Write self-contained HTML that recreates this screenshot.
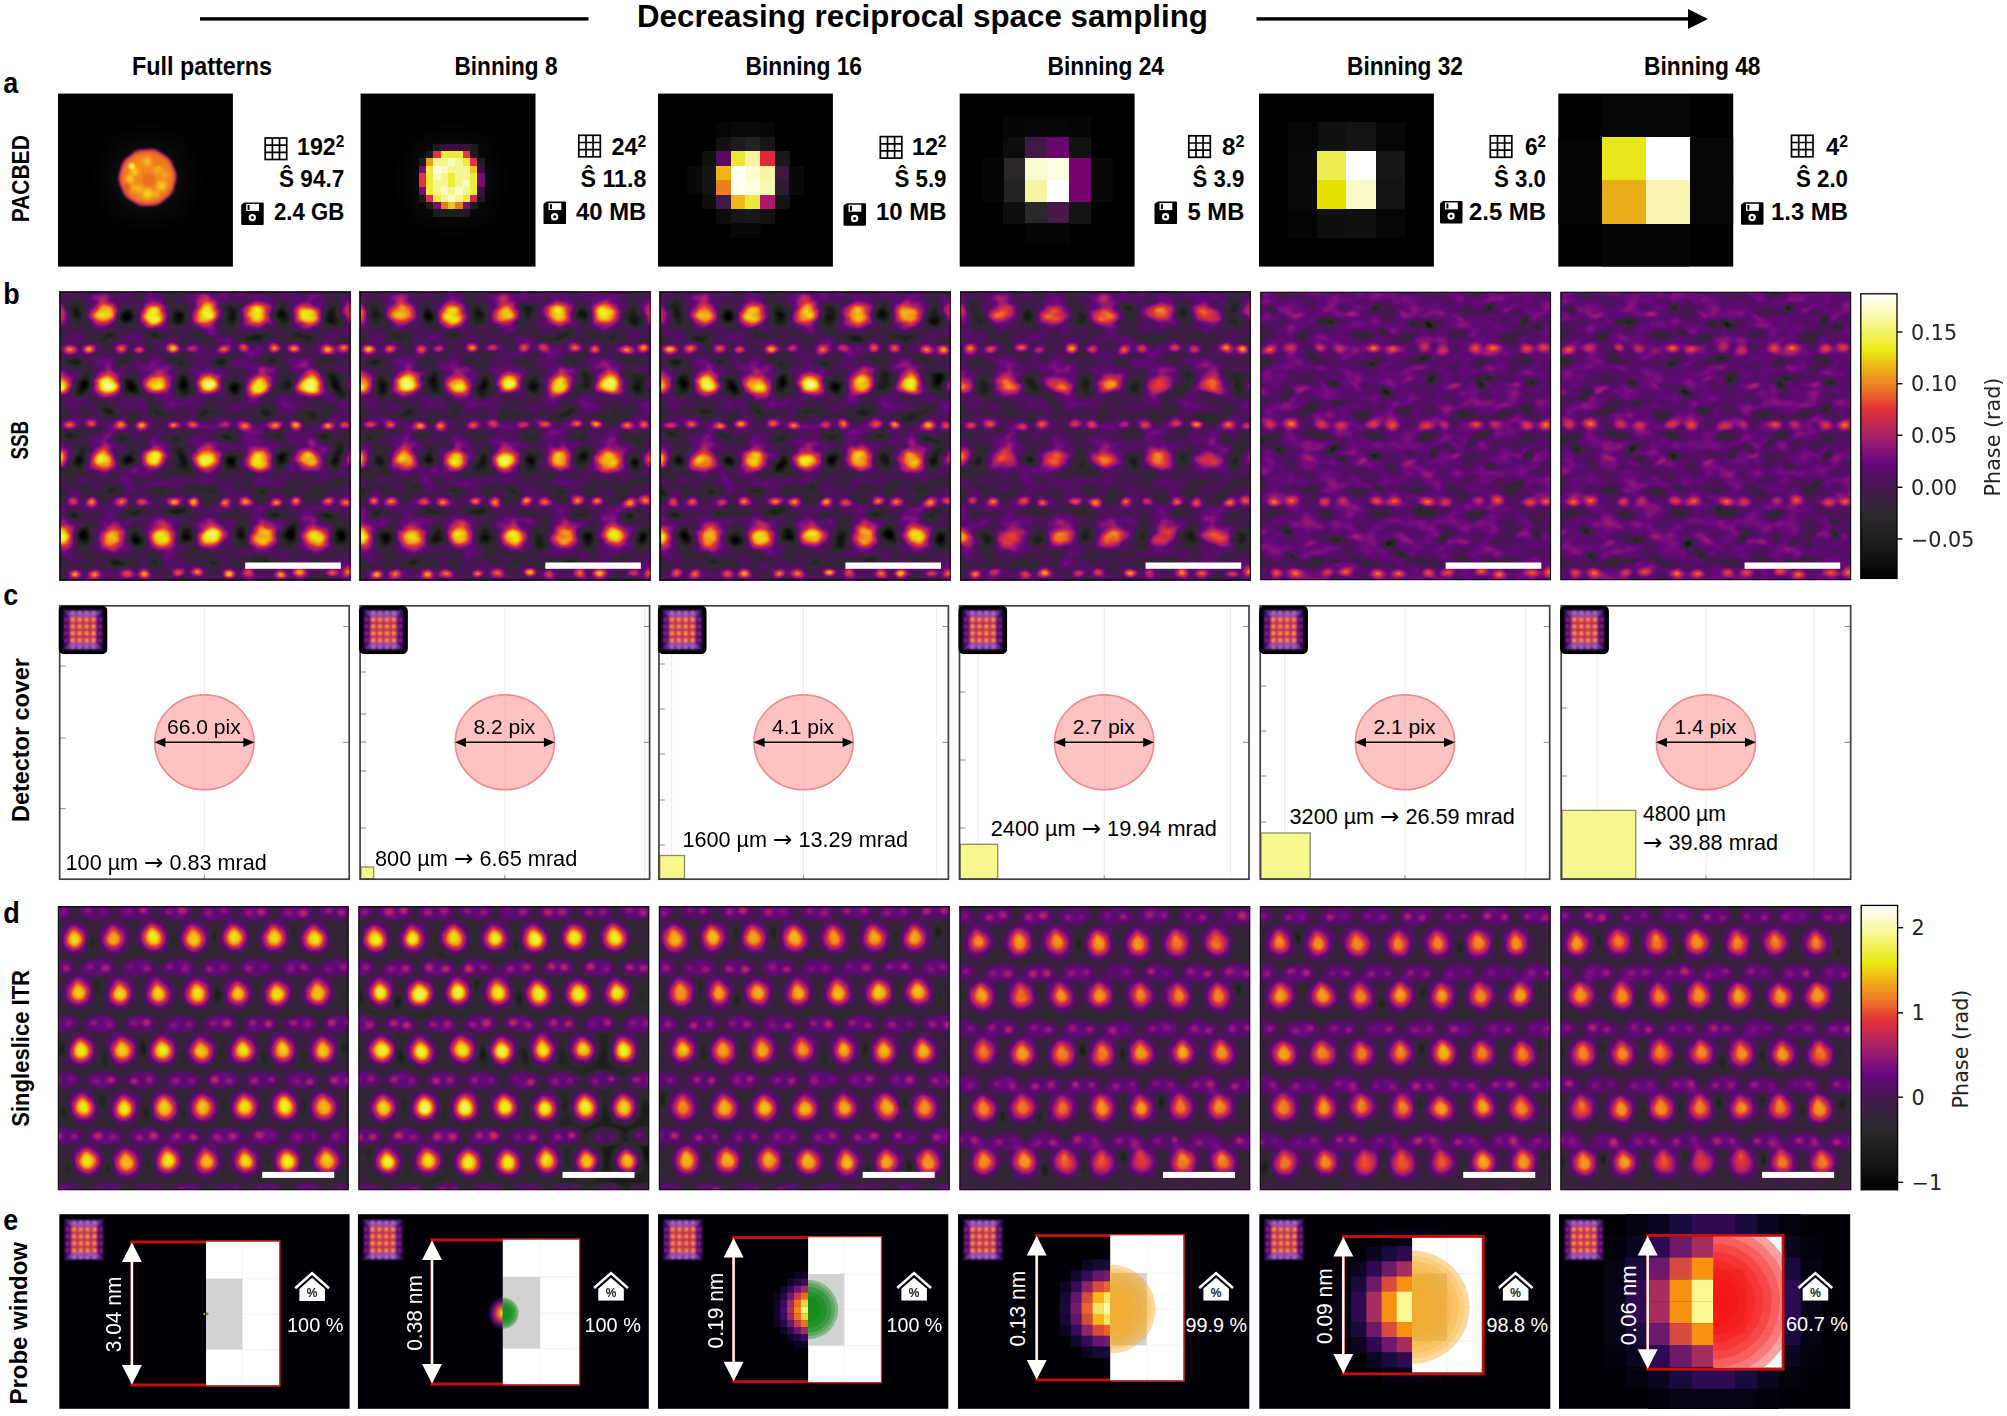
<!DOCTYPE html>
<html><head><meta charset="utf-8"><title>Figure</title>
<style>html,body{margin:0;padding:0;background:#fff}svg{display:block}</style></head>
<body>
<svg width="2007" height="1416" viewBox="0 0 2007 1416">
<defs>
<radialGradient id="gw"><stop offset="0" stop-color="#fff" stop-opacity="1"/><stop offset="0.15" stop-color="#fff" stop-opacity="0.93"/><stop offset="0.3" stop-color="#fff" stop-opacity="0.76"/><stop offset="0.45" stop-color="#fff" stop-opacity="0.54"/><stop offset="0.6" stop-color="#fff" stop-opacity="0.32"/><stop offset="0.75" stop-color="#fff" stop-opacity="0.15"/><stop offset="0.9" stop-color="#fff" stop-opacity="0.04"/><stop offset="1" stop-color="#fff" stop-opacity="0"/></radialGradient>
<radialGradient id="gk"><stop offset="0" stop-color="#000" stop-opacity="1"/><stop offset="0.15" stop-color="#000" stop-opacity="0.93"/><stop offset="0.3" stop-color="#000" stop-opacity="0.76"/><stop offset="0.45" stop-color="#000" stop-opacity="0.54"/><stop offset="0.6" stop-color="#000" stop-opacity="0.32"/><stop offset="0.75" stop-color="#000" stop-opacity="0.15"/><stop offset="0.9" stop-color="#000" stop-opacity="0.04"/><stop offset="1" stop-color="#000" stop-opacity="0"/></radialGradient>
<radialGradient id="gb"><stop offset="0" stop-color="#fff" stop-opacity="1"/><stop offset="0.2" stop-color="#fff" stop-opacity="0.97"/><stop offset="0.35" stop-color="#fff" stop-opacity="0.85"/><stop offset="0.5" stop-color="#fff" stop-opacity="0.6"/><stop offset="0.65" stop-color="#fff" stop-opacity="0.33"/><stop offset="0.8" stop-color="#fff" stop-opacity="0.13"/><stop offset="0.92" stop-color="#fff" stop-opacity="0.03"/><stop offset="1" stop-color="#fff" stop-opacity="0"/></radialGradient>
<radialGradient id="gh"><stop offset="0" stop-color="#fff" stop-opacity="1"/><stop offset="0.5" stop-color="#fff" stop-opacity="1"/><stop offset="0.62" stop-color="#fff" stop-opacity="0.9"/><stop offset="0.75" stop-color="#fff" stop-opacity="0.6"/><stop offset="0.88" stop-color="#fff" stop-opacity="0.22"/><stop offset="1" stop-color="#fff" stop-opacity="0"/></radialGradient>
<filter id="tb" x="-5%" y="-5%" width="110%" height="110%"><feGaussianBlur stdDeviation="0.85"/></filter>
<linearGradient id="tgv" x1="0" y1="0" x2="0" y2="1"><stop offset="0" stop-color="#1a0838"/><stop offset=".12" stop-color="#7a4ab0"/><stop offset=".26" stop-color="#b050b8"/><stop offset=".5" stop-color="#b84890"/><stop offset=".74" stop-color="#b050b8"/><stop offset=".88" stop-color="#7a4ab0"/><stop offset="1" stop-color="#1a0838"/></linearGradient>
<linearGradient id="tgh" x1="0" y1="0" x2="1" y2="0"><stop offset="0" stop-color="#12052c"/><stop offset=".5" stop-color="#4a0a72"/><stop offset="1" stop-color="#7a1680"/></linearGradient>
<linearGradient id="tgh2" x1="1" y1="0" x2="0" y2="0"><stop offset="0" stop-color="#12052c"/><stop offset=".5" stop-color="#4a0a72"/><stop offset="1" stop-color="#7a1680"/></linearGradient>
<symbol id="thumb" viewBox="0 0 49 49"><rect x="0" y="0" width="49" height="49" rx="5.5" fill="#000"/><g id="thin" filter="url(#tb)"><rect x="3" y="3" width="43" height="43" fill="url(#tgv)"/><path d="M3,3 L14,13 V36 L3,46 Z" fill="url(#tgh)"/><path d="M46,3 L35,13 V36 L46,46 Z" fill="url(#tgh2)"/><rect x="11.5" y="11.5" width="26" height="26" fill="#c42c54"/><rect x="12.6" y="5.7" width="3.4" height="3.4" fill="#d878d0" opacity="0.8"/><rect x="19.5" y="5.7" width="3.4" height="3.4" fill="#d878d0" opacity="0.8"/><rect x="26.4" y="5.7" width="3.4" height="3.4" fill="#d878d0" opacity="0.8"/><rect x="33.3" y="5.7" width="3.4" height="3.4" fill="#d878d0" opacity="0.8"/><rect x="5.8" y="12.7" width="3.2" height="3.2" fill="#b02c8c" opacity="0.8"/><rect x="12.5" y="12.5" width="3.5" height="3.5" fill="#ffa048" opacity="1"/><rect x="19.4" y="12.5" width="3.5" height="3.5" fill="#ffa048" opacity="1"/><rect x="26.3" y="12.5" width="3.5" height="3.5" fill="#ffa048" opacity="1"/><rect x="33.3" y="12.5" width="3.5" height="3.5" fill="#ffa048" opacity="1"/><rect x="40.3" y="12.7" width="3.2" height="3.2" fill="#b02c8c" opacity="0.8"/><rect x="5.8" y="19.6" width="3.2" height="3.2" fill="#b02c8c" opacity="0.8"/><rect x="12.5" y="19.4" width="3.5" height="3.5" fill="#ffa048" opacity="1"/><rect x="19.4" y="19.4" width="3.5" height="3.5" fill="#ffa048" opacity="1"/><rect x="26.3" y="19.4" width="3.5" height="3.5" fill="#ffa048" opacity="1"/><rect x="33.3" y="19.4" width="3.5" height="3.5" fill="#ffa048" opacity="1"/><rect x="40.3" y="19.6" width="3.2" height="3.2" fill="#b02c8c" opacity="0.8"/><rect x="5.8" y="26.5" width="3.2" height="3.2" fill="#b02c8c" opacity="0.8"/><rect x="12.5" y="26.3" width="3.5" height="3.5" fill="#ffa048" opacity="1"/><rect x="19.4" y="26.3" width="3.5" height="3.5" fill="#ffa048" opacity="1"/><rect x="26.3" y="26.3" width="3.5" height="3.5" fill="#ffa048" opacity="1"/><rect x="33.3" y="26.3" width="3.5" height="3.5" fill="#ffa048" opacity="1"/><rect x="40.3" y="26.5" width="3.2" height="3.2" fill="#b02c8c" opacity="0.8"/><rect x="5.8" y="33.4" width="3.2" height="3.2" fill="#b02c8c" opacity="0.8"/><rect x="12.5" y="33.3" width="3.5" height="3.5" fill="#ffa048" opacity="1"/><rect x="19.4" y="33.3" width="3.5" height="3.5" fill="#ffa048" opacity="1"/><rect x="26.3" y="33.3" width="3.5" height="3.5" fill="#ffa048" opacity="1"/><rect x="33.3" y="33.3" width="3.5" height="3.5" fill="#ffa048" opacity="1"/><rect x="40.3" y="33.4" width="3.2" height="3.2" fill="#b02c8c" opacity="0.8"/><rect x="12.6" y="40.2" width="3.4" height="3.4" fill="#d878d0" opacity="0.8"/><rect x="19.5" y="40.2" width="3.4" height="3.4" fill="#d878d0" opacity="0.8"/><rect x="26.4" y="40.2" width="3.4" height="3.4" fill="#d878d0" opacity="0.8"/><rect x="33.3" y="40.2" width="3.4" height="3.4" fill="#d878d0" opacity="0.8"/></g><rect x="1.8" y="1.8" width="45.4" height="45.4" rx="4" fill="none" stroke="#000" stroke-width="2.6"/><rect x="4" y="4" width="41" height="41" rx="2" fill="none" stroke="#0c0220" stroke-width="1.6" opacity=".65"/></symbol>
<symbol id="thumb2" viewBox="4 4 41 41" preserveAspectRatio="none"><use href="#thin"/><rect x="4.5" y="4.5" width="40" height="40" fill="none" stroke="#1a0838" stroke-width="1.6" opacity=".55"/></symbol>
<symbol id="house" viewBox="0 0 36.5 30"><path d="M1.2,17.2 L18.2,2.2 L35.3,17.2" fill="none" stroke="#fff" stroke-width="2.6" stroke-linejoin="miter"/><path d="M5.4,18 L18.2,6.8 L31.2,18 V30 H5.4 Z" fill="#fff"/><text x="18.3" y="26" font-family="'Liberation Sans', sans-serif" font-size="12" text-anchor="middle" fill="#000" stroke="#000" stroke-width=".25">%</text></symbol>
<radialGradient id="halo"><stop offset="0" stop-color="#fff" stop-opacity=".13"/><stop offset=".45" stop-color="#fff" stop-opacity=".05"/><stop offset="1" stop-color="#fff" stop-opacity="0"/></radialGradient>
<radialGradient id="disc1"><stop offset="0" stop-color="#ee801c"/><stop offset=".6" stop-color="#f4901c"/><stop offset=".85" stop-color="#f07a24"/><stop offset=".95" stop-color="#e8542e"/><stop offset="1" stop-color="#d03a48"/></radialGradient>
<radialGradient id="yb"><stop offset="0" stop-color="#f6e218" stop-opacity="1"/><stop offset=".45" stop-color="#f6cc1c" stop-opacity=".8"/><stop offset="1" stop-color="#f8a020" stop-opacity="0"/></radialGradient>
<filter id="b1" x="-20%" y="-20%" width="140%" height="140%"><feGaussianBlur stdDeviation="0.9"/></filter>
<filter id="fb0" filterUnits="userSpaceOnUse" x="0" y="0" width="293" height="290" color-interpolation-filters="sRGB"><feTurbulence type="fractalNoise" baseFrequency="0.05 0.075" numOctaves="2" seed="7" result="n"/><feColorMatrix in="n" type="matrix" values="0.34 0 0 0 0  0.34 0 0 0 0  0.34 0 0 0 0  0 0 0 0 1" result="ng"/><feComposite in="SourceGraphic" in2="ng" operator="arithmetic" k1="0" k2="1" k3="1" k4="-0.170" result="s"/><feComponentTransfer in="s"><feFuncR type="table" tableValues="0.000 0.024 0.047 0.071 0.094 0.110 0.127 0.143 0.159 0.177 0.199 0.221 0.243 0.279 0.315 0.355 0.398 0.455 0.522 0.588 0.652 0.714 0.775 0.837 0.889 0.906 0.922 0.934 0.938 0.941 0.934 0.926 0.918 0.930 0.943 0.955 0.968 0.977 0.985 0.992 1.000"/><feFuncG type="table" tableValues="0.000 0.024 0.047 0.071 0.094 0.109 0.124 0.138 0.153 0.162 0.147 0.132 0.118 0.095 0.072 0.053 0.038 0.048 0.075 0.101 0.125 0.144 0.162 0.181 0.215 0.309 0.403 0.493 0.573 0.652 0.740 0.829 0.918 0.930 0.943 0.955 0.968 0.977 0.985 0.992 1.000"/><feFuncB type="table" tableValues="0.000 0.024 0.047 0.071 0.094 0.110 0.127 0.143 0.159 0.179 0.211 0.243 0.275 0.324 0.373 0.425 0.480 0.489 0.467 0.445 0.411 0.361 0.310 0.260 0.215 0.191 0.166 0.143 0.119 0.096 0.084 0.073 0.063 0.191 0.319 0.448 0.576 0.690 0.793 0.897 1.000"/></feComponentTransfer></filter>
<filter id="fb1" filterUnits="userSpaceOnUse" x="0" y="0" width="293" height="290" color-interpolation-filters="sRGB"><feTurbulence type="fractalNoise" baseFrequency="0.05 0.075" numOctaves="2" seed="7" result="n"/><feColorMatrix in="n" type="matrix" values="0.33 0 0 0 0  0.33 0 0 0 0  0.33 0 0 0 0  0 0 0 0 1" result="ng"/><feComposite in="SourceGraphic" in2="ng" operator="arithmetic" k1="0" k2="1" k3="1" k4="-0.165" result="s"/><feComponentTransfer in="s"><feFuncR type="table" tableValues="0.000 0.024 0.047 0.071 0.094 0.110 0.127 0.143 0.159 0.177 0.199 0.221 0.243 0.279 0.315 0.355 0.398 0.455 0.522 0.588 0.652 0.714 0.775 0.837 0.889 0.906 0.922 0.934 0.938 0.941 0.934 0.926 0.918 0.930 0.943 0.955 0.968 0.977 0.985 0.992 1.000"/><feFuncG type="table" tableValues="0.000 0.024 0.047 0.071 0.094 0.109 0.124 0.138 0.153 0.162 0.147 0.132 0.118 0.095 0.072 0.053 0.038 0.048 0.075 0.101 0.125 0.144 0.162 0.181 0.215 0.309 0.403 0.493 0.573 0.652 0.740 0.829 0.918 0.930 0.943 0.955 0.968 0.977 0.985 0.992 1.000"/><feFuncB type="table" tableValues="0.000 0.024 0.047 0.071 0.094 0.110 0.127 0.143 0.159 0.179 0.211 0.243 0.275 0.324 0.373 0.425 0.480 0.489 0.467 0.445 0.411 0.361 0.310 0.260 0.215 0.191 0.166 0.143 0.119 0.096 0.084 0.073 0.063 0.191 0.319 0.448 0.576 0.690 0.793 0.897 1.000"/></feComponentTransfer></filter>
<filter id="fb2" filterUnits="userSpaceOnUse" x="0" y="0" width="293" height="290" color-interpolation-filters="sRGB"><feTurbulence type="fractalNoise" baseFrequency="0.05 0.075" numOctaves="2" seed="7" result="n"/><feColorMatrix in="n" type="matrix" values="0.34 0 0 0 0  0.34 0 0 0 0  0.34 0 0 0 0  0 0 0 0 1" result="ng"/><feComposite in="SourceGraphic" in2="ng" operator="arithmetic" k1="0" k2="1" k3="1" k4="-0.170" result="s"/><feComponentTransfer in="s"><feFuncR type="table" tableValues="0.000 0.024 0.047 0.071 0.094 0.110 0.127 0.143 0.159 0.177 0.199 0.221 0.243 0.279 0.315 0.355 0.398 0.455 0.522 0.588 0.652 0.714 0.775 0.837 0.889 0.906 0.922 0.934 0.938 0.941 0.934 0.926 0.918 0.930 0.943 0.955 0.968 0.977 0.985 0.992 1.000"/><feFuncG type="table" tableValues="0.000 0.024 0.047 0.071 0.094 0.109 0.124 0.138 0.153 0.162 0.147 0.132 0.118 0.095 0.072 0.053 0.038 0.048 0.075 0.101 0.125 0.144 0.162 0.181 0.215 0.309 0.403 0.493 0.573 0.652 0.740 0.829 0.918 0.930 0.943 0.955 0.968 0.977 0.985 0.992 1.000"/><feFuncB type="table" tableValues="0.000 0.024 0.047 0.071 0.094 0.110 0.127 0.143 0.159 0.179 0.211 0.243 0.275 0.324 0.373 0.425 0.480 0.489 0.467 0.445 0.411 0.361 0.310 0.260 0.215 0.191 0.166 0.143 0.119 0.096 0.084 0.073 0.063 0.191 0.319 0.448 0.576 0.690 0.793 0.897 1.000"/></feComponentTransfer></filter>
<filter id="fb3" filterUnits="userSpaceOnUse" x="0" y="0" width="293" height="290" color-interpolation-filters="sRGB"><feTurbulence type="fractalNoise" baseFrequency="0.05 0.075" numOctaves="2" seed="7" result="n"/><feColorMatrix in="n" type="matrix" values="0.32 0 0 0 0  0.32 0 0 0 0  0.32 0 0 0 0  0 0 0 0 1" result="ng"/><feComposite in="SourceGraphic" in2="ng" operator="arithmetic" k1="0" k2="1" k3="1" k4="-0.160" result="s"/><feComponentTransfer in="s"><feFuncR type="table" tableValues="0.000 0.024 0.047 0.071 0.094 0.110 0.127 0.143 0.159 0.177 0.199 0.221 0.243 0.279 0.315 0.355 0.398 0.455 0.522 0.588 0.652 0.714 0.775 0.837 0.889 0.906 0.922 0.934 0.938 0.941 0.934 0.926 0.918 0.930 0.943 0.955 0.968 0.977 0.985 0.992 1.000"/><feFuncG type="table" tableValues="0.000 0.024 0.047 0.071 0.094 0.109 0.124 0.138 0.153 0.162 0.147 0.132 0.118 0.095 0.072 0.053 0.038 0.048 0.075 0.101 0.125 0.144 0.162 0.181 0.215 0.309 0.403 0.493 0.573 0.652 0.740 0.829 0.918 0.930 0.943 0.955 0.968 0.977 0.985 0.992 1.000"/><feFuncB type="table" tableValues="0.000 0.024 0.047 0.071 0.094 0.110 0.127 0.143 0.159 0.179 0.211 0.243 0.275 0.324 0.373 0.425 0.480 0.489 0.467 0.445 0.411 0.361 0.310 0.260 0.215 0.191 0.166 0.143 0.119 0.096 0.084 0.073 0.063 0.191 0.319 0.448 0.576 0.690 0.793 0.897 1.000"/></feComponentTransfer></filter>
<filter id="fb4" filterUnits="userSpaceOnUse" x="0" y="0" width="293" height="290" color-interpolation-filters="sRGB"><feTurbulence type="fractalNoise" baseFrequency="0.05 0.075" numOctaves="2" seed="11" result="n"/><feColorMatrix in="n" type="matrix" values="0.25 0 0 0 0  0.25 0 0 0 0  0.25 0 0 0 0  0 0 0 0 1" result="ng"/><feComposite in="SourceGraphic" in2="ng" operator="arithmetic" k1="0" k2="1" k3="1" k4="-0.125" result="s"/><feComponentTransfer in="s"><feFuncR type="table" tableValues="0.000 0.024 0.047 0.071 0.094 0.110 0.127 0.143 0.159 0.177 0.199 0.221 0.243 0.279 0.315 0.355 0.398 0.455 0.522 0.588 0.652 0.714 0.775 0.837 0.889 0.906 0.922 0.934 0.938 0.941 0.934 0.926 0.918 0.930 0.943 0.955 0.968 0.977 0.985 0.992 1.000"/><feFuncG type="table" tableValues="0.000 0.024 0.047 0.071 0.094 0.109 0.124 0.138 0.153 0.162 0.147 0.132 0.118 0.095 0.072 0.053 0.038 0.048 0.075 0.101 0.125 0.144 0.162 0.181 0.215 0.309 0.403 0.493 0.573 0.652 0.740 0.829 0.918 0.930 0.943 0.955 0.968 0.977 0.985 0.992 1.000"/><feFuncB type="table" tableValues="0.000 0.024 0.047 0.071 0.094 0.110 0.127 0.143 0.159 0.179 0.211 0.243 0.275 0.324 0.373 0.425 0.480 0.489 0.467 0.445 0.411 0.361 0.310 0.260 0.215 0.191 0.166 0.143 0.119 0.096 0.084 0.073 0.063 0.191 0.319 0.448 0.576 0.690 0.793 0.897 1.000"/></feComponentTransfer></filter>
<filter id="fb5" filterUnits="userSpaceOnUse" x="0" y="0" width="293" height="290" color-interpolation-filters="sRGB"><feTurbulence type="fractalNoise" baseFrequency="0.05 0.075" numOctaves="2" seed="11" result="n"/><feColorMatrix in="n" type="matrix" values="0.25 0 0 0 0  0.25 0 0 0 0  0.25 0 0 0 0  0 0 0 0 1" result="ng"/><feComposite in="SourceGraphic" in2="ng" operator="arithmetic" k1="0" k2="1" k3="1" k4="-0.125" result="s"/><feComponentTransfer in="s"><feFuncR type="table" tableValues="0.000 0.024 0.047 0.071 0.094 0.110 0.127 0.143 0.159 0.177 0.199 0.221 0.243 0.279 0.315 0.355 0.398 0.455 0.522 0.588 0.652 0.714 0.775 0.837 0.889 0.906 0.922 0.934 0.938 0.941 0.934 0.926 0.918 0.930 0.943 0.955 0.968 0.977 0.985 0.992 1.000"/><feFuncG type="table" tableValues="0.000 0.024 0.047 0.071 0.094 0.109 0.124 0.138 0.153 0.162 0.147 0.132 0.118 0.095 0.072 0.053 0.038 0.048 0.075 0.101 0.125 0.144 0.162 0.181 0.215 0.309 0.403 0.493 0.573 0.652 0.740 0.829 0.918 0.930 0.943 0.955 0.968 0.977 0.985 0.992 1.000"/><feFuncB type="table" tableValues="0.000 0.024 0.047 0.071 0.094 0.110 0.127 0.143 0.159 0.179 0.211 0.243 0.275 0.324 0.373 0.425 0.480 0.489 0.467 0.445 0.411 0.361 0.310 0.260 0.215 0.191 0.166 0.143 0.119 0.096 0.084 0.073 0.063 0.191 0.319 0.448 0.576 0.690 0.793 0.897 1.000"/></feComponentTransfer></filter>
<linearGradient id="cb293" x1="0" y1="0" x2="0" y2="1"><stop offset="0.000" stop-color="#ffffff"/><stop offset="0.090" stop-color="#f8f8a0"/><stop offset="0.200" stop-color="#eaea10"/><stop offset="0.273" stop-color="#f0a818"/><stop offset="0.332" stop-color="#ee7826"/><stop offset="0.405" stop-color="#e23238"/><stop offset="0.510" stop-color="#a01e6e"/><stop offset="0.590" stop-color="#6a0880"/><stop offset="0.640" stop-color="#541064"/><stop offset="0.700" stop-color="#3e1e46"/><stop offset="0.780" stop-color="#2c2a2c"/><stop offset="0.900" stop-color="#181818"/><stop offset="1.000" stop-color="#000000"/></linearGradient>
<filter id="fd0" filterUnits="userSpaceOnUse" x="0" y="0" width="293" height="286" color-interpolation-filters="sRGB"><feTurbulence type="fractalNoise" baseFrequency="0.05" numOctaves="2" seed="21" result="n"/><feColorMatrix in="n" type="matrix" values="0.12 0 0 0 0  0.12 0 0 0 0  0.12 0 0 0 0  0 0 0 0 1" result="ng"/><feComposite in="SourceGraphic" in2="ng" operator="arithmetic" k1="0" k2="1" k3="1" k4="-0.060" result="s"/><feComponentTransfer in="s"><feFuncR type="table" tableValues="0.000 0.024 0.047 0.071 0.094 0.110 0.127 0.143 0.159 0.177 0.199 0.221 0.243 0.279 0.315 0.355 0.398 0.455 0.522 0.588 0.652 0.714 0.775 0.837 0.889 0.906 0.922 0.934 0.938 0.941 0.934 0.926 0.918 0.930 0.943 0.955 0.968 0.977 0.985 0.992 1.000"/><feFuncG type="table" tableValues="0.000 0.024 0.047 0.071 0.094 0.109 0.124 0.138 0.153 0.162 0.147 0.132 0.118 0.095 0.072 0.053 0.038 0.048 0.075 0.101 0.125 0.144 0.162 0.181 0.215 0.309 0.403 0.493 0.573 0.652 0.740 0.829 0.918 0.930 0.943 0.955 0.968 0.977 0.985 0.992 1.000"/><feFuncB type="table" tableValues="0.000 0.024 0.047 0.071 0.094 0.110 0.127 0.143 0.159 0.179 0.211 0.243 0.275 0.324 0.373 0.425 0.480 0.489 0.467 0.445 0.411 0.361 0.310 0.260 0.215 0.191 0.166 0.143 0.119 0.096 0.084 0.073 0.063 0.191 0.319 0.448 0.576 0.690 0.793 0.897 1.000"/></feComponentTransfer></filter>
<filter id="fd1" filterUnits="userSpaceOnUse" x="0" y="0" width="293" height="286" color-interpolation-filters="sRGB"><feTurbulence type="fractalNoise" baseFrequency="0.05" numOctaves="2" seed="22" result="n"/><feColorMatrix in="n" type="matrix" values="0.13 0 0 0 0  0.13 0 0 0 0  0.13 0 0 0 0  0 0 0 0 1" result="ng"/><feComposite in="SourceGraphic" in2="ng" operator="arithmetic" k1="0" k2="1" k3="1" k4="-0.065" result="s"/><feComponentTransfer in="s"><feFuncR type="table" tableValues="0.000 0.024 0.047 0.071 0.094 0.110 0.127 0.143 0.159 0.177 0.199 0.221 0.243 0.279 0.315 0.355 0.398 0.455 0.522 0.588 0.652 0.714 0.775 0.837 0.889 0.906 0.922 0.934 0.938 0.941 0.934 0.926 0.918 0.930 0.943 0.955 0.968 0.977 0.985 0.992 1.000"/><feFuncG type="table" tableValues="0.000 0.024 0.047 0.071 0.094 0.109 0.124 0.138 0.153 0.162 0.147 0.132 0.118 0.095 0.072 0.053 0.038 0.048 0.075 0.101 0.125 0.144 0.162 0.181 0.215 0.309 0.403 0.493 0.573 0.652 0.740 0.829 0.918 0.930 0.943 0.955 0.968 0.977 0.985 0.992 1.000"/><feFuncB type="table" tableValues="0.000 0.024 0.047 0.071 0.094 0.110 0.127 0.143 0.159 0.179 0.211 0.243 0.275 0.324 0.373 0.425 0.480 0.489 0.467 0.445 0.411 0.361 0.310 0.260 0.215 0.191 0.166 0.143 0.119 0.096 0.084 0.073 0.063 0.191 0.319 0.448 0.576 0.690 0.793 0.897 1.000"/></feComponentTransfer></filter>
<filter id="fd2" filterUnits="userSpaceOnUse" x="0" y="0" width="293" height="286" color-interpolation-filters="sRGB"><feTurbulence type="fractalNoise" baseFrequency="0.05" numOctaves="2" seed="23" result="n"/><feColorMatrix in="n" type="matrix" values="0.12 0 0 0 0  0.12 0 0 0 0  0.12 0 0 0 0  0 0 0 0 1" result="ng"/><feComposite in="SourceGraphic" in2="ng" operator="arithmetic" k1="0" k2="1" k3="1" k4="-0.060" result="s"/><feComponentTransfer in="s"><feFuncR type="table" tableValues="0.000 0.024 0.047 0.071 0.094 0.110 0.127 0.143 0.159 0.177 0.199 0.221 0.243 0.279 0.315 0.355 0.398 0.455 0.522 0.588 0.652 0.714 0.775 0.837 0.889 0.906 0.922 0.934 0.938 0.941 0.934 0.926 0.918 0.930 0.943 0.955 0.968 0.977 0.985 0.992 1.000"/><feFuncG type="table" tableValues="0.000 0.024 0.047 0.071 0.094 0.109 0.124 0.138 0.153 0.162 0.147 0.132 0.118 0.095 0.072 0.053 0.038 0.048 0.075 0.101 0.125 0.144 0.162 0.181 0.215 0.309 0.403 0.493 0.573 0.652 0.740 0.829 0.918 0.930 0.943 0.955 0.968 0.977 0.985 0.992 1.000"/><feFuncB type="table" tableValues="0.000 0.024 0.047 0.071 0.094 0.110 0.127 0.143 0.159 0.179 0.211 0.243 0.275 0.324 0.373 0.425 0.480 0.489 0.467 0.445 0.411 0.361 0.310 0.260 0.215 0.191 0.166 0.143 0.119 0.096 0.084 0.073 0.063 0.191 0.319 0.448 0.576 0.690 0.793 0.897 1.000"/></feComponentTransfer></filter>
<filter id="fd3" filterUnits="userSpaceOnUse" x="0" y="0" width="293" height="286" color-interpolation-filters="sRGB"><feTurbulence type="fractalNoise" baseFrequency="0.05" numOctaves="2" seed="24" result="n"/><feColorMatrix in="n" type="matrix" values="0.12 0 0 0 0  0.12 0 0 0 0  0.12 0 0 0 0  0 0 0 0 1" result="ng"/><feComposite in="SourceGraphic" in2="ng" operator="arithmetic" k1="0" k2="1" k3="1" k4="-0.060" result="s"/><feComponentTransfer in="s"><feFuncR type="table" tableValues="0.000 0.024 0.047 0.071 0.094 0.110 0.127 0.143 0.159 0.177 0.199 0.221 0.243 0.279 0.315 0.355 0.398 0.455 0.522 0.588 0.652 0.714 0.775 0.837 0.889 0.906 0.922 0.934 0.938 0.941 0.934 0.926 0.918 0.930 0.943 0.955 0.968 0.977 0.985 0.992 1.000"/><feFuncG type="table" tableValues="0.000 0.024 0.047 0.071 0.094 0.109 0.124 0.138 0.153 0.162 0.147 0.132 0.118 0.095 0.072 0.053 0.038 0.048 0.075 0.101 0.125 0.144 0.162 0.181 0.215 0.309 0.403 0.493 0.573 0.652 0.740 0.829 0.918 0.930 0.943 0.955 0.968 0.977 0.985 0.992 1.000"/><feFuncB type="table" tableValues="0.000 0.024 0.047 0.071 0.094 0.110 0.127 0.143 0.159 0.179 0.211 0.243 0.275 0.324 0.373 0.425 0.480 0.489 0.467 0.445 0.411 0.361 0.310 0.260 0.215 0.191 0.166 0.143 0.119 0.096 0.084 0.073 0.063 0.191 0.319 0.448 0.576 0.690 0.793 0.897 1.000"/></feComponentTransfer></filter>
<filter id="fd4" filterUnits="userSpaceOnUse" x="0" y="0" width="293" height="286" color-interpolation-filters="sRGB"><feTurbulence type="fractalNoise" baseFrequency="0.05" numOctaves="2" seed="25" result="n"/><feColorMatrix in="n" type="matrix" values="0.12 0 0 0 0  0.12 0 0 0 0  0.12 0 0 0 0  0 0 0 0 1" result="ng"/><feComposite in="SourceGraphic" in2="ng" operator="arithmetic" k1="0" k2="1" k3="1" k4="-0.060" result="s"/><feComponentTransfer in="s"><feFuncR type="table" tableValues="0.000 0.024 0.047 0.071 0.094 0.110 0.127 0.143 0.159 0.177 0.199 0.221 0.243 0.279 0.315 0.355 0.398 0.455 0.522 0.588 0.652 0.714 0.775 0.837 0.889 0.906 0.922 0.934 0.938 0.941 0.934 0.926 0.918 0.930 0.943 0.955 0.968 0.977 0.985 0.992 1.000"/><feFuncG type="table" tableValues="0.000 0.024 0.047 0.071 0.094 0.109 0.124 0.138 0.153 0.162 0.147 0.132 0.118 0.095 0.072 0.053 0.038 0.048 0.075 0.101 0.125 0.144 0.162 0.181 0.215 0.309 0.403 0.493 0.573 0.652 0.740 0.829 0.918 0.930 0.943 0.955 0.968 0.977 0.985 0.992 1.000"/><feFuncB type="table" tableValues="0.000 0.024 0.047 0.071 0.094 0.110 0.127 0.143 0.159 0.179 0.211 0.243 0.275 0.324 0.373 0.425 0.480 0.489 0.467 0.445 0.411 0.361 0.310 0.260 0.215 0.191 0.166 0.143 0.119 0.096 0.084 0.073 0.063 0.191 0.319 0.448 0.576 0.690 0.793 0.897 1.000"/></feComponentTransfer></filter>
<filter id="fd5" filterUnits="userSpaceOnUse" x="0" y="0" width="293" height="286" color-interpolation-filters="sRGB"><feTurbulence type="fractalNoise" baseFrequency="0.05" numOctaves="2" seed="26" result="n"/><feColorMatrix in="n" type="matrix" values="0.12 0 0 0 0  0.12 0 0 0 0  0.12 0 0 0 0  0 0 0 0 1" result="ng"/><feComposite in="SourceGraphic" in2="ng" operator="arithmetic" k1="0" k2="1" k3="1" k4="-0.060" result="s"/><feComponentTransfer in="s"><feFuncR type="table" tableValues="0.000 0.024 0.047 0.071 0.094 0.110 0.127 0.143 0.159 0.177 0.199 0.221 0.243 0.279 0.315 0.355 0.398 0.455 0.522 0.588 0.652 0.714 0.775 0.837 0.889 0.906 0.922 0.934 0.938 0.941 0.934 0.926 0.918 0.930 0.943 0.955 0.968 0.977 0.985 0.992 1.000"/><feFuncG type="table" tableValues="0.000 0.024 0.047 0.071 0.094 0.109 0.124 0.138 0.153 0.162 0.147 0.132 0.118 0.095 0.072 0.053 0.038 0.048 0.075 0.101 0.125 0.144 0.162 0.181 0.215 0.309 0.403 0.493 0.573 0.652 0.740 0.829 0.918 0.930 0.943 0.955 0.968 0.977 0.985 0.992 1.000"/><feFuncB type="table" tableValues="0.000 0.024 0.047 0.071 0.094 0.110 0.127 0.143 0.159 0.179 0.211 0.243 0.275 0.324 0.373 0.425 0.480 0.489 0.467 0.445 0.411 0.361 0.310 0.260 0.215 0.191 0.166 0.143 0.119 0.096 0.084 0.073 0.063 0.191 0.319 0.448 0.576 0.690 0.793 0.897 1.000"/></feComponentTransfer></filter>
<linearGradient id="cb905" x1="0" y1="0" x2="0" y2="1"><stop offset="0.000" stop-color="#ffffff"/><stop offset="0.090" stop-color="#f8f8a0"/><stop offset="0.200" stop-color="#eaea10"/><stop offset="0.273" stop-color="#f0a818"/><stop offset="0.332" stop-color="#ee7826"/><stop offset="0.405" stop-color="#e23238"/><stop offset="0.510" stop-color="#a01e6e"/><stop offset="0.590" stop-color="#6a0880"/><stop offset="0.640" stop-color="#541064"/><stop offset="0.700" stop-color="#3e1e46"/><stop offset="0.780" stop-color="#2c2a2c"/><stop offset="0.900" stop-color="#181818"/><stop offset="1.000" stop-color="#000000"/></linearGradient>
<radialGradient id="pr2"><stop offset="0" stop-color="#fcffa4"/><stop offset=".18" stop-color="#fca50a"/><stop offset=".36" stop-color="#dd513a"/><stop offset=".55" stop-color="#932667"/><stop offset=".75" stop-color="#420a68"/><stop offset="1" stop-color="#000004"/></radialGradient>
</defs>
<rect width="2007" height="1416" fill="#fff"/>
<rect x="200" y="17.2" width="388.5" height="3.4" fill="#000"/>
<rect x="1256.5" y="17.2" width="436" height="3.4" fill="#000"/>
<path d="M1688,9 L1708,19 L1688,29 Z" fill="#000"/>
<text x="922.5" y="27.3" font-family="'Liberation Sans', sans-serif" font-size="32" font-weight="bold" text-anchor="middle" fill="#000" textLength="571.0" lengthAdjust="spacingAndGlyphs">Decreasing reciprocal space sampling</text>
<text x="132.0" y="75.3" font-family="'Liberation Sans', sans-serif" font-size="25" font-weight="bold" text-anchor="start" fill="#000" textLength="140.0" lengthAdjust="spacingAndGlyphs">Full patterns</text>
<text x="454.5" y="75.3" font-family="'Liberation Sans', sans-serif" font-size="25" font-weight="bold" text-anchor="start" fill="#000" textLength="103.0" lengthAdjust="spacingAndGlyphs">Binning 8</text>
<text x="745.5" y="75.3" font-family="'Liberation Sans', sans-serif" font-size="25" font-weight="bold" text-anchor="start" fill="#000" textLength="116.5" lengthAdjust="spacingAndGlyphs">Binning 16</text>
<text x="1047.5" y="75.3" font-family="'Liberation Sans', sans-serif" font-size="25" font-weight="bold" text-anchor="start" fill="#000" textLength="116.5" lengthAdjust="spacingAndGlyphs">Binning 24</text>
<text x="1347.0" y="75.3" font-family="'Liberation Sans', sans-serif" font-size="25" font-weight="bold" text-anchor="start" fill="#000" textLength="116.0" lengthAdjust="spacingAndGlyphs">Binning 32</text>
<text x="1644.0" y="75.3" font-family="'Liberation Sans', sans-serif" font-size="25" font-weight="bold" text-anchor="start" fill="#000" textLength="116.5" lengthAdjust="spacingAndGlyphs">Binning 48</text>
<text x="3.2" y="93.3" font-family="'Liberation Sans', sans-serif" font-size="30" font-weight="bold" text-anchor="start" fill="#000" textLength="15.0" lengthAdjust="spacingAndGlyphs">a</text>
<text x="3.2" y="304.0" font-family="'Liberation Sans', sans-serif" font-size="30" font-weight="bold" text-anchor="start" fill="#000" textLength="16.5" lengthAdjust="spacingAndGlyphs">b</text>
<text x="3.2" y="605.0" font-family="'Liberation Sans', sans-serif" font-size="30" font-weight="bold" text-anchor="start" fill="#000" textLength="15.0" lengthAdjust="spacingAndGlyphs">c</text>
<text x="3.2" y="922.8" font-family="'Liberation Sans', sans-serif" font-size="30" font-weight="bold" text-anchor="start" fill="#000" textLength="16.5" lengthAdjust="spacingAndGlyphs">d</text>
<text x="3.2" y="1230.3" font-family="'Liberation Sans', sans-serif" font-size="30" font-weight="bold" text-anchor="start" fill="#000" textLength="15.0" lengthAdjust="spacingAndGlyphs">e</text>
<text x="29.2" y="222.3" font-family="'Liberation Sans', sans-serif" font-size="24" font-weight="bold" text-anchor="start" fill="#000" textLength="87.1" lengthAdjust="spacingAndGlyphs" transform="rotate(-90 29.2 222.3)">PACBED</text>
<text x="28.2" y="459.6" font-family="'Liberation Sans', sans-serif" font-size="24" font-weight="bold" text-anchor="start" fill="#000" textLength="38.6" lengthAdjust="spacingAndGlyphs" transform="rotate(-90 28.2 459.6)">SSB</text>
<text x="28.6" y="822.0" font-family="'Liberation Sans', sans-serif" font-size="24" font-weight="bold" text-anchor="start" fill="#000" textLength="164.0" lengthAdjust="spacingAndGlyphs" transform="rotate(-90 28.6 822.0)">Detector cover</text>
<text x="28.6" y="1126.7" font-family="'Liberation Sans', sans-serif" font-size="24" font-weight="bold" text-anchor="start" fill="#000" textLength="156.7" lengthAdjust="spacingAndGlyphs" transform="rotate(-90 28.6 1126.7)">Singleslice ITR</text>
<text x="26.5" y="1404.5" font-family="'Liberation Sans', sans-serif" font-size="24" font-weight="bold" text-anchor="start" fill="#000" textLength="162.5" lengthAdjust="spacingAndGlyphs" transform="rotate(-90 26.5 1404.5)">Probe window</text>
<rect x="58.0" y="93.6" width="174.9" height="173" fill="#000"/>
<rect x="360.6" y="93.6" width="174.9" height="173" fill="#000"/>
<rect x="658.0" y="93.6" width="174.9" height="173" fill="#000"/>
<rect x="959.7" y="93.6" width="174.9" height="173" fill="#000"/>
<rect x="1259.0" y="93.6" width="174.9" height="173" fill="#000"/>
<rect x="1558.3" y="93.6" width="174.9" height="173" fill="#000"/>
<circle cx="147.5" cy="177.6" r="58" fill="url(#halo)"/>
<g filter="url(#b1)">
<polygon points="177.0,177.6 176.8,179.1 176.5,180.6 176.1,182.1 175.8,183.6 175.4,185.1 175.0,186.5 174.6,188.0 174.2,189.5 173.7,190.9 173.1,192.4 172.3,193.7 171.4,194.9 170.3,196.1 169.2,197.1 168.0,198.1 166.8,199.1 165.7,200.0 164.5,201.0 163.3,202.0 162.1,202.9 160.8,203.8 159.5,204.6 158.1,205.2 156.6,205.6 155.1,206.0 153.6,206.1 152.0,206.2 150.5,206.3 149.0,206.4 147.5,206.5 146.0,206.6 144.4,206.7 142.9,206.6 141.4,206.5 139.9,206.1 138.4,205.6 137.0,205.0 135.6,204.3 134.3,203.4 133.1,202.6 131.8,201.8 130.5,201.0 129.2,200.2 127.9,199.3 126.7,198.4 125.6,197.3 124.5,196.2 123.6,194.9 122.9,193.6 122.2,192.2 121.7,190.8 121.1,189.3 120.6,187.9 120.0,186.5 119.4,185.1 118.9,183.7 118.5,182.2 118.1,180.7 118.0,179.1 118.0,177.6 118.2,176.1 118.5,174.6 118.9,173.1 119.2,171.6 119.6,170.1 120.0,168.7 120.4,167.2 120.8,165.7 121.3,164.3 121.9,162.8 122.7,161.5 123.6,160.3 124.7,159.1 125.8,158.1 127.0,157.1 128.2,156.1 129.3,155.2 130.5,154.2 131.7,153.2 132.9,152.3 134.2,151.4 135.5,150.6 136.9,150.0 138.4,149.6 139.9,149.2 141.4,149.1 143.0,149.0 144.5,148.9 146.0,148.8 147.5,148.7 149.0,148.6 150.6,148.5 152.1,148.6 153.6,148.7 155.1,149.1 156.6,149.6 158.0,150.2 159.4,150.9 160.7,151.8 161.9,152.6 163.2,153.4 164.5,154.2 165.8,155.0 167.1,155.9 168.3,156.8 169.4,157.9 170.5,159.0 171.4,160.3 172.1,161.6 172.8,163.0 173.3,164.4 173.9,165.9 174.4,167.3 175.0,168.7 175.6,170.1 176.1,171.5 176.5,173.0 176.9,174.5 177.0,176.1" fill="#7c1668"/>
<polygon points="175.4,177.6 175.2,179.1 174.9,180.5 174.6,181.9 174.2,183.3 173.8,184.7 173.5,186.0 173.1,187.4 172.7,188.8 172.3,190.2 171.7,191.6 170.9,192.8 170.1,194.0 169.1,195.1 168.0,196.1 166.9,197.0 165.8,197.9 164.6,198.8 163.6,199.7 162.4,200.6 161.3,201.5 160.1,202.4 158.9,203.1 157.5,203.7 156.1,204.1 154.7,204.4 153.2,204.6 151.8,204.7 150.4,204.7 148.9,204.8 147.5,204.9 146.1,205.0 144.6,205.1 143.2,205.1 141.7,204.9 140.3,204.6 138.9,204.1 137.6,203.5 136.3,202.8 135.1,202.0 133.9,201.2 132.7,200.5 131.4,199.7 130.2,198.9 129.0,198.1 127.8,197.3 126.8,196.3 125.8,195.2 124.9,194.0 124.2,192.7 123.6,191.4 123.1,190.0 122.6,188.7 122.1,187.4 121.5,186.0 121.0,184.7 120.5,183.3 120.0,181.9 119.7,180.5 119.6,179.1 119.6,177.6 119.8,176.1 120.1,174.7 120.4,173.3 120.8,171.9 121.2,170.5 121.5,169.2 121.9,167.8 122.3,166.4 122.7,165.0 123.3,163.6 124.1,162.4 124.9,161.2 125.9,160.1 127.0,159.1 128.1,158.2 129.2,157.3 130.4,156.4 131.4,155.5 132.6,154.6 133.7,153.7 134.9,152.8 136.1,152.1 137.5,151.5 138.9,151.1 140.3,150.8 141.8,150.6 143.2,150.5 144.6,150.5 146.1,150.4 147.5,150.3 148.9,150.2 150.4,150.1 151.8,150.1 153.3,150.3 154.7,150.6 156.1,151.1 157.4,151.7 158.7,152.4 159.9,153.2 161.1,154.0 162.3,154.7 163.6,155.5 164.8,156.3 166.0,157.1 167.2,157.9 168.2,158.9 169.2,160.0 170.1,161.2 170.8,162.5 171.4,163.8 171.9,165.2 172.4,166.5 172.9,167.8 173.5,169.2 174.0,170.5 174.5,171.9 175.0,173.3 175.3,174.7 175.4,176.1" fill="url(#disc1)"/>
<circle cx="134.5" cy="172.0" r="6" fill="url(#yb)" opacity="0.95"/>
<circle cx="130.0" cy="178.7" r="6" fill="url(#yb)" opacity="0.9"/>
<circle cx="147.5" cy="194.0" r="8" fill="url(#yb)" opacity="1"/>
<circle cx="161.7" cy="186.0" r="7" fill="url(#yb)" opacity="0.9"/>
<circle cx="147.5" cy="161.7" r="6" fill="url(#yb)" opacity="0.7"/>
<circle cx="157.5" cy="169.6" r="6" fill="url(#yb)" opacity="0.5"/>
<circle cx="138.5" cy="188.6" r="6" fill="url(#yb)" opacity="0.6"/>
<circle cx="155.5" cy="194.6" r="5" fill="url(#yb)" opacity="0.5"/>
<circle cx="132.5" cy="187.6" r="5" fill="url(#yb)" opacity="0.5"/>
<circle cx="164.5" cy="174.6" r="5" fill="url(#yb)" opacity="0.4"/>
<circle cx="149.0" cy="180.1" r="7" fill="#e45c20" opacity=".55"/>
<circle cx="156.5" cy="161.6" r="5" fill="#e45c20" opacity=".4"/>
<circle cx="127.5" cy="187.6" r="4" fill="#e04828" opacity=".5"/>
<circle cx="131.7" cy="166.2" r="2.6" fill="#ffff58"/>
</g>
<circle cx="451.7" cy="180.1" r="60" fill="url(#halo)"/>
<svg x="360.6" y="93.6" width="174.9" height="173">
<rect x="72.88" y="50.46" width="7.79" height="7.71" fill="#1c1c1c" shape-rendering="crispEdges"/>
<rect x="80.16" y="50.46" width="7.79" height="7.71" fill="#3a1040" shape-rendering="crispEdges"/>
<rect x="87.45" y="50.46" width="7.79" height="7.71" fill="#3a1040" shape-rendering="crispEdges"/>
<rect x="94.74" y="50.46" width="7.79" height="7.71" fill="#3a1040" shape-rendering="crispEdges"/>
<rect x="102.03" y="50.46" width="7.79" height="7.71" fill="#3a1040" shape-rendering="crispEdges"/>
<rect x="109.31" y="50.46" width="7.79" height="7.71" fill="#1c1c1c" shape-rendering="crispEdges"/>
<rect x="65.59" y="57.67" width="7.79" height="7.71" fill="#1c1c1c" shape-rendering="crispEdges"/>
<rect x="72.88" y="57.67" width="7.79" height="7.71" fill="#e03444" shape-rendering="crispEdges"/>
<rect x="80.16" y="57.67" width="7.79" height="7.71" fill="#ecec38" shape-rendering="crispEdges"/>
<rect x="87.45" y="57.67" width="7.79" height="7.71" fill="#ecec38" shape-rendering="crispEdges"/>
<rect x="94.74" y="57.67" width="7.79" height="7.71" fill="#ecec38" shape-rendering="crispEdges"/>
<rect x="102.03" y="57.67" width="7.79" height="7.71" fill="#e03444" shape-rendering="crispEdges"/>
<rect x="109.31" y="57.67" width="7.79" height="7.71" fill="#1c1c1c" shape-rendering="crispEdges"/>
<rect x="58.30" y="64.88" width="7.79" height="7.71" fill="#1c1c1c" shape-rendering="crispEdges"/>
<rect x="65.59" y="64.88" width="7.79" height="7.71" fill="#f0a018" shape-rendering="crispEdges"/>
<rect x="72.88" y="64.88" width="7.79" height="7.71" fill="#f6f690" shape-rendering="crispEdges"/>
<rect x="80.16" y="64.88" width="7.79" height="7.71" fill="#f6f690" shape-rendering="crispEdges"/>
<rect x="87.45" y="64.88" width="7.79" height="7.71" fill="#fbfbc0" shape-rendering="crispEdges"/>
<rect x="94.74" y="64.88" width="7.79" height="7.71" fill="#f6f690" shape-rendering="crispEdges"/>
<rect x="102.03" y="64.88" width="7.79" height="7.71" fill="#ecec38" shape-rendering="crispEdges"/>
<rect x="109.31" y="64.88" width="7.79" height="7.71" fill="#e03444" shape-rendering="crispEdges"/>
<rect x="116.60" y="64.88" width="7.79" height="7.71" fill="#1c1c1c" shape-rendering="crispEdges"/>
<rect x="58.30" y="72.08" width="7.79" height="7.71" fill="#7a0a70" shape-rendering="crispEdges"/>
<rect x="65.59" y="72.08" width="7.79" height="7.71" fill="#ecec38" shape-rendering="crispEdges"/>
<rect x="72.88" y="72.08" width="7.79" height="7.71" fill="#ffffe8" shape-rendering="crispEdges"/>
<rect x="80.16" y="72.08" width="7.79" height="7.71" fill="#fbfbc0" shape-rendering="crispEdges"/>
<rect x="87.45" y="72.08" width="7.79" height="7.71" fill="#f6f690" shape-rendering="crispEdges"/>
<rect x="94.74" y="72.08" width="7.79" height="7.71" fill="#f6f690" shape-rendering="crispEdges"/>
<rect x="102.03" y="72.08" width="7.79" height="7.71" fill="#f6f690" shape-rendering="crispEdges"/>
<rect x="109.31" y="72.08" width="7.79" height="7.71" fill="#f0c418" shape-rendering="crispEdges"/>
<rect x="116.60" y="72.08" width="7.79" height="7.71" fill="#3a1040" shape-rendering="crispEdges"/>
<rect x="58.30" y="79.29" width="7.79" height="7.71" fill="#e03444" shape-rendering="crispEdges"/>
<rect x="65.59" y="79.29" width="7.79" height="7.71" fill="#ecec38" shape-rendering="crispEdges"/>
<rect x="72.88" y="79.29" width="7.79" height="7.71" fill="#fbfbc0" shape-rendering="crispEdges"/>
<rect x="80.16" y="79.29" width="7.79" height="7.71" fill="#f6f690" shape-rendering="crispEdges"/>
<rect x="87.45" y="79.29" width="7.79" height="7.71" fill="#ecec38" shape-rendering="crispEdges"/>
<rect x="94.74" y="79.29" width="7.79" height="7.71" fill="#f6f690" shape-rendering="crispEdges"/>
<rect x="102.03" y="79.29" width="7.79" height="7.71" fill="#f6f690" shape-rendering="crispEdges"/>
<rect x="109.31" y="79.29" width="7.79" height="7.71" fill="#ecec38" shape-rendering="crispEdges"/>
<rect x="116.60" y="79.29" width="7.79" height="7.71" fill="#7a0a70" shape-rendering="crispEdges"/>
<rect x="58.30" y="86.50" width="7.79" height="7.71" fill="#e03444" shape-rendering="crispEdges"/>
<rect x="65.59" y="86.50" width="7.79" height="7.71" fill="#ecec38" shape-rendering="crispEdges"/>
<rect x="72.88" y="86.50" width="7.79" height="7.71" fill="#f6f690" shape-rendering="crispEdges"/>
<rect x="80.16" y="86.50" width="7.79" height="7.71" fill="#f6f690" shape-rendering="crispEdges"/>
<rect x="87.45" y="86.50" width="7.79" height="7.71" fill="#ecec38" shape-rendering="crispEdges"/>
<rect x="94.74" y="86.50" width="7.79" height="7.71" fill="#f6f690" shape-rendering="crispEdges"/>
<rect x="102.03" y="86.50" width="7.79" height="7.71" fill="#fbfbc0" shape-rendering="crispEdges"/>
<rect x="109.31" y="86.50" width="7.79" height="7.71" fill="#ecec38" shape-rendering="crispEdges"/>
<rect x="116.60" y="86.50" width="7.79" height="7.71" fill="#7a0a70" shape-rendering="crispEdges"/>
<rect x="58.30" y="93.71" width="7.79" height="7.71" fill="#7a0a70" shape-rendering="crispEdges"/>
<rect x="65.59" y="93.71" width="7.79" height="7.71" fill="#ecec38" shape-rendering="crispEdges"/>
<rect x="72.88" y="93.71" width="7.79" height="7.71" fill="#f6f690" shape-rendering="crispEdges"/>
<rect x="80.16" y="93.71" width="7.79" height="7.71" fill="#fbfbc0" shape-rendering="crispEdges"/>
<rect x="87.45" y="93.71" width="7.79" height="7.71" fill="#f6f690" shape-rendering="crispEdges"/>
<rect x="94.74" y="93.71" width="7.79" height="7.71" fill="#fbfbc0" shape-rendering="crispEdges"/>
<rect x="102.03" y="93.71" width="7.79" height="7.71" fill="#f6f690" shape-rendering="crispEdges"/>
<rect x="109.31" y="93.71" width="7.79" height="7.71" fill="#ecec38" shape-rendering="crispEdges"/>
<rect x="116.60" y="93.71" width="7.79" height="7.71" fill="#3a1040" shape-rendering="crispEdges"/>
<rect x="58.30" y="100.92" width="7.79" height="7.71" fill="#1c1c1c" shape-rendering="crispEdges"/>
<rect x="65.59" y="100.92" width="7.79" height="7.71" fill="#e03444" shape-rendering="crispEdges"/>
<rect x="72.88" y="100.92" width="7.79" height="7.71" fill="#ecec38" shape-rendering="crispEdges"/>
<rect x="80.16" y="100.92" width="7.79" height="7.71" fill="#f6f690" shape-rendering="crispEdges"/>
<rect x="87.45" y="100.92" width="7.79" height="7.71" fill="#fbfbc0" shape-rendering="crispEdges"/>
<rect x="94.74" y="100.92" width="7.79" height="7.71" fill="#f6f690" shape-rendering="crispEdges"/>
<rect x="102.03" y="100.92" width="7.79" height="7.71" fill="#ecec38" shape-rendering="crispEdges"/>
<rect x="109.31" y="100.92" width="7.79" height="7.71" fill="#c82860" shape-rendering="crispEdges"/>
<rect x="116.60" y="100.92" width="7.79" height="7.71" fill="#1c1c1c" shape-rendering="crispEdges"/>
<rect x="65.59" y="108.12" width="7.79" height="7.71" fill="#1c1c1c" shape-rendering="crispEdges"/>
<rect x="72.88" y="108.12" width="7.79" height="7.71" fill="#7a0a70" shape-rendering="crispEdges"/>
<rect x="80.16" y="108.12" width="7.79" height="7.71" fill="#ee7a20" shape-rendering="crispEdges"/>
<rect x="87.45" y="108.12" width="7.79" height="7.71" fill="#f0c418" shape-rendering="crispEdges"/>
<rect x="94.74" y="108.12" width="7.79" height="7.71" fill="#ee7a20" shape-rendering="crispEdges"/>
<rect x="102.03" y="108.12" width="7.79" height="7.71" fill="#7a0a70" shape-rendering="crispEdges"/>
<rect x="109.31" y="108.12" width="7.79" height="7.71" fill="#1c1c1c" shape-rendering="crispEdges"/>
<rect x="72.88" y="115.33" width="7.79" height="7.71" fill="#1c1c1c" shape-rendering="crispEdges"/>
<rect x="80.16" y="115.33" width="7.79" height="7.71" fill="#1c1c1c" shape-rendering="crispEdges"/>
<rect x="87.45" y="115.33" width="7.79" height="7.71" fill="#1c1c1c" shape-rendering="crispEdges"/>
<rect x="94.74" y="115.33" width="7.79" height="7.71" fill="#1c1c1c" shape-rendering="crispEdges"/>
<rect x="102.03" y="115.33" width="7.79" height="7.71" fill="#1c1c1c" shape-rendering="crispEdges"/>
</svg>
<svg x="658" y="93.6" width="174.9" height="173">
<rect x="58.30" y="43.25" width="15.08" height="14.92" fill="#111" shape-rendering="crispEdges"/>
<rect x="72.88" y="43.25" width="15.08" height="14.92" fill="#1c1c1c" shape-rendering="crispEdges"/>
<rect x="87.45" y="43.25" width="15.08" height="14.92" fill="#222" shape-rendering="crispEdges"/>
<rect x="102.03" y="43.25" width="15.08" height="14.92" fill="#161616" shape-rendering="crispEdges"/>
<rect x="43.73" y="57.67" width="15.08" height="14.92" fill="#101010" shape-rendering="crispEdges"/>
<rect x="58.30" y="57.67" width="15.08" height="14.92" fill="#5a0a5c" shape-rendering="crispEdges"/>
<rect x="72.88" y="57.67" width="15.08" height="14.92" fill="#eae830" shape-rendering="crispEdges"/>
<rect x="87.45" y="57.67" width="15.08" height="14.92" fill="#f6f4a0" shape-rendering="crispEdges"/>
<rect x="102.03" y="57.67" width="15.08" height="14.92" fill="#dc2a3c" shape-rendering="crispEdges"/>
<rect x="116.60" y="57.67" width="15.08" height="14.92" fill="#181818" shape-rendering="crispEdges"/>
<rect x="43.73" y="72.08" width="15.08" height="14.92" fill="#151515" shape-rendering="crispEdges"/>
<rect x="58.30" y="72.08" width="15.08" height="14.92" fill="#f0b414" shape-rendering="crispEdges"/>
<rect x="72.88" y="72.08" width="15.08" height="14.92" fill="#fffff4" shape-rendering="crispEdges"/>
<rect x="87.45" y="72.08" width="15.08" height="14.92" fill="#fbfbd0" shape-rendering="crispEdges"/>
<rect x="102.03" y="72.08" width="15.08" height="14.92" fill="#f7f5a0" shape-rendering="crispEdges"/>
<rect x="116.60" y="72.08" width="15.08" height="14.92" fill="#3a1a40" shape-rendering="crispEdges"/>
<rect x="43.73" y="86.50" width="15.08" height="14.92" fill="#151515" shape-rendering="crispEdges"/>
<rect x="58.30" y="86.50" width="15.08" height="14.92" fill="#ec7e1e" shape-rendering="crispEdges"/>
<rect x="72.88" y="86.50" width="15.08" height="14.92" fill="#fffff0" shape-rendering="crispEdges"/>
<rect x="87.45" y="86.50" width="15.08" height="14.92" fill="#fdfde0" shape-rendering="crispEdges"/>
<rect x="102.03" y="86.50" width="15.08" height="14.92" fill="#f8f6b0" shape-rendering="crispEdges"/>
<rect x="116.60" y="86.50" width="15.08" height="14.92" fill="#2e1c32" shape-rendering="crispEdges"/>
<rect x="43.73" y="100.92" width="15.08" height="14.92" fill="#0e0e0e" shape-rendering="crispEdges"/>
<rect x="58.30" y="100.92" width="15.08" height="14.92" fill="#42184a" shape-rendering="crispEdges"/>
<rect x="72.88" y="100.92" width="15.08" height="14.92" fill="#f0b818" shape-rendering="crispEdges"/>
<rect x="87.45" y="100.92" width="15.08" height="14.92" fill="#ece83c" shape-rendering="crispEdges"/>
<rect x="102.03" y="100.92" width="15.08" height="14.92" fill="#b0186a" shape-rendering="crispEdges"/>
<rect x="116.60" y="100.92" width="15.08" height="14.92" fill="#141414" shape-rendering="crispEdges"/>
<rect x="58.30" y="115.33" width="15.08" height="14.92" fill="#0c0c0c" shape-rendering="crispEdges"/>
<rect x="72.88" y="115.33" width="15.08" height="14.92" fill="#161616" shape-rendering="crispEdges"/>
<rect x="87.45" y="115.33" width="15.08" height="14.92" fill="#181818" shape-rendering="crispEdges"/>
<rect x="102.03" y="115.33" width="15.08" height="14.92" fill="#121212" shape-rendering="crispEdges"/>
<rect x="58.30" y="28.83" width="15.08" height="14.92" fill="#060606" shape-rendering="crispEdges"/>
<rect x="72.88" y="28.83" width="15.08" height="14.92" fill="#0a0a0a" shape-rendering="crispEdges"/>
<rect x="87.45" y="28.83" width="15.08" height="14.92" fill="#0a0a0a" shape-rendering="crispEdges"/>
<rect x="102.03" y="28.83" width="15.08" height="14.92" fill="#070707" shape-rendering="crispEdges"/>
<rect x="72.88" y="129.75" width="15.08" height="14.92" fill="#080808" shape-rendering="crispEdges"/>
<rect x="87.45" y="129.75" width="15.08" height="14.92" fill="#080808" shape-rendering="crispEdges"/>
<rect x="29.15" y="72.08" width="15.08" height="14.92" fill="#080808" shape-rendering="crispEdges"/>
<rect x="29.15" y="86.50" width="15.08" height="14.92" fill="#080808" shape-rendering="crispEdges"/>
<rect x="131.18" y="72.08" width="15.08" height="14.92" fill="#090909" shape-rendering="crispEdges"/>
<rect x="131.18" y="86.50" width="15.08" height="14.92" fill="#090909" shape-rendering="crispEdges"/>
</svg>
<svg x="959.7" y="93.6" width="174.9" height="173">
<rect x="43.73" y="43.25" width="22.36" height="22.12" fill="#0c0c0c" shape-rendering="crispEdges"/>
<rect x="65.59" y="43.25" width="22.36" height="22.12" fill="#431848" shape-rendering="crispEdges"/>
<rect x="87.45" y="43.25" width="22.36" height="22.12" fill="#6a0670" shape-rendering="crispEdges"/>
<rect x="109.31" y="43.25" width="22.36" height="22.12" fill="#121212" shape-rendering="crispEdges"/>
<rect x="43.73" y="64.88" width="22.36" height="22.12" fill="#2a262a" shape-rendering="crispEdges"/>
<rect x="65.59" y="64.88" width="22.36" height="22.12" fill="#fbfbd0" shape-rendering="crispEdges"/>
<rect x="87.45" y="64.88" width="22.36" height="22.12" fill="#fcfce0" shape-rendering="crispEdges"/>
<rect x="109.31" y="64.88" width="22.36" height="22.12" fill="#76066e" shape-rendering="crispEdges"/>
<rect x="131.18" y="64.88" width="22.36" height="22.12" fill="#080808" shape-rendering="crispEdges"/>
<rect x="43.73" y="86.50" width="22.36" height="22.12" fill="#242424" shape-rendering="crispEdges"/>
<rect x="65.59" y="86.50" width="22.36" height="22.12" fill="#f6f4a0" shape-rendering="crispEdges"/>
<rect x="87.45" y="86.50" width="22.36" height="22.12" fill="#ffffff" shape-rendering="crispEdges"/>
<rect x="109.31" y="86.50" width="22.36" height="22.12" fill="#76066e" shape-rendering="crispEdges"/>
<rect x="131.18" y="86.50" width="22.36" height="22.12" fill="#080808" shape-rendering="crispEdges"/>
<rect x="43.73" y="108.12" width="22.36" height="22.12" fill="#0e0e0e" shape-rendering="crispEdges"/>
<rect x="65.59" y="108.12" width="22.36" height="22.12" fill="#2a282a" shape-rendering="crispEdges"/>
<rect x="87.45" y="108.12" width="22.36" height="22.12" fill="#48184a" shape-rendering="crispEdges"/>
<rect x="109.31" y="108.12" width="22.36" height="22.12" fill="#141414" shape-rendering="crispEdges"/>
<rect x="43.73" y="21.62" width="22.36" height="22.12" fill="#050505" shape-rendering="crispEdges"/>
<rect x="65.59" y="21.62" width="22.36" height="22.12" fill="#070707" shape-rendering="crispEdges"/>
<rect x="87.45" y="21.62" width="22.36" height="22.12" fill="#070707" shape-rendering="crispEdges"/>
<rect x="109.31" y="21.62" width="22.36" height="22.12" fill="#050505" shape-rendering="crispEdges"/>
<rect x="21.86" y="64.88" width="22.36" height="22.12" fill="#050505" shape-rendering="crispEdges"/>
<rect x="21.86" y="86.50" width="22.36" height="22.12" fill="#050505" shape-rendering="crispEdges"/>
<rect x="65.59" y="129.75" width="22.36" height="22.12" fill="#050505" shape-rendering="crispEdges"/>
<rect x="87.45" y="129.75" width="22.36" height="22.12" fill="#050505" shape-rendering="crispEdges"/>
</svg>
<svg x="1259" y="93.6" width="174.9" height="173">
<rect x="58.30" y="28.83" width="29.65" height="29.33" fill="#111111" shape-rendering="crispEdges"/>
<rect x="87.45" y="28.83" width="29.65" height="29.33" fill="#141414" shape-rendering="crispEdges"/>
<rect x="29.15" y="28.83" width="29.65" height="29.33" fill="#060606" shape-rendering="crispEdges"/>
<rect x="116.60" y="28.83" width="29.65" height="29.33" fill="#070707" shape-rendering="crispEdges"/>
<rect x="29.15" y="57.67" width="29.65" height="29.33" fill="#0a0a0a" shape-rendering="crispEdges"/>
<rect x="58.30" y="57.67" width="29.65" height="29.33" fill="#ecec50" shape-rendering="crispEdges"/>
<rect x="87.45" y="57.67" width="29.65" height="29.33" fill="#ffffff" shape-rendering="crispEdges"/>
<rect x="116.60" y="57.67" width="29.65" height="29.33" fill="#161616" shape-rendering="crispEdges"/>
<rect x="29.15" y="86.50" width="29.65" height="29.33" fill="#0a0a0a" shape-rendering="crispEdges"/>
<rect x="58.30" y="86.50" width="29.65" height="29.33" fill="#e6e000" shape-rendering="crispEdges"/>
<rect x="87.45" y="86.50" width="29.65" height="29.33" fill="#fbf8c8" shape-rendering="crispEdges"/>
<rect x="116.60" y="86.50" width="29.65" height="29.33" fill="#141414" shape-rendering="crispEdges"/>
<rect x="29.15" y="115.33" width="29.65" height="29.33" fill="#050505" shape-rendering="crispEdges"/>
<rect x="58.30" y="115.33" width="29.65" height="29.33" fill="#0e0e0e" shape-rendering="crispEdges"/>
<rect x="87.45" y="115.33" width="29.65" height="29.33" fill="#101010" shape-rendering="crispEdges"/>
<rect x="116.60" y="115.33" width="29.65" height="29.33" fill="#060606" shape-rendering="crispEdges"/>
</svg>
<svg x="1558.3" y="93.6" width="174.9" height="173">
<rect x="43.73" y="0.00" width="44.23" height="43.75" fill="#060606" shape-rendering="crispEdges"/>
<rect x="87.45" y="0.00" width="44.23" height="43.75" fill="#060606" shape-rendering="crispEdges"/>
<rect x="0.00" y="43.25" width="44.23" height="43.75" fill="#050505" shape-rendering="crispEdges"/>
<rect x="0.00" y="86.50" width="44.23" height="43.75" fill="#050505" shape-rendering="crispEdges"/>
<rect x="131.18" y="43.25" width="44.23" height="43.75" fill="#060606" shape-rendering="crispEdges"/>
<rect x="131.18" y="86.50" width="44.23" height="43.75" fill="#060606" shape-rendering="crispEdges"/>
<rect x="43.73" y="129.75" width="44.23" height="43.75" fill="#050505" shape-rendering="crispEdges"/>
<rect x="87.45" y="129.75" width="44.23" height="43.75" fill="#050505" shape-rendering="crispEdges"/>
<rect x="43.73" y="43.25" width="44.23" height="43.75" fill="#eae61c" shape-rendering="crispEdges"/>
<rect x="87.45" y="43.25" width="44.23" height="43.75" fill="#ffffff" shape-rendering="crispEdges"/>
<rect x="43.73" y="86.50" width="44.23" height="43.75" fill="#e8ac14" shape-rendering="crispEdges"/>
<rect x="87.45" y="86.50" width="44.23" height="43.75" fill="#f8f4b0" shape-rendering="crispEdges"/>
</svg>
<g fill="none" stroke="#000" stroke-width="1.7"><rect x="265.2" y="138.0" width="21.5" height="21.5"/><path d="M272.4,138.0v21.5 M265.2,145.2h21.5"/><path d="M279.5,138.0v21.5 M265.2,152.3h21.5"/></g>
<text x="344.3" y="155.2" font-family="'Liberation Sans', sans-serif" font-size="24" font-weight="bold" text-anchor="end" textLength="47.3" lengthAdjust="spacingAndGlyphs">192<tspan font-size="16" dy="-8.4">2</tspan></text>
<text x="344.3" y="186.8" font-family="'Liberation Sans', sans-serif" font-size="24" font-weight="bold" text-anchor="end" fill="#000" textLength="65.3" lengthAdjust="spacingAndGlyphs">Ŝ 94.7</text>
<g transform="translate(241.2 202.4) scale(1.000)"><path d="M3.2,0 H21.3 Q22.5,0 22.5,1.2 V21.3 Q22.5,22.5 21.3,22.5 H1.2 Q0,22.5 0,21.3 V2.4 Z" fill="#000"/><rect x="5" y="1.5" width="12.8" height="7" fill="#fff"/><rect x="6.4" y="2.6" width="2" height="4.9" fill="#000"/><circle cx="11.1" cy="15.2" r="3.7" fill="#fff"/><circle cx="11.1" cy="15.2" r="1.5" fill="#000"/></g>
<text x="344.3" y="219.6" font-family="'Liberation Sans', sans-serif" font-size="24" font-weight="bold" text-anchor="end" fill="#000" textLength="70.3" lengthAdjust="spacingAndGlyphs">2.4 GB</text>
<g fill="none" stroke="#000" stroke-width="1.7"><rect x="578.8" y="135.3" width="21.5" height="21.5"/><path d="M586.0,135.3v21.5 M578.8,142.5h21.5"/><path d="M593.1,135.3v21.5 M578.8,149.6h21.5"/></g>
<text x="646.3" y="155.2" font-family="'Liberation Sans', sans-serif" font-size="24" font-weight="bold" text-anchor="end" textLength="34.8" lengthAdjust="spacingAndGlyphs">24<tspan font-size="16" dy="-8.4">2</tspan></text>
<text x="646.3" y="186.8" font-family="'Liberation Sans', sans-serif" font-size="24" font-weight="bold" text-anchor="end" fill="#000" textLength="65.8" lengthAdjust="spacingAndGlyphs">Ŝ 11.8</text>
<g transform="translate(543.5 201.6) scale(1.000)"><path d="M3.2,0 H21.3 Q22.5,0 22.5,1.2 V21.3 Q22.5,22.5 21.3,22.5 H1.2 Q0,22.5 0,21.3 V2.4 Z" fill="#000"/><rect x="5" y="1.5" width="12.8" height="7" fill="#fff"/><rect x="6.4" y="2.6" width="2" height="4.9" fill="#000"/><circle cx="11.1" cy="15.2" r="3.7" fill="#fff"/><circle cx="11.1" cy="15.2" r="1.5" fill="#000"/></g>
<text x="646.3" y="219.6" font-family="'Liberation Sans', sans-serif" font-size="24" font-weight="bold" text-anchor="end" fill="#000" textLength="70.3" lengthAdjust="spacingAndGlyphs">40 MB</text>
<g fill="none" stroke="#000" stroke-width="1.7"><rect x="880.3" y="136.6" width="21.5" height="21.5"/><path d="M887.5,136.6v21.5 M880.3,143.8h21.5"/><path d="M894.6,136.6v21.5 M880.3,150.9h21.5"/></g>
<text x="946.5" y="155.2" font-family="'Liberation Sans', sans-serif" font-size="24" font-weight="bold" text-anchor="end" textLength="34.5" lengthAdjust="spacingAndGlyphs">12<tspan font-size="16" dy="-8.4">2</tspan></text>
<text x="946.5" y="186.8" font-family="'Liberation Sans', sans-serif" font-size="24" font-weight="bold" text-anchor="end" fill="#000" textLength="52.0" lengthAdjust="spacingAndGlyphs">Ŝ 5.9</text>
<g transform="translate(843.5 203.2) scale(1.000)"><path d="M3.2,0 H21.3 Q22.5,0 22.5,1.2 V21.3 Q22.5,22.5 21.3,22.5 H1.2 Q0,22.5 0,21.3 V2.4 Z" fill="#000"/><rect x="5" y="1.5" width="12.8" height="7" fill="#fff"/><rect x="6.4" y="2.6" width="2" height="4.9" fill="#000"/><circle cx="11.1" cy="15.2" r="3.7" fill="#fff"/><circle cx="11.1" cy="15.2" r="1.5" fill="#000"/></g>
<text x="946.5" y="219.6" font-family="'Liberation Sans', sans-serif" font-size="24" font-weight="bold" text-anchor="end" fill="#000" textLength="70.5" lengthAdjust="spacingAndGlyphs">10 MB</text>
<g fill="none" stroke="#000" stroke-width="1.7"><rect x="1188.8" y="135.8" width="21.5" height="21.5"/><path d="M1196.0,135.8v21.5 M1188.8,143.0h21.5"/><path d="M1203.1,135.8v21.5 M1188.8,150.1h21.5"/></g>
<text x="1244.3" y="155.2" font-family="'Liberation Sans', sans-serif" font-size="24" font-weight="bold" text-anchor="end" textLength="22.3" lengthAdjust="spacingAndGlyphs">8<tspan font-size="16" dy="-8.4">2</tspan></text>
<text x="1244.3" y="186.8" font-family="'Liberation Sans', sans-serif" font-size="24" font-weight="bold" text-anchor="end" fill="#000" textLength="51.8" lengthAdjust="spacingAndGlyphs">Ŝ 3.9</text>
<g transform="translate(1154.5 201.6) scale(1.000)"><path d="M3.2,0 H21.3 Q22.5,0 22.5,1.2 V21.3 Q22.5,22.5 21.3,22.5 H1.2 Q0,22.5 0,21.3 V2.4 Z" fill="#000"/><rect x="5" y="1.5" width="12.8" height="7" fill="#fff"/><rect x="6.4" y="2.6" width="2" height="4.9" fill="#000"/><circle cx="11.1" cy="15.2" r="3.7" fill="#fff"/><circle cx="11.1" cy="15.2" r="1.5" fill="#000"/></g>
<text x="1244.3" y="219.6" font-family="'Liberation Sans', sans-serif" font-size="24" font-weight="bold" text-anchor="end" fill="#000" textLength="56.8" lengthAdjust="spacingAndGlyphs">5 MB</text>
<g fill="none" stroke="#000" stroke-width="1.7"><rect x="1490.3" y="135.8" width="21.5" height="21.5"/><path d="M1497.5,135.8v21.5 M1490.3,143.0h21.5"/><path d="M1504.6,135.8v21.5 M1490.3,150.1h21.5"/></g>
<text x="1546.0" y="155.2" font-family="'Liberation Sans', sans-serif" font-size="24" font-weight="bold" text-anchor="end" textLength="21.0" lengthAdjust="spacingAndGlyphs">6<tspan font-size="16" dy="-8.4">2</tspan></text>
<text x="1546.0" y="186.8" font-family="'Liberation Sans', sans-serif" font-size="24" font-weight="bold" text-anchor="end" fill="#000" textLength="52.0" lengthAdjust="spacingAndGlyphs">Ŝ 3.0</text>
<g transform="translate(1440.0 200.9) scale(1.000)"><path d="M3.2,0 H21.3 Q22.5,0 22.5,1.2 V21.3 Q22.5,22.5 21.3,22.5 H1.2 Q0,22.5 0,21.3 V2.4 Z" fill="#000"/><rect x="5" y="1.5" width="12.8" height="7" fill="#fff"/><rect x="6.4" y="2.6" width="2" height="4.9" fill="#000"/><circle cx="11.1" cy="15.2" r="3.7" fill="#fff"/><circle cx="11.1" cy="15.2" r="1.5" fill="#000"/></g>
<text x="1546.0" y="219.6" font-family="'Liberation Sans', sans-serif" font-size="24" font-weight="bold" text-anchor="end" fill="#000" textLength="77.0" lengthAdjust="spacingAndGlyphs">2.5 MB</text>
<g fill="none" stroke="#000" stroke-width="1.7"><rect x="1791.5" y="135.3" width="21.5" height="21.5"/><path d="M1798.7,135.3v21.5 M1791.5,142.5h21.5"/><path d="M1805.8,135.3v21.5 M1791.5,149.6h21.5"/></g>
<text x="1848.0" y="155.2" font-family="'Liberation Sans', sans-serif" font-size="24" font-weight="bold" text-anchor="end" textLength="22.0" lengthAdjust="spacingAndGlyphs">4<tspan font-size="16" dy="-8.4">2</tspan></text>
<text x="1848.0" y="186.8" font-family="'Liberation Sans', sans-serif" font-size="24" font-weight="bold" text-anchor="end" fill="#000" textLength="52.0" lengthAdjust="spacingAndGlyphs">Ŝ 2.0</text>
<g transform="translate(1741.0 202.3) scale(1.000)"><path d="M3.2,0 H21.3 Q22.5,0 22.5,1.2 V21.3 Q22.5,22.5 21.3,22.5 H1.2 Q0,22.5 0,21.3 V2.4 Z" fill="#000"/><rect x="5" y="1.5" width="12.8" height="7" fill="#fff"/><rect x="6.4" y="2.6" width="2" height="4.9" fill="#000"/><circle cx="11.1" cy="15.2" r="3.7" fill="#fff"/><circle cx="11.1" cy="15.2" r="1.5" fill="#000"/></g>
<text x="1848.0" y="219.6" font-family="'Liberation Sans', sans-serif" font-size="24" font-weight="bold" text-anchor="end" fill="#000" textLength="77.0" lengthAdjust="spacingAndGlyphs">1.3 MB</text>
<svg x="59.7" y="291.7" width="290.9" height="288.5">
<g filter="url(#fb0)"><rect width="293" height="290" fill="#525252"/>
<g transform="translate(0.6 0.6)">
<ellipse cx="-10.4" cy="14.0" rx="22.0" ry="31.0" fill="url(#gw)" opacity="0.18"/><ellipse cx="-10.4" cy="21.9" rx="19.3" ry="16.6" fill="url(#gb)" opacity="0.74" transform="rotate(-3 -10.4 21.9)"/><ellipse cx="-8.4" cy="8.0" rx="6.0" ry="9.0" fill="url(#gw)" opacity="0.09"/><ellipse cx="16.4" cy="19.5" rx="11.9" ry="15.2" fill="url(#gk)" opacity="0.91" transform="rotate(26 16.4 19.5)"/><ellipse cx="43.2" cy="14.0" rx="22.0" ry="31.0" fill="url(#gw)" opacity="0.18"/><ellipse cx="43.2" cy="21.5" rx="19.6" ry="14.7" fill="url(#gb)" opacity="0.68" transform="rotate(-16 43.2 21.5)"/><ellipse cx="42.2" cy="8.0" rx="6.0" ry="9.0" fill="url(#gw)" opacity="0.09"/><ellipse cx="66.9" cy="22.8" rx="13.4" ry="16.1" fill="url(#gk)" opacity="0.91" transform="rotate(27 66.9 22.8)"/><ellipse cx="93.4" cy="14.0" rx="22.0" ry="31.0" fill="url(#gw)" opacity="0.18"/><ellipse cx="93.4" cy="23.2" rx="17.1" ry="16.3" fill="url(#gb)" opacity="0.75" transform="rotate(-19 93.4 23.2)"/><ellipse cx="91.4" cy="8.0" rx="6.0" ry="9.0" fill="url(#gw)" opacity="0.09"/><ellipse cx="118.4" cy="23.6" rx="12.2" ry="16.0" fill="url(#gk)" opacity="0.91" transform="rotate(20 118.4 23.6)"/><ellipse cx="145.6" cy="14.0" rx="22.0" ry="31.0" fill="url(#gw)" opacity="0.18"/><ellipse cx="145.6" cy="21.2" rx="19.1" ry="17.2" fill="url(#gb)" opacity="0.70" transform="rotate(-19 145.6 21.2)"/><ellipse cx="146.4" cy="8.0" rx="6.0" ry="9.0" fill="url(#gw)" opacity="0.09"/><ellipse cx="171.8" cy="22.7" rx="12.7" ry="18.9" fill="url(#gk)" opacity="0.91" transform="rotate(0 171.8 22.7)"/><ellipse cx="194.8" cy="14.0" rx="22.0" ry="31.0" fill="url(#gw)" opacity="0.18"/><ellipse cx="194.8" cy="22.3" rx="17.9" ry="17.0" fill="url(#gb)" opacity="0.71" transform="rotate(-7 194.8 22.3)"/><ellipse cx="195.2" cy="8.0" rx="6.0" ry="9.0" fill="url(#gw)" opacity="0.09"/><ellipse cx="222.1" cy="23.9" rx="13.2" ry="18.3" fill="url(#gk)" opacity="0.91" transform="rotate(-15 222.1 23.9)"/><ellipse cx="247.7" cy="14.0" rx="22.0" ry="31.0" fill="url(#gw)" opacity="0.18"/><ellipse cx="247.7" cy="23.2" rx="19.6" ry="15.8" fill="url(#gb)" opacity="0.73" transform="rotate(-0 247.7 23.2)"/><ellipse cx="248.7" cy="8.0" rx="6.0" ry="9.0" fill="url(#gw)" opacity="0.09"/><ellipse cx="270.9" cy="23.1" rx="13.1" ry="15.8" fill="url(#gk)" opacity="0.91" transform="rotate(15 270.9 23.1)"/><ellipse cx="298.5" cy="14.0" rx="22.0" ry="31.0" fill="url(#gw)" opacity="0.18"/><ellipse cx="298.5" cy="20.9" rx="18.9" ry="14.8" fill="url(#gb)" opacity="0.65" transform="rotate(-10 298.5 20.9)"/><ellipse cx="299.6" cy="8.0" rx="6.0" ry="9.0" fill="url(#gw)" opacity="0.09"/><ellipse cx="-2.9" cy="84.3" rx="22.0" ry="31.0" fill="url(#gw)" opacity="0.18"/><ellipse cx="-2.9" cy="93.0" rx="17.8" ry="14.0" fill="url(#gb)" opacity="0.72" transform="rotate(-19 -2.9 93.0)"/><ellipse cx="-4.0" cy="78.3" rx="6.0" ry="9.0" fill="url(#gw)" opacity="0.09"/><ellipse cx="22.3" cy="93.6" rx="11.1" ry="16.9" fill="url(#gk)" opacity="0.91" transform="rotate(26 22.3 93.6)"/><ellipse cx="47.5" cy="84.3" rx="22.0" ry="31.0" fill="url(#gw)" opacity="0.18"/><ellipse cx="47.5" cy="92.9" rx="19.1" ry="15.7" fill="url(#gb)" opacity="0.72" transform="rotate(2 47.5 92.9)"/><ellipse cx="49.0" cy="78.3" rx="6.0" ry="9.0" fill="url(#gw)" opacity="0.09"/><ellipse cx="70.9" cy="94.1" rx="13.1" ry="15.2" fill="url(#gk)" opacity="0.91" transform="rotate(-18 70.9 94.1)"/><ellipse cx="95.9" cy="84.3" rx="22.0" ry="31.0" fill="url(#gw)" opacity="0.18"/><ellipse cx="95.9" cy="91.1" rx="19.1" ry="14.4" fill="url(#gb)" opacity="0.66" transform="rotate(-22 95.9 91.1)"/><ellipse cx="98.7" cy="78.3" rx="6.0" ry="9.0" fill="url(#gw)" opacity="0.09"/><ellipse cx="122.5" cy="92.5" rx="11.9" ry="16.7" fill="url(#gk)" opacity="0.91" transform="rotate(-3 122.5 92.5)"/><ellipse cx="148.1" cy="84.3" rx="22.0" ry="31.0" fill="url(#gw)" opacity="0.18"/><ellipse cx="148.1" cy="92.5" rx="17.1" ry="14.7" fill="url(#gb)" opacity="0.68" transform="rotate(-4 148.1 92.5)"/><ellipse cx="150.7" cy="78.3" rx="6.0" ry="9.0" fill="url(#gw)" opacity="0.09"/><ellipse cx="174.7" cy="95.2" rx="11.7" ry="16.3" fill="url(#gk)" opacity="0.91" transform="rotate(13 174.7 95.2)"/><ellipse cx="198.7" cy="84.3" rx="22.0" ry="31.0" fill="url(#gw)" opacity="0.18"/><ellipse cx="198.7" cy="93.8" rx="17.6" ry="14.9" fill="url(#gb)" opacity="0.69" transform="rotate(-10 198.7 93.8)"/><ellipse cx="201.4" cy="78.3" rx="6.0" ry="9.0" fill="url(#gw)" opacity="0.09"/><ellipse cx="226.8" cy="92.7" rx="11.2" ry="15.0" fill="url(#gk)" opacity="0.91" transform="rotate(-25 226.8 92.7)"/><ellipse cx="249.5" cy="84.3" rx="22.0" ry="31.0" fill="url(#gw)" opacity="0.18"/><ellipse cx="249.5" cy="92.7" rx="19.9" ry="16.9" fill="url(#gb)" opacity="0.72" transform="rotate(-7 249.5 92.7)"/><ellipse cx="250.9" cy="78.3" rx="6.0" ry="9.0" fill="url(#gw)" opacity="0.09"/><ellipse cx="275.5" cy="93.7" rx="11.1" ry="19.9" fill="url(#gk)" opacity="0.91" transform="rotate(-29 275.5 93.7)"/><ellipse cx="301.7" cy="84.3" rx="22.0" ry="31.0" fill="url(#gw)" opacity="0.18"/><ellipse cx="301.7" cy="91.9" rx="17.1" ry="17.1" fill="url(#gb)" opacity="0.74" transform="rotate(-25 301.7 91.9)"/><ellipse cx="303.3" cy="78.3" rx="6.0" ry="9.0" fill="url(#gw)" opacity="0.09"/><ellipse cx="-6.3" cy="159.3" rx="22.0" ry="31.0" fill="url(#gw)" opacity="0.18"/><ellipse cx="-6.3" cy="167.3" rx="18.0" ry="15.6" fill="url(#gb)" opacity="0.67" transform="rotate(-14 -6.3 167.3)"/><ellipse cx="-7.5" cy="153.3" rx="6.0" ry="9.0" fill="url(#gw)" opacity="0.09"/><ellipse cx="20.1" cy="167.6" rx="11.3" ry="18.1" fill="url(#gk)" opacity="0.91" transform="rotate(8 20.1 167.6)"/><ellipse cx="43.2" cy="159.3" rx="22.0" ry="31.0" fill="url(#gw)" opacity="0.18"/><ellipse cx="43.2" cy="167.6" rx="16.9" ry="15.1" fill="url(#gb)" opacity="0.72" transform="rotate(18 43.2 167.6)"/><ellipse cx="44.1" cy="153.3" rx="6.0" ry="9.0" fill="url(#gw)" opacity="0.09"/><ellipse cx="68.5" cy="166.7" rx="11.9" ry="18.5" fill="url(#gk)" opacity="0.91" transform="rotate(22 68.5 166.7)"/><ellipse cx="93.7" cy="159.3" rx="22.0" ry="31.0" fill="url(#gw)" opacity="0.18"/><ellipse cx="93.7" cy="165.9" rx="16.6" ry="14.5" fill="url(#gb)" opacity="0.70" transform="rotate(-20 93.7 165.9)"/><ellipse cx="92.1" cy="153.3" rx="6.0" ry="9.0" fill="url(#gw)" opacity="0.09"/><ellipse cx="120.7" cy="164.9" rx="12.2" ry="19.8" fill="url(#gk)" opacity="0.91" transform="rotate(-22 120.7 164.9)"/><ellipse cx="146.3" cy="159.3" rx="22.0" ry="31.0" fill="url(#gw)" opacity="0.18"/><ellipse cx="146.3" cy="167.6" rx="20.3" ry="16.6" fill="url(#gb)" opacity="0.67" transform="rotate(-6 146.3 167.6)"/><ellipse cx="148.7" cy="153.3" rx="6.0" ry="9.0" fill="url(#gw)" opacity="0.09"/><ellipse cx="170.1" cy="169.3" rx="13.0" ry="15.6" fill="url(#gk)" opacity="0.91" transform="rotate(25 170.1 169.3)"/><ellipse cx="198.7" cy="159.3" rx="22.0" ry="31.0" fill="url(#gw)" opacity="0.18"/><ellipse cx="198.7" cy="168.5" rx="19.5" ry="16.7" fill="url(#gb)" opacity="0.68" transform="rotate(-8 198.7 168.5)"/><ellipse cx="196.8" cy="153.3" rx="6.0" ry="9.0" fill="url(#gw)" opacity="0.09"/><ellipse cx="222.0" cy="167.3" rx="12.1" ry="15.6" fill="url(#gk)" opacity="0.91" transform="rotate(8 222.0 167.3)"/><ellipse cx="248.8" cy="159.3" rx="22.0" ry="31.0" fill="url(#gw)" opacity="0.18"/><ellipse cx="248.8" cy="167.2" rx="17.3" ry="14.2" fill="url(#gb)" opacity="0.71" transform="rotate(20 248.8 167.2)"/><ellipse cx="251.0" cy="153.3" rx="6.0" ry="9.0" fill="url(#gw)" opacity="0.09"/><ellipse cx="276.1" cy="164.5" rx="12.1" ry="19.8" fill="url(#gk)" opacity="0.91" transform="rotate(16 276.1 164.5)"/><ellipse cx="301.9" cy="159.3" rx="22.0" ry="31.0" fill="url(#gw)" opacity="0.18"/><ellipse cx="301.9" cy="165.9" rx="17.4" ry="17.5" fill="url(#gb)" opacity="0.72" transform="rotate(-24 301.9 165.9)"/><ellipse cx="301.0" cy="153.3" rx="6.0" ry="9.0" fill="url(#gw)" opacity="0.09"/><ellipse cx="0.5" cy="236.7" rx="22.0" ry="31.0" fill="url(#gw)" opacity="0.18"/><ellipse cx="0.5" cy="243.6" rx="17.7" ry="17.1" fill="url(#gb)" opacity="0.68" transform="rotate(10 0.5 243.6)"/><ellipse cx="3.2" cy="230.7" rx="6.0" ry="9.0" fill="url(#gw)" opacity="0.09"/><ellipse cx="23.8" cy="242.2" rx="11.5" ry="18.8" fill="url(#gk)" opacity="0.91" transform="rotate(7 23.8 242.2)"/><ellipse cx="51.9" cy="236.7" rx="22.0" ry="31.0" fill="url(#gw)" opacity="0.18"/><ellipse cx="51.9" cy="245.3" rx="17.8" ry="14.7" fill="url(#gb)" opacity="0.66" transform="rotate(-12 51.9 245.3)"/><ellipse cx="53.2" cy="230.7" rx="6.0" ry="9.0" fill="url(#gw)" opacity="0.09"/><ellipse cx="75.5" cy="246.2" rx="10.5" ry="19.5" fill="url(#gk)" opacity="0.91" transform="rotate(-20 75.5 246.2)"/><ellipse cx="101.5" cy="236.7" rx="22.0" ry="31.0" fill="url(#gw)" opacity="0.18"/><ellipse cx="101.5" cy="245.7" rx="18.7" ry="17.4" fill="url(#gb)" opacity="0.65" transform="rotate(-25 101.5 245.7)"/><ellipse cx="102.0" cy="230.7" rx="6.0" ry="9.0" fill="url(#gw)" opacity="0.09"/><ellipse cx="126.0" cy="244.0" rx="11.1" ry="15.9" fill="url(#gk)" opacity="0.91" transform="rotate(-14 126.0 244.0)"/><ellipse cx="151.0" cy="236.7" rx="22.0" ry="31.0" fill="url(#gw)" opacity="0.18"/><ellipse cx="151.0" cy="244.1" rx="20.3" ry="14.9" fill="url(#gb)" opacity="0.76" transform="rotate(-24 151.0 244.1)"/><ellipse cx="150.3" cy="230.7" rx="6.0" ry="9.0" fill="url(#gw)" opacity="0.09"/><ellipse cx="179.2" cy="242.8" rx="12.5" ry="15.5" fill="url(#gk)" opacity="0.91" transform="rotate(-9 179.2 242.8)"/><ellipse cx="202.7" cy="236.7" rx="22.0" ry="31.0" fill="url(#gw)" opacity="0.18"/><ellipse cx="202.7" cy="245.0" rx="19.6" ry="15.8" fill="url(#gb)" opacity="0.69" transform="rotate(-5 202.7 245.0)"/><ellipse cx="200.8" cy="230.7" rx="6.0" ry="9.0" fill="url(#gw)" opacity="0.09"/><ellipse cx="230.6" cy="241.9" rx="12.0" ry="19.9" fill="url(#gk)" opacity="0.91" transform="rotate(17 230.6 241.9)"/><ellipse cx="254.3" cy="236.7" rx="22.0" ry="31.0" fill="url(#gw)" opacity="0.18"/><ellipse cx="254.3" cy="246.0" rx="18.8" ry="16.0" fill="url(#gb)" opacity="0.68" transform="rotate(11 254.3 246.0)"/><ellipse cx="253.7" cy="230.7" rx="6.0" ry="9.0" fill="url(#gw)" opacity="0.09"/><ellipse cx="279.9" cy="243.6" rx="13.3" ry="18.7" fill="url(#gk)" opacity="0.91" transform="rotate(-10 279.9 243.6)"/><ellipse cx="306.7" cy="236.7" rx="22.0" ry="31.0" fill="url(#gw)" opacity="0.18"/><ellipse cx="306.7" cy="245.1" rx="18.5" ry="14.3" fill="url(#gb)" opacity="0.68" transform="rotate(-14 306.7 245.1)"/><ellipse cx="305.1" cy="230.7" rx="6.0" ry="9.0" fill="url(#gw)" opacity="0.09"/><ellipse cx="9.8" cy="57.2" rx="11.1" ry="6.9" fill="url(#gw)" opacity="0.47"/><ellipse cx="28.3" cy="56.9" rx="10.5" ry="7.5" fill="url(#gw)" opacity="0.60"/><ellipse cx="60.9" cy="56.9" rx="10.3" ry="8.2" fill="url(#gw)" opacity="0.56"/><ellipse cx="78.9" cy="57.5" rx="10.0" ry="6.6" fill="url(#gw)" opacity="0.57"/><ellipse cx="112.8" cy="56.5" rx="10.9" ry="7.9" fill="url(#gw)" opacity="0.60"/><ellipse cx="131.7" cy="56.7" rx="11.4" ry="7.5" fill="url(#gw)" opacity="0.47"/><ellipse cx="163.3" cy="56.5" rx="11.2" ry="6.6" fill="url(#gw)" opacity="0.50"/><ellipse cx="183.1" cy="55.6" rx="9.2" ry="7.5" fill="url(#gw)" opacity="0.56"/><ellipse cx="214.5" cy="56.5" rx="9.8" ry="7.9" fill="url(#gw)" opacity="0.55"/><ellipse cx="233.4" cy="56.1" rx="11.4" ry="6.9" fill="url(#gw)" opacity="0.60"/><ellipse cx="266.5" cy="57.1" rx="10.9" ry="7.9" fill="url(#gw)" opacity="0.54"/><ellipse cx="284.4" cy="55.2" rx="10.1" ry="7.4" fill="url(#gw)" opacity="0.52"/><ellipse cx="-3.9" cy="43.0" rx="19.0" ry="7.5" fill="url(#gk)" opacity="0.47" transform="rotate(-15 -3.9 43.0)"/><ellipse cx="10.9" cy="69.4" rx="19.0" ry="7.5" fill="url(#gk)" opacity="0.47" transform="rotate(1 10.9 69.4)"/><ellipse cx="49.2" cy="43.8" rx="19.0" ry="7.5" fill="url(#gk)" opacity="0.47" transform="rotate(-15 49.2 43.8)"/><ellipse cx="64.4" cy="68.5" rx="19.0" ry="7.5" fill="url(#gk)" opacity="0.47" transform="rotate(-24 64.4 68.5)"/><ellipse cx="94.7" cy="42.3" rx="19.0" ry="7.5" fill="url(#gk)" opacity="0.47" transform="rotate(7 94.7 42.3)"/><ellipse cx="118.7" cy="69.8" rx="19.0" ry="7.5" fill="url(#gk)" opacity="0.47" transform="rotate(23 118.7 69.8)"/><ellipse cx="142.8" cy="45.2" rx="19.0" ry="7.5" fill="url(#gk)" opacity="0.47" transform="rotate(13 142.8 45.2)"/><ellipse cx="162.0" cy="68.8" rx="19.0" ry="7.5" fill="url(#gk)" opacity="0.47" transform="rotate(-16 162.0 68.8)"/><ellipse cx="196.0" cy="44.0" rx="19.0" ry="7.5" fill="url(#gk)" opacity="0.47" transform="rotate(-6 196.0 44.0)"/><ellipse cx="215.0" cy="69.7" rx="19.0" ry="7.5" fill="url(#gk)" opacity="0.47" transform="rotate(9 215.0 69.7)"/><ellipse cx="244.9" cy="44.2" rx="19.0" ry="7.5" fill="url(#gk)" opacity="0.47" transform="rotate(14 244.9 44.2)"/><ellipse cx="261.9" cy="69.9" rx="19.0" ry="7.5" fill="url(#gk)" opacity="0.47" transform="rotate(-24 261.9 69.9)"/><ellipse cx="299.8" cy="43.4" rx="19.0" ry="7.5" fill="url(#gk)" opacity="0.47" transform="rotate(-24 299.8 43.4)"/><ellipse cx="313.6" cy="69.6" rx="19.0" ry="7.5" fill="url(#gk)" opacity="0.47" transform="rotate(-12 313.6 69.6)"/><ellipse cx="10.2" cy="132.7" rx="11.3" ry="8.0" fill="url(#gw)" opacity="0.53"/><ellipse cx="31.3" cy="132.0" rx="9.7" ry="7.3" fill="url(#gw)" opacity="0.51"/><ellipse cx="61.2" cy="131.9" rx="10.4" ry="7.8" fill="url(#gw)" opacity="0.60"/><ellipse cx="81.2" cy="132.8" rx="10.0" ry="7.4" fill="url(#gw)" opacity="0.57"/><ellipse cx="113.2" cy="133.0" rx="9.9" ry="6.5" fill="url(#gw)" opacity="0.60"/><ellipse cx="132.6" cy="132.2" rx="9.5" ry="6.8" fill="url(#gw)" opacity="0.51"/><ellipse cx="164.7" cy="132.5" rx="11.0" ry="8.2" fill="url(#gw)" opacity="0.46"/><ellipse cx="184.3" cy="133.4" rx="11.3" ry="8.1" fill="url(#gw)" opacity="0.57"/><ellipse cx="215.3" cy="133.6" rx="11.2" ry="8.1" fill="url(#gw)" opacity="0.59"/><ellipse cx="235.5" cy="132.6" rx="10.3" ry="8.4" fill="url(#gw)" opacity="0.58"/><ellipse cx="267.5" cy="133.4" rx="9.7" ry="6.8" fill="url(#gw)" opacity="0.50"/><ellipse cx="284.7" cy="132.4" rx="9.6" ry="7.0" fill="url(#gw)" opacity="0.50"/><ellipse cx="-9.2" cy="119.8" rx="19.0" ry="7.5" fill="url(#gk)" opacity="0.47" transform="rotate(-18 -9.2 119.8)"/><ellipse cx="11.2" cy="143.6" rx="19.0" ry="7.5" fill="url(#gk)" opacity="0.47" transform="rotate(7 11.2 143.6)"/><ellipse cx="47.6" cy="118.8" rx="19.0" ry="7.5" fill="url(#gk)" opacity="0.47" transform="rotate(25 47.6 118.8)"/><ellipse cx="61.6" cy="146.5" rx="19.0" ry="7.5" fill="url(#gk)" opacity="0.47" transform="rotate(-10 61.6 146.5)"/><ellipse cx="98.1" cy="120.3" rx="19.0" ry="7.5" fill="url(#gk)" opacity="0.47" transform="rotate(4 98.1 120.3)"/><ellipse cx="113.5" cy="146.1" rx="19.0" ry="7.5" fill="url(#gk)" opacity="0.47" transform="rotate(6 113.5 146.1)"/><ellipse cx="149.3" cy="119.8" rx="19.0" ry="7.5" fill="url(#gk)" opacity="0.47" transform="rotate(-11 149.3 119.8)"/><ellipse cx="165.5" cy="145.8" rx="19.0" ry="7.5" fill="url(#gk)" opacity="0.47" transform="rotate(10 165.5 145.8)"/><ellipse cx="205.7" cy="120.8" rx="19.0" ry="7.5" fill="url(#gk)" opacity="0.47" transform="rotate(25 205.7 120.8)"/><ellipse cx="215.7" cy="144.0" rx="19.0" ry="7.5" fill="url(#gk)" opacity="0.47" transform="rotate(25 215.7 144.0)"/><ellipse cx="250.1" cy="120.2" rx="19.0" ry="7.5" fill="url(#gk)" opacity="0.47" transform="rotate(18 250.1 120.2)"/><ellipse cx="264.5" cy="143.4" rx="19.0" ry="7.5" fill="url(#gk)" opacity="0.47" transform="rotate(-2 264.5 143.4)"/><ellipse cx="298.6" cy="118.1" rx="19.0" ry="7.5" fill="url(#gk)" opacity="0.47" transform="rotate(11 298.6 118.1)"/><ellipse cx="320.8" cy="144.7" rx="19.0" ry="7.5" fill="url(#gk)" opacity="0.47" transform="rotate(7 320.8 144.7)"/><ellipse cx="12.3" cy="208.8" rx="10.6" ry="7.4" fill="url(#gw)" opacity="0.50"/><ellipse cx="31.8" cy="209.4" rx="9.1" ry="8.1" fill="url(#gw)" opacity="0.54"/><ellipse cx="62.0" cy="209.8" rx="10.4" ry="8.0" fill="url(#gw)" opacity="0.59"/><ellipse cx="81.1" cy="209.3" rx="10.4" ry="6.7" fill="url(#gw)" opacity="0.46"/><ellipse cx="113.7" cy="210.1" rx="11.0" ry="7.9" fill="url(#gw)" opacity="0.57"/><ellipse cx="133.5" cy="209.5" rx="9.1" ry="8.0" fill="url(#gw)" opacity="0.58"/><ellipse cx="164.6" cy="209.8" rx="9.2" ry="7.8" fill="url(#gw)" opacity="0.48"/><ellipse cx="185.2" cy="209.3" rx="10.9" ry="8.0" fill="url(#gw)" opacity="0.60"/><ellipse cx="216.1" cy="210.4" rx="10.8" ry="7.5" fill="url(#gw)" opacity="0.53"/><ellipse cx="235.8" cy="208.6" rx="9.1" ry="7.3" fill="url(#gw)" opacity="0.55"/><ellipse cx="267.7" cy="208.4" rx="10.0" ry="6.5" fill="url(#gw)" opacity="0.54"/><ellipse cx="285.5" cy="210.2" rx="10.4" ry="7.1" fill="url(#gw)" opacity="0.57"/><ellipse cx="-8.6" cy="197.2" rx="19.0" ry="7.5" fill="url(#gk)" opacity="0.47" transform="rotate(-22 -8.6 197.2)"/><ellipse cx="12.5" cy="223.7" rx="19.0" ry="7.5" fill="url(#gk)" opacity="0.47" transform="rotate(16 12.5 223.7)"/><ellipse cx="50.2" cy="197.0" rx="19.0" ry="7.5" fill="url(#gk)" opacity="0.47" transform="rotate(6 50.2 197.0)"/><ellipse cx="68.6" cy="223.2" rx="19.0" ry="7.5" fill="url(#gk)" opacity="0.47" transform="rotate(-20 68.6 223.2)"/><ellipse cx="103.6" cy="198.6" rx="19.0" ry="7.5" fill="url(#gk)" opacity="0.47" transform="rotate(4 103.6 198.6)"/><ellipse cx="114.9" cy="219.9" rx="19.0" ry="7.5" fill="url(#gk)" opacity="0.47" transform="rotate(-8 114.9 219.9)"/><ellipse cx="144.5" cy="197.4" rx="19.0" ry="7.5" fill="url(#gk)" opacity="0.47" transform="rotate(5 144.5 197.4)"/><ellipse cx="170.9" cy="223.2" rx="19.0" ry="7.5" fill="url(#gk)" opacity="0.47" transform="rotate(-9 170.9 223.2)"/><ellipse cx="204.3" cy="197.7" rx="19.0" ry="7.5" fill="url(#gk)" opacity="0.47" transform="rotate(3 204.3 197.7)"/><ellipse cx="214.1" cy="223.2" rx="19.0" ry="7.5" fill="url(#gk)" opacity="0.47" transform="rotate(3 214.1 223.2)"/><ellipse cx="252.1" cy="198.1" rx="19.0" ry="7.5" fill="url(#gk)" opacity="0.47" transform="rotate(-19 252.1 198.1)"/><ellipse cx="264.9" cy="222.4" rx="19.0" ry="7.5" fill="url(#gk)" opacity="0.47" transform="rotate(11 264.9 222.4)"/><ellipse cx="304.1" cy="196.9" rx="19.0" ry="7.5" fill="url(#gk)" opacity="0.47" transform="rotate(14 304.1 196.9)"/><ellipse cx="325.6" cy="222.3" rx="19.0" ry="7.5" fill="url(#gk)" opacity="0.47" transform="rotate(12 325.6 222.3)"/><ellipse cx="14.7" cy="281.4" rx="9.1" ry="6.8" fill="url(#gw)" opacity="0.53"/><ellipse cx="34.4" cy="281.6" rx="9.8" ry="7.5" fill="url(#gw)" opacity="0.54"/><ellipse cx="66.8" cy="280.4" rx="10.8" ry="8.0" fill="url(#gw)" opacity="0.48"/><ellipse cx="84.3" cy="281.8" rx="9.1" ry="8.2" fill="url(#gw)" opacity="0.52"/><ellipse cx="117.5" cy="280.6" rx="10.1" ry="7.7" fill="url(#gw)" opacity="0.48"/><ellipse cx="137.4" cy="279.7" rx="9.9" ry="6.9" fill="url(#gw)" opacity="0.56"/><ellipse cx="168.8" cy="281.9" rx="9.5" ry="7.9" fill="url(#gw)" opacity="0.60"/><ellipse cx="187.7" cy="280.0" rx="10.5" ry="8.3" fill="url(#gw)" opacity="0.53"/><ellipse cx="220.2" cy="281.8" rx="9.6" ry="7.2" fill="url(#gw)" opacity="0.53"/><ellipse cx="238.4" cy="279.6" rx="10.7" ry="7.5" fill="url(#gw)" opacity="0.59"/><ellipse cx="271.9" cy="280.2" rx="10.7" ry="7.4" fill="url(#gw)" opacity="0.59"/><ellipse cx="288.6" cy="279.7" rx="11.3" ry="8.2" fill="url(#gw)" opacity="0.55"/><ellipse cx="-4.7" cy="266.6" rx="19.0" ry="7.5" fill="url(#gk)" opacity="0.47" transform="rotate(16 -4.7 266.6)"/><ellipse cx="20.0" cy="293.0" rx="19.0" ry="7.5" fill="url(#gk)" opacity="0.47" transform="rotate(17 20.0 293.0)"/><ellipse cx="54.5" cy="269.5" rx="19.0" ry="7.5" fill="url(#gk)" opacity="0.47" transform="rotate(21 54.5 269.5)"/><ellipse cx="72.4" cy="291.2" rx="19.0" ry="7.5" fill="url(#gk)" opacity="0.47" transform="rotate(7 72.4 291.2)"/><ellipse cx="97.0" cy="269.8" rx="19.0" ry="7.5" fill="url(#gk)" opacity="0.47" transform="rotate(16 97.0 269.8)"/><ellipse cx="121.2" cy="292.9" rx="19.0" ry="7.5" fill="url(#gk)" opacity="0.47" transform="rotate(9 121.2 292.9)"/><ellipse cx="150.7" cy="269.0" rx="19.0" ry="7.5" fill="url(#gk)" opacity="0.47" transform="rotate(23 150.7 269.0)"/><ellipse cx="165.6" cy="292.8" rx="19.0" ry="7.5" fill="url(#gk)" opacity="0.47" transform="rotate(15 165.6 292.8)"/><ellipse cx="200.5" cy="267.6" rx="19.0" ry="7.5" fill="url(#gk)" opacity="0.47" transform="rotate(16 200.5 267.6)"/><ellipse cx="223.2" cy="292.2" rx="19.0" ry="7.5" fill="url(#gk)" opacity="0.47" transform="rotate(-5 223.2 292.2)"/><ellipse cx="253.9" cy="268.2" rx="19.0" ry="7.5" fill="url(#gk)" opacity="0.47" transform="rotate(25 253.9 268.2)"/><ellipse cx="270.5" cy="292.5" rx="19.0" ry="7.5" fill="url(#gk)" opacity="0.47" transform="rotate(20 270.5 292.5)"/><ellipse cx="306.6" cy="268.8" rx="19.0" ry="7.5" fill="url(#gk)" opacity="0.47" transform="rotate(18 306.6 268.8)"/><ellipse cx="319.9" cy="291.9" rx="19.0" ry="7.5" fill="url(#gk)" opacity="0.47" transform="rotate(-18 319.9 291.9)"/>
</g></g>
<rect x="185.5" y="270.8" width="95.6" height="6.3" fill="#fff"/>
<rect x=".6" y=".6" width="289.7" height="287.3" fill="none" stroke="#111" stroke-width="1.2"/>
</svg>
<svg x="359.8" y="291.7" width="290.9" height="288.5">
<g filter="url(#fb1)"><rect width="293" height="290" fill="#525252"/>
<g transform="translate(0.6 0.6)">
<ellipse cx="-9.1" cy="14.0" rx="22.0" ry="31.0" fill="url(#gw)" opacity="0.18"/><ellipse cx="-9.1" cy="21.1" rx="20.2" ry="15.6" fill="url(#gb)" opacity="0.71" transform="rotate(8 -9.1 21.1)"/><ellipse cx="-10.0" cy="8.0" rx="6.0" ry="9.0" fill="url(#gw)" opacity="0.09"/><ellipse cx="15.2" cy="20.7" rx="12.6" ry="16.1" fill="url(#gk)" opacity="0.81" transform="rotate(28 15.2 20.7)"/><ellipse cx="40.6" cy="14.0" rx="22.0" ry="31.0" fill="url(#gw)" opacity="0.18"/><ellipse cx="40.6" cy="21.1" rx="19.6" ry="15.3" fill="url(#gb)" opacity="0.61" transform="rotate(-1 40.6 21.1)"/><ellipse cx="40.2" cy="8.0" rx="6.0" ry="9.0" fill="url(#gw)" opacity="0.09"/><ellipse cx="68.1" cy="21.4" rx="11.1" ry="17.2" fill="url(#gk)" opacity="0.81" transform="rotate(-12 68.1 21.4)"/><ellipse cx="92.0" cy="14.0" rx="22.0" ry="31.0" fill="url(#gw)" opacity="0.18"/><ellipse cx="92.0" cy="23.0" rx="19.2" ry="17.1" fill="url(#gb)" opacity="0.68" transform="rotate(-5 92.0 23.0)"/><ellipse cx="91.9" cy="8.0" rx="6.0" ry="9.0" fill="url(#gw)" opacity="0.09"/><ellipse cx="118.5" cy="21.4" rx="12.5" ry="15.0" fill="url(#gk)" opacity="0.81" transform="rotate(-2 118.5 21.4)"/><ellipse cx="144.5" cy="14.0" rx="22.0" ry="31.0" fill="url(#gw)" opacity="0.18"/><ellipse cx="144.5" cy="21.5" rx="19.3" ry="14.0" fill="url(#gb)" opacity="0.60" transform="rotate(3 144.5 21.5)"/><ellipse cx="143.3" cy="8.0" rx="6.0" ry="9.0" fill="url(#gw)" opacity="0.09"/><ellipse cx="168.0" cy="20.1" rx="10.7" ry="15.8" fill="url(#gk)" opacity="0.81" transform="rotate(11 168.0 20.1)"/><ellipse cx="196.1" cy="14.0" rx="22.0" ry="31.0" fill="url(#gw)" opacity="0.18"/><ellipse cx="196.1" cy="21.6" rx="18.4" ry="15.7" fill="url(#gb)" opacity="0.67" transform="rotate(19 196.1 21.6)"/><ellipse cx="195.6" cy="8.0" rx="6.0" ry="9.0" fill="url(#gw)" opacity="0.09"/><ellipse cx="222.5" cy="23.1" rx="12.6" ry="15.0" fill="url(#gk)" opacity="0.81" transform="rotate(-25 222.5 23.1)"/><ellipse cx="245.3" cy="14.0" rx="22.0" ry="31.0" fill="url(#gw)" opacity="0.18"/><ellipse cx="245.3" cy="21.5" rx="20.0" ry="16.9" fill="url(#gb)" opacity="0.71" transform="rotate(-19 245.3 21.5)"/><ellipse cx="246.8" cy="8.0" rx="6.0" ry="9.0" fill="url(#gw)" opacity="0.09"/><ellipse cx="273.4" cy="23.9" rx="12.9" ry="15.7" fill="url(#gk)" opacity="0.81" transform="rotate(-19 273.4 23.9)"/><ellipse cx="298.8" cy="14.0" rx="22.0" ry="31.0" fill="url(#gw)" opacity="0.18"/><ellipse cx="298.8" cy="22.7" rx="18.3" ry="17.1" fill="url(#gb)" opacity="0.70" transform="rotate(-18 298.8 22.7)"/><ellipse cx="301.6" cy="8.0" rx="6.0" ry="9.0" fill="url(#gw)" opacity="0.09"/><ellipse cx="-2.2" cy="84.3" rx="22.0" ry="31.0" fill="url(#gw)" opacity="0.18"/><ellipse cx="-2.2" cy="91.8" rx="18.7" ry="16.4" fill="url(#gb)" opacity="0.60" transform="rotate(-7 -2.2 91.8)"/><ellipse cx="-4.0" cy="78.3" rx="6.0" ry="9.0" fill="url(#gw)" opacity="0.09"/><ellipse cx="21.3" cy="94.2" rx="10.8" ry="19.7" fill="url(#gk)" opacity="0.81" transform="rotate(-15 21.3 94.2)"/><ellipse cx="46.9" cy="84.3" rx="22.0" ry="31.0" fill="url(#gw)" opacity="0.18"/><ellipse cx="46.9" cy="91.1" rx="20.1" ry="15.1" fill="url(#gb)" opacity="0.71" transform="rotate(-20 46.9 91.1)"/><ellipse cx="48.2" cy="78.3" rx="6.0" ry="9.0" fill="url(#gw)" opacity="0.09"/><ellipse cx="73.8" cy="89.4" rx="12.4" ry="19.3" fill="url(#gk)" opacity="0.81" transform="rotate(-2 73.8 89.4)"/><ellipse cx="96.9" cy="84.3" rx="22.0" ry="31.0" fill="url(#gw)" opacity="0.18"/><ellipse cx="96.9" cy="93.2" rx="17.6" ry="16.3" fill="url(#gb)" opacity="0.62" transform="rotate(3 96.9 93.2)"/><ellipse cx="97.6" cy="78.3" rx="6.0" ry="9.0" fill="url(#gw)" opacity="0.09"/><ellipse cx="122.2" cy="94.9" rx="11.4" ry="18.4" fill="url(#gk)" opacity="0.81" transform="rotate(24 122.2 94.9)"/><ellipse cx="148.7" cy="84.3" rx="22.0" ry="31.0" fill="url(#gw)" opacity="0.18"/><ellipse cx="148.7" cy="91.0" rx="16.8" ry="14.5" fill="url(#gb)" opacity="0.62" transform="rotate(-19 148.7 91.0)"/><ellipse cx="148.4" cy="78.3" rx="6.0" ry="9.0" fill="url(#gw)" opacity="0.09"/><ellipse cx="173.8" cy="92.0" rx="12.5" ry="18.4" fill="url(#gk)" opacity="0.81" transform="rotate(11 173.8 92.0)"/><ellipse cx="199.2" cy="84.3" rx="22.0" ry="31.0" fill="url(#gw)" opacity="0.18"/><ellipse cx="199.2" cy="92.8" rx="17.0" ry="15.9" fill="url(#gb)" opacity="0.66" transform="rotate(-9 199.2 92.8)"/><ellipse cx="200.6" cy="78.3" rx="6.0" ry="9.0" fill="url(#gw)" opacity="0.09"/><ellipse cx="225.8" cy="90.7" rx="11.8" ry="17.3" fill="url(#gk)" opacity="0.81" transform="rotate(-12 225.8 90.7)"/><ellipse cx="248.7" cy="84.3" rx="22.0" ry="31.0" fill="url(#gw)" opacity="0.18"/><ellipse cx="248.7" cy="90.9" rx="19.5" ry="15.5" fill="url(#gb)" opacity="0.71" transform="rotate(8 248.7 90.9)"/><ellipse cx="248.1" cy="78.3" rx="6.0" ry="9.0" fill="url(#gw)" opacity="0.09"/><ellipse cx="276.5" cy="95.0" rx="12.8" ry="17.3" fill="url(#gk)" opacity="0.81" transform="rotate(29 276.5 95.0)"/><ellipse cx="302.6" cy="84.3" rx="22.0" ry="31.0" fill="url(#gw)" opacity="0.18"/><ellipse cx="302.6" cy="91.0" rx="18.3" ry="15.0" fill="url(#gb)" opacity="0.64" transform="rotate(6 302.6 91.0)"/><ellipse cx="301.3" cy="78.3" rx="6.0" ry="9.0" fill="url(#gw)" opacity="0.09"/><ellipse cx="-6.2" cy="159.3" rx="22.0" ry="31.0" fill="url(#gw)" opacity="0.18"/><ellipse cx="-6.2" cy="168.4" rx="19.3" ry="14.9" fill="url(#gb)" opacity="0.60" transform="rotate(7 -6.2 168.4)"/><ellipse cx="-4.7" cy="153.3" rx="6.0" ry="9.0" fill="url(#gw)" opacity="0.09"/><ellipse cx="20.6" cy="169.1" rx="11.5" ry="18.7" fill="url(#gk)" opacity="0.81" transform="rotate(-21 20.6 169.1)"/><ellipse cx="44.9" cy="159.3" rx="22.0" ry="31.0" fill="url(#gw)" opacity="0.18"/><ellipse cx="44.9" cy="167.1" rx="17.5" ry="14.8" fill="url(#gb)" opacity="0.63" transform="rotate(15 44.9 167.1)"/><ellipse cx="43.4" cy="153.3" rx="6.0" ry="9.0" fill="url(#gw)" opacity="0.09"/><ellipse cx="68.5" cy="165.5" rx="11.0" ry="18.6" fill="url(#gk)" opacity="0.81" transform="rotate(5 68.5 165.5)"/><ellipse cx="95.4" cy="159.3" rx="22.0" ry="31.0" fill="url(#gw)" opacity="0.18"/><ellipse cx="95.4" cy="168.5" rx="16.7" ry="14.7" fill="url(#gb)" opacity="0.65" transform="rotate(1 95.4 168.5)"/><ellipse cx="97.0" cy="153.3" rx="6.0" ry="9.0" fill="url(#gw)" opacity="0.09"/><ellipse cx="121.9" cy="167.4" rx="11.2" ry="18.0" fill="url(#gk)" opacity="0.81" transform="rotate(26 121.9 167.4)"/><ellipse cx="145.0" cy="159.3" rx="22.0" ry="31.0" fill="url(#gw)" opacity="0.18"/><ellipse cx="145.0" cy="168.6" rx="18.8" ry="15.7" fill="url(#gb)" opacity="0.70" transform="rotate(-19 145.0 168.6)"/><ellipse cx="143.6" cy="153.3" rx="6.0" ry="9.0" fill="url(#gw)" opacity="0.09"/><ellipse cx="169.8" cy="168.0" rx="12.6" ry="20.0" fill="url(#gk)" opacity="0.81" transform="rotate(6 169.8 168.0)"/><ellipse cx="199.3" cy="159.3" rx="22.0" ry="31.0" fill="url(#gw)" opacity="0.18"/><ellipse cx="199.3" cy="167.0" rx="16.7" ry="15.0" fill="url(#gb)" opacity="0.61" transform="rotate(2 199.3 167.0)"/><ellipse cx="202.2" cy="153.3" rx="6.0" ry="9.0" fill="url(#gw)" opacity="0.09"/><ellipse cx="223.1" cy="165.7" rx="12.7" ry="16.9" fill="url(#gk)" opacity="0.81" transform="rotate(4 223.1 165.7)"/><ellipse cx="249.1" cy="159.3" rx="22.0" ry="31.0" fill="url(#gw)" opacity="0.18"/><ellipse cx="249.1" cy="168.4" rx="19.5" ry="17.3" fill="url(#gb)" opacity="0.71" transform="rotate(-8 249.1 168.4)"/><ellipse cx="247.2" cy="153.3" rx="6.0" ry="9.0" fill="url(#gw)" opacity="0.09"/><ellipse cx="274.9" cy="169.7" rx="11.9" ry="16.0" fill="url(#gk)" opacity="0.81" transform="rotate(-21 274.9 169.7)"/><ellipse cx="300.3" cy="159.3" rx="22.0" ry="31.0" fill="url(#gw)" opacity="0.18"/><ellipse cx="300.3" cy="167.1" rx="20.0" ry="16.7" fill="url(#gb)" opacity="0.71" transform="rotate(13 300.3 167.1)"/><ellipse cx="299.2" cy="153.3" rx="6.0" ry="9.0" fill="url(#gw)" opacity="0.09"/><ellipse cx="0.2" cy="236.7" rx="22.0" ry="31.0" fill="url(#gw)" opacity="0.18"/><ellipse cx="0.2" cy="243.9" rx="16.6" ry="17.1" fill="url(#gb)" opacity="0.66" transform="rotate(-19 0.2 243.9)"/><ellipse cx="1.2" cy="230.7" rx="6.0" ry="9.0" fill="url(#gw)" opacity="0.09"/><ellipse cx="25.6" cy="245.6" rx="12.5" ry="16.8" fill="url(#gk)" opacity="0.81" transform="rotate(18 25.6 245.6)"/><ellipse cx="51.9" cy="236.7" rx="22.0" ry="31.0" fill="url(#gw)" opacity="0.18"/><ellipse cx="51.9" cy="245.1" rx="19.9" ry="14.2" fill="url(#gb)" opacity="0.71" transform="rotate(9 51.9 245.1)"/><ellipse cx="50.4" cy="230.7" rx="6.0" ry="9.0" fill="url(#gw)" opacity="0.09"/><ellipse cx="76.3" cy="243.9" rx="13.1" ry="15.2" fill="url(#gk)" opacity="0.81" transform="rotate(27 76.3 243.9)"/><ellipse cx="99.4" cy="236.7" rx="22.0" ry="31.0" fill="url(#gw)" opacity="0.18"/><ellipse cx="99.4" cy="243.4" rx="17.0" ry="17.5" fill="url(#gb)" opacity="0.60" transform="rotate(17 99.4 243.4)"/><ellipse cx="102.0" cy="230.7" rx="6.0" ry="9.0" fill="url(#gw)" opacity="0.09"/><ellipse cx="125.0" cy="245.8" rx="12.9" ry="18.6" fill="url(#gk)" opacity="0.81" transform="rotate(-14 125.0 245.8)"/><ellipse cx="153.2" cy="236.7" rx="22.0" ry="31.0" fill="url(#gw)" opacity="0.18"/><ellipse cx="153.2" cy="245.4" rx="17.6" ry="15.4" fill="url(#gb)" opacity="0.68" transform="rotate(13 153.2 245.4)"/><ellipse cx="153.8" cy="230.7" rx="6.0" ry="9.0" fill="url(#gw)" opacity="0.09"/><ellipse cx="177.7" cy="247.2" rx="11.8" ry="19.3" fill="url(#gk)" opacity="0.81" transform="rotate(-27 177.7 247.2)"/><ellipse cx="203.8" cy="236.7" rx="22.0" ry="31.0" fill="url(#gw)" opacity="0.18"/><ellipse cx="203.8" cy="245.3" rx="19.3" ry="15.0" fill="url(#gb)" opacity="0.60" transform="rotate(6 203.8 245.3)"/><ellipse cx="204.9" cy="230.7" rx="6.0" ry="9.0" fill="url(#gw)" opacity="0.09"/><ellipse cx="227.7" cy="247.4" rx="11.2" ry="15.7" fill="url(#gk)" opacity="0.81" transform="rotate(-3 227.7 247.4)"/><ellipse cx="253.4" cy="236.7" rx="22.0" ry="31.0" fill="url(#gw)" opacity="0.18"/><ellipse cx="253.4" cy="243.5" rx="16.9" ry="15.9" fill="url(#gb)" opacity="0.69" transform="rotate(19 253.4 243.5)"/><ellipse cx="253.7" cy="230.7" rx="6.0" ry="9.0" fill="url(#gw)" opacity="0.09"/><ellipse cx="281.6" cy="246.7" rx="11.0" ry="15.4" fill="url(#gk)" opacity="0.81" transform="rotate(17 281.6 246.7)"/><ellipse cx="307.0" cy="236.7" rx="22.0" ry="31.0" fill="url(#gw)" opacity="0.18"/><ellipse cx="307.0" cy="245.8" rx="18.5" ry="17.4" fill="url(#gb)" opacity="0.68" transform="rotate(12 307.0 245.8)"/><ellipse cx="308.8" cy="230.7" rx="6.0" ry="9.0" fill="url(#gw)" opacity="0.09"/><ellipse cx="8.4" cy="57.0" rx="10.5" ry="6.5" fill="url(#gw)" opacity="0.59"/><ellipse cx="29.2" cy="56.5" rx="10.4" ry="7.1" fill="url(#gw)" opacity="0.49"/><ellipse cx="60.9" cy="57.6" rx="10.4" ry="8.0" fill="url(#gw)" opacity="0.54"/><ellipse cx="78.3" cy="56.5" rx="11.1" ry="6.7" fill="url(#gw)" opacity="0.47"/><ellipse cx="111.7" cy="55.9" rx="9.4" ry="6.8" fill="url(#gw)" opacity="0.48"/><ellipse cx="131.7" cy="55.6" rx="11.0" ry="6.6" fill="url(#gw)" opacity="0.52"/><ellipse cx="163.1" cy="55.2" rx="9.8" ry="6.8" fill="url(#gw)" opacity="0.49"/><ellipse cx="183.0" cy="55.6" rx="10.8" ry="8.3" fill="url(#gw)" opacity="0.49"/><ellipse cx="215.1" cy="56.0" rx="10.9" ry="7.7" fill="url(#gw)" opacity="0.49"/><ellipse cx="234.3" cy="56.9" rx="9.8" ry="7.6" fill="url(#gw)" opacity="0.51"/><ellipse cx="265.2" cy="57.5" rx="11.4" ry="6.8" fill="url(#gw)" opacity="0.50"/><ellipse cx="283.8" cy="55.2" rx="9.3" ry="7.4" fill="url(#gw)" opacity="0.59"/><ellipse cx="-1.9" cy="45.4" rx="19.0" ry="7.5" fill="url(#gk)" opacity="0.38" transform="rotate(-12 -1.9 45.4)"/><ellipse cx="10.8" cy="70.6" rx="19.0" ry="7.5" fill="url(#gk)" opacity="0.38" transform="rotate(-15 10.8 70.6)"/><ellipse cx="40.0" cy="43.6" rx="19.0" ry="7.5" fill="url(#gk)" opacity="0.38" transform="rotate(9 40.0 43.6)"/><ellipse cx="67.2" cy="70.4" rx="19.0" ry="7.5" fill="url(#gk)" opacity="0.38" transform="rotate(-24 67.2 70.4)"/><ellipse cx="92.0" cy="42.4" rx="19.0" ry="7.5" fill="url(#gk)" opacity="0.38" transform="rotate(5 92.0 42.4)"/><ellipse cx="112.8" cy="70.6" rx="19.0" ry="7.5" fill="url(#gk)" opacity="0.38" transform="rotate(6 112.8 70.6)"/><ellipse cx="148.5" cy="44.6" rx="19.0" ry="7.5" fill="url(#gk)" opacity="0.38" transform="rotate(-15 148.5 44.6)"/><ellipse cx="169.8" cy="70.3" rx="19.0" ry="7.5" fill="url(#gk)" opacity="0.38" transform="rotate(16 169.8 70.3)"/><ellipse cx="201.7" cy="42.6" rx="19.0" ry="7.5" fill="url(#gk)" opacity="0.38" transform="rotate(-22 201.7 42.6)"/><ellipse cx="214.7" cy="69.8" rx="19.0" ry="7.5" fill="url(#gk)" opacity="0.38" transform="rotate(-15 214.7 69.8)"/><ellipse cx="253.9" cy="45.3" rx="19.0" ry="7.5" fill="url(#gk)" opacity="0.38" transform="rotate(10 253.9 45.3)"/><ellipse cx="267.3" cy="67.5" rx="19.0" ry="7.5" fill="url(#gk)" opacity="0.38" transform="rotate(15 267.3 67.5)"/><ellipse cx="296.8" cy="43.9" rx="19.0" ry="7.5" fill="url(#gk)" opacity="0.38" transform="rotate(13 296.8 43.9)"/><ellipse cx="320.3" cy="67.8" rx="19.0" ry="7.5" fill="url(#gk)" opacity="0.38" transform="rotate(19 320.3 67.8)"/><ellipse cx="10.8" cy="132.3" rx="10.8" ry="6.6" fill="url(#gw)" opacity="0.50"/><ellipse cx="30.2" cy="133.1" rx="9.9" ry="7.6" fill="url(#gw)" opacity="0.55"/><ellipse cx="60.4" cy="133.1" rx="10.2" ry="7.1" fill="url(#gw)" opacity="0.60"/><ellipse cx="80.0" cy="133.2" rx="9.5" ry="8.4" fill="url(#gw)" opacity="0.50"/><ellipse cx="112.7" cy="133.1" rx="10.5" ry="8.3" fill="url(#gw)" opacity="0.53"/><ellipse cx="133.0" cy="131.3" rx="9.5" ry="7.3" fill="url(#gw)" opacity="0.48"/><ellipse cx="163.7" cy="132.6" rx="10.9" ry="7.3" fill="url(#gw)" opacity="0.50"/><ellipse cx="184.3" cy="131.7" rx="11.5" ry="6.5" fill="url(#gw)" opacity="0.53"/><ellipse cx="216.5" cy="131.8" rx="9.8" ry="6.8" fill="url(#gw)" opacity="0.51"/><ellipse cx="235.8" cy="131.4" rx="10.3" ry="6.8" fill="url(#gw)" opacity="0.60"/><ellipse cx="266.5" cy="132.9" rx="10.3" ry="7.1" fill="url(#gw)" opacity="0.46"/><ellipse cx="283.8" cy="132.0" rx="9.2" ry="8.1" fill="url(#gw)" opacity="0.54"/><ellipse cx="-6.4" cy="120.8" rx="19.0" ry="7.5" fill="url(#gk)" opacity="0.38" transform="rotate(-8 -6.4 120.8)"/><ellipse cx="12.0" cy="145.2" rx="19.0" ry="7.5" fill="url(#gk)" opacity="0.38" transform="rotate(-12 12.0 145.2)"/><ellipse cx="46.8" cy="121.0" rx="19.0" ry="7.5" fill="url(#gk)" opacity="0.38" transform="rotate(-21 46.8 121.0)"/><ellipse cx="60.6" cy="143.0" rx="19.0" ry="7.5" fill="url(#gk)" opacity="0.38" transform="rotate(-1 60.6 143.0)"/><ellipse cx="92.7" cy="120.0" rx="19.0" ry="7.5" fill="url(#gk)" opacity="0.38" transform="rotate(-17 92.7 120.0)"/><ellipse cx="115.7" cy="144.0" rx="19.0" ry="7.5" fill="url(#gk)" opacity="0.38" transform="rotate(12 115.7 144.0)"/><ellipse cx="152.4" cy="121.7" rx="19.0" ry="7.5" fill="url(#gk)" opacity="0.38" transform="rotate(-2 152.4 121.7)"/><ellipse cx="171.3" cy="146.3" rx="19.0" ry="7.5" fill="url(#gk)" opacity="0.38" transform="rotate(-8 171.3 146.3)"/><ellipse cx="205.6" cy="121.7" rx="19.0" ry="7.5" fill="url(#gk)" opacity="0.38" transform="rotate(-17 205.6 121.7)"/><ellipse cx="220.8" cy="145.6" rx="19.0" ry="7.5" fill="url(#gk)" opacity="0.38" transform="rotate(6 220.8 145.6)"/><ellipse cx="253.5" cy="119.0" rx="19.0" ry="7.5" fill="url(#gk)" opacity="0.38" transform="rotate(17 253.5 119.0)"/><ellipse cx="271.7" cy="143.6" rx="19.0" ry="7.5" fill="url(#gk)" opacity="0.38" transform="rotate(23 271.7 143.6)"/><ellipse cx="305.0" cy="118.1" rx="19.0" ry="7.5" fill="url(#gk)" opacity="0.38" transform="rotate(-23 305.0 118.1)"/><ellipse cx="316.2" cy="145.5" rx="19.0" ry="7.5" fill="url(#gk)" opacity="0.38" transform="rotate(11 316.2 145.5)"/><ellipse cx="13.4" cy="208.5" rx="9.5" ry="6.7" fill="url(#gw)" opacity="0.59"/><ellipse cx="31.5" cy="208.9" rx="11.1" ry="7.7" fill="url(#gw)" opacity="0.51"/><ellipse cx="63.9" cy="209.8" rx="10.3" ry="7.3" fill="url(#gw)" opacity="0.57"/><ellipse cx="82.1" cy="209.6" rx="11.1" ry="7.9" fill="url(#gw)" opacity="0.53"/><ellipse cx="114.9" cy="209.1" rx="9.3" ry="6.7" fill="url(#gw)" opacity="0.49"/><ellipse cx="135.1" cy="209.7" rx="9.1" ry="8.3" fill="url(#gw)" opacity="0.52"/><ellipse cx="165.9" cy="208.0" rx="9.8" ry="7.2" fill="url(#gw)" opacity="0.56"/><ellipse cx="184.2" cy="209.5" rx="10.5" ry="7.8" fill="url(#gw)" opacity="0.53"/><ellipse cx="217.3" cy="208.3" rx="11.1" ry="8.2" fill="url(#gw)" opacity="0.53"/><ellipse cx="237.0" cy="208.6" rx="9.7" ry="6.6" fill="url(#gw)" opacity="0.58"/><ellipse cx="269.6" cy="210.2" rx="10.5" ry="8.1" fill="url(#gw)" opacity="0.57"/><ellipse cx="285.4" cy="208.2" rx="11.2" ry="8.4" fill="url(#gw)" opacity="0.58"/><ellipse cx="-0.9" cy="197.2" rx="19.0" ry="7.5" fill="url(#gk)" opacity="0.38" transform="rotate(-5 -0.9 197.2)"/><ellipse cx="18.8" cy="220.8" rx="19.0" ry="7.5" fill="url(#gk)" opacity="0.38" transform="rotate(-22 18.8 220.8)"/><ellipse cx="51.3" cy="194.9" rx="19.0" ry="7.5" fill="url(#gk)" opacity="0.38" transform="rotate(11 51.3 194.9)"/><ellipse cx="67.5" cy="220.1" rx="19.0" ry="7.5" fill="url(#gk)" opacity="0.38" transform="rotate(-3 67.5 220.1)"/><ellipse cx="96.2" cy="197.9" rx="19.0" ry="7.5" fill="url(#gk)" opacity="0.38" transform="rotate(14 96.2 197.9)"/><ellipse cx="114.9" cy="220.3" rx="19.0" ry="7.5" fill="url(#gk)" opacity="0.38" transform="rotate(-8 114.9 220.3)"/><ellipse cx="149.4" cy="197.1" rx="19.0" ry="7.5" fill="url(#gk)" opacity="0.38" transform="rotate(22 149.4 197.1)"/><ellipse cx="166.0" cy="220.3" rx="19.0" ry="7.5" fill="url(#gk)" opacity="0.38" transform="rotate(6 166.0 220.3)"/><ellipse cx="200.4" cy="197.7" rx="19.0" ry="7.5" fill="url(#gk)" opacity="0.38" transform="rotate(8 200.4 197.7)"/><ellipse cx="219.9" cy="223.0" rx="19.0" ry="7.5" fill="url(#gk)" opacity="0.38" transform="rotate(-15 219.9 223.0)"/><ellipse cx="255.9" cy="195.4" rx="19.0" ry="7.5" fill="url(#gk)" opacity="0.38" transform="rotate(-1 255.9 195.4)"/><ellipse cx="271.2" cy="221.9" rx="19.0" ry="7.5" fill="url(#gk)" opacity="0.38" transform="rotate(-19 271.2 221.9)"/><ellipse cx="303.2" cy="195.8" rx="19.0" ry="7.5" fill="url(#gk)" opacity="0.38" transform="rotate(-11 303.2 195.8)"/><ellipse cx="320.8" cy="221.4" rx="19.0" ry="7.5" fill="url(#gk)" opacity="0.38" transform="rotate(-15 320.8 221.4)"/><ellipse cx="16.5" cy="281.8" rx="9.5" ry="7.0" fill="url(#gw)" opacity="0.56"/><ellipse cx="34.9" cy="281.2" rx="10.5" ry="7.5" fill="url(#gw)" opacity="0.52"/><ellipse cx="67.1" cy="281.4" rx="9.6" ry="8.0" fill="url(#gw)" opacity="0.60"/><ellipse cx="86.3" cy="281.2" rx="11.3" ry="7.3" fill="url(#gw)" opacity="0.46"/><ellipse cx="117.1" cy="281.7" rx="9.4" ry="6.5" fill="url(#gw)" opacity="0.56"/><ellipse cx="137.4" cy="280.8" rx="11.0" ry="7.9" fill="url(#gw)" opacity="0.50"/><ellipse cx="169.8" cy="279.7" rx="9.3" ry="7.1" fill="url(#gw)" opacity="0.57"/><ellipse cx="188.2" cy="281.2" rx="9.5" ry="7.5" fill="url(#gw)" opacity="0.48"/><ellipse cx="219.0" cy="280.1" rx="9.7" ry="7.9" fill="url(#gw)" opacity="0.49"/><ellipse cx="238.4" cy="280.7" rx="10.2" ry="7.8" fill="url(#gw)" opacity="0.60"/><ellipse cx="272.8" cy="280.2" rx="10.4" ry="7.3" fill="url(#gw)" opacity="0.48"/><ellipse cx="290.2" cy="281.0" rx="9.9" ry="8.4" fill="url(#gw)" opacity="0.54"/><ellipse cx="-4.4" cy="270.0" rx="19.0" ry="7.5" fill="url(#gk)" opacity="0.38" transform="rotate(9 -4.4 270.0)"/><ellipse cx="14.4" cy="295.1" rx="19.0" ry="7.5" fill="url(#gk)" opacity="0.38" transform="rotate(18 14.4 295.1)"/><ellipse cx="50.8" cy="269.4" rx="19.0" ry="7.5" fill="url(#gk)" opacity="0.38" transform="rotate(-20 50.8 269.4)"/><ellipse cx="66.0" cy="293.1" rx="19.0" ry="7.5" fill="url(#gk)" opacity="0.38" transform="rotate(22 66.0 293.1)"/><ellipse cx="100.3" cy="270.2" rx="19.0" ry="7.5" fill="url(#gk)" opacity="0.38" transform="rotate(4 100.3 270.2)"/><ellipse cx="122.5" cy="294.3" rx="19.0" ry="7.5" fill="url(#gk)" opacity="0.38" transform="rotate(-18 122.5 294.3)"/><ellipse cx="158.1" cy="268.6" rx="19.0" ry="7.5" fill="url(#gk)" opacity="0.38" transform="rotate(-19 158.1 268.6)"/><ellipse cx="166.9" cy="294.4" rx="19.0" ry="7.5" fill="url(#gk)" opacity="0.38" transform="rotate(3 166.9 294.4)"/><ellipse cx="209.4" cy="269.6" rx="19.0" ry="7.5" fill="url(#gk)" opacity="0.38" transform="rotate(2 209.4 269.6)"/><ellipse cx="221.3" cy="294.2" rx="19.0" ry="7.5" fill="url(#gk)" opacity="0.38" transform="rotate(24 221.3 294.2)"/><ellipse cx="253.2" cy="268.3" rx="19.0" ry="7.5" fill="url(#gk)" opacity="0.38" transform="rotate(-19 253.2 268.3)"/><ellipse cx="268.0" cy="291.4" rx="19.0" ry="7.5" fill="url(#gk)" opacity="0.38" transform="rotate(-6 268.0 291.4)"/><ellipse cx="308.1" cy="269.7" rx="19.0" ry="7.5" fill="url(#gk)" opacity="0.38" transform="rotate(13 308.1 269.7)"/><ellipse cx="330.3" cy="292.2" rx="19.0" ry="7.5" fill="url(#gk)" opacity="0.38" transform="rotate(18 330.3 292.2)"/>
</g></g>
<rect x="185.5" y="270.8" width="95.6" height="6.3" fill="#fff"/>
<rect x=".6" y=".6" width="289.7" height="287.3" fill="none" stroke="#111" stroke-width="1.2"/>
</svg>
<svg x="659.9" y="291.7" width="290.9" height="288.5">
<g filter="url(#fb2)"><rect width="293" height="290" fill="#525252"/>
<g transform="translate(0.6 0.6)">
<ellipse cx="-10.4" cy="14.0" rx="22.0" ry="31.0" fill="url(#gw)" opacity="0.18"/><ellipse cx="-10.4" cy="22.3" rx="19.4" ry="16.1" fill="url(#gb)" opacity="0.58" transform="rotate(-6 -10.4 22.3)"/><ellipse cx="-9.3" cy="8.0" rx="6.0" ry="9.0" fill="url(#gw)" opacity="0.09"/><ellipse cx="16.6" cy="19.3" rx="12.1" ry="18.1" fill="url(#gk)" opacity="0.88" transform="rotate(1 16.6 19.3)"/><ellipse cx="43.0" cy="14.0" rx="22.0" ry="31.0" fill="url(#gw)" opacity="0.18"/><ellipse cx="43.0" cy="22.7" rx="17.4" ry="14.4" fill="url(#gb)" opacity="0.61" transform="rotate(16 43.0 22.7)"/><ellipse cx="44.5" cy="8.0" rx="6.0" ry="9.0" fill="url(#gw)" opacity="0.09"/><ellipse cx="68.0" cy="21.7" rx="12.0" ry="16.1" fill="url(#gk)" opacity="0.88" transform="rotate(2 68.0 21.7)"/><ellipse cx="92.1" cy="14.0" rx="22.0" ry="31.0" fill="url(#gw)" opacity="0.18"/><ellipse cx="92.1" cy="22.4" rx="19.2" ry="14.9" fill="url(#gb)" opacity="0.64" transform="rotate(-20 92.1 22.4)"/><ellipse cx="91.8" cy="8.0" rx="6.0" ry="9.0" fill="url(#gw)" opacity="0.09"/><ellipse cx="119.6" cy="22.1" rx="12.7" ry="17.2" fill="url(#gk)" opacity="0.88" transform="rotate(-6 119.6 22.1)"/><ellipse cx="145.6" cy="14.0" rx="22.0" ry="31.0" fill="url(#gw)" opacity="0.18"/><ellipse cx="145.6" cy="21.0" rx="18.9" ry="16.2" fill="url(#gb)" opacity="0.59" transform="rotate(-3 145.6 21.0)"/><ellipse cx="146.4" cy="8.0" rx="6.0" ry="9.0" fill="url(#gw)" opacity="0.09"/><ellipse cx="169.7" cy="23.0" rx="13.2" ry="19.1" fill="url(#gk)" opacity="0.88" transform="rotate(8 169.7 23.0)"/><ellipse cx="195.3" cy="14.0" rx="22.0" ry="31.0" fill="url(#gw)" opacity="0.18"/><ellipse cx="195.3" cy="23.3" rx="19.0" ry="17.0" fill="url(#gb)" opacity="0.61" transform="rotate(9 195.3 23.3)"/><ellipse cx="195.3" cy="8.0" rx="6.0" ry="9.0" fill="url(#gw)" opacity="0.09"/><ellipse cx="222.0" cy="22.6" rx="13.2" ry="18.1" fill="url(#gk)" opacity="0.88" transform="rotate(2 222.0 22.6)"/><ellipse cx="248.1" cy="14.0" rx="22.0" ry="31.0" fill="url(#gw)" opacity="0.18"/><ellipse cx="248.1" cy="22.1" rx="20.3" ry="17.3" fill="url(#gb)" opacity="0.61" transform="rotate(-16 248.1 22.1)"/><ellipse cx="246.5" cy="8.0" rx="6.0" ry="9.0" fill="url(#gw)" opacity="0.09"/><ellipse cx="273.7" cy="24.3" rx="11.7" ry="16.3" fill="url(#gk)" opacity="0.88" transform="rotate(11 273.7 24.3)"/><ellipse cx="299.2" cy="14.0" rx="22.0" ry="31.0" fill="url(#gw)" opacity="0.18"/><ellipse cx="299.2" cy="21.1" rx="19.2" ry="14.8" fill="url(#gb)" opacity="0.61" transform="rotate(-4 299.2 21.1)"/><ellipse cx="297.9" cy="8.0" rx="6.0" ry="9.0" fill="url(#gw)" opacity="0.09"/><ellipse cx="-3.5" cy="84.3" rx="22.0" ry="31.0" fill="url(#gw)" opacity="0.18"/><ellipse cx="-3.5" cy="91.5" rx="18.1" ry="14.5" fill="url(#gb)" opacity="0.57" transform="rotate(-19 -3.5 91.5)"/><ellipse cx="-4.7" cy="78.3" rx="6.0" ry="9.0" fill="url(#gw)" opacity="0.09"/><ellipse cx="21.9" cy="91.2" rx="12.7" ry="17.1" fill="url(#gk)" opacity="0.88" transform="rotate(-15 21.9 91.2)"/><ellipse cx="46.9" cy="84.3" rx="22.0" ry="31.0" fill="url(#gw)" opacity="0.18"/><ellipse cx="46.9" cy="91.7" rx="17.3" ry="15.6" fill="url(#gb)" opacity="0.65" transform="rotate(15 46.9 91.7)"/><ellipse cx="49.0" cy="78.3" rx="6.0" ry="9.0" fill="url(#gw)" opacity="0.09"/><ellipse cx="72.1" cy="94.4" rx="12.4" ry="16.1" fill="url(#gk)" opacity="0.88" transform="rotate(-24 72.1 94.4)"/><ellipse cx="95.7" cy="84.3" rx="22.0" ry="31.0" fill="url(#gw)" opacity="0.18"/><ellipse cx="95.7" cy="93.2" rx="19.8" ry="17.4" fill="url(#gb)" opacity="0.61" transform="rotate(21 95.7 93.2)"/><ellipse cx="96.1" cy="78.3" rx="6.0" ry="9.0" fill="url(#gw)" opacity="0.09"/><ellipse cx="120.9" cy="91.0" rx="11.2" ry="18.2" fill="url(#gk)" opacity="0.88" transform="rotate(12 120.9 91.0)"/><ellipse cx="150.3" cy="84.3" rx="22.0" ry="31.0" fill="url(#gw)" opacity="0.18"/><ellipse cx="150.3" cy="92.9" rx="19.1" ry="15.7" fill="url(#gb)" opacity="0.68" transform="rotate(17 150.3 92.9)"/><ellipse cx="149.6" cy="78.3" rx="6.0" ry="9.0" fill="url(#gw)" opacity="0.09"/><ellipse cx="175.4" cy="93.7" rx="13.1" ry="15.3" fill="url(#gk)" opacity="0.88" transform="rotate(-19 175.4 93.7)"/><ellipse cx="200.9" cy="84.3" rx="22.0" ry="31.0" fill="url(#gw)" opacity="0.18"/><ellipse cx="200.9" cy="91.2" rx="18.9" ry="15.7" fill="url(#gb)" opacity="0.61" transform="rotate(19 200.9 91.2)"/><ellipse cx="203.7" cy="78.3" rx="6.0" ry="9.0" fill="url(#gw)" opacity="0.09"/><ellipse cx="224.2" cy="90.1" rx="13.2" ry="17.3" fill="url(#gk)" opacity="0.88" transform="rotate(-15 224.2 90.1)"/><ellipse cx="249.0" cy="84.3" rx="22.0" ry="31.0" fill="url(#gw)" opacity="0.18"/><ellipse cx="249.0" cy="90.8" rx="17.6" ry="15.9" fill="url(#gb)" opacity="0.63" transform="rotate(21 249.0 90.8)"/><ellipse cx="249.4" cy="78.3" rx="6.0" ry="9.0" fill="url(#gw)" opacity="0.09"/><ellipse cx="277.5" cy="89.7" rx="12.8" ry="18.8" fill="url(#gk)" opacity="0.88" transform="rotate(28 277.5 89.7)"/><ellipse cx="299.9" cy="84.3" rx="22.0" ry="31.0" fill="url(#gw)" opacity="0.18"/><ellipse cx="299.9" cy="92.3" rx="18.9" ry="15.6" fill="url(#gb)" opacity="0.63" transform="rotate(-11 299.9 92.3)"/><ellipse cx="302.4" cy="78.3" rx="6.0" ry="9.0" fill="url(#gw)" opacity="0.09"/><ellipse cx="-5.8" cy="159.3" rx="22.0" ry="31.0" fill="url(#gw)" opacity="0.18"/><ellipse cx="-5.8" cy="167.9" rx="18.7" ry="14.3" fill="url(#gb)" opacity="0.68" transform="rotate(10 -5.8 167.9)"/><ellipse cx="-7.2" cy="153.3" rx="6.0" ry="9.0" fill="url(#gw)" opacity="0.09"/><ellipse cx="19.7" cy="168.2" rx="11.1" ry="15.8" fill="url(#gk)" opacity="0.88" transform="rotate(-26 19.7 168.2)"/><ellipse cx="43.3" cy="159.3" rx="22.0" ry="31.0" fill="url(#gw)" opacity="0.18"/><ellipse cx="43.3" cy="168.7" rx="20.0" ry="14.5" fill="url(#gb)" opacity="0.59" transform="rotate(-8 43.3 168.7)"/><ellipse cx="43.7" cy="153.3" rx="6.0" ry="9.0" fill="url(#gw)" opacity="0.09"/><ellipse cx="69.0" cy="170.1" rx="11.2" ry="17.4" fill="url(#gk)" opacity="0.88" transform="rotate(-18 69.0 170.1)"/><ellipse cx="93.7" cy="159.3" rx="22.0" ry="31.0" fill="url(#gw)" opacity="0.18"/><ellipse cx="93.7" cy="167.9" rx="18.4" ry="16.4" fill="url(#gb)" opacity="0.60" transform="rotate(-21 93.7 167.9)"/><ellipse cx="92.0" cy="153.3" rx="6.0" ry="9.0" fill="url(#gw)" opacity="0.09"/><ellipse cx="121.0" cy="170.3" rx="10.6" ry="17.3" fill="url(#gk)" opacity="0.88" transform="rotate(30 121.0 170.3)"/><ellipse cx="146.5" cy="159.3" rx="22.0" ry="31.0" fill="url(#gw)" opacity="0.18"/><ellipse cx="146.5" cy="168.8" rx="20.4" ry="14.2" fill="url(#gb)" opacity="0.62" transform="rotate(-1 146.5 168.8)"/><ellipse cx="148.7" cy="153.3" rx="6.0" ry="9.0" fill="url(#gw)" opacity="0.09"/><ellipse cx="171.2" cy="166.9" rx="11.8" ry="16.9" fill="url(#gk)" opacity="0.88" transform="rotate(19 171.2 166.9)"/><ellipse cx="199.2" cy="159.3" rx="22.0" ry="31.0" fill="url(#gw)" opacity="0.18"/><ellipse cx="199.2" cy="166.5" rx="19.7" ry="16.6" fill="url(#gb)" opacity="0.60" transform="rotate(16 199.2 166.5)"/><ellipse cx="200.6" cy="153.3" rx="6.0" ry="9.0" fill="url(#gw)" opacity="0.09"/><ellipse cx="225.6" cy="169.4" rx="12.4" ry="16.4" fill="url(#gk)" opacity="0.88" transform="rotate(-25 225.6 169.4)"/><ellipse cx="251.2" cy="159.3" rx="22.0" ry="31.0" fill="url(#gw)" opacity="0.18"/><ellipse cx="251.2" cy="168.4" rx="17.6" ry="16.6" fill="url(#gb)" opacity="0.67" transform="rotate(22 251.2 168.4)"/><ellipse cx="250.2" cy="153.3" rx="6.0" ry="9.0" fill="url(#gw)" opacity="0.09"/><ellipse cx="273.8" cy="165.3" rx="11.2" ry="18.4" fill="url(#gk)" opacity="0.88" transform="rotate(19 273.8 165.3)"/><ellipse cx="302.3" cy="159.3" rx="22.0" ry="31.0" fill="url(#gw)" opacity="0.18"/><ellipse cx="302.3" cy="167.9" rx="20.4" ry="15.5" fill="url(#gb)" opacity="0.68" transform="rotate(21 302.3 167.9)"/><ellipse cx="303.9" cy="153.3" rx="6.0" ry="9.0" fill="url(#gw)" opacity="0.09"/><ellipse cx="-1.4" cy="236.7" rx="22.0" ry="31.0" fill="url(#gw)" opacity="0.18"/><ellipse cx="-1.4" cy="245.0" rx="18.1" ry="16.8" fill="url(#gb)" opacity="0.58" transform="rotate(-25 -1.4 245.0)"/><ellipse cx="-0.7" cy="230.7" rx="6.0" ry="9.0" fill="url(#gw)" opacity="0.09"/><ellipse cx="24.7" cy="243.4" rx="10.7" ry="17.6" fill="url(#gk)" opacity="0.88" transform="rotate(-10 24.7 243.4)"/><ellipse cx="49.4" cy="236.7" rx="22.0" ry="31.0" fill="url(#gw)" opacity="0.18"/><ellipse cx="49.4" cy="244.4" rx="16.8" ry="16.7" fill="url(#gb)" opacity="0.64" transform="rotate(-21 49.4 244.4)"/><ellipse cx="49.7" cy="230.7" rx="6.0" ry="9.0" fill="url(#gw)" opacity="0.09"/><ellipse cx="75.2" cy="246.8" rx="13.2" ry="18.7" fill="url(#gk)" opacity="0.88" transform="rotate(-12 75.2 246.8)"/><ellipse cx="100.3" cy="236.7" rx="22.0" ry="31.0" fill="url(#gw)" opacity="0.18"/><ellipse cx="100.3" cy="245.7" rx="19.0" ry="16.5" fill="url(#gb)" opacity="0.62" transform="rotate(-15 100.3 245.7)"/><ellipse cx="100.2" cy="230.7" rx="6.0" ry="9.0" fill="url(#gw)" opacity="0.09"/><ellipse cx="128.1" cy="243.7" rx="13.0" ry="15.8" fill="url(#gk)" opacity="0.88" transform="rotate(-29 128.1 243.7)"/><ellipse cx="151.8" cy="236.7" rx="22.0" ry="31.0" fill="url(#gw)" opacity="0.18"/><ellipse cx="151.8" cy="244.0" rx="19.6" ry="14.1" fill="url(#gb)" opacity="0.63" transform="rotate(-0 151.8 244.0)"/><ellipse cx="151.7" cy="230.7" rx="6.0" ry="9.0" fill="url(#gw)" opacity="0.09"/><ellipse cx="179.4" cy="246.8" rx="13.2" ry="18.7" fill="url(#gk)" opacity="0.88" transform="rotate(-9 179.4 246.8)"/><ellipse cx="204.1" cy="236.7" rx="22.0" ry="31.0" fill="url(#gw)" opacity="0.18"/><ellipse cx="204.1" cy="244.8" rx="17.7" ry="16.3" fill="url(#gb)" opacity="0.60" transform="rotate(20 204.1 244.8)"/><ellipse cx="203.3" cy="230.7" rx="6.0" ry="9.0" fill="url(#gw)" opacity="0.09"/><ellipse cx="228.6" cy="242.6" rx="11.6" ry="16.9" fill="url(#gk)" opacity="0.88" transform="rotate(-24 228.6 242.6)"/><ellipse cx="255.1" cy="236.7" rx="22.0" ry="31.0" fill="url(#gw)" opacity="0.18"/><ellipse cx="255.1" cy="244.2" rx="17.5" ry="16.6" fill="url(#gb)" opacity="0.66" transform="rotate(24 255.1 244.2)"/><ellipse cx="254.0" cy="230.7" rx="6.0" ry="9.0" fill="url(#gw)" opacity="0.09"/><ellipse cx="279.8" cy="247.5" rx="11.7" ry="16.6" fill="url(#gk)" opacity="0.88" transform="rotate(-21 279.8 247.5)"/><ellipse cx="306.9" cy="236.7" rx="22.0" ry="31.0" fill="url(#gw)" opacity="0.18"/><ellipse cx="306.9" cy="244.2" rx="18.7" ry="14.6" fill="url(#gb)" opacity="0.67" transform="rotate(25 306.9 244.2)"/><ellipse cx="309.4" cy="230.7" rx="6.0" ry="9.0" fill="url(#gw)" opacity="0.09"/><ellipse cx="9.7" cy="57.0" rx="11.4" ry="6.9" fill="url(#gw)" opacity="0.57"/><ellipse cx="29.3" cy="56.2" rx="11.5" ry="8.2" fill="url(#gw)" opacity="0.49"/><ellipse cx="59.2" cy="56.7" rx="10.5" ry="7.7" fill="url(#gw)" opacity="0.53"/><ellipse cx="79.1" cy="57.3" rx="10.5" ry="6.8" fill="url(#gw)" opacity="0.57"/><ellipse cx="110.9" cy="57.4" rx="11.3" ry="6.9" fill="url(#gw)" opacity="0.58"/><ellipse cx="131.5" cy="56.3" rx="9.9" ry="8.0" fill="url(#gw)" opacity="0.49"/><ellipse cx="161.8" cy="56.5" rx="11.2" ry="8.4" fill="url(#gw)" opacity="0.51"/><ellipse cx="182.7" cy="56.0" rx="11.4" ry="7.3" fill="url(#gw)" opacity="0.47"/><ellipse cx="213.8" cy="56.4" rx="9.4" ry="8.0" fill="url(#gw)" opacity="0.47"/><ellipse cx="234.0" cy="55.8" rx="10.2" ry="7.8" fill="url(#gw)" opacity="0.50"/><ellipse cx="265.2" cy="57.2" rx="10.0" ry="7.2" fill="url(#gw)" opacity="0.49"/><ellipse cx="283.8" cy="57.3" rx="10.4" ry="8.2" fill="url(#gw)" opacity="0.55"/><ellipse cx="-1.8" cy="45.6" rx="19.0" ry="7.5" fill="url(#gk)" opacity="0.44" transform="rotate(21 -1.8 45.6)"/><ellipse cx="13.8" cy="69.7" rx="19.0" ry="7.5" fill="url(#gk)" opacity="0.44" transform="rotate(-6 13.8 69.7)"/><ellipse cx="40.0" cy="45.6" rx="19.0" ry="7.5" fill="url(#gk)" opacity="0.44" transform="rotate(-4 40.0 45.6)"/><ellipse cx="60.8" cy="69.1" rx="19.0" ry="7.5" fill="url(#gk)" opacity="0.44" transform="rotate(13 60.8 69.1)"/><ellipse cx="99.9" cy="42.4" rx="19.0" ry="7.5" fill="url(#gk)" opacity="0.44" transform="rotate(14 99.9 42.4)"/><ellipse cx="119.2" cy="70.8" rx="19.0" ry="7.5" fill="url(#gk)" opacity="0.44" transform="rotate(22 119.2 70.8)"/><ellipse cx="148.0" cy="45.5" rx="19.0" ry="7.5" fill="url(#gk)" opacity="0.44" transform="rotate(5 148.0 45.5)"/><ellipse cx="169.3" cy="70.9" rx="19.0" ry="7.5" fill="url(#gk)" opacity="0.44" transform="rotate(-6 169.3 70.9)"/><ellipse cx="193.8" cy="44.9" rx="19.0" ry="7.5" fill="url(#gk)" opacity="0.44" transform="rotate(22 193.8 44.9)"/><ellipse cx="221.2" cy="68.8" rx="19.0" ry="7.5" fill="url(#gk)" opacity="0.44" transform="rotate(-3 221.2 68.8)"/><ellipse cx="245.0" cy="45.3" rx="19.0" ry="7.5" fill="url(#gk)" opacity="0.44" transform="rotate(-11 245.0 45.3)"/><ellipse cx="263.0" cy="67.3" rx="19.0" ry="7.5" fill="url(#gk)" opacity="0.44" transform="rotate(22 263.0 67.3)"/><ellipse cx="299.7" cy="45.1" rx="19.0" ry="7.5" fill="url(#gk)" opacity="0.44" transform="rotate(-21 299.7 45.1)"/><ellipse cx="318.5" cy="69.9" rx="19.0" ry="7.5" fill="url(#gk)" opacity="0.44" transform="rotate(14 318.5 69.9)"/><ellipse cx="11.0" cy="133.2" rx="11.3" ry="6.7" fill="url(#gw)" opacity="0.48"/><ellipse cx="31.1" cy="132.7" rx="11.0" ry="7.1" fill="url(#gw)" opacity="0.54"/><ellipse cx="60.3" cy="133.1" rx="10.4" ry="6.9" fill="url(#gw)" opacity="0.53"/><ellipse cx="80.0" cy="131.3" rx="10.8" ry="6.7" fill="url(#gw)" opacity="0.59"/><ellipse cx="112.3" cy="131.3" rx="10.8" ry="7.7" fill="url(#gw)" opacity="0.55"/><ellipse cx="133.0" cy="132.9" rx="9.4" ry="7.3" fill="url(#gw)" opacity="0.55"/><ellipse cx="165.1" cy="132.7" rx="10.2" ry="8.1" fill="url(#gw)" opacity="0.54"/><ellipse cx="183.0" cy="131.6" rx="9.0" ry="8.2" fill="url(#gw)" opacity="0.58"/><ellipse cx="215.9" cy="132.5" rx="10.6" ry="8.4" fill="url(#gw)" opacity="0.49"/><ellipse cx="234.1" cy="132.2" rx="9.5" ry="7.3" fill="url(#gw)" opacity="0.55"/><ellipse cx="267.6" cy="132.7" rx="11.2" ry="8.5" fill="url(#gw)" opacity="0.56"/><ellipse cx="285.3" cy="132.8" rx="9.1" ry="8.5" fill="url(#gw)" opacity="0.49"/><ellipse cx="-6.2" cy="120.6" rx="19.0" ry="7.5" fill="url(#gk)" opacity="0.44" transform="rotate(-14 -6.2 120.6)"/><ellipse cx="12.1" cy="143.4" rx="19.0" ry="7.5" fill="url(#gk)" opacity="0.44" transform="rotate(23 12.1 143.4)"/><ellipse cx="40.7" cy="118.2" rx="19.0" ry="7.5" fill="url(#gk)" opacity="0.44" transform="rotate(11 40.7 118.2)"/><ellipse cx="65.1" cy="144.2" rx="19.0" ry="7.5" fill="url(#gk)" opacity="0.44" transform="rotate(22 65.1 144.2)"/><ellipse cx="99.8" cy="119.7" rx="19.0" ry="7.5" fill="url(#gk)" opacity="0.44" transform="rotate(11 99.8 119.7)"/><ellipse cx="120.6" cy="146.4" rx="19.0" ry="7.5" fill="url(#gk)" opacity="0.44" transform="rotate(-7 120.6 146.4)"/><ellipse cx="151.9" cy="118.8" rx="19.0" ry="7.5" fill="url(#gk)" opacity="0.44" transform="rotate(-6 151.9 118.8)"/><ellipse cx="172.5" cy="145.8" rx="19.0" ry="7.5" fill="url(#gk)" opacity="0.44" transform="rotate(-5 172.5 145.8)"/><ellipse cx="200.3" cy="119.6" rx="19.0" ry="7.5" fill="url(#gk)" opacity="0.44" transform="rotate(10 200.3 119.6)"/><ellipse cx="218.1" cy="144.7" rx="19.0" ry="7.5" fill="url(#gk)" opacity="0.44" transform="rotate(-4 218.1 144.7)"/><ellipse cx="255.6" cy="121.1" rx="19.0" ry="7.5" fill="url(#gk)" opacity="0.44" transform="rotate(-13 255.6 121.1)"/><ellipse cx="267.8" cy="146.5" rx="19.0" ry="7.5" fill="url(#gk)" opacity="0.44" transform="rotate(11 267.8 146.5)"/><ellipse cx="303.4" cy="120.4" rx="19.0" ry="7.5" fill="url(#gk)" opacity="0.44" transform="rotate(-15 303.4 120.4)"/><ellipse cx="321.0" cy="145.9" rx="19.0" ry="7.5" fill="url(#gk)" opacity="0.44" transform="rotate(-3 321.0 145.9)"/><ellipse cx="12.3" cy="209.4" rx="9.5" ry="8.1" fill="url(#gw)" opacity="0.52"/><ellipse cx="32.4" cy="209.3" rx="9.6" ry="7.0" fill="url(#gw)" opacity="0.47"/><ellipse cx="62.2" cy="210.4" rx="9.7" ry="6.7" fill="url(#gw)" opacity="0.50"/><ellipse cx="83.3" cy="208.7" rx="9.6" ry="7.7" fill="url(#gw)" opacity="0.55"/><ellipse cx="114.6" cy="209.4" rx="11.5" ry="7.3" fill="url(#gw)" opacity="0.50"/><ellipse cx="134.5" cy="209.4" rx="11.2" ry="7.4" fill="url(#gw)" opacity="0.51"/><ellipse cx="165.7" cy="209.4" rx="10.2" ry="6.8" fill="url(#gw)" opacity="0.55"/><ellipse cx="184.9" cy="210.4" rx="10.3" ry="7.5" fill="url(#gw)" opacity="0.47"/><ellipse cx="217.9" cy="208.9" rx="10.0" ry="7.2" fill="url(#gw)" opacity="0.52"/><ellipse cx="236.4" cy="209.4" rx="11.3" ry="7.2" fill="url(#gw)" opacity="0.54"/><ellipse cx="269.9" cy="209.8" rx="11.1" ry="8.1" fill="url(#gw)" opacity="0.55"/><ellipse cx="286.6" cy="208.8" rx="9.9" ry="6.8" fill="url(#gw)" opacity="0.48"/><ellipse cx="-0.1" cy="198.4" rx="19.0" ry="7.5" fill="url(#gk)" opacity="0.44" transform="rotate(18 -0.1 198.4)"/><ellipse cx="13.7" cy="223.4" rx="19.0" ry="7.5" fill="url(#gk)" opacity="0.44" transform="rotate(15 13.7 223.4)"/><ellipse cx="49.1" cy="197.9" rx="19.0" ry="7.5" fill="url(#gk)" opacity="0.44" transform="rotate(14 49.1 197.9)"/><ellipse cx="59.8" cy="222.2" rx="19.0" ry="7.5" fill="url(#gk)" opacity="0.44" transform="rotate(7 59.8 222.2)"/><ellipse cx="97.2" cy="197.9" rx="19.0" ry="7.5" fill="url(#gk)" opacity="0.44" transform="rotate(12 97.2 197.9)"/><ellipse cx="112.0" cy="221.2" rx="19.0" ry="7.5" fill="url(#gk)" opacity="0.44" transform="rotate(-25 112.0 221.2)"/><ellipse cx="148.6" cy="195.1" rx="19.0" ry="7.5" fill="url(#gk)" opacity="0.44" transform="rotate(-25 148.6 195.1)"/><ellipse cx="165.7" cy="222.6" rx="19.0" ry="7.5" fill="url(#gk)" opacity="0.44" transform="rotate(-16 165.7 222.6)"/><ellipse cx="206.9" cy="195.4" rx="19.0" ry="7.5" fill="url(#gk)" opacity="0.44" transform="rotate(16 206.9 195.4)"/><ellipse cx="216.5" cy="223.2" rx="19.0" ry="7.5" fill="url(#gk)" opacity="0.44" transform="rotate(0 216.5 223.2)"/><ellipse cx="256.6" cy="196.5" rx="19.0" ry="7.5" fill="url(#gk)" opacity="0.44" transform="rotate(-11 256.6 196.5)"/><ellipse cx="275.1" cy="219.8" rx="19.0" ry="7.5" fill="url(#gk)" opacity="0.44" transform="rotate(-19 275.1 219.8)"/><ellipse cx="299.4" cy="196.9" rx="19.0" ry="7.5" fill="url(#gk)" opacity="0.44" transform="rotate(13 299.4 196.9)"/><ellipse cx="318.6" cy="222.0" rx="19.0" ry="7.5" fill="url(#gk)" opacity="0.44" transform="rotate(18 318.6 222.0)"/><ellipse cx="16.1" cy="279.8" rx="9.1" ry="7.5" fill="url(#gw)" opacity="0.46"/><ellipse cx="34.4" cy="281.0" rx="9.0" ry="7.7" fill="url(#gw)" opacity="0.51"/><ellipse cx="67.1" cy="280.6" rx="9.5" ry="7.5" fill="url(#gw)" opacity="0.48"/><ellipse cx="84.2" cy="281.3" rx="10.1" ry="8.2" fill="url(#gw)" opacity="0.52"/><ellipse cx="118.5" cy="281.8" rx="9.7" ry="7.6" fill="url(#gw)" opacity="0.57"/><ellipse cx="137.3" cy="281.3" rx="10.9" ry="7.8" fill="url(#gw)" opacity="0.54"/><ellipse cx="168.8" cy="279.8" rx="9.7" ry="6.7" fill="url(#gw)" opacity="0.54"/><ellipse cx="188.4" cy="280.0" rx="9.9" ry="8.2" fill="url(#gw)" opacity="0.54"/><ellipse cx="220.3" cy="280.7" rx="10.2" ry="7.1" fill="url(#gw)" opacity="0.48"/><ellipse cx="239.5" cy="280.7" rx="9.2" ry="6.6" fill="url(#gw)" opacity="0.60"/><ellipse cx="271.1" cy="281.1" rx="10.8" ry="6.6" fill="url(#gw)" opacity="0.52"/><ellipse cx="288.8" cy="281.1" rx="10.4" ry="8.2" fill="url(#gw)" opacity="0.51"/><ellipse cx="-6.0" cy="268.1" rx="19.0" ry="7.5" fill="url(#gk)" opacity="0.44" transform="rotate(11 -6.0 268.1)"/><ellipse cx="13.5" cy="291.4" rx="19.0" ry="7.5" fill="url(#gk)" opacity="0.44" transform="rotate(-3 13.5 291.4)"/><ellipse cx="47.5" cy="266.4" rx="19.0" ry="7.5" fill="url(#gk)" opacity="0.44" transform="rotate(17 47.5 266.4)"/><ellipse cx="71.6" cy="293.9" rx="19.0" ry="7.5" fill="url(#gk)" opacity="0.44" transform="rotate(19 71.6 293.9)"/><ellipse cx="104.7" cy="268.0" rx="19.0" ry="7.5" fill="url(#gk)" opacity="0.44" transform="rotate(13 104.7 268.0)"/><ellipse cx="125.1" cy="295.0" rx="19.0" ry="7.5" fill="url(#gk)" opacity="0.44" transform="rotate(19 125.1 295.0)"/><ellipse cx="156.6" cy="270.1" rx="19.0" ry="7.5" fill="url(#gk)" opacity="0.44" transform="rotate(22 156.6 270.1)"/><ellipse cx="172.7" cy="292.9" rx="19.0" ry="7.5" fill="url(#gk)" opacity="0.44" transform="rotate(10 172.7 292.9)"/><ellipse cx="210.0" cy="266.6" rx="19.0" ry="7.5" fill="url(#gk)" opacity="0.44" transform="rotate(-3 210.0 266.6)"/><ellipse cx="218.0" cy="291.6" rx="19.0" ry="7.5" fill="url(#gk)" opacity="0.44" transform="rotate(4 218.0 291.6)"/><ellipse cx="251.7" cy="266.6" rx="19.0" ry="7.5" fill="url(#gk)" opacity="0.44" transform="rotate(4 251.7 266.6)"/><ellipse cx="274.2" cy="293.2" rx="19.0" ry="7.5" fill="url(#gk)" opacity="0.44" transform="rotate(-24 274.2 293.2)"/><ellipse cx="302.3" cy="268.4" rx="19.0" ry="7.5" fill="url(#gk)" opacity="0.44" transform="rotate(-22 302.3 268.4)"/><ellipse cx="320.0" cy="292.6" rx="19.0" ry="7.5" fill="url(#gk)" opacity="0.44" transform="rotate(22 320.0 292.6)"/>
</g></g>
<rect x="185.5" y="270.8" width="95.6" height="6.3" fill="#fff"/>
<rect x=".6" y=".6" width="289.7" height="287.3" fill="none" stroke="#111" stroke-width="1.2"/>
</svg>
<svg x="960.1" y="291.7" width="290.9" height="288.5">
<g filter="url(#fb3)"><rect width="293" height="290" fill="#525252"/>
<g transform="translate(0.6 0.6)">
<ellipse cx="-7.9" cy="14.0" rx="22.0" ry="31.0" fill="url(#gw)" opacity="0.18"/><ellipse cx="-7.9" cy="21.9" rx="22.4" ry="11.8" fill="url(#gb)" opacity="0.41" transform="rotate(-21 -7.9 21.9)"/><ellipse cx="-6.8" cy="8.0" rx="6.0" ry="9.0" fill="url(#gw)" opacity="0.05"/><ellipse cx="14.8" cy="21.3" rx="13.2" ry="19.4" fill="url(#gk)" opacity="0.53" transform="rotate(-23 14.8 21.3)"/><ellipse cx="40.6" cy="14.0" rx="22.0" ry="31.0" fill="url(#gw)" opacity="0.18"/><ellipse cx="40.6" cy="21.2" rx="19.6" ry="11.8" fill="url(#gb)" opacity="0.43" transform="rotate(-20 40.6 21.2)"/><ellipse cx="39.3" cy="8.0" rx="6.0" ry="9.0" fill="url(#gw)" opacity="0.05"/><ellipse cx="67.6" cy="20.1" rx="11.7" ry="18.7" fill="url(#gk)" opacity="0.53" transform="rotate(13 67.6 20.1)"/><ellipse cx="92.9" cy="14.0" rx="22.0" ry="31.0" fill="url(#gw)" opacity="0.18"/><ellipse cx="92.9" cy="22.9" rx="22.8" ry="11.9" fill="url(#gb)" opacity="0.40" transform="rotate(-7 92.9 22.9)"/><ellipse cx="93.8" cy="8.0" rx="6.0" ry="9.0" fill="url(#gw)" opacity="0.05"/><ellipse cx="120.6" cy="22.7" rx="11.9" ry="16.3" fill="url(#gk)" opacity="0.53" transform="rotate(-13 120.6 22.7)"/><ellipse cx="143.5" cy="14.0" rx="22.0" ry="31.0" fill="url(#gw)" opacity="0.18"/><ellipse cx="143.5" cy="23.5" rx="23.1" ry="12.8" fill="url(#gb)" opacity="0.43" transform="rotate(10 143.5 23.5)"/><ellipse cx="143.0" cy="8.0" rx="6.0" ry="9.0" fill="url(#gw)" opacity="0.05"/><ellipse cx="169.8" cy="19.9" rx="11.8" ry="16.3" fill="url(#gk)" opacity="0.53" transform="rotate(-24 169.8 19.9)"/><ellipse cx="196.7" cy="14.0" rx="22.0" ry="31.0" fill="url(#gw)" opacity="0.18"/><ellipse cx="196.7" cy="20.8" rx="22.3" ry="11.3" fill="url(#gb)" opacity="0.43" transform="rotate(-1 196.7 20.8)"/><ellipse cx="199.6" cy="8.0" rx="6.0" ry="9.0" fill="url(#gw)" opacity="0.05"/><ellipse cx="223.0" cy="22.4" rx="12.8" ry="18.5" fill="url(#gk)" opacity="0.53" transform="rotate(-12 223.0 22.4)"/><ellipse cx="246.8" cy="14.0" rx="22.0" ry="31.0" fill="url(#gw)" opacity="0.18"/><ellipse cx="246.8" cy="22.3" rx="22.8" ry="12.6" fill="url(#gb)" opacity="0.38" transform="rotate(12 246.8 22.3)"/><ellipse cx="245.2" cy="8.0" rx="6.0" ry="9.0" fill="url(#gw)" opacity="0.05"/><ellipse cx="272.1" cy="19.3" rx="12.4" ry="19.4" fill="url(#gk)" opacity="0.53" transform="rotate(3 272.1 19.3)"/><ellipse cx="298.1" cy="14.0" rx="22.0" ry="31.0" fill="url(#gw)" opacity="0.18"/><ellipse cx="298.1" cy="22.4" rx="21.0" ry="13.0" fill="url(#gb)" opacity="0.36" transform="rotate(7 298.1 22.4)"/><ellipse cx="298.0" cy="8.0" rx="6.0" ry="9.0" fill="url(#gw)" opacity="0.05"/><ellipse cx="-3.5" cy="84.3" rx="22.0" ry="31.0" fill="url(#gw)" opacity="0.18"/><ellipse cx="-3.5" cy="91.8" rx="22.2" ry="12.1" fill="url(#gb)" opacity="0.39" transform="rotate(9 -3.5 91.8)"/><ellipse cx="-1.2" cy="78.3" rx="6.0" ry="9.0" fill="url(#gw)" opacity="0.05"/><ellipse cx="22.3" cy="95.2" rx="11.4" ry="19.6" fill="url(#gk)" opacity="0.53" transform="rotate(-19 22.3 95.2)"/><ellipse cx="47.4" cy="84.3" rx="22.0" ry="31.0" fill="url(#gw)" opacity="0.18"/><ellipse cx="47.4" cy="93.3" rx="22.0" ry="14.0" fill="url(#gb)" opacity="0.33" transform="rotate(22 47.4 93.3)"/><ellipse cx="48.8" cy="78.3" rx="6.0" ry="9.0" fill="url(#gw)" opacity="0.05"/><ellipse cx="71.6" cy="91.3" rx="12.4" ry="15.3" fill="url(#gk)" opacity="0.53" transform="rotate(-28 71.6 91.3)"/><ellipse cx="97.8" cy="84.3" rx="22.0" ry="31.0" fill="url(#gw)" opacity="0.18"/><ellipse cx="97.8" cy="92.7" rx="21.2" ry="12.0" fill="url(#gb)" opacity="0.35" transform="rotate(18 97.8 92.7)"/><ellipse cx="97.3" cy="78.3" rx="6.0" ry="9.0" fill="url(#gw)" opacity="0.05"/><ellipse cx="123.7" cy="93.8" rx="11.5" ry="16.3" fill="url(#gk)" opacity="0.53" transform="rotate(1 123.7 93.8)"/><ellipse cx="148.7" cy="84.3" rx="22.0" ry="31.0" fill="url(#gw)" opacity="0.18"/><ellipse cx="148.7" cy="92.6" rx="22.7" ry="12.5" fill="url(#gb)" opacity="0.37" transform="rotate(-18 148.7 92.6)"/><ellipse cx="150.6" cy="78.3" rx="6.0" ry="9.0" fill="url(#gw)" opacity="0.05"/><ellipse cx="175.9" cy="93.4" rx="12.1" ry="19.4" fill="url(#gk)" opacity="0.53" transform="rotate(26 175.9 93.4)"/><ellipse cx="198.1" cy="84.3" rx="22.0" ry="31.0" fill="url(#gw)" opacity="0.18"/><ellipse cx="198.1" cy="92.3" rx="20.8" ry="11.8" fill="url(#gb)" opacity="0.33" transform="rotate(-2 198.1 92.3)"/><ellipse cx="199.5" cy="78.3" rx="6.0" ry="9.0" fill="url(#gw)" opacity="0.05"/><ellipse cx="226.3" cy="90.9" rx="10.5" ry="20.0" fill="url(#gk)" opacity="0.53" transform="rotate(17 226.3 90.9)"/><ellipse cx="250.3" cy="84.3" rx="22.0" ry="31.0" fill="url(#gw)" opacity="0.18"/><ellipse cx="250.3" cy="91.1" rx="23.2" ry="12.9" fill="url(#gb)" opacity="0.33" transform="rotate(18 250.3 91.1)"/><ellipse cx="252.2" cy="78.3" rx="6.0" ry="9.0" fill="url(#gw)" opacity="0.05"/><ellipse cx="276.7" cy="94.1" rx="11.3" ry="16.2" fill="url(#gk)" opacity="0.53" transform="rotate(-4 276.7 94.1)"/><ellipse cx="302.1" cy="84.3" rx="22.0" ry="31.0" fill="url(#gw)" opacity="0.18"/><ellipse cx="302.1" cy="93.2" rx="21.8" ry="12.7" fill="url(#gb)" opacity="0.42" transform="rotate(-15 302.1 93.2)"/><ellipse cx="303.4" cy="78.3" rx="6.0" ry="9.0" fill="url(#gw)" opacity="0.05"/><ellipse cx="-6.4" cy="159.3" rx="22.0" ry="31.0" fill="url(#gw)" opacity="0.18"/><ellipse cx="-6.4" cy="167.3" rx="23.4" ry="14.3" fill="url(#gb)" opacity="0.42" transform="rotate(-20 -6.4 167.3)"/><ellipse cx="-7.0" cy="153.3" rx="6.0" ry="9.0" fill="url(#gw)" opacity="0.05"/><ellipse cx="19.2" cy="168.4" rx="11.4" ry="19.7" fill="url(#gk)" opacity="0.53" transform="rotate(-2 19.2 168.4)"/><ellipse cx="45.1" cy="159.3" rx="22.0" ry="31.0" fill="url(#gw)" opacity="0.18"/><ellipse cx="45.1" cy="166.0" rx="19.6" ry="13.8" fill="url(#gb)" opacity="0.36" transform="rotate(1 45.1 166.0)"/><ellipse cx="47.9" cy="153.3" rx="6.0" ry="9.0" fill="url(#gw)" opacity="0.05"/><ellipse cx="70.0" cy="166.3" rx="11.6" ry="16.9" fill="url(#gk)" opacity="0.53" transform="rotate(-18 70.0 166.3)"/><ellipse cx="93.7" cy="159.3" rx="22.0" ry="31.0" fill="url(#gw)" opacity="0.18"/><ellipse cx="93.7" cy="167.7" rx="21.3" ry="13.5" fill="url(#gb)" opacity="0.37" transform="rotate(-11 93.7 167.7)"/><ellipse cx="93.9" cy="153.3" rx="6.0" ry="9.0" fill="url(#gw)" opacity="0.05"/><ellipse cx="119.5" cy="166.2" rx="12.5" ry="15.5" fill="url(#gk)" opacity="0.53" transform="rotate(-6 119.5 166.2)"/><ellipse cx="144.3" cy="159.3" rx="22.0" ry="31.0" fill="url(#gw)" opacity="0.18"/><ellipse cx="144.3" cy="167.8" rx="23.4" ry="12.7" fill="url(#gb)" opacity="0.36" transform="rotate(8 144.3 167.8)"/><ellipse cx="144.9" cy="153.3" rx="6.0" ry="9.0" fill="url(#gw)" opacity="0.05"/><ellipse cx="172.9" cy="168.5" rx="12.4" ry="15.2" fill="url(#gk)" opacity="0.53" transform="rotate(-21 172.9 168.5)"/><ellipse cx="198.6" cy="159.3" rx="22.0" ry="31.0" fill="url(#gw)" opacity="0.18"/><ellipse cx="198.6" cy="167.0" rx="22.0" ry="13.9" fill="url(#gb)" opacity="0.45" transform="rotate(12 198.6 167.0)"/><ellipse cx="201.4" cy="153.3" rx="6.0" ry="9.0" fill="url(#gw)" opacity="0.05"/><ellipse cx="224.6" cy="169.9" rx="11.8" ry="16.3" fill="url(#gk)" opacity="0.53" transform="rotate(-23 224.6 169.9)"/><ellipse cx="249.4" cy="159.3" rx="22.0" ry="31.0" fill="url(#gw)" opacity="0.18"/><ellipse cx="249.4" cy="168.5" rx="19.7" ry="11.1" fill="url(#gb)" opacity="0.41" transform="rotate(-2 249.4 168.5)"/><ellipse cx="250.1" cy="153.3" rx="6.0" ry="9.0" fill="url(#gw)" opacity="0.05"/><ellipse cx="275.1" cy="164.4" rx="11.3" ry="19.4" fill="url(#gk)" opacity="0.53" transform="rotate(14 275.1 164.4)"/><ellipse cx="302.3" cy="159.3" rx="22.0" ry="31.0" fill="url(#gw)" opacity="0.18"/><ellipse cx="302.3" cy="166.6" rx="20.3" ry="12.1" fill="url(#gb)" opacity="0.41" transform="rotate(23 302.3 166.6)"/><ellipse cx="301.3" cy="153.3" rx="6.0" ry="9.0" fill="url(#gw)" opacity="0.05"/><ellipse cx="-1.2" cy="236.7" rx="22.0" ry="31.0" fill="url(#gw)" opacity="0.18"/><ellipse cx="-1.2" cy="243.9" rx="22.2" ry="13.1" fill="url(#gb)" opacity="0.43" transform="rotate(18 -1.2 243.9)"/><ellipse cx="-0.9" cy="230.7" rx="6.0" ry="9.0" fill="url(#gw)" opacity="0.05"/><ellipse cx="26.7" cy="246.4" rx="11.4" ry="16.2" fill="url(#gk)" opacity="0.53" transform="rotate(2 26.7 246.4)"/><ellipse cx="50.4" cy="236.7" rx="22.0" ry="31.0" fill="url(#gw)" opacity="0.18"/><ellipse cx="50.4" cy="245.6" rx="22.5" ry="13.1" fill="url(#gb)" opacity="0.41" transform="rotate(-12 50.4 245.6)"/><ellipse cx="52.2" cy="230.7" rx="6.0" ry="9.0" fill="url(#gw)" opacity="0.05"/><ellipse cx="77.6" cy="245.5" rx="12.6" ry="16.2" fill="url(#gk)" opacity="0.53" transform="rotate(-23 77.6 245.5)"/><ellipse cx="100.6" cy="236.7" rx="22.0" ry="31.0" fill="url(#gw)" opacity="0.18"/><ellipse cx="100.6" cy="245.0" rx="21.4" ry="12.9" fill="url(#gb)" opacity="0.42" transform="rotate(-21 100.6 245.0)"/><ellipse cx="98.9" cy="230.7" rx="6.0" ry="9.0" fill="url(#gw)" opacity="0.05"/><ellipse cx="124.8" cy="243.6" rx="11.2" ry="15.7" fill="url(#gk)" opacity="0.53" transform="rotate(-10 124.8 243.6)"/><ellipse cx="151.3" cy="236.7" rx="22.0" ry="31.0" fill="url(#gw)" opacity="0.18"/><ellipse cx="151.3" cy="245.7" rx="23.5" ry="13.6" fill="url(#gb)" opacity="0.44" transform="rotate(-24 151.3 245.7)"/><ellipse cx="150.5" cy="230.7" rx="6.0" ry="9.0" fill="url(#gw)" opacity="0.05"/><ellipse cx="179.7" cy="245.9" rx="13.1" ry="16.0" fill="url(#gk)" opacity="0.53" transform="rotate(-16 179.7 245.9)"/><ellipse cx="202.5" cy="236.7" rx="22.0" ry="31.0" fill="url(#gw)" opacity="0.18"/><ellipse cx="202.5" cy="244.8" rx="21.4" ry="11.5" fill="url(#gb)" opacity="0.37" transform="rotate(-24 202.5 244.8)"/><ellipse cx="202.4" cy="230.7" rx="6.0" ry="9.0" fill="url(#gw)" opacity="0.05"/><ellipse cx="230.9" cy="245.6" rx="12.2" ry="15.3" fill="url(#gk)" opacity="0.53" transform="rotate(-4 230.9 245.6)"/><ellipse cx="254.3" cy="236.7" rx="22.0" ry="31.0" fill="url(#gw)" opacity="0.18"/><ellipse cx="254.3" cy="245.1" rx="22.7" ry="12.0" fill="url(#gb)" opacity="0.38" transform="rotate(11 254.3 245.1)"/><ellipse cx="252.3" cy="230.7" rx="6.0" ry="9.0" fill="url(#gw)" opacity="0.05"/><ellipse cx="278.9" cy="246.5" rx="13.1" ry="16.5" fill="url(#gk)" opacity="0.53" transform="rotate(-18 278.9 246.5)"/><ellipse cx="307.3" cy="236.7" rx="22.0" ry="31.0" fill="url(#gw)" opacity="0.18"/><ellipse cx="307.3" cy="245.0" rx="23.5" ry="13.0" fill="url(#gb)" opacity="0.34" transform="rotate(-10 307.3 245.0)"/><ellipse cx="307.8" cy="230.7" rx="6.0" ry="9.0" fill="url(#gw)" opacity="0.05"/><ellipse cx="9.7" cy="56.2" rx="9.9" ry="8.0" fill="url(#gw)" opacity="0.46"/><ellipse cx="29.5" cy="57.0" rx="11.4" ry="6.8" fill="url(#gw)" opacity="0.45"/><ellipse cx="60.5" cy="55.6" rx="11.3" ry="7.5" fill="url(#gw)" opacity="0.53"/><ellipse cx="78.5" cy="57.6" rx="11.0" ry="7.0" fill="url(#gw)" opacity="0.43"/><ellipse cx="110.6" cy="56.9" rx="10.6" ry="8.2" fill="url(#gw)" opacity="0.54"/><ellipse cx="131.6" cy="57.2" rx="10.2" ry="8.4" fill="url(#gw)" opacity="0.54"/><ellipse cx="163.2" cy="57.0" rx="10.0" ry="8.1" fill="url(#gw)" opacity="0.47"/><ellipse cx="181.3" cy="56.6" rx="10.2" ry="7.7" fill="url(#gw)" opacity="0.51"/><ellipse cx="214.7" cy="56.2" rx="10.8" ry="7.0" fill="url(#gw)" opacity="0.41"/><ellipse cx="233.3" cy="56.7" rx="10.9" ry="7.6" fill="url(#gw)" opacity="0.41"/><ellipse cx="264.9" cy="55.5" rx="10.0" ry="7.8" fill="url(#gw)" opacity="0.53"/><ellipse cx="282.3" cy="56.6" rx="9.9" ry="7.6" fill="url(#gw)" opacity="0.52"/><ellipse cx="-11.3" cy="42.5" rx="19.0" ry="7.5" fill="url(#gk)" opacity="0.09" transform="rotate(7 -11.3 42.5)"/><ellipse cx="9.6" cy="70.8" rx="19.0" ry="7.5" fill="url(#gk)" opacity="0.09" transform="rotate(0 9.6 70.8)"/><ellipse cx="42.9" cy="42.6" rx="19.0" ry="7.5" fill="url(#gk)" opacity="0.09" transform="rotate(1 42.9 42.6)"/><ellipse cx="62.8" cy="67.9" rx="19.0" ry="7.5" fill="url(#gk)" opacity="0.09" transform="rotate(23 62.8 67.9)"/><ellipse cx="96.0" cy="45.0" rx="19.0" ry="7.5" fill="url(#gk)" opacity="0.09" transform="rotate(9 96.0 45.0)"/><ellipse cx="117.9" cy="67.3" rx="19.0" ry="7.5" fill="url(#gk)" opacity="0.09" transform="rotate(23 117.9 67.3)"/><ellipse cx="148.3" cy="42.6" rx="19.0" ry="7.5" fill="url(#gk)" opacity="0.09" transform="rotate(5 148.3 42.6)"/><ellipse cx="159.8" cy="68.6" rx="19.0" ry="7.5" fill="url(#gk)" opacity="0.09" transform="rotate(-20 159.8 68.6)"/><ellipse cx="192.9" cy="43.7" rx="19.0" ry="7.5" fill="url(#gk)" opacity="0.09" transform="rotate(17 192.9 43.7)"/><ellipse cx="219.4" cy="70.6" rx="19.0" ry="7.5" fill="url(#gk)" opacity="0.09" transform="rotate(14 219.4 70.6)"/><ellipse cx="250.9" cy="44.3" rx="19.0" ry="7.5" fill="url(#gk)" opacity="0.09" transform="rotate(23 250.9 44.3)"/><ellipse cx="263.1" cy="69.0" rx="19.0" ry="7.5" fill="url(#gk)" opacity="0.09" transform="rotate(2 263.1 69.0)"/><ellipse cx="294.9" cy="45.4" rx="19.0" ry="7.5" fill="url(#gk)" opacity="0.09" transform="rotate(9 294.9 45.4)"/><ellipse cx="316.8" cy="70.1" rx="19.0" ry="7.5" fill="url(#gk)" opacity="0.09" transform="rotate(-1 316.8 70.1)"/><ellipse cx="11.1" cy="133.3" rx="10.3" ry="6.7" fill="url(#gw)" opacity="0.51"/><ellipse cx="29.6" cy="132.6" rx="11.3" ry="7.9" fill="url(#gw)" opacity="0.52"/><ellipse cx="62.3" cy="133.5" rx="10.2" ry="7.0" fill="url(#gw)" opacity="0.41"/><ellipse cx="80.8" cy="131.3" rx="11.1" ry="7.8" fill="url(#gw)" opacity="0.47"/><ellipse cx="114.0" cy="131.6" rx="11.2" ry="8.2" fill="url(#gw)" opacity="0.46"/><ellipse cx="131.6" cy="132.3" rx="9.3" ry="7.6" fill="url(#gw)" opacity="0.47"/><ellipse cx="164.2" cy="132.2" rx="9.8" ry="7.7" fill="url(#gw)" opacity="0.43"/><ellipse cx="184.5" cy="132.3" rx="10.4" ry="8.0" fill="url(#gw)" opacity="0.48"/><ellipse cx="215.8" cy="131.6" rx="10.2" ry="7.5" fill="url(#gw)" opacity="0.43"/><ellipse cx="236.0" cy="131.9" rx="11.1" ry="7.2" fill="url(#gw)" opacity="0.54"/><ellipse cx="267.4" cy="131.9" rx="11.4" ry="8.3" fill="url(#gw)" opacity="0.44"/><ellipse cx="286.0" cy="133.3" rx="9.3" ry="7.8" fill="url(#gw)" opacity="0.41"/><ellipse cx="-4.3" cy="118.5" rx="19.0" ry="7.5" fill="url(#gk)" opacity="0.09" transform="rotate(10 -4.3 118.5)"/><ellipse cx="7.1" cy="144.3" rx="19.0" ry="7.5" fill="url(#gk)" opacity="0.09" transform="rotate(0 7.1 144.3)"/><ellipse cx="49.8" cy="119.5" rx="19.0" ry="7.5" fill="url(#gk)" opacity="0.09" transform="rotate(-11 49.8 119.5)"/><ellipse cx="63.8" cy="145.1" rx="19.0" ry="7.5" fill="url(#gk)" opacity="0.09" transform="rotate(-5 63.8 145.1)"/><ellipse cx="92.6" cy="121.3" rx="19.0" ry="7.5" fill="url(#gk)" opacity="0.09" transform="rotate(-15 92.6 121.3)"/><ellipse cx="111.6" cy="143.8" rx="19.0" ry="7.5" fill="url(#gk)" opacity="0.09" transform="rotate(23 111.6 143.8)"/><ellipse cx="143.5" cy="120.4" rx="19.0" ry="7.5" fill="url(#gk)" opacity="0.09" transform="rotate(4 143.5 120.4)"/><ellipse cx="163.3" cy="146.0" rx="19.0" ry="7.5" fill="url(#gk)" opacity="0.09" transform="rotate(-16 163.3 146.0)"/><ellipse cx="195.2" cy="118.0" rx="19.0" ry="7.5" fill="url(#gk)" opacity="0.09" transform="rotate(8 195.2 118.0)"/><ellipse cx="212.4" cy="145.4" rx="19.0" ry="7.5" fill="url(#gk)" opacity="0.09" transform="rotate(8 212.4 145.4)"/><ellipse cx="246.2" cy="121.8" rx="19.0" ry="7.5" fill="url(#gk)" opacity="0.09" transform="rotate(-18 246.2 121.8)"/><ellipse cx="266.9" cy="146.1" rx="19.0" ry="7.5" fill="url(#gk)" opacity="0.09" transform="rotate(-12 266.9 146.1)"/><ellipse cx="305.5" cy="120.7" rx="19.0" ry="7.5" fill="url(#gk)" opacity="0.09" transform="rotate(13 305.5 120.7)"/><ellipse cx="318.7" cy="144.0" rx="19.0" ry="7.5" fill="url(#gk)" opacity="0.09" transform="rotate(-1 318.7 144.0)"/><ellipse cx="11.4" cy="208.2" rx="9.7" ry="6.6" fill="url(#gw)" opacity="0.50"/><ellipse cx="32.8" cy="209.2" rx="9.8" ry="7.4" fill="url(#gw)" opacity="0.52"/><ellipse cx="63.5" cy="209.3" rx="10.6" ry="8.3" fill="url(#gw)" opacity="0.53"/><ellipse cx="81.5" cy="210.1" rx="9.1" ry="6.8" fill="url(#gw)" opacity="0.50"/><ellipse cx="114.4" cy="209.4" rx="11.1" ry="7.0" fill="url(#gw)" opacity="0.43"/><ellipse cx="135.2" cy="210.1" rx="11.0" ry="7.6" fill="url(#gw)" opacity="0.53"/><ellipse cx="164.9" cy="208.9" rx="9.6" ry="7.2" fill="url(#gw)" opacity="0.47"/><ellipse cx="186.2" cy="209.0" rx="9.2" ry="6.8" fill="url(#gw)" opacity="0.41"/><ellipse cx="216.2" cy="209.6" rx="9.8" ry="7.8" fill="url(#gw)" opacity="0.47"/><ellipse cx="236.1" cy="210.1" rx="10.1" ry="8.3" fill="url(#gw)" opacity="0.45"/><ellipse cx="269.3" cy="209.8" rx="10.4" ry="7.1" fill="url(#gw)" opacity="0.50"/><ellipse cx="285.2" cy="208.6" rx="11.0" ry="8.2" fill="url(#gw)" opacity="0.50"/><ellipse cx="-9.2" cy="197.8" rx="19.0" ry="7.5" fill="url(#gk)" opacity="0.09" transform="rotate(-3 -9.2 197.8)"/><ellipse cx="11.0" cy="223.4" rx="19.0" ry="7.5" fill="url(#gk)" opacity="0.09" transform="rotate(4 11.0 223.4)"/><ellipse cx="44.7" cy="198.4" rx="19.0" ry="7.5" fill="url(#gk)" opacity="0.09" transform="rotate(-22 44.7 198.4)"/><ellipse cx="68.2" cy="222.6" rx="19.0" ry="7.5" fill="url(#gk)" opacity="0.09" transform="rotate(12 68.2 222.6)"/><ellipse cx="98.6" cy="195.9" rx="19.0" ry="7.5" fill="url(#gk)" opacity="0.09" transform="rotate(-14 98.6 195.9)"/><ellipse cx="120.0" cy="221.7" rx="19.0" ry="7.5" fill="url(#gk)" opacity="0.09" transform="rotate(-24 120.0 221.7)"/><ellipse cx="152.4" cy="197.6" rx="19.0" ry="7.5" fill="url(#gk)" opacity="0.09" transform="rotate(15 152.4 197.6)"/><ellipse cx="167.8" cy="222.4" rx="19.0" ry="7.5" fill="url(#gk)" opacity="0.09" transform="rotate(5 167.8 222.4)"/><ellipse cx="204.8" cy="195.8" rx="19.0" ry="7.5" fill="url(#gk)" opacity="0.09" transform="rotate(-14 204.8 195.8)"/><ellipse cx="223.4" cy="220.7" rx="19.0" ry="7.5" fill="url(#gk)" opacity="0.09" transform="rotate(-24 223.4 220.7)"/><ellipse cx="254.7" cy="197.8" rx="19.0" ry="7.5" fill="url(#gk)" opacity="0.09" transform="rotate(18 254.7 197.8)"/><ellipse cx="276.3" cy="220.0" rx="19.0" ry="7.5" fill="url(#gk)" opacity="0.09" transform="rotate(22 276.3 220.0)"/><ellipse cx="301.1" cy="195.2" rx="19.0" ry="7.5" fill="url(#gk)" opacity="0.09" transform="rotate(-11 301.1 195.2)"/><ellipse cx="316.8" cy="219.7" rx="19.0" ry="7.5" fill="url(#gk)" opacity="0.09" transform="rotate(-18 316.8 219.7)"/><ellipse cx="14.5" cy="281.3" rx="9.0" ry="6.9" fill="url(#gw)" opacity="0.49"/><ellipse cx="33.8" cy="279.5" rx="10.3" ry="6.6" fill="url(#gw)" opacity="0.43"/><ellipse cx="64.8" cy="281.5" rx="9.4" ry="7.3" fill="url(#gw)" opacity="0.42"/><ellipse cx="84.3" cy="280.4" rx="11.1" ry="7.8" fill="url(#gw)" opacity="0.52"/><ellipse cx="117.7" cy="281.5" rx="10.3" ry="7.0" fill="url(#gw)" opacity="0.42"/><ellipse cx="138.0" cy="280.4" rx="9.5" ry="7.1" fill="url(#gw)" opacity="0.44"/><ellipse cx="169.6" cy="281.1" rx="10.5" ry="7.2" fill="url(#gw)" opacity="0.49"/><ellipse cx="188.5" cy="280.4" rx="9.7" ry="8.0" fill="url(#gw)" opacity="0.44"/><ellipse cx="221.0" cy="279.8" rx="10.9" ry="7.6" fill="url(#gw)" opacity="0.54"/><ellipse cx="240.1" cy="280.8" rx="10.2" ry="6.6" fill="url(#gw)" opacity="0.41"/><ellipse cx="271.7" cy="281.5" rx="11.3" ry="6.8" fill="url(#gw)" opacity="0.49"/><ellipse cx="289.0" cy="279.5" rx="10.9" ry="8.1" fill="url(#gw)" opacity="0.54"/><ellipse cx="3.0" cy="266.8" rx="19.0" ry="7.5" fill="url(#gk)" opacity="0.09" transform="rotate(12 3.0 266.8)"/><ellipse cx="22.7" cy="295.0" rx="19.0" ry="7.5" fill="url(#gk)" opacity="0.09" transform="rotate(-7 22.7 295.0)"/><ellipse cx="54.8" cy="266.6" rx="19.0" ry="7.5" fill="url(#gk)" opacity="0.09" transform="rotate(19 54.8 266.6)"/><ellipse cx="69.7" cy="293.8" rx="19.0" ry="7.5" fill="url(#gk)" opacity="0.09" transform="rotate(13 69.7 293.8)"/><ellipse cx="99.0" cy="267.1" rx="19.0" ry="7.5" fill="url(#gk)" opacity="0.09" transform="rotate(-22 99.0 267.1)"/><ellipse cx="122.5" cy="291.3" rx="19.0" ry="7.5" fill="url(#gk)" opacity="0.09" transform="rotate(-24 122.5 291.3)"/><ellipse cx="154.9" cy="268.2" rx="19.0" ry="7.5" fill="url(#gk)" opacity="0.09" transform="rotate(25 154.9 268.2)"/><ellipse cx="166.7" cy="293.3" rx="19.0" ry="7.5" fill="url(#gk)" opacity="0.09" transform="rotate(-15 166.7 293.3)"/><ellipse cx="207.9" cy="270.0" rx="19.0" ry="7.5" fill="url(#gk)" opacity="0.09" transform="rotate(23 207.9 270.0)"/><ellipse cx="217.7" cy="294.1" rx="19.0" ry="7.5" fill="url(#gk)" opacity="0.09" transform="rotate(2 217.7 294.1)"/><ellipse cx="250.7" cy="268.0" rx="19.0" ry="7.5" fill="url(#gk)" opacity="0.09" transform="rotate(11 250.7 268.0)"/><ellipse cx="276.1" cy="293.0" rx="19.0" ry="7.5" fill="url(#gk)" opacity="0.09" transform="rotate(-21 276.1 293.0)"/><ellipse cx="305.3" cy="267.5" rx="19.0" ry="7.5" fill="url(#gk)" opacity="0.09" transform="rotate(-8 305.3 267.5)"/><ellipse cx="330.1" cy="293.7" rx="19.0" ry="7.5" fill="url(#gk)" opacity="0.09" transform="rotate(7 330.1 293.7)"/>
</g></g>
<rect x="185.5" y="270.8" width="95.6" height="6.3" fill="#fff"/>
<rect x=".6" y=".6" width="289.7" height="287.3" fill="none" stroke="#111" stroke-width="1.2"/>
</svg>
<svg x="1260.2" y="291.7" width="290.9" height="288.5">
<g filter="url(#fb4)"><rect width="293" height="290" fill="#626262"/>
<g transform="translate(0.6 0.6)">
<ellipse cx="-3.8" cy="26.5" rx="13.0" ry="5.0" fill="url(#gw)" opacity="0.12" transform="rotate(19 -3.8 26.5)"/><ellipse cx="11.9" cy="18.6" rx="10.0" ry="6.5" fill="url(#gk)" opacity="0.54" transform="rotate(37 11.9 18.6)"/><ellipse cx="-3.0" cy="2.0" rx="10.0" ry="5.0" fill="url(#gk)" opacity="0.48" transform="rotate(32 -3.0 2.0)"/><ellipse cx="37.3" cy="23.9" rx="13.0" ry="5.0" fill="url(#gw)" opacity="0.12" transform="rotate(-14 37.3 23.9)"/><ellipse cx="69.9" cy="29.2" rx="10.0" ry="6.5" fill="url(#gk)" opacity="0.57" transform="rotate(-13 69.9 29.2)"/><ellipse cx="60.4" cy="29.3" rx="10.0" ry="5.0" fill="url(#gk)" opacity="0.48" transform="rotate(10 60.4 29.3)"/><ellipse cx="92.1" cy="21.6" rx="13.0" ry="5.0" fill="url(#gw)" opacity="0.12" transform="rotate(3 92.1 21.6)"/><ellipse cx="114.9" cy="15.6" rx="10.0" ry="6.5" fill="url(#gk)" opacity="0.57" transform="rotate(-48 114.9 15.6)"/><ellipse cx="122.7" cy="40.1" rx="10.0" ry="5.0" fill="url(#gk)" opacity="0.48" transform="rotate(26 122.7 40.1)"/><ellipse cx="141.4" cy="21.0" rx="13.0" ry="5.0" fill="url(#gw)" opacity="0.12" transform="rotate(34 141.4 21.0)"/><ellipse cx="167.5" cy="31.8" rx="10.0" ry="6.5" fill="url(#gk)" opacity="0.65" transform="rotate(41 167.5 31.8)"/><ellipse cx="151.5" cy="32.1" rx="10.0" ry="5.0" fill="url(#gk)" opacity="0.48" transform="rotate(24 151.5 32.1)"/><ellipse cx="196.0" cy="23.6" rx="13.0" ry="5.0" fill="url(#gw)" opacity="0.12" transform="rotate(33 196.0 23.6)"/><ellipse cx="229.0" cy="15.6" rx="10.0" ry="6.5" fill="url(#gk)" opacity="0.58" transform="rotate(-55 229.0 15.6)"/><ellipse cx="216.2" cy="0.7" rx="10.0" ry="5.0" fill="url(#gk)" opacity="0.48" transform="rotate(-27 216.2 0.7)"/><ellipse cx="248.2" cy="17.0" rx="13.0" ry="5.0" fill="url(#gw)" opacity="0.12" transform="rotate(-28 248.2 17.0)"/><ellipse cx="264.5" cy="28.3" rx="10.0" ry="6.5" fill="url(#gk)" opacity="0.64" transform="rotate(-51 264.5 28.3)"/><ellipse cx="277.1" cy="35.1" rx="10.0" ry="5.0" fill="url(#gk)" opacity="0.48" transform="rotate(10 277.1 35.1)"/><ellipse cx="298.5" cy="22.4" rx="13.0" ry="5.0" fill="url(#gw)" opacity="0.12" transform="rotate(18 298.5 22.4)"/><ellipse cx="-5.7" cy="96.4" rx="13.0" ry="5.0" fill="url(#gw)" opacity="0.12" transform="rotate(16 -5.7 96.4)"/><ellipse cx="27.9" cy="100.1" rx="10.0" ry="6.5" fill="url(#gk)" opacity="0.51" transform="rotate(2 27.9 100.1)"/><ellipse cx="23.1" cy="106.3" rx="10.0" ry="5.0" fill="url(#gk)" opacity="0.48" transform="rotate(6 23.1 106.3)"/><ellipse cx="42.1" cy="97.3" rx="13.0" ry="5.0" fill="url(#gw)" opacity="0.12" transform="rotate(-24 42.1 97.3)"/><ellipse cx="72.0" cy="91.3" rx="10.0" ry="6.5" fill="url(#gk)" opacity="0.67" transform="rotate(9 72.0 91.3)"/><ellipse cx="75.9" cy="111.1" rx="10.0" ry="5.0" fill="url(#gk)" opacity="0.48" transform="rotate(9 75.9 111.1)"/><ellipse cx="94.4" cy="93.1" rx="13.0" ry="5.0" fill="url(#gw)" opacity="0.12" transform="rotate(37 94.4 93.1)"/><ellipse cx="125.0" cy="99.2" rx="10.0" ry="6.5" fill="url(#gk)" opacity="0.69" transform="rotate(23 125.0 99.2)"/><ellipse cx="111.3" cy="72.1" rx="10.0" ry="5.0" fill="url(#gk)" opacity="0.48" transform="rotate(-14 111.3 72.1)"/><ellipse cx="145.1" cy="87.3" rx="13.0" ry="5.0" fill="url(#gw)" opacity="0.12" transform="rotate(-23 145.1 87.3)"/><ellipse cx="170.0" cy="87.3" rx="10.0" ry="6.5" fill="url(#gk)" opacity="0.52" transform="rotate(-50 170.0 87.3)"/><ellipse cx="162.3" cy="65.6" rx="10.0" ry="5.0" fill="url(#gk)" opacity="0.48" transform="rotate(0 162.3 65.6)"/><ellipse cx="196.3" cy="92.7" rx="13.0" ry="5.0" fill="url(#gw)" opacity="0.12" transform="rotate(-21 196.3 92.7)"/><ellipse cx="220.0" cy="92.1" rx="10.0" ry="6.5" fill="url(#gk)" opacity="0.67" transform="rotate(46 220.0 92.1)"/><ellipse cx="227.4" cy="86.0" rx="10.0" ry="5.0" fill="url(#gk)" opacity="0.48" transform="rotate(4 227.4 86.0)"/><ellipse cx="255.5" cy="92.2" rx="13.0" ry="5.0" fill="url(#gw)" opacity="0.12" transform="rotate(-8 255.5 92.2)"/><ellipse cx="271.2" cy="89.9" rx="10.0" ry="6.5" fill="url(#gk)" opacity="0.53" transform="rotate(14 271.2 89.9)"/><ellipse cx="266.7" cy="116.2" rx="10.0" ry="5.0" fill="url(#gk)" opacity="0.48" transform="rotate(-29 266.7 116.2)"/><ellipse cx="299.6" cy="95.6" rx="13.0" ry="5.0" fill="url(#gw)" opacity="0.12" transform="rotate(33 299.6 95.6)"/><ellipse cx="-7.4" cy="161.4" rx="13.0" ry="5.0" fill="url(#gw)" opacity="0.12" transform="rotate(5 -7.4 161.4)"/><ellipse cx="17.5" cy="157.9" rx="10.0" ry="6.5" fill="url(#gk)" opacity="0.62" transform="rotate(46 17.5 157.9)"/><ellipse cx="0.2" cy="148.0" rx="10.0" ry="5.0" fill="url(#gk)" opacity="0.48" transform="rotate(-27 0.2 148.0)"/><ellipse cx="47.9" cy="165.0" rx="13.0" ry="5.0" fill="url(#gw)" opacity="0.12" transform="rotate(15 47.9 165.0)"/><ellipse cx="72.4" cy="157.5" rx="10.0" ry="6.5" fill="url(#gk)" opacity="0.60" transform="rotate(-46 72.4 157.5)"/><ellipse cx="81.6" cy="166.7" rx="10.0" ry="5.0" fill="url(#gk)" opacity="0.48" transform="rotate(-11 81.6 166.7)"/><ellipse cx="98.6" cy="171.2" rx="13.0" ry="5.0" fill="url(#gw)" opacity="0.12" transform="rotate(-35 98.6 171.2)"/><ellipse cx="113.7" cy="163.8" rx="10.0" ry="6.5" fill="url(#gk)" opacity="0.62" transform="rotate(-7 113.7 163.8)"/><ellipse cx="117.3" cy="195.6" rx="10.0" ry="5.0" fill="url(#gk)" opacity="0.48" transform="rotate(14 117.3 195.6)"/><ellipse cx="151.0" cy="168.7" rx="13.0" ry="5.0" fill="url(#gw)" opacity="0.12" transform="rotate(-21 151.0 168.7)"/><ellipse cx="172.7" cy="160.5" rx="10.0" ry="6.5" fill="url(#gk)" opacity="0.57" transform="rotate(-43 172.7 160.5)"/><ellipse cx="188.9" cy="155.5" rx="10.0" ry="5.0" fill="url(#gk)" opacity="0.48" transform="rotate(32 188.9 155.5)"/><ellipse cx="194.4" cy="163.8" rx="13.0" ry="5.0" fill="url(#gw)" opacity="0.12" transform="rotate(-20 194.4 163.8)"/><ellipse cx="229.1" cy="173.9" rx="10.0" ry="6.5" fill="url(#gk)" opacity="0.53" transform="rotate(9 229.1 173.9)"/><ellipse cx="209.8" cy="151.6" rx="10.0" ry="5.0" fill="url(#gk)" opacity="0.48" transform="rotate(-37 209.8 151.6)"/><ellipse cx="255.3" cy="162.8" rx="13.0" ry="5.0" fill="url(#gw)" opacity="0.12" transform="rotate(17 255.3 162.8)"/><ellipse cx="267.7" cy="163.0" rx="10.0" ry="6.5" fill="url(#gk)" opacity="0.56" transform="rotate(-38 267.7 163.0)"/><ellipse cx="258.5" cy="191.1" rx="10.0" ry="5.0" fill="url(#gk)" opacity="0.48" transform="rotate(-17 258.5 191.1)"/><ellipse cx="295.4" cy="169.8" rx="13.0" ry="5.0" fill="url(#gw)" opacity="0.12" transform="rotate(39 295.4 169.8)"/><ellipse cx="-0.1" cy="239.1" rx="13.0" ry="5.0" fill="url(#gw)" opacity="0.12" transform="rotate(-7 -0.1 239.1)"/><ellipse cx="26.7" cy="239.6" rx="10.0" ry="6.5" fill="url(#gk)" opacity="0.60" transform="rotate(29 26.7 239.6)"/><ellipse cx="31.3" cy="264.6" rx="10.0" ry="5.0" fill="url(#gk)" opacity="0.48" transform="rotate(36 31.3 264.6)"/><ellipse cx="50.8" cy="250.5" rx="13.0" ry="5.0" fill="url(#gw)" opacity="0.12" transform="rotate(-31 50.8 250.5)"/><ellipse cx="76.0" cy="248.2" rx="10.0" ry="6.5" fill="url(#gk)" opacity="0.50" transform="rotate(-4 76.0 248.2)"/><ellipse cx="73.2" cy="268.2" rx="10.0" ry="5.0" fill="url(#gk)" opacity="0.48" transform="rotate(-2 73.2 268.2)"/><ellipse cx="95.5" cy="244.1" rx="13.0" ry="5.0" fill="url(#gw)" opacity="0.12" transform="rotate(-18 95.5 244.1)"/><ellipse cx="128.8" cy="251.0" rx="10.0" ry="6.5" fill="url(#gk)" opacity="0.68" transform="rotate(-22 128.8 251.0)"/><ellipse cx="142.3" cy="263.3" rx="10.0" ry="5.0" fill="url(#gk)" opacity="0.48" transform="rotate(23 142.3 263.3)"/><ellipse cx="150.5" cy="250.2" rx="13.0" ry="5.0" fill="url(#gw)" opacity="0.12" transform="rotate(28 150.5 250.2)"/><ellipse cx="182.9" cy="245.6" rx="10.0" ry="6.5" fill="url(#gk)" opacity="0.56" transform="rotate(-44 182.9 245.6)"/><ellipse cx="159.2" cy="215.6" rx="10.0" ry="5.0" fill="url(#gk)" opacity="0.48" transform="rotate(-36 159.2 215.6)"/><ellipse cx="203.8" cy="250.0" rx="13.0" ry="5.0" fill="url(#gw)" opacity="0.12" transform="rotate(6 203.8 250.0)"/><ellipse cx="233.8" cy="249.8" rx="10.0" ry="6.5" fill="url(#gk)" opacity="0.49" transform="rotate(-27 233.8 249.8)"/><ellipse cx="229.1" cy="270.2" rx="10.0" ry="5.0" fill="url(#gk)" opacity="0.48" transform="rotate(-14 229.1 270.2)"/><ellipse cx="257.1" cy="243.7" rx="13.0" ry="5.0" fill="url(#gw)" opacity="0.12" transform="rotate(-28 257.1 243.7)"/><ellipse cx="275.6" cy="241.9" rx="10.0" ry="6.5" fill="url(#gk)" opacity="0.68" transform="rotate(46 275.6 241.9)"/><ellipse cx="274.5" cy="229.1" rx="10.0" ry="5.0" fill="url(#gk)" opacity="0.48" transform="rotate(24 274.5 229.1)"/><ellipse cx="300.0" cy="247.8" rx="13.0" ry="5.0" fill="url(#gw)" opacity="0.12" transform="rotate(-4 300.0 247.8)"/><ellipse cx="9.3" cy="57.6" rx="9.1" ry="7.1" fill="url(#gw)" opacity="0.36"/><ellipse cx="28.9" cy="55.7" rx="11.1" ry="7.2" fill="url(#gw)" opacity="0.36"/><ellipse cx="59.1" cy="55.8" rx="9.1" ry="6.6" fill="url(#gw)" opacity="0.43"/><ellipse cx="79.4" cy="56.5" rx="10.8" ry="7.0" fill="url(#gw)" opacity="0.36"/><ellipse cx="112.9" cy="56.0" rx="9.6" ry="6.9" fill="url(#gw)" opacity="0.40"/><ellipse cx="131.3" cy="56.4" rx="10.2" ry="6.7" fill="url(#gw)" opacity="0.43"/><ellipse cx="163.2" cy="55.8" rx="10.3" ry="8.3" fill="url(#gw)" opacity="0.37"/><ellipse cx="182.0" cy="57.0" rx="10.9" ry="8.2" fill="url(#gw)" opacity="0.36"/><ellipse cx="214.4" cy="55.7" rx="10.3" ry="8.4" fill="url(#gw)" opacity="0.42"/><ellipse cx="232.9" cy="55.7" rx="11.2" ry="6.7" fill="url(#gw)" opacity="0.37"/><ellipse cx="266.0" cy="56.9" rx="10.1" ry="8.0" fill="url(#gw)" opacity="0.36"/><ellipse cx="283.0" cy="55.4" rx="10.7" ry="7.7" fill="url(#gw)" opacity="0.41"/><ellipse cx="-1.0" cy="44.7" rx="19.0" ry="7.5" fill="url(#gk)" opacity="0.32" transform="rotate(-22 -1.0 44.7)"/><ellipse cx="7.8" cy="68.1" rx="19.0" ry="7.5" fill="url(#gk)" opacity="0.32" transform="rotate(11 7.8 68.1)"/><ellipse cx="42.4" cy="42.8" rx="19.0" ry="7.5" fill="url(#gk)" opacity="0.32" transform="rotate(-16 42.4 42.8)"/><ellipse cx="60.0" cy="68.9" rx="19.0" ry="7.5" fill="url(#gk)" opacity="0.32" transform="rotate(10 60.0 68.9)"/><ellipse cx="100.1" cy="42.3" rx="19.0" ry="7.5" fill="url(#gk)" opacity="0.32" transform="rotate(3 100.1 42.3)"/><ellipse cx="119.6" cy="68.5" rx="19.0" ry="7.5" fill="url(#gk)" opacity="0.32" transform="rotate(-19 119.6 68.5)"/><ellipse cx="148.9" cy="45.2" rx="19.0" ry="7.5" fill="url(#gk)" opacity="0.32" transform="rotate(-23 148.9 45.2)"/><ellipse cx="160.1" cy="68.1" rx="19.0" ry="7.5" fill="url(#gk)" opacity="0.32" transform="rotate(-7 160.1 68.1)"/><ellipse cx="193.7" cy="42.2" rx="19.0" ry="7.5" fill="url(#gk)" opacity="0.32" transform="rotate(-4 193.7 42.2)"/><ellipse cx="221.8" cy="69.2" rx="19.0" ry="7.5" fill="url(#gk)" opacity="0.32" transform="rotate(-11 221.8 69.2)"/><ellipse cx="255.0" cy="43.0" rx="19.0" ry="7.5" fill="url(#gk)" opacity="0.32" transform="rotate(-18 255.0 43.0)"/><ellipse cx="263.0" cy="67.0" rx="19.0" ry="7.5" fill="url(#gk)" opacity="0.32" transform="rotate(21 263.0 67.0)"/><ellipse cx="301.1" cy="45.8" rx="19.0" ry="7.5" fill="url(#gk)" opacity="0.32" transform="rotate(2 301.1 45.8)"/><ellipse cx="313.6" cy="68.4" rx="19.0" ry="7.5" fill="url(#gk)" opacity="0.32" transform="rotate(-8 313.6 68.4)"/><ellipse cx="10.0" cy="132.9" rx="11.2" ry="8.4" fill="url(#gw)" opacity="0.36"/><ellipse cx="30.5" cy="131.8" rx="11.1" ry="8.3" fill="url(#gw)" opacity="0.37"/><ellipse cx="60.8" cy="133.3" rx="11.5" ry="8.2" fill="url(#gw)" opacity="0.35"/><ellipse cx="80.9" cy="133.0" rx="10.4" ry="7.6" fill="url(#gw)" opacity="0.35"/><ellipse cx="112.1" cy="132.6" rx="11.4" ry="7.6" fill="url(#gw)" opacity="0.41"/><ellipse cx="131.6" cy="133.3" rx="10.7" ry="8.4" fill="url(#gw)" opacity="0.38"/><ellipse cx="164.7" cy="133.3" rx="11.0" ry="8.0" fill="url(#gw)" opacity="0.33"/><ellipse cx="184.0" cy="133.1" rx="9.7" ry="8.1" fill="url(#gw)" opacity="0.29"/><ellipse cx="215.4" cy="132.2" rx="11.3" ry="6.6" fill="url(#gw)" opacity="0.40"/><ellipse cx="234.9" cy="131.5" rx="11.1" ry="8.3" fill="url(#gw)" opacity="0.26"/><ellipse cx="266.8" cy="132.8" rx="11.2" ry="7.8" fill="url(#gw)" opacity="0.38"/><ellipse cx="284.4" cy="132.3" rx="10.7" ry="8.0" fill="url(#gw)" opacity="0.42"/><ellipse cx="-6.4" cy="119.3" rx="19.0" ry="7.5" fill="url(#gk)" opacity="0.32" transform="rotate(17 -6.4 119.3)"/><ellipse cx="15.0" cy="145.0" rx="19.0" ry="7.5" fill="url(#gk)" opacity="0.32" transform="rotate(-12 15.0 145.0)"/><ellipse cx="44.6" cy="118.2" rx="19.0" ry="7.5" fill="url(#gk)" opacity="0.32" transform="rotate(-13 44.6 118.2)"/><ellipse cx="59.3" cy="143.8" rx="19.0" ry="7.5" fill="url(#gk)" opacity="0.32" transform="rotate(6 59.3 143.8)"/><ellipse cx="98.1" cy="121.3" rx="19.0" ry="7.5" fill="url(#gk)" opacity="0.32" transform="rotate(3 98.1 121.3)"/><ellipse cx="113.5" cy="144.3" rx="19.0" ry="7.5" fill="url(#gk)" opacity="0.32" transform="rotate(17 113.5 144.3)"/><ellipse cx="142.8" cy="118.6" rx="19.0" ry="7.5" fill="url(#gk)" opacity="0.32" transform="rotate(-3 142.8 118.6)"/><ellipse cx="162.4" cy="144.5" rx="19.0" ry="7.5" fill="url(#gk)" opacity="0.32" transform="rotate(-17 162.4 144.5)"/><ellipse cx="201.2" cy="121.4" rx="19.0" ry="7.5" fill="url(#gk)" opacity="0.32" transform="rotate(-5 201.2 121.4)"/><ellipse cx="221.1" cy="142.9" rx="19.0" ry="7.5" fill="url(#gk)" opacity="0.32" transform="rotate(-20 221.1 142.9)"/><ellipse cx="246.8" cy="121.0" rx="19.0" ry="7.5" fill="url(#gk)" opacity="0.32" transform="rotate(-11 246.8 121.0)"/><ellipse cx="269.9" cy="146.4" rx="19.0" ry="7.5" fill="url(#gk)" opacity="0.32" transform="rotate(3 269.9 146.4)"/><ellipse cx="301.1" cy="120.1" rx="19.0" ry="7.5" fill="url(#gk)" opacity="0.32" transform="rotate(8 301.1 120.1)"/><ellipse cx="321.3" cy="145.1" rx="19.0" ry="7.5" fill="url(#gk)" opacity="0.32" transform="rotate(-18 321.3 145.1)"/><ellipse cx="13.0" cy="210.1" rx="11.0" ry="6.9" fill="url(#gw)" opacity="0.43"/><ellipse cx="31.9" cy="208.4" rx="11.0" ry="7.5" fill="url(#gw)" opacity="0.39"/><ellipse cx="64.0" cy="208.8" rx="9.8" ry="7.7" fill="url(#gw)" opacity="0.40"/><ellipse cx="81.6" cy="208.5" rx="11.4" ry="7.8" fill="url(#gw)" opacity="0.36"/><ellipse cx="115.0" cy="208.8" rx="9.9" ry="8.4" fill="url(#gw)" opacity="0.41"/><ellipse cx="134.3" cy="209.0" rx="11.3" ry="7.0" fill="url(#gw)" opacity="0.40"/><ellipse cx="166.2" cy="209.8" rx="11.5" ry="7.5" fill="url(#gw)" opacity="0.42"/><ellipse cx="184.9" cy="209.6" rx="11.1" ry="8.0" fill="url(#gw)" opacity="0.39"/><ellipse cx="217.9" cy="208.1" rx="10.6" ry="6.9" fill="url(#gw)" opacity="0.37"/><ellipse cx="236.6" cy="208.3" rx="10.8" ry="7.8" fill="url(#gw)" opacity="0.38"/><ellipse cx="268.7" cy="210.0" rx="10.9" ry="7.6" fill="url(#gw)" opacity="0.41"/><ellipse cx="285.7" cy="209.4" rx="9.7" ry="6.8" fill="url(#gw)" opacity="0.40"/><ellipse cx="-2.2" cy="198.4" rx="19.0" ry="7.5" fill="url(#gk)" opacity="0.32" transform="rotate(-2 -2.2 198.4)"/><ellipse cx="10.5" cy="222.3" rx="19.0" ry="7.5" fill="url(#gk)" opacity="0.32" transform="rotate(-15 10.5 222.3)"/><ellipse cx="49.5" cy="197.7" rx="19.0" ry="7.5" fill="url(#gk)" opacity="0.32" transform="rotate(-15 49.5 197.7)"/><ellipse cx="63.3" cy="221.5" rx="19.0" ry="7.5" fill="url(#gk)" opacity="0.32" transform="rotate(8 63.3 221.5)"/><ellipse cx="101.2" cy="198.5" rx="19.0" ry="7.5" fill="url(#gk)" opacity="0.32" transform="rotate(5 101.2 198.5)"/><ellipse cx="122.1" cy="220.6" rx="19.0" ry="7.5" fill="url(#gk)" opacity="0.32" transform="rotate(-12 122.1 220.6)"/><ellipse cx="155.7" cy="197.8" rx="19.0" ry="7.5" fill="url(#gk)" opacity="0.32" transform="rotate(-5 155.7 197.8)"/><ellipse cx="162.9" cy="220.7" rx="19.0" ry="7.5" fill="url(#gk)" opacity="0.32" transform="rotate(-5 162.9 220.7)"/><ellipse cx="195.6" cy="197.1" rx="19.0" ry="7.5" fill="url(#gk)" opacity="0.32" transform="rotate(21 195.6 197.1)"/><ellipse cx="217.4" cy="221.1" rx="19.0" ry="7.5" fill="url(#gk)" opacity="0.32" transform="rotate(-11 217.4 221.1)"/><ellipse cx="251.3" cy="197.1" rx="19.0" ry="7.5" fill="url(#gk)" opacity="0.32" transform="rotate(-10 251.3 197.1)"/><ellipse cx="265.1" cy="220.0" rx="19.0" ry="7.5" fill="url(#gk)" opacity="0.32" transform="rotate(21 265.1 220.0)"/><ellipse cx="305.6" cy="195.2" rx="19.0" ry="7.5" fill="url(#gk)" opacity="0.32" transform="rotate(-4 305.6 195.2)"/><ellipse cx="324.7" cy="221.2" rx="19.0" ry="7.5" fill="url(#gk)" opacity="0.32" transform="rotate(8 324.7 221.2)"/><ellipse cx="15.2" cy="280.6" rx="9.4" ry="7.9" fill="url(#gw)" opacity="0.43"/><ellipse cx="34.8" cy="280.2" rx="10.6" ry="7.7" fill="url(#gw)" opacity="0.39"/><ellipse cx="66.6" cy="279.7" rx="9.3" ry="7.3" fill="url(#gw)" opacity="0.42"/><ellipse cx="84.4" cy="279.9" rx="11.1" ry="6.7" fill="url(#gw)" opacity="0.37"/><ellipse cx="117.6" cy="281.3" rx="10.2" ry="7.0" fill="url(#gw)" opacity="0.41"/><ellipse cx="138.0" cy="281.3" rx="10.6" ry="7.3" fill="url(#gw)" opacity="0.38"/><ellipse cx="167.9" cy="280.6" rx="9.9" ry="7.3" fill="url(#gw)" opacity="0.41"/><ellipse cx="187.3" cy="280.2" rx="10.4" ry="7.1" fill="url(#gw)" opacity="0.42"/><ellipse cx="220.1" cy="279.5" rx="9.7" ry="7.1" fill="url(#gw)" opacity="0.42"/><ellipse cx="238.2" cy="281.7" rx="10.1" ry="7.9" fill="url(#gw)" opacity="0.38"/><ellipse cx="271.6" cy="280.2" rx="11.3" ry="6.8" fill="url(#gw)" opacity="0.39"/><ellipse cx="288.8" cy="280.2" rx="9.3" ry="8.4" fill="url(#gw)" opacity="0.39"/><ellipse cx="-2.8" cy="269.0" rx="19.0" ry="7.5" fill="url(#gk)" opacity="0.32" transform="rotate(12 -2.8 269.0)"/><ellipse cx="22.5" cy="293.0" rx="19.0" ry="7.5" fill="url(#gk)" opacity="0.32" transform="rotate(-1 22.5 293.0)"/><ellipse cx="54.6" cy="268.4" rx="19.0" ry="7.5" fill="url(#gk)" opacity="0.32" transform="rotate(-13 54.6 268.4)"/><ellipse cx="67.0" cy="294.8" rx="19.0" ry="7.5" fill="url(#gk)" opacity="0.32" transform="rotate(-9 67.0 294.8)"/><ellipse cx="103.1" cy="269.3" rx="19.0" ry="7.5" fill="url(#gk)" opacity="0.32" transform="rotate(15 103.1 269.3)"/><ellipse cx="121.4" cy="294.3" rx="19.0" ry="7.5" fill="url(#gk)" opacity="0.32" transform="rotate(24 121.4 294.3)"/><ellipse cx="152.9" cy="267.6" rx="19.0" ry="7.5" fill="url(#gk)" opacity="0.32" transform="rotate(-5 152.9 267.6)"/><ellipse cx="174.0" cy="292.0" rx="19.0" ry="7.5" fill="url(#gk)" opacity="0.32" transform="rotate(17 174.0 292.0)"/><ellipse cx="201.5" cy="266.8" rx="19.0" ry="7.5" fill="url(#gk)" opacity="0.32" transform="rotate(11 201.5 266.8)"/><ellipse cx="220.1" cy="294.2" rx="19.0" ry="7.5" fill="url(#gk)" opacity="0.32" transform="rotate(-15 220.1 294.2)"/><ellipse cx="252.7" cy="268.1" rx="19.0" ry="7.5" fill="url(#gk)" opacity="0.32" transform="rotate(11 252.7 268.1)"/><ellipse cx="274.0" cy="295.0" rx="19.0" ry="7.5" fill="url(#gk)" opacity="0.32" transform="rotate(22 274.0 295.0)"/><ellipse cx="302.2" cy="269.6" rx="19.0" ry="7.5" fill="url(#gk)" opacity="0.32" transform="rotate(25 302.2 269.6)"/><ellipse cx="322.2" cy="292.9" rx="19.0" ry="7.5" fill="url(#gk)" opacity="0.32" transform="rotate(3 322.2 292.9)"/>
</g></g>
<rect x="185.5" y="270.8" width="95.6" height="6.3" fill="#fff"/>
<rect x=".6" y=".6" width="289.7" height="287.3" fill="none" stroke="#111" stroke-width="1.2"/>
</svg>
<svg x="1560.3" y="291.7" width="290.9" height="288.5">
<g filter="url(#fb5)"><rect width="293" height="290" fill="#626262"/>
<g transform="translate(-0.6 0.6)">
<ellipse cx="-3.8" cy="26.5" rx="13.0" ry="5.0" fill="url(#gw)" opacity="0.12" transform="rotate(19 -3.8 26.5)"/><ellipse cx="11.9" cy="18.6" rx="10.0" ry="6.5" fill="url(#gk)" opacity="0.54" transform="rotate(37 11.9 18.6)"/><ellipse cx="-3.0" cy="2.0" rx="10.0" ry="5.0" fill="url(#gk)" opacity="0.48" transform="rotate(32 -3.0 2.0)"/><ellipse cx="37.3" cy="23.9" rx="13.0" ry="5.0" fill="url(#gw)" opacity="0.12" transform="rotate(-14 37.3 23.9)"/><ellipse cx="69.9" cy="29.2" rx="10.0" ry="6.5" fill="url(#gk)" opacity="0.57" transform="rotate(-13 69.9 29.2)"/><ellipse cx="60.4" cy="29.3" rx="10.0" ry="5.0" fill="url(#gk)" opacity="0.48" transform="rotate(10 60.4 29.3)"/><ellipse cx="92.1" cy="21.6" rx="13.0" ry="5.0" fill="url(#gw)" opacity="0.12" transform="rotate(3 92.1 21.6)"/><ellipse cx="114.9" cy="15.6" rx="10.0" ry="6.5" fill="url(#gk)" opacity="0.57" transform="rotate(-48 114.9 15.6)"/><ellipse cx="122.7" cy="40.1" rx="10.0" ry="5.0" fill="url(#gk)" opacity="0.48" transform="rotate(26 122.7 40.1)"/><ellipse cx="141.4" cy="21.0" rx="13.0" ry="5.0" fill="url(#gw)" opacity="0.12" transform="rotate(34 141.4 21.0)"/><ellipse cx="167.5" cy="31.8" rx="10.0" ry="6.5" fill="url(#gk)" opacity="0.65" transform="rotate(41 167.5 31.8)"/><ellipse cx="151.5" cy="32.1" rx="10.0" ry="5.0" fill="url(#gk)" opacity="0.48" transform="rotate(24 151.5 32.1)"/><ellipse cx="196.0" cy="23.6" rx="13.0" ry="5.0" fill="url(#gw)" opacity="0.12" transform="rotate(33 196.0 23.6)"/><ellipse cx="229.0" cy="15.6" rx="10.0" ry="6.5" fill="url(#gk)" opacity="0.58" transform="rotate(-55 229.0 15.6)"/><ellipse cx="216.2" cy="0.7" rx="10.0" ry="5.0" fill="url(#gk)" opacity="0.48" transform="rotate(-27 216.2 0.7)"/><ellipse cx="248.2" cy="17.0" rx="13.0" ry="5.0" fill="url(#gw)" opacity="0.12" transform="rotate(-28 248.2 17.0)"/><ellipse cx="264.5" cy="28.3" rx="10.0" ry="6.5" fill="url(#gk)" opacity="0.64" transform="rotate(-51 264.5 28.3)"/><ellipse cx="277.1" cy="35.1" rx="10.0" ry="5.0" fill="url(#gk)" opacity="0.48" transform="rotate(10 277.1 35.1)"/><ellipse cx="298.5" cy="22.4" rx="13.0" ry="5.0" fill="url(#gw)" opacity="0.12" transform="rotate(18 298.5 22.4)"/><ellipse cx="-5.7" cy="96.4" rx="13.0" ry="5.0" fill="url(#gw)" opacity="0.12" transform="rotate(16 -5.7 96.4)"/><ellipse cx="27.9" cy="100.1" rx="10.0" ry="6.5" fill="url(#gk)" opacity="0.51" transform="rotate(2 27.9 100.1)"/><ellipse cx="23.1" cy="106.3" rx="10.0" ry="5.0" fill="url(#gk)" opacity="0.48" transform="rotate(6 23.1 106.3)"/><ellipse cx="42.1" cy="97.3" rx="13.0" ry="5.0" fill="url(#gw)" opacity="0.12" transform="rotate(-24 42.1 97.3)"/><ellipse cx="72.0" cy="91.3" rx="10.0" ry="6.5" fill="url(#gk)" opacity="0.67" transform="rotate(9 72.0 91.3)"/><ellipse cx="75.9" cy="111.1" rx="10.0" ry="5.0" fill="url(#gk)" opacity="0.48" transform="rotate(9 75.9 111.1)"/><ellipse cx="94.4" cy="93.1" rx="13.0" ry="5.0" fill="url(#gw)" opacity="0.12" transform="rotate(37 94.4 93.1)"/><ellipse cx="125.0" cy="99.2" rx="10.0" ry="6.5" fill="url(#gk)" opacity="0.69" transform="rotate(23 125.0 99.2)"/><ellipse cx="111.3" cy="72.1" rx="10.0" ry="5.0" fill="url(#gk)" opacity="0.48" transform="rotate(-14 111.3 72.1)"/><ellipse cx="145.1" cy="87.3" rx="13.0" ry="5.0" fill="url(#gw)" opacity="0.12" transform="rotate(-23 145.1 87.3)"/><ellipse cx="170.0" cy="87.3" rx="10.0" ry="6.5" fill="url(#gk)" opacity="0.52" transform="rotate(-50 170.0 87.3)"/><ellipse cx="162.3" cy="65.6" rx="10.0" ry="5.0" fill="url(#gk)" opacity="0.48" transform="rotate(0 162.3 65.6)"/><ellipse cx="196.3" cy="92.7" rx="13.0" ry="5.0" fill="url(#gw)" opacity="0.12" transform="rotate(-21 196.3 92.7)"/><ellipse cx="220.0" cy="92.1" rx="10.0" ry="6.5" fill="url(#gk)" opacity="0.67" transform="rotate(46 220.0 92.1)"/><ellipse cx="227.4" cy="86.0" rx="10.0" ry="5.0" fill="url(#gk)" opacity="0.48" transform="rotate(4 227.4 86.0)"/><ellipse cx="255.5" cy="92.2" rx="13.0" ry="5.0" fill="url(#gw)" opacity="0.12" transform="rotate(-8 255.5 92.2)"/><ellipse cx="271.2" cy="89.9" rx="10.0" ry="6.5" fill="url(#gk)" opacity="0.53" transform="rotate(14 271.2 89.9)"/><ellipse cx="266.7" cy="116.2" rx="10.0" ry="5.0" fill="url(#gk)" opacity="0.48" transform="rotate(-29 266.7 116.2)"/><ellipse cx="299.6" cy="95.6" rx="13.0" ry="5.0" fill="url(#gw)" opacity="0.12" transform="rotate(33 299.6 95.6)"/><ellipse cx="-7.4" cy="161.4" rx="13.0" ry="5.0" fill="url(#gw)" opacity="0.12" transform="rotate(5 -7.4 161.4)"/><ellipse cx="17.5" cy="157.9" rx="10.0" ry="6.5" fill="url(#gk)" opacity="0.62" transform="rotate(46 17.5 157.9)"/><ellipse cx="0.2" cy="148.0" rx="10.0" ry="5.0" fill="url(#gk)" opacity="0.48" transform="rotate(-27 0.2 148.0)"/><ellipse cx="47.9" cy="165.0" rx="13.0" ry="5.0" fill="url(#gw)" opacity="0.12" transform="rotate(15 47.9 165.0)"/><ellipse cx="72.4" cy="157.5" rx="10.0" ry="6.5" fill="url(#gk)" opacity="0.60" transform="rotate(-46 72.4 157.5)"/><ellipse cx="81.6" cy="166.7" rx="10.0" ry="5.0" fill="url(#gk)" opacity="0.48" transform="rotate(-11 81.6 166.7)"/><ellipse cx="98.6" cy="171.2" rx="13.0" ry="5.0" fill="url(#gw)" opacity="0.12" transform="rotate(-35 98.6 171.2)"/><ellipse cx="113.7" cy="163.8" rx="10.0" ry="6.5" fill="url(#gk)" opacity="0.62" transform="rotate(-7 113.7 163.8)"/><ellipse cx="117.3" cy="195.6" rx="10.0" ry="5.0" fill="url(#gk)" opacity="0.48" transform="rotate(14 117.3 195.6)"/><ellipse cx="151.0" cy="168.7" rx="13.0" ry="5.0" fill="url(#gw)" opacity="0.12" transform="rotate(-21 151.0 168.7)"/><ellipse cx="172.7" cy="160.5" rx="10.0" ry="6.5" fill="url(#gk)" opacity="0.57" transform="rotate(-43 172.7 160.5)"/><ellipse cx="188.9" cy="155.5" rx="10.0" ry="5.0" fill="url(#gk)" opacity="0.48" transform="rotate(32 188.9 155.5)"/><ellipse cx="194.4" cy="163.8" rx="13.0" ry="5.0" fill="url(#gw)" opacity="0.12" transform="rotate(-20 194.4 163.8)"/><ellipse cx="229.1" cy="173.9" rx="10.0" ry="6.5" fill="url(#gk)" opacity="0.53" transform="rotate(9 229.1 173.9)"/><ellipse cx="209.8" cy="151.6" rx="10.0" ry="5.0" fill="url(#gk)" opacity="0.48" transform="rotate(-37 209.8 151.6)"/><ellipse cx="255.3" cy="162.8" rx="13.0" ry="5.0" fill="url(#gw)" opacity="0.12" transform="rotate(17 255.3 162.8)"/><ellipse cx="267.7" cy="163.0" rx="10.0" ry="6.5" fill="url(#gk)" opacity="0.56" transform="rotate(-38 267.7 163.0)"/><ellipse cx="258.5" cy="191.1" rx="10.0" ry="5.0" fill="url(#gk)" opacity="0.48" transform="rotate(-17 258.5 191.1)"/><ellipse cx="295.4" cy="169.8" rx="13.0" ry="5.0" fill="url(#gw)" opacity="0.12" transform="rotate(39 295.4 169.8)"/><ellipse cx="-0.1" cy="239.1" rx="13.0" ry="5.0" fill="url(#gw)" opacity="0.12" transform="rotate(-7 -0.1 239.1)"/><ellipse cx="26.7" cy="239.6" rx="10.0" ry="6.5" fill="url(#gk)" opacity="0.60" transform="rotate(29 26.7 239.6)"/><ellipse cx="31.3" cy="264.6" rx="10.0" ry="5.0" fill="url(#gk)" opacity="0.48" transform="rotate(36 31.3 264.6)"/><ellipse cx="50.8" cy="250.5" rx="13.0" ry="5.0" fill="url(#gw)" opacity="0.12" transform="rotate(-31 50.8 250.5)"/><ellipse cx="76.0" cy="248.2" rx="10.0" ry="6.5" fill="url(#gk)" opacity="0.50" transform="rotate(-4 76.0 248.2)"/><ellipse cx="73.2" cy="268.2" rx="10.0" ry="5.0" fill="url(#gk)" opacity="0.48" transform="rotate(-2 73.2 268.2)"/><ellipse cx="95.5" cy="244.1" rx="13.0" ry="5.0" fill="url(#gw)" opacity="0.12" transform="rotate(-18 95.5 244.1)"/><ellipse cx="128.8" cy="251.0" rx="10.0" ry="6.5" fill="url(#gk)" opacity="0.68" transform="rotate(-22 128.8 251.0)"/><ellipse cx="142.3" cy="263.3" rx="10.0" ry="5.0" fill="url(#gk)" opacity="0.48" transform="rotate(23 142.3 263.3)"/><ellipse cx="150.5" cy="250.2" rx="13.0" ry="5.0" fill="url(#gw)" opacity="0.12" transform="rotate(28 150.5 250.2)"/><ellipse cx="182.9" cy="245.6" rx="10.0" ry="6.5" fill="url(#gk)" opacity="0.56" transform="rotate(-44 182.9 245.6)"/><ellipse cx="159.2" cy="215.6" rx="10.0" ry="5.0" fill="url(#gk)" opacity="0.48" transform="rotate(-36 159.2 215.6)"/><ellipse cx="203.8" cy="250.0" rx="13.0" ry="5.0" fill="url(#gw)" opacity="0.12" transform="rotate(6 203.8 250.0)"/><ellipse cx="233.8" cy="249.8" rx="10.0" ry="6.5" fill="url(#gk)" opacity="0.49" transform="rotate(-27 233.8 249.8)"/><ellipse cx="229.1" cy="270.2" rx="10.0" ry="5.0" fill="url(#gk)" opacity="0.48" transform="rotate(-14 229.1 270.2)"/><ellipse cx="257.1" cy="243.7" rx="13.0" ry="5.0" fill="url(#gw)" opacity="0.12" transform="rotate(-28 257.1 243.7)"/><ellipse cx="275.6" cy="241.9" rx="10.0" ry="6.5" fill="url(#gk)" opacity="0.68" transform="rotate(46 275.6 241.9)"/><ellipse cx="274.5" cy="229.1" rx="10.0" ry="5.0" fill="url(#gk)" opacity="0.48" transform="rotate(24 274.5 229.1)"/><ellipse cx="300.0" cy="247.8" rx="13.0" ry="5.0" fill="url(#gw)" opacity="0.12" transform="rotate(-4 300.0 247.8)"/><ellipse cx="9.3" cy="57.6" rx="9.1" ry="7.1" fill="url(#gw)" opacity="0.34"/><ellipse cx="28.9" cy="55.7" rx="11.1" ry="7.2" fill="url(#gw)" opacity="0.35"/><ellipse cx="59.1" cy="55.8" rx="9.1" ry="6.6" fill="url(#gw)" opacity="0.41"/><ellipse cx="79.4" cy="56.5" rx="10.8" ry="7.0" fill="url(#gw)" opacity="0.35"/><ellipse cx="112.9" cy="56.0" rx="9.6" ry="6.9" fill="url(#gw)" opacity="0.38"/><ellipse cx="131.3" cy="56.4" rx="10.2" ry="6.7" fill="url(#gw)" opacity="0.41"/><ellipse cx="163.2" cy="55.8" rx="10.3" ry="8.3" fill="url(#gw)" opacity="0.35"/><ellipse cx="182.0" cy="57.0" rx="10.9" ry="8.2" fill="url(#gw)" opacity="0.35"/><ellipse cx="214.4" cy="55.7" rx="10.3" ry="8.4" fill="url(#gw)" opacity="0.41"/><ellipse cx="232.9" cy="55.7" rx="11.2" ry="6.7" fill="url(#gw)" opacity="0.35"/><ellipse cx="266.0" cy="56.9" rx="10.1" ry="8.0" fill="url(#gw)" opacity="0.35"/><ellipse cx="283.0" cy="55.4" rx="10.7" ry="7.7" fill="url(#gw)" opacity="0.39"/><ellipse cx="-1.0" cy="44.7" rx="19.0" ry="7.5" fill="url(#gk)" opacity="0.32" transform="rotate(-22 -1.0 44.7)"/><ellipse cx="7.8" cy="68.1" rx="19.0" ry="7.5" fill="url(#gk)" opacity="0.32" transform="rotate(11 7.8 68.1)"/><ellipse cx="42.4" cy="42.8" rx="19.0" ry="7.5" fill="url(#gk)" opacity="0.32" transform="rotate(-16 42.4 42.8)"/><ellipse cx="60.0" cy="68.9" rx="19.0" ry="7.5" fill="url(#gk)" opacity="0.32" transform="rotate(10 60.0 68.9)"/><ellipse cx="100.1" cy="42.3" rx="19.0" ry="7.5" fill="url(#gk)" opacity="0.32" transform="rotate(3 100.1 42.3)"/><ellipse cx="119.6" cy="68.5" rx="19.0" ry="7.5" fill="url(#gk)" opacity="0.32" transform="rotate(-19 119.6 68.5)"/><ellipse cx="148.9" cy="45.2" rx="19.0" ry="7.5" fill="url(#gk)" opacity="0.32" transform="rotate(-23 148.9 45.2)"/><ellipse cx="160.1" cy="68.1" rx="19.0" ry="7.5" fill="url(#gk)" opacity="0.32" transform="rotate(-7 160.1 68.1)"/><ellipse cx="193.7" cy="42.2" rx="19.0" ry="7.5" fill="url(#gk)" opacity="0.32" transform="rotate(-4 193.7 42.2)"/><ellipse cx="221.8" cy="69.2" rx="19.0" ry="7.5" fill="url(#gk)" opacity="0.32" transform="rotate(-11 221.8 69.2)"/><ellipse cx="255.0" cy="43.0" rx="19.0" ry="7.5" fill="url(#gk)" opacity="0.32" transform="rotate(-18 255.0 43.0)"/><ellipse cx="263.0" cy="67.0" rx="19.0" ry="7.5" fill="url(#gk)" opacity="0.32" transform="rotate(21 263.0 67.0)"/><ellipse cx="301.1" cy="45.8" rx="19.0" ry="7.5" fill="url(#gk)" opacity="0.32" transform="rotate(2 301.1 45.8)"/><ellipse cx="313.6" cy="68.4" rx="19.0" ry="7.5" fill="url(#gk)" opacity="0.32" transform="rotate(-8 313.6 68.4)"/><ellipse cx="10.0" cy="132.9" rx="11.2" ry="8.4" fill="url(#gw)" opacity="0.35"/><ellipse cx="30.5" cy="131.8" rx="11.1" ry="8.3" fill="url(#gw)" opacity="0.35"/><ellipse cx="60.8" cy="133.3" rx="11.5" ry="8.2" fill="url(#gw)" opacity="0.33"/><ellipse cx="80.9" cy="133.0" rx="10.4" ry="7.6" fill="url(#gw)" opacity="0.34"/><ellipse cx="112.1" cy="132.6" rx="11.4" ry="7.6" fill="url(#gw)" opacity="0.40"/><ellipse cx="131.6" cy="133.3" rx="10.7" ry="8.4" fill="url(#gw)" opacity="0.36"/><ellipse cx="164.7" cy="133.3" rx="11.0" ry="8.0" fill="url(#gw)" opacity="0.31"/><ellipse cx="184.0" cy="133.1" rx="9.7" ry="8.1" fill="url(#gw)" opacity="0.27"/><ellipse cx="215.4" cy="132.2" rx="11.3" ry="6.6" fill="url(#gw)" opacity="0.38"/><ellipse cx="234.9" cy="131.5" rx="11.1" ry="8.3" fill="url(#gw)" opacity="0.24"/><ellipse cx="266.8" cy="132.8" rx="11.2" ry="7.8" fill="url(#gw)" opacity="0.36"/><ellipse cx="284.4" cy="132.3" rx="10.7" ry="8.0" fill="url(#gw)" opacity="0.41"/><ellipse cx="-6.4" cy="119.3" rx="19.0" ry="7.5" fill="url(#gk)" opacity="0.32" transform="rotate(17 -6.4 119.3)"/><ellipse cx="15.0" cy="145.0" rx="19.0" ry="7.5" fill="url(#gk)" opacity="0.32" transform="rotate(-12 15.0 145.0)"/><ellipse cx="44.6" cy="118.2" rx="19.0" ry="7.5" fill="url(#gk)" opacity="0.32" transform="rotate(-13 44.6 118.2)"/><ellipse cx="59.3" cy="143.8" rx="19.0" ry="7.5" fill="url(#gk)" opacity="0.32" transform="rotate(6 59.3 143.8)"/><ellipse cx="98.1" cy="121.3" rx="19.0" ry="7.5" fill="url(#gk)" opacity="0.32" transform="rotate(3 98.1 121.3)"/><ellipse cx="113.5" cy="144.3" rx="19.0" ry="7.5" fill="url(#gk)" opacity="0.32" transform="rotate(17 113.5 144.3)"/><ellipse cx="142.8" cy="118.6" rx="19.0" ry="7.5" fill="url(#gk)" opacity="0.32" transform="rotate(-3 142.8 118.6)"/><ellipse cx="162.4" cy="144.5" rx="19.0" ry="7.5" fill="url(#gk)" opacity="0.32" transform="rotate(-17 162.4 144.5)"/><ellipse cx="201.2" cy="121.4" rx="19.0" ry="7.5" fill="url(#gk)" opacity="0.32" transform="rotate(-5 201.2 121.4)"/><ellipse cx="221.1" cy="142.9" rx="19.0" ry="7.5" fill="url(#gk)" opacity="0.32" transform="rotate(-20 221.1 142.9)"/><ellipse cx="246.8" cy="121.0" rx="19.0" ry="7.5" fill="url(#gk)" opacity="0.32" transform="rotate(-11 246.8 121.0)"/><ellipse cx="269.9" cy="146.4" rx="19.0" ry="7.5" fill="url(#gk)" opacity="0.32" transform="rotate(3 269.9 146.4)"/><ellipse cx="301.1" cy="120.1" rx="19.0" ry="7.5" fill="url(#gk)" opacity="0.32" transform="rotate(8 301.1 120.1)"/><ellipse cx="321.3" cy="145.1" rx="19.0" ry="7.5" fill="url(#gk)" opacity="0.32" transform="rotate(-18 321.3 145.1)"/><ellipse cx="13.0" cy="210.1" rx="11.0" ry="6.9" fill="url(#gw)" opacity="0.41"/><ellipse cx="31.9" cy="208.4" rx="11.0" ry="7.5" fill="url(#gw)" opacity="0.37"/><ellipse cx="64.0" cy="208.8" rx="9.8" ry="7.7" fill="url(#gw)" opacity="0.38"/><ellipse cx="81.6" cy="208.5" rx="11.4" ry="7.8" fill="url(#gw)" opacity="0.34"/><ellipse cx="115.0" cy="208.8" rx="9.9" ry="8.4" fill="url(#gw)" opacity="0.40"/><ellipse cx="134.3" cy="209.0" rx="11.3" ry="7.0" fill="url(#gw)" opacity="0.38"/><ellipse cx="166.2" cy="209.8" rx="11.5" ry="7.5" fill="url(#gw)" opacity="0.40"/><ellipse cx="184.9" cy="209.6" rx="11.1" ry="8.0" fill="url(#gw)" opacity="0.38"/><ellipse cx="217.9" cy="208.1" rx="10.6" ry="6.9" fill="url(#gw)" opacity="0.35"/><ellipse cx="236.6" cy="208.3" rx="10.8" ry="7.8" fill="url(#gw)" opacity="0.36"/><ellipse cx="268.7" cy="210.0" rx="10.9" ry="7.6" fill="url(#gw)" opacity="0.40"/><ellipse cx="285.7" cy="209.4" rx="9.7" ry="6.8" fill="url(#gw)" opacity="0.39"/><ellipse cx="-2.2" cy="198.4" rx="19.0" ry="7.5" fill="url(#gk)" opacity="0.32" transform="rotate(-2 -2.2 198.4)"/><ellipse cx="10.5" cy="222.3" rx="19.0" ry="7.5" fill="url(#gk)" opacity="0.32" transform="rotate(-15 10.5 222.3)"/><ellipse cx="49.5" cy="197.7" rx="19.0" ry="7.5" fill="url(#gk)" opacity="0.32" transform="rotate(-15 49.5 197.7)"/><ellipse cx="63.3" cy="221.5" rx="19.0" ry="7.5" fill="url(#gk)" opacity="0.32" transform="rotate(8 63.3 221.5)"/><ellipse cx="101.2" cy="198.5" rx="19.0" ry="7.5" fill="url(#gk)" opacity="0.32" transform="rotate(5 101.2 198.5)"/><ellipse cx="122.1" cy="220.6" rx="19.0" ry="7.5" fill="url(#gk)" opacity="0.32" transform="rotate(-12 122.1 220.6)"/><ellipse cx="155.7" cy="197.8" rx="19.0" ry="7.5" fill="url(#gk)" opacity="0.32" transform="rotate(-5 155.7 197.8)"/><ellipse cx="162.9" cy="220.7" rx="19.0" ry="7.5" fill="url(#gk)" opacity="0.32" transform="rotate(-5 162.9 220.7)"/><ellipse cx="195.6" cy="197.1" rx="19.0" ry="7.5" fill="url(#gk)" opacity="0.32" transform="rotate(21 195.6 197.1)"/><ellipse cx="217.4" cy="221.1" rx="19.0" ry="7.5" fill="url(#gk)" opacity="0.32" transform="rotate(-11 217.4 221.1)"/><ellipse cx="251.3" cy="197.1" rx="19.0" ry="7.5" fill="url(#gk)" opacity="0.32" transform="rotate(-10 251.3 197.1)"/><ellipse cx="265.1" cy="220.0" rx="19.0" ry="7.5" fill="url(#gk)" opacity="0.32" transform="rotate(21 265.1 220.0)"/><ellipse cx="305.6" cy="195.2" rx="19.0" ry="7.5" fill="url(#gk)" opacity="0.32" transform="rotate(-4 305.6 195.2)"/><ellipse cx="324.7" cy="221.2" rx="19.0" ry="7.5" fill="url(#gk)" opacity="0.32" transform="rotate(8 324.7 221.2)"/><ellipse cx="15.2" cy="280.6" rx="9.4" ry="7.9" fill="url(#gw)" opacity="0.41"/><ellipse cx="34.8" cy="280.2" rx="10.6" ry="7.7" fill="url(#gw)" opacity="0.37"/><ellipse cx="66.6" cy="279.7" rx="9.3" ry="7.3" fill="url(#gw)" opacity="0.41"/><ellipse cx="84.4" cy="279.9" rx="11.1" ry="6.7" fill="url(#gw)" opacity="0.35"/><ellipse cx="117.6" cy="281.3" rx="10.2" ry="7.0" fill="url(#gw)" opacity="0.40"/><ellipse cx="138.0" cy="281.3" rx="10.6" ry="7.3" fill="url(#gw)" opacity="0.37"/><ellipse cx="167.9" cy="280.6" rx="9.9" ry="7.3" fill="url(#gw)" opacity="0.39"/><ellipse cx="187.3" cy="280.2" rx="10.4" ry="7.1" fill="url(#gw)" opacity="0.40"/><ellipse cx="220.1" cy="279.5" rx="9.7" ry="7.1" fill="url(#gw)" opacity="0.41"/><ellipse cx="238.2" cy="281.7" rx="10.1" ry="7.9" fill="url(#gw)" opacity="0.37"/><ellipse cx="271.6" cy="280.2" rx="11.3" ry="6.8" fill="url(#gw)" opacity="0.37"/><ellipse cx="288.8" cy="280.2" rx="9.3" ry="8.4" fill="url(#gw)" opacity="0.38"/><ellipse cx="-2.8" cy="269.0" rx="19.0" ry="7.5" fill="url(#gk)" opacity="0.32" transform="rotate(12 -2.8 269.0)"/><ellipse cx="22.5" cy="293.0" rx="19.0" ry="7.5" fill="url(#gk)" opacity="0.32" transform="rotate(-1 22.5 293.0)"/><ellipse cx="54.6" cy="268.4" rx="19.0" ry="7.5" fill="url(#gk)" opacity="0.32" transform="rotate(-13 54.6 268.4)"/><ellipse cx="67.0" cy="294.8" rx="19.0" ry="7.5" fill="url(#gk)" opacity="0.32" transform="rotate(-9 67.0 294.8)"/><ellipse cx="103.1" cy="269.3" rx="19.0" ry="7.5" fill="url(#gk)" opacity="0.32" transform="rotate(15 103.1 269.3)"/><ellipse cx="121.4" cy="294.3" rx="19.0" ry="7.5" fill="url(#gk)" opacity="0.32" transform="rotate(24 121.4 294.3)"/><ellipse cx="152.9" cy="267.6" rx="19.0" ry="7.5" fill="url(#gk)" opacity="0.32" transform="rotate(-5 152.9 267.6)"/><ellipse cx="174.0" cy="292.0" rx="19.0" ry="7.5" fill="url(#gk)" opacity="0.32" transform="rotate(17 174.0 292.0)"/><ellipse cx="201.5" cy="266.8" rx="19.0" ry="7.5" fill="url(#gk)" opacity="0.32" transform="rotate(11 201.5 266.8)"/><ellipse cx="220.1" cy="294.2" rx="19.0" ry="7.5" fill="url(#gk)" opacity="0.32" transform="rotate(-15 220.1 294.2)"/><ellipse cx="252.7" cy="268.1" rx="19.0" ry="7.5" fill="url(#gk)" opacity="0.32" transform="rotate(11 252.7 268.1)"/><ellipse cx="274.0" cy="295.0" rx="19.0" ry="7.5" fill="url(#gk)" opacity="0.32" transform="rotate(22 274.0 295.0)"/><ellipse cx="302.2" cy="269.6" rx="19.0" ry="7.5" fill="url(#gk)" opacity="0.32" transform="rotate(25 302.2 269.6)"/><ellipse cx="322.2" cy="292.9" rx="19.0" ry="7.5" fill="url(#gk)" opacity="0.32" transform="rotate(3 322.2 292.9)"/>
</g></g>
<rect x="184.3" y="270.8" width="95.6" height="6.3" fill="#fff"/>
<rect x=".6" y=".6" width="289.7" height="287.3" fill="none" stroke="#111" stroke-width="1.2"/>
</svg>
<rect x="1860.8" y="293.8" width="36.2" height="284.6" fill="url(#cb293)" stroke="#000" stroke-width="1.3"/>
<path d="M1897.0,332.0h5.5" stroke="#000" stroke-width="1.4"/>
<text x="1911.0" y="339.6" font-family="'DejaVu Sans', sans-serif" font-size="20.7" text-anchor="start" fill="#222">0.15</text>
<path d="M1897.0,383.7h5.5" stroke="#000" stroke-width="1.4"/>
<text x="1911.0" y="391.3" font-family="'DejaVu Sans', sans-serif" font-size="20.7" text-anchor="start" fill="#222">0.10</text>
<path d="M1897.0,435.3h5.5" stroke="#000" stroke-width="1.4"/>
<text x="1911.0" y="442.9" font-family="'DejaVu Sans', sans-serif" font-size="20.7" text-anchor="start" fill="#222">0.05</text>
<path d="M1897.0,487.3h5.5" stroke="#000" stroke-width="1.4"/>
<text x="1911.0" y="494.9" font-family="'DejaVu Sans', sans-serif" font-size="20.7" text-anchor="start" fill="#222">0.00</text>
<path d="M1897.0,538.9h5.5" stroke="#000" stroke-width="1.4"/>
<text x="1911.0" y="546.5" font-family="'DejaVu Sans', sans-serif" font-size="20.7" text-anchor="start" fill="#222">−0.05</text>
<text x="1999.5" y="437.0" font-family="'DejaVu Sans', sans-serif" font-size="20.7" text-anchor="middle" fill="#222" transform="rotate(-90 1999.5 437.0)">Phase (rad)</text>
<rect x="59.7" y="605.8" width="289.5" height="273.4" fill="#fff"/>
<path d="M204.4,605.8v273.4" stroke="#ececec" stroke-width="1"/>
<path d="M59.7,626.6h6" stroke="#888" stroke-width="1"/>
<path d="M59.7,666.0h6" stroke="#888" stroke-width="1"/>
<path d="M59.7,738.0h6" stroke="#888" stroke-width="1"/>
<path d="M59.7,808.7h6" stroke="#888" stroke-width="1"/>
<path d="M343.2,626.5h6 M343.2,742.3h6" stroke="#888" stroke-width="1"/>
<path d="M204.4,875.2v4" stroke="#888" stroke-width="1"/>
<ellipse cx="204.4" cy="742.3" rx="49.6" ry="47.4" fill="#fdc3c3" stroke="#f28a8a" stroke-width="1.6"/>
<path d="M204.4,695.3v94" stroke="#f0b4b4" stroke-width="1" opacity=".8"/>
<path d="M162.4,742.3H246.4" stroke="#000" stroke-width="1.6"/>
<path d="M154.4,742.3l11,-4.6v9.2z M254.4,742.3l-11,-4.6v9.2z" fill="#000"/>
<text x="203.9" y="733.8" font-family="'Liberation Sans', sans-serif" font-size="20.5" text-anchor="middle" fill="#000" textLength="74.0" lengthAdjust="spacingAndGlyphs">66.0 pix</text>
<text x="65.6" y="869.7" font-family="'Liberation Sans', sans-serif" font-size="21.5" text-anchor="start" fill="#000" textLength="201.2" lengthAdjust="spacingAndGlyphs">100 µm <tspan font-family="DejaVu Sans" font-size="23">→</tspan> 0.83 mrad</text>
<rect x="59.7" y="605.8" width="289.5" height="273.4" fill="none" stroke="#404040" stroke-width="1.7"/>
<use href="#thumb" x="58.4" y="605.4" width="49.2" height="48.8"/>
<rect x="360.1" y="605.8" width="289.5" height="273.4" fill="#fff"/>
<path d="M504.9,605.8v273.4" stroke="#ececec" stroke-width="1"/>
<path d="M365.0,605.8v273.4" stroke="#ececec" stroke-width="1"/>
<path d="M644.6,605.8v273.4" stroke="#ececec" stroke-width="1"/>
<path d="M360.1,626.0h6" stroke="#888" stroke-width="1"/>
<path d="M360.1,672.0h6" stroke="#888" stroke-width="1"/>
<path d="M360.1,714.0h6" stroke="#888" stroke-width="1"/>
<path d="M360.1,742.0h6" stroke="#888" stroke-width="1"/>
<path d="M360.1,771.0h6" stroke="#888" stroke-width="1"/>
<path d="M360.1,828.0h6" stroke="#888" stroke-width="1"/>
<path d="M643.6,626.5h6 M643.6,742.3h6" stroke="#888" stroke-width="1"/>
<path d="M504.9,875.2v4" stroke="#888" stroke-width="1"/>
<ellipse cx="504.9" cy="742.3" rx="49.6" ry="47.4" fill="#fdc3c3" stroke="#f28a8a" stroke-width="1.6"/>
<path d="M504.9,695.3v94" stroke="#f0b4b4" stroke-width="1" opacity=".8"/>
<path d="M462.9,742.3H546.9" stroke="#000" stroke-width="1.6"/>
<path d="M454.9,742.3l11,-4.6v9.2z M554.9,742.3l-11,-4.6v9.2z" fill="#000"/>
<text x="504.4" y="733.8" font-family="'Liberation Sans', sans-serif" font-size="20.5" text-anchor="middle" fill="#000" textLength="62.0" lengthAdjust="spacingAndGlyphs">8.2 pix</text>
<rect x="360.9" y="867.0" width="12.8" height="11.6" fill="#f7f78c" stroke="#8a8a70" stroke-width="1.3"/>
<text x="375.0" y="865.6" font-family="'Liberation Sans', sans-serif" font-size="21.5" text-anchor="start" fill="#000" textLength="202.3" lengthAdjust="spacingAndGlyphs">800 µm <tspan font-family="DejaVu Sans" font-size="23">→</tspan> 6.65 mrad</text>
<rect x="360.1" y="605.8" width="289.5" height="273.4" fill="none" stroke="#404040" stroke-width="1.7"/>
<use href="#thumb" x="358.8" y="605.4" width="49.2" height="48.8"/>
<rect x="658.9" y="605.8" width="289.5" height="273.4" fill="#fff"/>
<path d="M803.6,605.8v273.4" stroke="#ececec" stroke-width="1"/>
<path d="M671.6,605.8v273.4" stroke="#ececec" stroke-width="1"/>
<path d="M936.7,605.8v273.4" stroke="#ececec" stroke-width="1"/>
<path d="M658.9,664.0h6" stroke="#888" stroke-width="1"/>
<path d="M658.9,709.0h6" stroke="#888" stroke-width="1"/>
<path d="M658.9,754.0h6" stroke="#888" stroke-width="1"/>
<path d="M658.9,800.0h6" stroke="#888" stroke-width="1"/>
<path d="M658.9,845.0h6" stroke="#888" stroke-width="1"/>
<path d="M942.4,626.5h6 M942.4,742.3h6" stroke="#888" stroke-width="1"/>
<path d="M803.6,875.2v4" stroke="#888" stroke-width="1"/>
<ellipse cx="803.6" cy="742.3" rx="49.6" ry="47.4" fill="#fdc3c3" stroke="#f28a8a" stroke-width="1.6"/>
<path d="M803.6,695.3v94" stroke="#f0b4b4" stroke-width="1" opacity=".8"/>
<path d="M761.6,742.3H845.6" stroke="#000" stroke-width="1.6"/>
<path d="M753.6,742.3l11,-4.6v9.2z M853.6,742.3l-11,-4.6v9.2z" fill="#000"/>
<text x="803.1" y="733.8" font-family="'Liberation Sans', sans-serif" font-size="20.5" text-anchor="middle" fill="#000" textLength="62.0" lengthAdjust="spacingAndGlyphs">4.1 pix</text>
<rect x="659.7" y="855.5" width="24.8" height="23.1" fill="#f7f78c" stroke="#8a8a70" stroke-width="1.3"/>
<text x="682.4" y="847.4" font-family="'Liberation Sans', sans-serif" font-size="21.5" text-anchor="start" fill="#000" textLength="225.6" lengthAdjust="spacingAndGlyphs">1600 µm <tspan font-family="DejaVu Sans" font-size="23">→</tspan> 13.29 mrad</text>
<rect x="658.9" y="605.8" width="289.5" height="273.4" fill="none" stroke="#404040" stroke-width="1.7"/>
<use href="#thumb" x="657.6" y="605.4" width="49.2" height="48.8"/>
<rect x="959.5" y="605.8" width="289.5" height="273.4" fill="#fff"/>
<path d="M1104.2,605.8v273.4" stroke="#ececec" stroke-width="1"/>
<path d="M977.9,605.8v273.4" stroke="#ececec" stroke-width="1"/>
<path d="M1230.7,605.8v273.4" stroke="#ececec" stroke-width="1"/>
<path d="M959.5,626.0h6" stroke="#888" stroke-width="1"/>
<path d="M959.5,692.0h6" stroke="#888" stroke-width="1"/>
<path d="M959.5,760.0h6" stroke="#888" stroke-width="1"/>
<path d="M959.5,828.0h6" stroke="#888" stroke-width="1"/>
<path d="M1243.0,626.5h6 M1243.0,742.3h6" stroke="#888" stroke-width="1"/>
<path d="M1104.2,875.2v4" stroke="#888" stroke-width="1"/>
<ellipse cx="1104.2" cy="742.3" rx="49.6" ry="47.4" fill="#fdc3c3" stroke="#f28a8a" stroke-width="1.6"/>
<path d="M1104.2,695.3v94" stroke="#f0b4b4" stroke-width="1" opacity=".8"/>
<path d="M1062.2,742.3H1146.2" stroke="#000" stroke-width="1.6"/>
<path d="M1054.2,742.3l11,-4.6v9.2z M1154.2,742.3l-11,-4.6v9.2z" fill="#000"/>
<text x="1103.8" y="733.8" font-family="'Liberation Sans', sans-serif" font-size="20.5" text-anchor="middle" fill="#000" textLength="62.0" lengthAdjust="spacingAndGlyphs">2.7 pix</text>
<rect x="960.3" y="844.3" width="37.4" height="34.3" fill="#f7f78c" stroke="#8a8a70" stroke-width="1.3"/>
<text x="990.8" y="836.0" font-family="'Liberation Sans', sans-serif" font-size="21.5" text-anchor="start" fill="#000" textLength="226.0" lengthAdjust="spacingAndGlyphs">2400 µm <tspan font-family="DejaVu Sans" font-size="23">→</tspan> 19.94 mrad</text>
<rect x="959.5" y="605.8" width="289.5" height="273.4" fill="none" stroke="#404040" stroke-width="1.7"/>
<use href="#thumb" x="958.2" y="605.4" width="49.2" height="48.8"/>
<rect x="1260.2" y="605.8" width="289.5" height="273.4" fill="#fff"/>
<path d="M1405.0,605.8v273.4" stroke="#ececec" stroke-width="1"/>
<path d="M1284.7,605.8v273.4" stroke="#ececec" stroke-width="1"/>
<path d="M1525.4,605.8v273.4" stroke="#ececec" stroke-width="1"/>
<path d="M1260.2,640.0h6" stroke="#888" stroke-width="1"/>
<path d="M1260.2,686.0h6" stroke="#888" stroke-width="1"/>
<path d="M1260.2,731.0h6" stroke="#888" stroke-width="1"/>
<path d="M1260.2,776.0h6" stroke="#888" stroke-width="1"/>
<path d="M1260.2,822.0h6" stroke="#888" stroke-width="1"/>
<path d="M1543.7,626.5h6 M1543.7,742.3h6" stroke="#888" stroke-width="1"/>
<path d="M1405.0,875.2v4" stroke="#888" stroke-width="1"/>
<ellipse cx="1405.0" cy="742.3" rx="49.6" ry="47.4" fill="#fdc3c3" stroke="#f28a8a" stroke-width="1.6"/>
<path d="M1405.0,695.3v94" stroke="#f0b4b4" stroke-width="1" opacity=".8"/>
<path d="M1363.0,742.3H1447.0" stroke="#000" stroke-width="1.6"/>
<path d="M1355.0,742.3l11,-4.6v9.2z M1455.0,742.3l-11,-4.6v9.2z" fill="#000"/>
<text x="1404.5" y="733.8" font-family="'Liberation Sans', sans-serif" font-size="20.5" text-anchor="middle" fill="#000" textLength="62.0" lengthAdjust="spacingAndGlyphs">2.1 pix</text>
<rect x="1261.0" y="833.0" width="49.2" height="45.6" fill="#f7f78c" stroke="#8a8a70" stroke-width="1.3"/>
<text x="1289.6" y="823.9" font-family="'Liberation Sans', sans-serif" font-size="21.5" text-anchor="start" fill="#000" textLength="225.2" lengthAdjust="spacingAndGlyphs">3200 µm <tspan font-family="DejaVu Sans" font-size="23">→</tspan> 26.59 mrad</text>
<rect x="1260.2" y="605.8" width="289.5" height="273.4" fill="none" stroke="#404040" stroke-width="1.7"/>
<use href="#thumb" x="1258.9" y="605.4" width="49.2" height="48.8"/>
<rect x="1561.2" y="605.8" width="289.5" height="273.4" fill="#fff"/>
<path d="M1706.0,605.8v273.4" stroke="#ececec" stroke-width="1"/>
<path d="M1597.0,605.8v273.4" stroke="#ececec" stroke-width="1"/>
<path d="M1814.0,605.8v273.4" stroke="#ececec" stroke-width="1"/>
<path d="M1561.2,626.0h6" stroke="#888" stroke-width="1"/>
<path d="M1561.2,708.0h6" stroke="#888" stroke-width="1"/>
<path d="M1561.2,776.0h6" stroke="#888" stroke-width="1"/>
<path d="M1844.7,626.5h6 M1844.7,742.3h6" stroke="#888" stroke-width="1"/>
<path d="M1706.0,875.2v4" stroke="#888" stroke-width="1"/>
<ellipse cx="1706.0" cy="742.3" rx="49.6" ry="47.4" fill="#fdc3c3" stroke="#f28a8a" stroke-width="1.6"/>
<path d="M1706.0,695.3v94" stroke="#f0b4b4" stroke-width="1" opacity=".8"/>
<path d="M1664.0,742.3H1748.0" stroke="#000" stroke-width="1.6"/>
<path d="M1656.0,742.3l11,-4.6v9.2z M1756.0,742.3l-11,-4.6v9.2z" fill="#000"/>
<text x="1705.5" y="733.8" font-family="'Liberation Sans', sans-serif" font-size="20.5" text-anchor="middle" fill="#000" textLength="62.0" lengthAdjust="spacingAndGlyphs">1.4 pix</text>
<rect x="1562.0" y="810.4" width="73.7" height="68.2" fill="#f7f78c" stroke="#8a8a70" stroke-width="1.3"/>
<text x="1643.0" y="820.9" font-family="'Liberation Sans', sans-serif" font-size="21.5" text-anchor="start" fill="#000" textLength="83.0" lengthAdjust="spacingAndGlyphs">4800 µm</text>
<text x="1643.0" y="849.5" font-family="'Liberation Sans', sans-serif" font-size="21.5" text-anchor="start" fill="#000" textLength="135.0" lengthAdjust="spacingAndGlyphs"><tspan font-family="DejaVu Sans" font-size="23">→</tspan> 39.88 mrad</text>
<rect x="1561.2" y="605.8" width="289.5" height="273.4" fill="none" stroke="#404040" stroke-width="1.7"/>
<use href="#thumb" x="1559.9" y="605.4" width="49.2" height="48.8"/>
<svg x="57.8" y="906.0" width="291.0" height="284.3">
<g filter="url(#fd0)"><rect width="293" height="286" fill="#404040"/>
<g transform="translate(0.8 0.4)">
<ellipse cx="-3.0" cy="5.3" rx="22.0" ry="11.5" fill="url(#gh)" opacity="0.18"/><ellipse cx="36.9" cy="5.3" rx="22.0" ry="11.5" fill="url(#gh)" opacity="0.18"/><ellipse cx="76.8" cy="5.3" rx="22.0" ry="11.5" fill="url(#gh)" opacity="0.18"/><ellipse cx="116.7" cy="5.3" rx="22.0" ry="11.5" fill="url(#gh)" opacity="0.18"/><ellipse cx="156.6" cy="5.3" rx="22.0" ry="11.5" fill="url(#gh)" opacity="0.18"/><ellipse cx="196.5" cy="5.3" rx="22.0" ry="11.5" fill="url(#gh)" opacity="0.18"/><ellipse cx="236.4" cy="5.3" rx="22.0" ry="11.5" fill="url(#gh)" opacity="0.18"/><ellipse cx="276.3" cy="5.3" rx="22.0" ry="11.5" fill="url(#gh)" opacity="0.18"/><ellipse cx="-11.4" cy="5.9" rx="7.5" ry="6.5" fill="url(#gw)" opacity="0.10"/><ellipse cx="5.6" cy="4.6" rx="7.5" ry="6.5" fill="url(#gw)" opacity="0.11"/><ellipse cx="29.2" cy="4.3" rx="7.5" ry="6.5" fill="url(#gw)" opacity="0.09"/><ellipse cx="43.7" cy="5.2" rx="7.5" ry="6.5" fill="url(#gw)" opacity="0.09"/><ellipse cx="70.4" cy="4.7" rx="7.5" ry="6.5" fill="url(#gw)" opacity="0.12"/><ellipse cx="83.9" cy="4.1" rx="7.5" ry="6.5" fill="url(#gw)" opacity="0.20"/><ellipse cx="109.8" cy="5.3" rx="7.5" ry="6.5" fill="url(#gw)" opacity="0.16"/><ellipse cx="123.1" cy="4.2" rx="7.5" ry="6.5" fill="url(#gw)" opacity="0.19"/><ellipse cx="149.1" cy="6.4" rx="7.5" ry="6.5" fill="url(#gw)" opacity="0.11"/><ellipse cx="165.1" cy="4.1" rx="7.5" ry="6.5" fill="url(#gw)" opacity="0.15"/><ellipse cx="189.5" cy="6.2" rx="7.5" ry="6.5" fill="url(#gw)" opacity="0.13"/><ellipse cx="202.9" cy="5.4" rx="7.5" ry="6.5" fill="url(#gw)" opacity="0.22"/><ellipse cx="229.6" cy="5.5" rx="7.5" ry="6.5" fill="url(#gw)" opacity="0.13"/><ellipse cx="244.8" cy="6.8" rx="7.5" ry="6.5" fill="url(#gw)" opacity="0.20"/><ellipse cx="270.3" cy="4.7" rx="7.5" ry="6.5" fill="url(#gw)" opacity="0.17"/><ellipse cx="282.6" cy="5.9" rx="7.5" ry="6.5" fill="url(#gw)" opacity="0.23"/><ellipse cx="-0.5" cy="61.5" rx="22.0" ry="11.5" fill="url(#gh)" opacity="0.18"/><ellipse cx="39.4" cy="61.5" rx="22.0" ry="11.5" fill="url(#gh)" opacity="0.18"/><ellipse cx="79.3" cy="61.5" rx="22.0" ry="11.5" fill="url(#gh)" opacity="0.18"/><ellipse cx="119.2" cy="61.5" rx="22.0" ry="11.5" fill="url(#gh)" opacity="0.18"/><ellipse cx="159.1" cy="61.5" rx="22.0" ry="11.5" fill="url(#gh)" opacity="0.18"/><ellipse cx="199.0" cy="61.5" rx="22.0" ry="11.5" fill="url(#gh)" opacity="0.18"/><ellipse cx="238.9" cy="61.5" rx="22.0" ry="11.5" fill="url(#gh)" opacity="0.18"/><ellipse cx="278.8" cy="61.5" rx="22.0" ry="11.5" fill="url(#gh)" opacity="0.18"/><ellipse cx="-7.8" cy="61.1" rx="7.5" ry="6.5" fill="url(#gw)" opacity="0.24"/><ellipse cx="7.9" cy="62.1" rx="7.5" ry="6.5" fill="url(#gw)" opacity="0.22"/><ellipse cx="31.9" cy="60.0" rx="7.5" ry="6.5" fill="url(#gw)" opacity="0.15"/><ellipse cx="46.3" cy="62.0" rx="7.5" ry="6.5" fill="url(#gw)" opacity="0.18"/><ellipse cx="71.6" cy="60.4" rx="7.5" ry="6.5" fill="url(#gw)" opacity="0.09"/><ellipse cx="88.2" cy="62.3" rx="7.5" ry="6.5" fill="url(#gw)" opacity="0.15"/><ellipse cx="111.3" cy="60.3" rx="7.5" ry="6.5" fill="url(#gw)" opacity="0.19"/><ellipse cx="126.8" cy="63.0" rx="7.5" ry="6.5" fill="url(#gw)" opacity="0.09"/><ellipse cx="150.7" cy="62.9" rx="7.5" ry="6.5" fill="url(#gw)" opacity="0.21"/><ellipse cx="165.2" cy="61.5" rx="7.5" ry="6.5" fill="url(#gw)" opacity="0.13"/><ellipse cx="190.2" cy="62.8" rx="7.5" ry="6.5" fill="url(#gw)" opacity="0.16"/><ellipse cx="206.2" cy="60.1" rx="7.5" ry="6.5" fill="url(#gw)" opacity="0.14"/><ellipse cx="232.7" cy="62.9" rx="7.5" ry="6.5" fill="url(#gw)" opacity="0.09"/><ellipse cx="245.0" cy="60.4" rx="7.5" ry="6.5" fill="url(#gw)" opacity="0.19"/><ellipse cx="269.8" cy="62.4" rx="7.5" ry="6.5" fill="url(#gw)" opacity="0.11"/><ellipse cx="284.9" cy="60.8" rx="7.5" ry="6.5" fill="url(#gw)" opacity="0.16"/><ellipse cx="2.0" cy="117.7" rx="22.0" ry="11.5" fill="url(#gh)" opacity="0.18"/><ellipse cx="41.9" cy="117.7" rx="22.0" ry="11.5" fill="url(#gh)" opacity="0.18"/><ellipse cx="81.8" cy="117.7" rx="22.0" ry="11.5" fill="url(#gh)" opacity="0.18"/><ellipse cx="121.7" cy="117.7" rx="22.0" ry="11.5" fill="url(#gh)" opacity="0.18"/><ellipse cx="161.6" cy="117.7" rx="22.0" ry="11.5" fill="url(#gh)" opacity="0.18"/><ellipse cx="201.5" cy="117.7" rx="22.0" ry="11.5" fill="url(#gh)" opacity="0.18"/><ellipse cx="241.4" cy="117.7" rx="22.0" ry="11.5" fill="url(#gh)" opacity="0.18"/><ellipse cx="281.3" cy="117.7" rx="22.0" ry="11.5" fill="url(#gh)" opacity="0.18"/><ellipse cx="-5.4" cy="117.8" rx="7.5" ry="6.5" fill="url(#gw)" opacity="0.16"/><ellipse cx="10.4" cy="116.5" rx="7.5" ry="6.5" fill="url(#gw)" opacity="0.11"/><ellipse cx="35.1" cy="116.5" rx="7.5" ry="6.5" fill="url(#gw)" opacity="0.16"/><ellipse cx="50.9" cy="118.3" rx="7.5" ry="6.5" fill="url(#gw)" opacity="0.09"/><ellipse cx="74.8" cy="116.5" rx="7.5" ry="6.5" fill="url(#gw)" opacity="0.12"/><ellipse cx="87.9" cy="116.5" rx="7.5" ry="6.5" fill="url(#gw)" opacity="0.22"/><ellipse cx="114.6" cy="118.8" rx="7.5" ry="6.5" fill="url(#gw)" opacity="0.13"/><ellipse cx="130.0" cy="117.4" rx="7.5" ry="6.5" fill="url(#gw)" opacity="0.13"/><ellipse cx="154.6" cy="116.9" rx="7.5" ry="6.5" fill="url(#gw)" opacity="0.16"/><ellipse cx="168.6" cy="116.7" rx="7.5" ry="6.5" fill="url(#gw)" opacity="0.20"/><ellipse cx="194.0" cy="116.3" rx="7.5" ry="6.5" fill="url(#gw)" opacity="0.19"/><ellipse cx="209.8" cy="117.5" rx="7.5" ry="6.5" fill="url(#gw)" opacity="0.24"/><ellipse cx="234.7" cy="116.3" rx="7.5" ry="6.5" fill="url(#gw)" opacity="0.22"/><ellipse cx="248.9" cy="117.5" rx="7.5" ry="6.5" fill="url(#gw)" opacity="0.10"/><ellipse cx="272.8" cy="116.6" rx="7.5" ry="6.5" fill="url(#gw)" opacity="0.20"/><ellipse cx="290.3" cy="116.3" rx="7.5" ry="6.5" fill="url(#gw)" opacity="0.15"/><ellipse cx="4.5" cy="173.9" rx="22.0" ry="11.5" fill="url(#gh)" opacity="0.18"/><ellipse cx="44.4" cy="173.9" rx="22.0" ry="11.5" fill="url(#gh)" opacity="0.18"/><ellipse cx="84.3" cy="173.9" rx="22.0" ry="11.5" fill="url(#gh)" opacity="0.18"/><ellipse cx="124.2" cy="173.9" rx="22.0" ry="11.5" fill="url(#gh)" opacity="0.18"/><ellipse cx="164.1" cy="173.9" rx="22.0" ry="11.5" fill="url(#gh)" opacity="0.18"/><ellipse cx="204.0" cy="173.9" rx="22.0" ry="11.5" fill="url(#gh)" opacity="0.18"/><ellipse cx="243.9" cy="173.9" rx="22.0" ry="11.5" fill="url(#gh)" opacity="0.18"/><ellipse cx="283.8" cy="173.9" rx="22.0" ry="11.5" fill="url(#gh)" opacity="0.18"/><ellipse cx="-2.7" cy="173.5" rx="7.5" ry="6.5" fill="url(#gw)" opacity="0.24"/><ellipse cx="11.8" cy="173.7" rx="7.5" ry="6.5" fill="url(#gw)" opacity="0.11"/><ellipse cx="36.6" cy="175.2" rx="7.5" ry="6.5" fill="url(#gw)" opacity="0.10"/><ellipse cx="52.5" cy="173.6" rx="7.5" ry="6.5" fill="url(#gw)" opacity="0.24"/><ellipse cx="75.4" cy="174.6" rx="7.5" ry="6.5" fill="url(#gw)" opacity="0.23"/><ellipse cx="90.7" cy="173.5" rx="7.5" ry="6.5" fill="url(#gw)" opacity="0.20"/><ellipse cx="117.6" cy="174.2" rx="7.5" ry="6.5" fill="url(#gw)" opacity="0.16"/><ellipse cx="132.7" cy="173.9" rx="7.5" ry="6.5" fill="url(#gw)" opacity="0.13"/><ellipse cx="156.2" cy="173.4" rx="7.5" ry="6.5" fill="url(#gw)" opacity="0.22"/><ellipse cx="170.6" cy="174.7" rx="7.5" ry="6.5" fill="url(#gw)" opacity="0.14"/><ellipse cx="196.2" cy="174.2" rx="7.5" ry="6.5" fill="url(#gw)" opacity="0.20"/><ellipse cx="212.9" cy="172.8" rx="7.5" ry="6.5" fill="url(#gw)" opacity="0.20"/><ellipse cx="237.6" cy="175.2" rx="7.5" ry="6.5" fill="url(#gw)" opacity="0.11"/><ellipse cx="251.5" cy="175.3" rx="7.5" ry="6.5" fill="url(#gw)" opacity="0.21"/><ellipse cx="275.1" cy="174.5" rx="7.5" ry="6.5" fill="url(#gw)" opacity="0.23"/><ellipse cx="290.6" cy="174.8" rx="7.5" ry="6.5" fill="url(#gw)" opacity="0.22"/><ellipse cx="7.0" cy="230.1" rx="22.0" ry="11.5" fill="url(#gh)" opacity="0.18"/><ellipse cx="46.9" cy="230.1" rx="22.0" ry="11.5" fill="url(#gh)" opacity="0.18"/><ellipse cx="86.8" cy="230.1" rx="22.0" ry="11.5" fill="url(#gh)" opacity="0.18"/><ellipse cx="126.7" cy="230.1" rx="22.0" ry="11.5" fill="url(#gh)" opacity="0.18"/><ellipse cx="166.6" cy="230.1" rx="22.0" ry="11.5" fill="url(#gh)" opacity="0.18"/><ellipse cx="206.5" cy="230.1" rx="22.0" ry="11.5" fill="url(#gh)" opacity="0.18"/><ellipse cx="246.4" cy="230.1" rx="22.0" ry="11.5" fill="url(#gh)" opacity="0.18"/><ellipse cx="286.3" cy="230.1" rx="22.0" ry="11.5" fill="url(#gh)" opacity="0.18"/><ellipse cx="-0.5" cy="229.9" rx="7.5" ry="6.5" fill="url(#gw)" opacity="0.24"/><ellipse cx="15.4" cy="230.5" rx="7.5" ry="6.5" fill="url(#gw)" opacity="0.18"/><ellipse cx="39.4" cy="229.6" rx="7.5" ry="6.5" fill="url(#gw)" opacity="0.25"/><ellipse cx="55.1" cy="230.3" rx="7.5" ry="6.5" fill="url(#gw)" opacity="0.11"/><ellipse cx="80.8" cy="231.2" rx="7.5" ry="6.5" fill="url(#gw)" opacity="0.19"/><ellipse cx="94.7" cy="229.4" rx="7.5" ry="6.5" fill="url(#gw)" opacity="0.21"/><ellipse cx="118.7" cy="230.0" rx="7.5" ry="6.5" fill="url(#gw)" opacity="0.17"/><ellipse cx="134.4" cy="231.0" rx="7.5" ry="6.5" fill="url(#gw)" opacity="0.25"/><ellipse cx="158.9" cy="231.2" rx="7.5" ry="6.5" fill="url(#gw)" opacity="0.19"/><ellipse cx="173.7" cy="229.9" rx="7.5" ry="6.5" fill="url(#gw)" opacity="0.19"/><ellipse cx="200.2" cy="228.8" rx="7.5" ry="6.5" fill="url(#gw)" opacity="0.20"/><ellipse cx="214.4" cy="229.5" rx="7.5" ry="6.5" fill="url(#gw)" opacity="0.10"/><ellipse cx="240.1" cy="230.4" rx="7.5" ry="6.5" fill="url(#gw)" opacity="0.11"/><ellipse cx="255.2" cy="229.9" rx="7.5" ry="6.5" fill="url(#gw)" opacity="0.12"/><ellipse cx="277.4" cy="229.1" rx="7.5" ry="6.5" fill="url(#gw)" opacity="0.09"/><ellipse cx="294.3" cy="230.9" rx="7.5" ry="6.5" fill="url(#gw)" opacity="0.23"/><ellipse cx="9.5" cy="286.3" rx="22.0" ry="11.5" fill="url(#gh)" opacity="0.18"/><ellipse cx="49.4" cy="286.3" rx="22.0" ry="11.5" fill="url(#gh)" opacity="0.18"/><ellipse cx="89.3" cy="286.3" rx="22.0" ry="11.5" fill="url(#gh)" opacity="0.18"/><ellipse cx="129.2" cy="286.3" rx="22.0" ry="11.5" fill="url(#gh)" opacity="0.18"/><ellipse cx="169.1" cy="286.3" rx="22.0" ry="11.5" fill="url(#gh)" opacity="0.18"/><ellipse cx="209.0" cy="286.3" rx="22.0" ry="11.5" fill="url(#gh)" opacity="0.18"/><ellipse cx="248.9" cy="286.3" rx="22.0" ry="11.5" fill="url(#gh)" opacity="0.18"/><ellipse cx="288.8" cy="286.3" rx="22.0" ry="11.5" fill="url(#gh)" opacity="0.18"/><ellipse cx="2.7" cy="285.8" rx="7.5" ry="6.5" fill="url(#gw)" opacity="0.20"/><ellipse cx="16.8" cy="287.0" rx="7.5" ry="6.5" fill="url(#gw)" opacity="0.16"/><ellipse cx="42.6" cy="285.5" rx="7.5" ry="6.5" fill="url(#gw)" opacity="0.15"/><ellipse cx="57.0" cy="285.1" rx="7.5" ry="6.5" fill="url(#gw)" opacity="0.16"/><ellipse cx="82.2" cy="285.3" rx="7.5" ry="6.5" fill="url(#gw)" opacity="0.10"/><ellipse cx="98.0" cy="286.7" rx="7.5" ry="6.5" fill="url(#gw)" opacity="0.16"/><ellipse cx="122.0" cy="285.6" rx="7.5" ry="6.5" fill="url(#gw)" opacity="0.20"/><ellipse cx="136.0" cy="285.3" rx="7.5" ry="6.5" fill="url(#gw)" opacity="0.12"/><ellipse cx="161.6" cy="286.5" rx="7.5" ry="6.5" fill="url(#gw)" opacity="0.12"/><ellipse cx="176.7" cy="285.2" rx="7.5" ry="6.5" fill="url(#gw)" opacity="0.21"/><ellipse cx="201.1" cy="285.2" rx="7.5" ry="6.5" fill="url(#gw)" opacity="0.15"/><ellipse cx="215.6" cy="287.0" rx="7.5" ry="6.5" fill="url(#gw)" opacity="0.25"/><ellipse cx="241.4" cy="285.4" rx="7.5" ry="6.5" fill="url(#gw)" opacity="0.12"/><ellipse cx="257.0" cy="287.3" rx="7.5" ry="6.5" fill="url(#gw)" opacity="0.24"/><ellipse cx="280.7" cy="286.1" rx="7.5" ry="6.5" fill="url(#gw)" opacity="0.25"/><ellipse cx="296.9" cy="287.4" rx="7.5" ry="6.5" fill="url(#gw)" opacity="0.18"/><ellipse cx="16.3" cy="31.5" rx="19.5" ry="22.0" fill="url(#gh)" opacity="0.20"/><ellipse cx="14.8" cy="24.0" rx="7.5" ry="9.0" fill="url(#gw)" opacity="0.19"/><ellipse cx="16.3" cy="33.0" rx="14.0" ry="14.5" fill="url(#gb)" opacity="0.65" transform="rotate(1 16.3 33.0)"/><ellipse cx="55.1" cy="30.7" rx="19.5" ry="22.0" fill="url(#gh)" opacity="0.20"/><ellipse cx="53.6" cy="23.2" rx="7.5" ry="9.0" fill="url(#gw)" opacity="0.19"/><ellipse cx="55.1" cy="32.2" rx="13.6" ry="14.1" fill="url(#gb)" opacity="0.61" transform="rotate(16 55.1 32.2)"/><ellipse cx="94.9" cy="29.9" rx="19.5" ry="22.0" fill="url(#gh)" opacity="0.20"/><ellipse cx="93.4" cy="22.4" rx="7.5" ry="9.0" fill="url(#gw)" opacity="0.19"/><ellipse cx="94.9" cy="31.4" rx="15.6" ry="16.1" fill="url(#gb)" opacity="0.69" transform="rotate(-10 94.9 31.4)"/><ellipse cx="135.2" cy="31.0" rx="19.5" ry="22.0" fill="url(#gh)" opacity="0.20"/><ellipse cx="133.7" cy="23.5" rx="7.5" ry="9.0" fill="url(#gw)" opacity="0.19"/><ellipse cx="135.2" cy="32.5" rx="15.3" ry="15.8" fill="url(#gb)" opacity="0.66" transform="rotate(-13 135.2 32.5)"/><ellipse cx="176.1" cy="30.0" rx="19.5" ry="22.0" fill="url(#gh)" opacity="0.20"/><ellipse cx="174.6" cy="22.5" rx="7.5" ry="9.0" fill="url(#gw)" opacity="0.19"/><ellipse cx="176.1" cy="31.5" rx="14.6" ry="15.1" fill="url(#gb)" opacity="0.64" transform="rotate(-29 176.1 31.5)"/><ellipse cx="215.9" cy="30.0" rx="19.5" ry="22.0" fill="url(#gh)" opacity="0.20"/><ellipse cx="214.4" cy="22.5" rx="7.5" ry="9.0" fill="url(#gw)" opacity="0.19"/><ellipse cx="215.9" cy="31.5" rx="14.8" ry="15.3" fill="url(#gb)" opacity="0.64" transform="rotate(6 215.9 31.5)"/><ellipse cx="256.0" cy="31.2" rx="19.5" ry="22.0" fill="url(#gh)" opacity="0.20"/><ellipse cx="254.5" cy="23.7" rx="7.5" ry="9.0" fill="url(#gw)" opacity="0.19"/><ellipse cx="256.0" cy="32.7" rx="15.0" ry="15.5" fill="url(#gb)" opacity="0.68" transform="rotate(24 256.0 32.7)"/><ellipse cx="32.9" cy="35.2" rx="8.0" ry="13.0" fill="url(#gk)" opacity="0.32"/><ellipse cx="114.4" cy="35.1" rx="8.0" ry="13.0" fill="url(#gk)" opacity="0.27"/><ellipse cx="155.4" cy="30.0" rx="8.0" ry="13.0" fill="url(#gk)" opacity="0.45"/><ellipse cx="234.0" cy="25.2" rx="8.0" ry="13.0" fill="url(#gk)" opacity="0.30"/><ellipse cx="20.4" cy="84.9" rx="19.5" ry="22.0" fill="url(#gh)" opacity="0.20"/><ellipse cx="18.9" cy="77.4" rx="7.5" ry="9.0" fill="url(#gw)" opacity="0.19"/><ellipse cx="20.4" cy="86.4" rx="14.3" ry="14.8" fill="url(#gb)" opacity="0.64" transform="rotate(21 20.4 86.4)"/><ellipse cx="61.7" cy="86.3" rx="19.5" ry="22.0" fill="url(#gh)" opacity="0.20"/><ellipse cx="60.2" cy="78.8" rx="7.5" ry="9.0" fill="url(#gw)" opacity="0.19"/><ellipse cx="61.7" cy="87.8" rx="14.1" ry="14.6" fill="url(#gb)" opacity="0.67" transform="rotate(12 61.7 87.8)"/><ellipse cx="99.8" cy="86.2" rx="19.5" ry="22.0" fill="url(#gh)" opacity="0.20"/><ellipse cx="98.3" cy="78.7" rx="7.5" ry="9.0" fill="url(#gw)" opacity="0.19"/><ellipse cx="99.8" cy="87.7" rx="13.9" ry="14.4" fill="url(#gb)" opacity="0.69" transform="rotate(-12 99.8 87.7)"/><ellipse cx="138.9" cy="86.0" rx="19.5" ry="22.0" fill="url(#gh)" opacity="0.20"/><ellipse cx="137.4" cy="78.5" rx="7.5" ry="9.0" fill="url(#gw)" opacity="0.19"/><ellipse cx="138.9" cy="87.5" rx="15.3" ry="15.8" fill="url(#gb)" opacity="0.65" transform="rotate(-2 138.9 87.5)"/><ellipse cx="179.7" cy="86.4" rx="19.5" ry="22.0" fill="url(#gh)" opacity="0.20"/><ellipse cx="178.2" cy="78.9" rx="7.5" ry="9.0" fill="url(#gw)" opacity="0.19"/><ellipse cx="179.7" cy="87.9" rx="13.7" ry="14.2" fill="url(#gb)" opacity="0.60" transform="rotate(11 179.7 87.9)"/><ellipse cx="218.7" cy="86.4" rx="19.5" ry="22.0" fill="url(#gh)" opacity="0.20"/><ellipse cx="217.2" cy="78.9" rx="7.5" ry="9.0" fill="url(#gw)" opacity="0.19"/><ellipse cx="218.7" cy="87.9" rx="14.5" ry="15.0" fill="url(#gb)" opacity="0.64" transform="rotate(21 218.7 87.9)"/><ellipse cx="259.0" cy="85.3" rx="19.5" ry="22.0" fill="url(#gh)" opacity="0.20"/><ellipse cx="257.5" cy="77.8" rx="7.5" ry="9.0" fill="url(#gw)" opacity="0.19"/><ellipse cx="259.0" cy="86.8" rx="15.0" ry="15.5" fill="url(#gb)" opacity="0.61" transform="rotate(-28 259.0 86.8)"/><ellipse cx="38.3" cy="80.1" rx="8.0" ry="13.0" fill="url(#gk)" opacity="0.33"/><ellipse cx="159.0" cy="88.4" rx="8.0" ry="13.0" fill="url(#gk)" opacity="0.38"/><ellipse cx="197.8" cy="81.0" rx="8.0" ry="13.0" fill="url(#gk)" opacity="0.20"/><ellipse cx="22.6" cy="142.8" rx="19.5" ry="22.0" fill="url(#gh)" opacity="0.20"/><ellipse cx="21.1" cy="135.3" rx="7.5" ry="9.0" fill="url(#gw)" opacity="0.19"/><ellipse cx="22.6" cy="144.3" rx="15.0" ry="15.5" fill="url(#gb)" opacity="0.68" transform="rotate(21 22.6 144.3)"/><ellipse cx="63.8" cy="143.2" rx="19.5" ry="22.0" fill="url(#gh)" opacity="0.20"/><ellipse cx="62.3" cy="135.7" rx="7.5" ry="9.0" fill="url(#gw)" opacity="0.19"/><ellipse cx="63.8" cy="144.7" rx="15.1" ry="15.6" fill="url(#gb)" opacity="0.64" transform="rotate(29 63.8 144.7)"/><ellipse cx="103.7" cy="143.0" rx="19.5" ry="22.0" fill="url(#gh)" opacity="0.20"/><ellipse cx="102.2" cy="135.5" rx="7.5" ry="9.0" fill="url(#gw)" opacity="0.19"/><ellipse cx="103.7" cy="144.5" rx="14.9" ry="15.4" fill="url(#gb)" opacity="0.66" transform="rotate(15 103.7 144.5)"/><ellipse cx="143.1" cy="143.3" rx="19.5" ry="22.0" fill="url(#gh)" opacity="0.20"/><ellipse cx="141.6" cy="135.8" rx="7.5" ry="9.0" fill="url(#gw)" opacity="0.19"/><ellipse cx="143.1" cy="144.8" rx="14.3" ry="14.8" fill="url(#gb)" opacity="0.61" transform="rotate(-25 143.1 144.8)"/><ellipse cx="184.4" cy="142.7" rx="19.5" ry="22.0" fill="url(#gh)" opacity="0.20"/><ellipse cx="182.9" cy="135.2" rx="7.5" ry="9.0" fill="url(#gw)" opacity="0.19"/><ellipse cx="184.4" cy="144.2" rx="14.1" ry="14.6" fill="url(#gb)" opacity="0.63" transform="rotate(-5 184.4 144.2)"/><ellipse cx="224.1" cy="142.8" rx="19.5" ry="22.0" fill="url(#gh)" opacity="0.20"/><ellipse cx="222.6" cy="135.3" rx="7.5" ry="9.0" fill="url(#gw)" opacity="0.19"/><ellipse cx="224.1" cy="144.3" rx="14.5" ry="15.0" fill="url(#gb)" opacity="0.64" transform="rotate(18 224.1 144.3)"/><ellipse cx="265.0" cy="142.9" rx="19.5" ry="22.0" fill="url(#gh)" opacity="0.20"/><ellipse cx="263.5" cy="135.4" rx="7.5" ry="9.0" fill="url(#gw)" opacity="0.19"/><ellipse cx="265.0" cy="144.4" rx="14.1" ry="14.6" fill="url(#gb)" opacity="0.65" transform="rotate(-4 265.0 144.4)"/><ellipse cx="3.8" cy="143.6" rx="8.0" ry="13.0" fill="url(#gk)" opacity="0.45"/><ellipse cx="46.3" cy="150.9" rx="8.0" ry="13.0" fill="url(#gk)" opacity="0.40"/><ellipse cx="84.6" cy="141.2" rx="8.0" ry="13.0" fill="url(#gk)" opacity="0.42"/><ellipse cx="123.7" cy="149.2" rx="8.0" ry="13.0" fill="url(#gk)" opacity="0.27"/><ellipse cx="161.5" cy="146.2" rx="8.0" ry="13.0" fill="url(#gk)" opacity="0.23"/><ellipse cx="205.6" cy="149.9" rx="8.0" ry="13.0" fill="url(#gk)" opacity="0.25"/><ellipse cx="244.7" cy="151.6" rx="8.0" ry="13.0" fill="url(#gk)" opacity="0.13"/><ellipse cx="285.1" cy="139.9" rx="8.0" ry="13.0" fill="url(#gk)" opacity="0.41"/><ellipse cx="24.5" cy="199.7" rx="19.5" ry="22.0" fill="url(#gh)" opacity="0.20"/><ellipse cx="23.0" cy="192.2" rx="7.5" ry="9.0" fill="url(#gw)" opacity="0.19"/><ellipse cx="24.5" cy="201.2" rx="14.4" ry="14.9" fill="url(#gb)" opacity="0.67" transform="rotate(-20 24.5 201.2)"/><ellipse cx="65.9" cy="200.9" rx="19.5" ry="22.0" fill="url(#gh)" opacity="0.20"/><ellipse cx="64.4" cy="193.4" rx="7.5" ry="9.0" fill="url(#gw)" opacity="0.19"/><ellipse cx="65.9" cy="202.4" rx="13.8" ry="14.3" fill="url(#gb)" opacity="0.68" transform="rotate(12 65.9 202.4)"/><ellipse cx="106.1" cy="200.5" rx="19.5" ry="22.0" fill="url(#gh)" opacity="0.20"/><ellipse cx="104.6" cy="193.0" rx="7.5" ry="9.0" fill="url(#gw)" opacity="0.19"/><ellipse cx="106.1" cy="202.0" rx="15.7" ry="16.2" fill="url(#gb)" opacity="0.62" transform="rotate(-25 106.1 202.0)"/><ellipse cx="144.7" cy="199.7" rx="19.5" ry="22.0" fill="url(#gh)" opacity="0.20"/><ellipse cx="143.2" cy="192.2" rx="7.5" ry="9.0" fill="url(#gw)" opacity="0.19"/><ellipse cx="144.7" cy="201.2" rx="14.8" ry="15.3" fill="url(#gb)" opacity="0.63" transform="rotate(16 144.7 201.2)"/><ellipse cx="186.4" cy="199.9" rx="19.5" ry="22.0" fill="url(#gh)" opacity="0.20"/><ellipse cx="184.9" cy="192.4" rx="7.5" ry="9.0" fill="url(#gw)" opacity="0.19"/><ellipse cx="186.4" cy="201.4" rx="15.3" ry="15.8" fill="url(#gb)" opacity="0.68" transform="rotate(28 186.4 201.4)"/><ellipse cx="226.4" cy="199.2" rx="19.5" ry="22.0" fill="url(#gh)" opacity="0.20"/><ellipse cx="224.9" cy="191.7" rx="7.5" ry="9.0" fill="url(#gw)" opacity="0.19"/><ellipse cx="226.4" cy="200.7" rx="15.1" ry="15.6" fill="url(#gb)" opacity="0.69" transform="rotate(-19 226.4 200.7)"/><ellipse cx="265.4" cy="200.0" rx="19.5" ry="22.0" fill="url(#gh)" opacity="0.20"/><ellipse cx="263.9" cy="192.5" rx="7.5" ry="9.0" fill="url(#gw)" opacity="0.19"/><ellipse cx="265.4" cy="201.5" rx="15.3" ry="15.8" fill="url(#gb)" opacity="0.61" transform="rotate(-24 265.4 201.5)"/><ellipse cx="6.0" cy="205.3" rx="8.0" ry="13.0" fill="url(#gk)" opacity="0.27"/><ellipse cx="43.2" cy="196.0" rx="8.0" ry="13.0" fill="url(#gk)" opacity="0.31"/><ellipse cx="88.7" cy="205.8" rx="8.0" ry="13.0" fill="url(#gk)" opacity="0.28"/><ellipse cx="125.0" cy="206.3" rx="8.0" ry="13.0" fill="url(#gk)" opacity="0.38"/><ellipse cx="164.7" cy="198.7" rx="8.0" ry="13.0" fill="url(#gk)" opacity="0.30"/><ellipse cx="245.3" cy="198.6" rx="8.0" ry="13.0" fill="url(#gk)" opacity="0.26"/><ellipse cx="29.0" cy="253.3" rx="19.5" ry="22.0" fill="url(#gh)" opacity="0.20"/><ellipse cx="27.5" cy="245.8" rx="7.5" ry="9.0" fill="url(#gw)" opacity="0.19"/><ellipse cx="29.0" cy="254.8" rx="15.2" ry="15.7" fill="url(#gb)" opacity="0.66" transform="rotate(22 29.0 254.8)"/><ellipse cx="67.9" cy="254.8" rx="19.5" ry="22.0" fill="url(#gh)" opacity="0.20"/><ellipse cx="66.4" cy="247.3" rx="7.5" ry="9.0" fill="url(#gw)" opacity="0.19"/><ellipse cx="67.9" cy="256.3" rx="14.9" ry="15.4" fill="url(#gb)" opacity="0.64" transform="rotate(-14 67.9 256.3)"/><ellipse cx="109.3" cy="253.1" rx="19.5" ry="22.0" fill="url(#gh)" opacity="0.20"/><ellipse cx="107.8" cy="245.6" rx="7.5" ry="9.0" fill="url(#gw)" opacity="0.19"/><ellipse cx="109.3" cy="254.6" rx="15.0" ry="15.5" fill="url(#gb)" opacity="0.67" transform="rotate(4 109.3 254.6)"/><ellipse cx="148.0" cy="253.8" rx="19.5" ry="22.0" fill="url(#gh)" opacity="0.20"/><ellipse cx="146.5" cy="246.3" rx="7.5" ry="9.0" fill="url(#gw)" opacity="0.19"/><ellipse cx="148.0" cy="255.3" rx="14.1" ry="14.6" fill="url(#gb)" opacity="0.61" transform="rotate(-2 148.0 255.3)"/><ellipse cx="187.2" cy="253.5" rx="19.5" ry="22.0" fill="url(#gh)" opacity="0.20"/><ellipse cx="185.7" cy="246.0" rx="7.5" ry="9.0" fill="url(#gw)" opacity="0.19"/><ellipse cx="187.2" cy="255.0" rx="13.7" ry="14.2" fill="url(#gb)" opacity="0.69" transform="rotate(-26 187.2 255.0)"/><ellipse cx="229.0" cy="254.0" rx="19.5" ry="22.0" fill="url(#gh)" opacity="0.20"/><ellipse cx="227.5" cy="246.5" rx="7.5" ry="9.0" fill="url(#gw)" opacity="0.19"/><ellipse cx="229.0" cy="255.5" rx="14.8" ry="15.3" fill="url(#gb)" opacity="0.66" transform="rotate(7 229.0 255.5)"/><ellipse cx="268.4" cy="253.8" rx="19.5" ry="22.0" fill="url(#gh)" opacity="0.20"/><ellipse cx="266.9" cy="246.3" rx="7.5" ry="9.0" fill="url(#gw)" opacity="0.19"/><ellipse cx="268.4" cy="255.3" rx="15.0" ry="15.5" fill="url(#gb)" opacity="0.61" transform="rotate(-25 268.4 255.3)"/><ellipse cx="10.5" cy="260.0" rx="8.0" ry="13.0" fill="url(#gk)" opacity="0.25"/><ellipse cx="49.8" cy="259.8" rx="8.0" ry="13.0" fill="url(#gk)" opacity="0.35"/><ellipse cx="90.6" cy="259.1" rx="8.0" ry="13.0" fill="url(#gk)" opacity="0.28"/><ellipse cx="210.6" cy="255.0" rx="8.0" ry="13.0" fill="url(#gk)" opacity="0.21"/><ellipse cx="246.0" cy="255.0" rx="8.0" ry="13.0" fill="url(#gk)" opacity="0.21"/>
</g></g>
<rect x="204.4" y="265.9" width="72.0" height="6.0" fill="#fff"/>
<rect x=".6" y=".6" width="289.8" height="283.1" fill="none" stroke="#111" stroke-width="1.2"/>
</svg>
<svg x="358.3" y="906.0" width="291.0" height="284.3">
<g filter="url(#fd1)"><rect width="293" height="286" fill="#3c3c3c"/>
<g transform="translate(0.55 0.4)">
<ellipse cx="265.0" cy="245.0" rx="95.0" ry="80.0" fill="url(#gk)" opacity="0.60"/><ellipse cx="235.0" cy="150.0" rx="60.0" ry="40.0" fill="url(#gk)" opacity="0.35"/><ellipse cx="-3.0" cy="5.3" rx="22.0" ry="11.5" fill="url(#gh)" opacity="0.20"/><ellipse cx="36.9" cy="5.3" rx="22.0" ry="11.5" fill="url(#gh)" opacity="0.20"/><ellipse cx="76.8" cy="5.3" rx="22.0" ry="11.5" fill="url(#gh)" opacity="0.20"/><ellipse cx="116.7" cy="5.3" rx="22.0" ry="11.5" fill="url(#gh)" opacity="0.20"/><ellipse cx="156.6" cy="5.3" rx="22.0" ry="11.5" fill="url(#gh)" opacity="0.20"/><ellipse cx="196.5" cy="5.3" rx="22.0" ry="11.5" fill="url(#gh)" opacity="0.20"/><ellipse cx="236.4" cy="5.3" rx="22.0" ry="11.5" fill="url(#gh)" opacity="0.20"/><ellipse cx="276.3" cy="5.3" rx="22.0" ry="11.5" fill="url(#gh)" opacity="0.20"/><ellipse cx="-11.0" cy="3.8" rx="7.5" ry="6.5" fill="url(#gw)" opacity="0.12"/><ellipse cx="5.3" cy="5.9" rx="7.5" ry="6.5" fill="url(#gw)" opacity="0.15"/><ellipse cx="30.2" cy="5.2" rx="7.5" ry="6.5" fill="url(#gw)" opacity="0.18"/><ellipse cx="44.7" cy="4.2" rx="7.5" ry="6.5" fill="url(#gw)" opacity="0.25"/><ellipse cx="69.2" cy="5.4" rx="7.5" ry="6.5" fill="url(#gw)" opacity="0.20"/><ellipse cx="84.9" cy="4.4" rx="7.5" ry="6.5" fill="url(#gw)" opacity="0.14"/><ellipse cx="108.4" cy="4.6" rx="7.5" ry="6.5" fill="url(#gw)" opacity="0.15"/><ellipse cx="125.0" cy="5.8" rx="7.5" ry="6.5" fill="url(#gw)" opacity="0.14"/><ellipse cx="149.3" cy="4.0" rx="7.5" ry="6.5" fill="url(#gw)" opacity="0.11"/><ellipse cx="163.8" cy="5.4" rx="7.5" ry="6.5" fill="url(#gw)" opacity="0.21"/><ellipse cx="189.8" cy="5.8" rx="7.5" ry="6.5" fill="url(#gw)" opacity="0.23"/><ellipse cx="202.8" cy="5.6" rx="7.5" ry="6.5" fill="url(#gw)" opacity="0.15"/><ellipse cx="230.1" cy="6.4" rx="7.5" ry="6.5" fill="url(#gw)" opacity="0.19"/><ellipse cx="243.6" cy="5.9" rx="7.5" ry="6.5" fill="url(#gw)" opacity="0.14"/><ellipse cx="270.2" cy="3.8" rx="7.5" ry="6.5" fill="url(#gw)" opacity="0.17"/><ellipse cx="284.8" cy="6.6" rx="7.5" ry="6.5" fill="url(#gw)" opacity="0.17"/><ellipse cx="-0.5" cy="61.5" rx="22.0" ry="11.5" fill="url(#gh)" opacity="0.20"/><ellipse cx="39.4" cy="61.5" rx="22.0" ry="11.5" fill="url(#gh)" opacity="0.20"/><ellipse cx="79.3" cy="61.5" rx="22.0" ry="11.5" fill="url(#gh)" opacity="0.20"/><ellipse cx="119.2" cy="61.5" rx="22.0" ry="11.5" fill="url(#gh)" opacity="0.20"/><ellipse cx="159.1" cy="61.5" rx="22.0" ry="11.5" fill="url(#gh)" opacity="0.20"/><ellipse cx="199.0" cy="61.5" rx="22.0" ry="11.5" fill="url(#gh)" opacity="0.20"/><ellipse cx="238.9" cy="61.5" rx="22.0" ry="11.5" fill="url(#gh)" opacity="0.20"/><ellipse cx="278.8" cy="61.5" rx="22.0" ry="11.5" fill="url(#gh)" opacity="0.20"/><ellipse cx="-8.7" cy="61.8" rx="7.5" ry="6.5" fill="url(#gw)" opacity="0.19"/><ellipse cx="7.6" cy="61.0" rx="7.5" ry="6.5" fill="url(#gw)" opacity="0.16"/><ellipse cx="32.2" cy="62.3" rx="7.5" ry="6.5" fill="url(#gw)" opacity="0.14"/><ellipse cx="47.2" cy="61.7" rx="7.5" ry="6.5" fill="url(#gw)" opacity="0.19"/><ellipse cx="70.3" cy="61.1" rx="7.5" ry="6.5" fill="url(#gw)" opacity="0.19"/><ellipse cx="86.8" cy="62.4" rx="7.5" ry="6.5" fill="url(#gw)" opacity="0.25"/><ellipse cx="110.3" cy="62.2" rx="7.5" ry="6.5" fill="url(#gw)" opacity="0.26"/><ellipse cx="125.2" cy="60.7" rx="7.5" ry="6.5" fill="url(#gw)" opacity="0.19"/><ellipse cx="151.5" cy="62.6" rx="7.5" ry="6.5" fill="url(#gw)" opacity="0.19"/><ellipse cx="167.5" cy="61.2" rx="7.5" ry="6.5" fill="url(#gw)" opacity="0.16"/><ellipse cx="192.9" cy="60.5" rx="7.5" ry="6.5" fill="url(#gw)" opacity="0.26"/><ellipse cx="205.3" cy="61.0" rx="7.5" ry="6.5" fill="url(#gw)" opacity="0.24"/><ellipse cx="231.2" cy="60.1" rx="7.5" ry="6.5" fill="url(#gw)" opacity="0.25"/><ellipse cx="247.9" cy="62.6" rx="7.5" ry="6.5" fill="url(#gw)" opacity="0.11"/><ellipse cx="270.8" cy="60.9" rx="7.5" ry="6.5" fill="url(#gw)" opacity="0.26"/><ellipse cx="284.9" cy="61.8" rx="7.5" ry="6.5" fill="url(#gw)" opacity="0.22"/><ellipse cx="2.0" cy="117.7" rx="22.0" ry="11.5" fill="url(#gh)" opacity="0.20"/><ellipse cx="41.9" cy="117.7" rx="22.0" ry="11.5" fill="url(#gh)" opacity="0.20"/><ellipse cx="81.8" cy="117.7" rx="22.0" ry="11.5" fill="url(#gh)" opacity="0.20"/><ellipse cx="121.7" cy="117.7" rx="22.0" ry="11.5" fill="url(#gh)" opacity="0.20"/><ellipse cx="161.6" cy="117.7" rx="22.0" ry="11.5" fill="url(#gh)" opacity="0.20"/><ellipse cx="201.5" cy="117.7" rx="22.0" ry="11.5" fill="url(#gh)" opacity="0.20"/><ellipse cx="241.4" cy="117.7" rx="22.0" ry="11.5" fill="url(#gh)" opacity="0.20"/><ellipse cx="281.3" cy="117.7" rx="22.0" ry="11.5" fill="url(#gh)" opacity="0.20"/><ellipse cx="-6.4" cy="118.5" rx="7.5" ry="6.5" fill="url(#gw)" opacity="0.13"/><ellipse cx="11.0" cy="118.2" rx="7.5" ry="6.5" fill="url(#gw)" opacity="0.14"/><ellipse cx="34.8" cy="116.9" rx="7.5" ry="6.5" fill="url(#gw)" opacity="0.20"/><ellipse cx="48.0" cy="118.9" rx="7.5" ry="6.5" fill="url(#gw)" opacity="0.26"/><ellipse cx="74.6" cy="117.8" rx="7.5" ry="6.5" fill="url(#gw)" opacity="0.19"/><ellipse cx="88.3" cy="117.3" rx="7.5" ry="6.5" fill="url(#gw)" opacity="0.17"/><ellipse cx="113.6" cy="118.6" rx="7.5" ry="6.5" fill="url(#gw)" opacity="0.21"/><ellipse cx="127.8" cy="116.5" rx="7.5" ry="6.5" fill="url(#gw)" opacity="0.22"/><ellipse cx="154.2" cy="116.6" rx="7.5" ry="6.5" fill="url(#gw)" opacity="0.24"/><ellipse cx="169.2" cy="118.3" rx="7.5" ry="6.5" fill="url(#gw)" opacity="0.19"/><ellipse cx="195.3" cy="116.2" rx="7.5" ry="6.5" fill="url(#gw)" opacity="0.18"/><ellipse cx="209.6" cy="117.3" rx="7.5" ry="6.5" fill="url(#gw)" opacity="0.25"/><ellipse cx="232.8" cy="118.3" rx="7.5" ry="6.5" fill="url(#gw)" opacity="0.12"/><ellipse cx="249.0" cy="116.4" rx="7.5" ry="6.5" fill="url(#gw)" opacity="0.21"/><ellipse cx="273.8" cy="116.5" rx="7.5" ry="6.5" fill="url(#gw)" opacity="0.12"/><ellipse cx="287.4" cy="116.9" rx="7.5" ry="6.5" fill="url(#gw)" opacity="0.15"/><ellipse cx="4.5" cy="173.9" rx="22.0" ry="11.5" fill="url(#gh)" opacity="0.20"/><ellipse cx="44.4" cy="173.9" rx="22.0" ry="11.5" fill="url(#gh)" opacity="0.20"/><ellipse cx="84.3" cy="173.9" rx="22.0" ry="11.5" fill="url(#gh)" opacity="0.20"/><ellipse cx="124.2" cy="173.9" rx="22.0" ry="11.5" fill="url(#gh)" opacity="0.20"/><ellipse cx="164.1" cy="173.9" rx="22.0" ry="11.5" fill="url(#gh)" opacity="0.20"/><ellipse cx="204.0" cy="173.9" rx="22.0" ry="11.5" fill="url(#gh)" opacity="0.20"/><ellipse cx="243.9" cy="173.9" rx="22.0" ry="11.5" fill="url(#gh)" opacity="0.20"/><ellipse cx="283.8" cy="173.9" rx="22.0" ry="11.5" fill="url(#gh)" opacity="0.20"/><ellipse cx="-2.1" cy="172.4" rx="7.5" ry="6.5" fill="url(#gw)" opacity="0.20"/><ellipse cx="11.5" cy="173.1" rx="7.5" ry="6.5" fill="url(#gw)" opacity="0.15"/><ellipse cx="35.4" cy="173.0" rx="7.5" ry="6.5" fill="url(#gw)" opacity="0.17"/><ellipse cx="53.0" cy="173.3" rx="7.5" ry="6.5" fill="url(#gw)" opacity="0.15"/><ellipse cx="77.6" cy="174.5" rx="7.5" ry="6.5" fill="url(#gw)" opacity="0.22"/><ellipse cx="91.2" cy="174.0" rx="7.5" ry="6.5" fill="url(#gw)" opacity="0.18"/><ellipse cx="116.1" cy="173.5" rx="7.5" ry="6.5" fill="url(#gw)" opacity="0.16"/><ellipse cx="132.0" cy="173.6" rx="7.5" ry="6.5" fill="url(#gw)" opacity="0.12"/><ellipse cx="156.1" cy="172.6" rx="7.5" ry="6.5" fill="url(#gw)" opacity="0.12"/><ellipse cx="171.8" cy="175.3" rx="7.5" ry="6.5" fill="url(#gw)" opacity="0.19"/><ellipse cx="196.7" cy="174.8" rx="7.5" ry="6.5" fill="url(#gw)" opacity="0.13"/><ellipse cx="211.4" cy="174.1" rx="7.5" ry="6.5" fill="url(#gw)" opacity="0.15"/><ellipse cx="236.2" cy="175.1" rx="7.5" ry="6.5" fill="url(#gw)" opacity="0.12"/><ellipse cx="252.6" cy="172.4" rx="7.5" ry="6.5" fill="url(#gw)" opacity="0.25"/><ellipse cx="277.0" cy="173.3" rx="7.5" ry="6.5" fill="url(#gw)" opacity="0.21"/><ellipse cx="291.8" cy="173.4" rx="7.5" ry="6.5" fill="url(#gw)" opacity="0.14"/><ellipse cx="7.0" cy="230.1" rx="22.0" ry="11.5" fill="url(#gh)" opacity="0.20"/><ellipse cx="46.9" cy="230.1" rx="22.0" ry="11.5" fill="url(#gh)" opacity="0.20"/><ellipse cx="86.8" cy="230.1" rx="22.0" ry="11.5" fill="url(#gh)" opacity="0.20"/><ellipse cx="126.7" cy="230.1" rx="22.0" ry="11.5" fill="url(#gh)" opacity="0.20"/><ellipse cx="166.6" cy="230.1" rx="22.0" ry="11.5" fill="url(#gh)" opacity="0.20"/><ellipse cx="206.5" cy="230.1" rx="22.0" ry="11.5" fill="url(#gh)" opacity="0.20"/><ellipse cx="246.4" cy="230.1" rx="22.0" ry="11.5" fill="url(#gh)" opacity="0.20"/><ellipse cx="286.3" cy="230.1" rx="22.0" ry="11.5" fill="url(#gh)" opacity="0.20"/><ellipse cx="-1.0" cy="231.2" rx="7.5" ry="6.5" fill="url(#gw)" opacity="0.25"/><ellipse cx="14.2" cy="230.7" rx="7.5" ry="6.5" fill="url(#gw)" opacity="0.22"/><ellipse cx="40.1" cy="229.4" rx="7.5" ry="6.5" fill="url(#gw)" opacity="0.25"/><ellipse cx="54.7" cy="230.9" rx="7.5" ry="6.5" fill="url(#gw)" opacity="0.12"/><ellipse cx="78.5" cy="230.6" rx="7.5" ry="6.5" fill="url(#gw)" opacity="0.21"/><ellipse cx="94.0" cy="230.7" rx="7.5" ry="6.5" fill="url(#gw)" opacity="0.22"/><ellipse cx="120.6" cy="228.7" rx="7.5" ry="6.5" fill="url(#gw)" opacity="0.22"/><ellipse cx="134.9" cy="229.0" rx="7.5" ry="6.5" fill="url(#gw)" opacity="0.26"/><ellipse cx="158.7" cy="230.4" rx="7.5" ry="6.5" fill="url(#gw)" opacity="0.13"/><ellipse cx="173.8" cy="231.2" rx="7.5" ry="6.5" fill="url(#gw)" opacity="0.20"/><ellipse cx="199.3" cy="230.7" rx="7.5" ry="6.5" fill="url(#gw)" opacity="0.19"/><ellipse cx="213.0" cy="228.8" rx="7.5" ry="6.5" fill="url(#gw)" opacity="0.24"/><ellipse cx="239.9" cy="231.3" rx="7.5" ry="6.5" fill="url(#gw)" opacity="0.18"/><ellipse cx="252.8" cy="230.5" rx="7.5" ry="6.5" fill="url(#gw)" opacity="0.19"/><ellipse cx="279.6" cy="229.1" rx="7.5" ry="6.5" fill="url(#gw)" opacity="0.24"/><ellipse cx="293.7" cy="229.3" rx="7.5" ry="6.5" fill="url(#gw)" opacity="0.11"/><ellipse cx="9.5" cy="286.3" rx="22.0" ry="11.5" fill="url(#gh)" opacity="0.20"/><ellipse cx="49.4" cy="286.3" rx="22.0" ry="11.5" fill="url(#gh)" opacity="0.20"/><ellipse cx="89.3" cy="286.3" rx="22.0" ry="11.5" fill="url(#gh)" opacity="0.20"/><ellipse cx="129.2" cy="286.3" rx="22.0" ry="11.5" fill="url(#gh)" opacity="0.20"/><ellipse cx="169.1" cy="286.3" rx="22.0" ry="11.5" fill="url(#gh)" opacity="0.20"/><ellipse cx="209.0" cy="286.3" rx="22.0" ry="11.5" fill="url(#gh)" opacity="0.20"/><ellipse cx="248.9" cy="286.3" rx="22.0" ry="11.5" fill="url(#gh)" opacity="0.20"/><ellipse cx="288.8" cy="286.3" rx="22.0" ry="11.5" fill="url(#gh)" opacity="0.20"/><ellipse cx="2.7" cy="287.1" rx="7.5" ry="6.5" fill="url(#gw)" opacity="0.16"/><ellipse cx="18.2" cy="286.9" rx="7.5" ry="6.5" fill="url(#gw)" opacity="0.20"/><ellipse cx="41.6" cy="285.7" rx="7.5" ry="6.5" fill="url(#gw)" opacity="0.13"/><ellipse cx="56.7" cy="285.6" rx="7.5" ry="6.5" fill="url(#gw)" opacity="0.27"/><ellipse cx="83.2" cy="285.9" rx="7.5" ry="6.5" fill="url(#gw)" opacity="0.24"/><ellipse cx="96.3" cy="284.9" rx="7.5" ry="6.5" fill="url(#gw)" opacity="0.15"/><ellipse cx="120.3" cy="287.8" rx="7.5" ry="6.5" fill="url(#gw)" opacity="0.21"/><ellipse cx="136.4" cy="286.6" rx="7.5" ry="6.5" fill="url(#gw)" opacity="0.24"/><ellipse cx="160.5" cy="286.8" rx="7.5" ry="6.5" fill="url(#gw)" opacity="0.24"/><ellipse cx="176.6" cy="287.4" rx="7.5" ry="6.5" fill="url(#gw)" opacity="0.24"/><ellipse cx="200.0" cy="285.5" rx="7.5" ry="6.5" fill="url(#gw)" opacity="0.15"/><ellipse cx="216.0" cy="285.8" rx="7.5" ry="6.5" fill="url(#gw)" opacity="0.27"/><ellipse cx="241.1" cy="285.5" rx="7.5" ry="6.5" fill="url(#gw)" opacity="0.12"/><ellipse cx="255.0" cy="285.1" rx="7.5" ry="6.5" fill="url(#gw)" opacity="0.19"/><ellipse cx="282.6" cy="287.1" rx="7.5" ry="6.5" fill="url(#gw)" opacity="0.11"/><ellipse cx="295.7" cy="285.5" rx="7.5" ry="6.5" fill="url(#gw)" opacity="0.14"/><ellipse cx="16.5" cy="31.2" rx="19.5" ry="22.0" fill="url(#gh)" opacity="0.22"/><ellipse cx="15.0" cy="23.7" rx="7.5" ry="9.0" fill="url(#gw)" opacity="0.19"/><ellipse cx="16.5" cy="32.7" rx="14.9" ry="15.4" fill="url(#gb)" opacity="0.72" transform="rotate(-28 16.5 32.7)"/><ellipse cx="54.0" cy="30.7" rx="19.5" ry="22.0" fill="url(#gh)" opacity="0.22"/><ellipse cx="52.5" cy="23.2" rx="7.5" ry="9.0" fill="url(#gw)" opacity="0.19"/><ellipse cx="54.0" cy="32.2" rx="13.6" ry="14.1" fill="url(#gb)" opacity="0.72" transform="rotate(-8 54.0 32.2)"/><ellipse cx="95.4" cy="30.6" rx="19.5" ry="22.0" fill="url(#gh)" opacity="0.22"/><ellipse cx="93.9" cy="23.1" rx="7.5" ry="9.0" fill="url(#gw)" opacity="0.19"/><ellipse cx="95.4" cy="32.1" rx="15.2" ry="15.7" fill="url(#gb)" opacity="0.68" transform="rotate(-25 95.4 32.1)"/><ellipse cx="136.1" cy="30.7" rx="19.5" ry="22.0" fill="url(#gh)" opacity="0.22"/><ellipse cx="134.6" cy="23.2" rx="7.5" ry="9.0" fill="url(#gw)" opacity="0.19"/><ellipse cx="136.1" cy="32.2" rx="13.7" ry="14.2" fill="url(#gb)" opacity="0.69" transform="rotate(8 136.1 32.2)"/><ellipse cx="175.9" cy="31.7" rx="19.5" ry="22.0" fill="url(#gh)" opacity="0.22"/><ellipse cx="174.4" cy="24.2" rx="7.5" ry="9.0" fill="url(#gw)" opacity="0.19"/><ellipse cx="175.9" cy="33.2" rx="15.2" ry="15.7" fill="url(#gb)" opacity="0.72" transform="rotate(-14 175.9 33.2)"/><ellipse cx="215.2" cy="29.9" rx="19.5" ry="22.0" fill="url(#gh)" opacity="0.22"/><ellipse cx="213.7" cy="22.4" rx="7.5" ry="9.0" fill="url(#gw)" opacity="0.19"/><ellipse cx="215.2" cy="31.4" rx="14.8" ry="15.3" fill="url(#gb)" opacity="0.73" transform="rotate(-14 215.2 31.4)"/><ellipse cx="255.7" cy="30.3" rx="19.5" ry="22.0" fill="url(#gh)" opacity="0.22"/><ellipse cx="254.2" cy="22.8" rx="7.5" ry="9.0" fill="url(#gw)" opacity="0.19"/><ellipse cx="255.7" cy="31.8" rx="15.6" ry="16.1" fill="url(#gb)" opacity="0.69" transform="rotate(24 255.7 31.8)"/><ellipse cx="-0.6" cy="27.2" rx="8.0" ry="13.0" fill="url(#gk)" opacity="0.36"/><ellipse cx="76.7" cy="32.1" rx="8.0" ry="13.0" fill="url(#gk)" opacity="0.21"/><ellipse cx="157.3" cy="38.7" rx="8.0" ry="13.0" fill="url(#gk)" opacity="0.28"/><ellipse cx="21.6" cy="84.9" rx="19.5" ry="22.0" fill="url(#gh)" opacity="0.22"/><ellipse cx="20.1" cy="77.4" rx="7.5" ry="9.0" fill="url(#gw)" opacity="0.19"/><ellipse cx="21.6" cy="86.4" rx="13.8" ry="14.3" fill="url(#gb)" opacity="0.72" transform="rotate(19 21.6 86.4)"/><ellipse cx="61.5" cy="86.3" rx="19.5" ry="22.0" fill="url(#gh)" opacity="0.22"/><ellipse cx="60.0" cy="78.8" rx="7.5" ry="9.0" fill="url(#gw)" opacity="0.19"/><ellipse cx="61.5" cy="87.8" rx="15.5" ry="16.0" fill="url(#gb)" opacity="0.75" transform="rotate(24 61.5 87.8)"/><ellipse cx="99.0" cy="84.7" rx="19.5" ry="22.0" fill="url(#gh)" opacity="0.22"/><ellipse cx="97.5" cy="77.2" rx="7.5" ry="9.0" fill="url(#gw)" opacity="0.19"/><ellipse cx="99.0" cy="86.2" rx="14.3" ry="14.8" fill="url(#gb)" opacity="0.75" transform="rotate(21 99.0 86.2)"/><ellipse cx="138.9" cy="85.1" rx="19.5" ry="22.0" fill="url(#gh)" opacity="0.22"/><ellipse cx="137.4" cy="77.6" rx="7.5" ry="9.0" fill="url(#gw)" opacity="0.19"/><ellipse cx="138.9" cy="86.6" rx="14.4" ry="14.9" fill="url(#gb)" opacity="0.73" transform="rotate(-27 138.9 86.6)"/><ellipse cx="179.7" cy="86.5" rx="19.5" ry="22.0" fill="url(#gh)" opacity="0.22"/><ellipse cx="178.2" cy="79.0" rx="7.5" ry="9.0" fill="url(#gw)" opacity="0.19"/><ellipse cx="179.7" cy="88.0" rx="15.2" ry="15.7" fill="url(#gb)" opacity="0.74" transform="rotate(-4 179.7 88.0)"/><ellipse cx="219.7" cy="86.6" rx="19.5" ry="22.0" fill="url(#gh)" opacity="0.22"/><ellipse cx="218.2" cy="79.1" rx="7.5" ry="9.0" fill="url(#gw)" opacity="0.19"/><ellipse cx="219.7" cy="88.1" rx="15.2" ry="15.7" fill="url(#gb)" opacity="0.69" transform="rotate(-19 219.7 88.1)"/><ellipse cx="258.9" cy="85.6" rx="19.5" ry="22.0" fill="url(#gh)" opacity="0.22"/><ellipse cx="257.4" cy="78.1" rx="7.5" ry="9.0" fill="url(#gw)" opacity="0.19"/><ellipse cx="258.9" cy="87.1" rx="13.7" ry="14.2" fill="url(#gb)" opacity="0.68" transform="rotate(24 258.9 87.1)"/><ellipse cx="1.2" cy="89.6" rx="8.0" ry="13.0" fill="url(#gk)" opacity="0.28"/><ellipse cx="38.4" cy="94.1" rx="8.0" ry="13.0" fill="url(#gk)" opacity="0.50"/><ellipse cx="116.9" cy="80.8" rx="8.0" ry="13.0" fill="url(#gk)" opacity="0.33"/><ellipse cx="159.8" cy="91.9" rx="8.0" ry="13.0" fill="url(#gk)" opacity="0.48"/><ellipse cx="23.2" cy="142.6" rx="19.5" ry="22.0" fill="url(#gh)" opacity="0.22"/><ellipse cx="21.7" cy="135.1" rx="7.5" ry="9.0" fill="url(#gw)" opacity="0.19"/><ellipse cx="23.2" cy="144.1" rx="15.6" ry="16.1" fill="url(#gb)" opacity="0.72" transform="rotate(16 23.2 144.1)"/><ellipse cx="62.7" cy="143.6" rx="19.5" ry="22.0" fill="url(#gh)" opacity="0.22"/><ellipse cx="61.2" cy="136.1" rx="7.5" ry="9.0" fill="url(#gw)" opacity="0.19"/><ellipse cx="62.7" cy="145.1" rx="14.2" ry="14.7" fill="url(#gb)" opacity="0.73" transform="rotate(-8 62.7 145.1)"/><ellipse cx="103.5" cy="142.4" rx="19.5" ry="22.0" fill="url(#gh)" opacity="0.22"/><ellipse cx="102.0" cy="134.9" rx="7.5" ry="9.0" fill="url(#gw)" opacity="0.19"/><ellipse cx="103.5" cy="143.9" rx="14.7" ry="15.2" fill="url(#gb)" opacity="0.71" transform="rotate(-26 103.5 143.9)"/><ellipse cx="143.2" cy="143.6" rx="19.5" ry="22.0" fill="url(#gh)" opacity="0.22"/><ellipse cx="141.7" cy="136.1" rx="7.5" ry="9.0" fill="url(#gw)" opacity="0.19"/><ellipse cx="143.2" cy="145.1" rx="14.1" ry="14.6" fill="url(#gb)" opacity="0.74" transform="rotate(0 143.2 145.1)"/><ellipse cx="184.1" cy="142.1" rx="19.5" ry="22.0" fill="url(#gh)" opacity="0.22"/><ellipse cx="182.6" cy="134.6" rx="7.5" ry="9.0" fill="url(#gw)" opacity="0.19"/><ellipse cx="184.1" cy="143.6" rx="13.9" ry="14.4" fill="url(#gb)" opacity="0.67" transform="rotate(-5 184.1 143.6)"/><ellipse cx="224.6" cy="142.2" rx="19.5" ry="22.0" fill="url(#gh)" opacity="0.22"/><ellipse cx="223.1" cy="134.7" rx="7.5" ry="9.0" fill="url(#gw)" opacity="0.19"/><ellipse cx="224.6" cy="143.7" rx="14.3" ry="14.8" fill="url(#gb)" opacity="0.67" transform="rotate(-27 224.6 143.7)"/><ellipse cx="265.0" cy="142.8" rx="19.5" ry="22.0" fill="url(#gh)" opacity="0.22"/><ellipse cx="263.5" cy="135.3" rx="7.5" ry="9.0" fill="url(#gw)" opacity="0.19"/><ellipse cx="265.0" cy="144.3" rx="14.8" ry="15.3" fill="url(#gb)" opacity="0.71" transform="rotate(-23 265.0 144.3)"/><ellipse cx="40.6" cy="148.1" rx="8.0" ry="13.0" fill="url(#gk)" opacity="0.44"/><ellipse cx="86.2" cy="145.8" rx="8.0" ry="13.0" fill="url(#gk)" opacity="0.22"/><ellipse cx="124.7" cy="147.9" rx="8.0" ry="13.0" fill="url(#gk)" opacity="0.47"/><ellipse cx="167.2" cy="150.5" rx="8.0" ry="13.0" fill="url(#gk)" opacity="0.31"/><ellipse cx="202.8" cy="146.7" rx="8.0" ry="13.0" fill="url(#gk)" opacity="0.32"/><ellipse cx="285.5" cy="144.9" rx="8.0" ry="13.0" fill="url(#gk)" opacity="0.15"/><ellipse cx="24.9" cy="200.8" rx="19.5" ry="22.0" fill="url(#gh)" opacity="0.22"/><ellipse cx="23.4" cy="193.3" rx="7.5" ry="9.0" fill="url(#gw)" opacity="0.19"/><ellipse cx="24.9" cy="202.3" rx="14.6" ry="15.1" fill="url(#gb)" opacity="0.67" transform="rotate(-23 24.9 202.3)"/><ellipse cx="66.1" cy="199.7" rx="19.5" ry="22.0" fill="url(#gh)" opacity="0.22"/><ellipse cx="64.6" cy="192.2" rx="7.5" ry="9.0" fill="url(#gw)" opacity="0.19"/><ellipse cx="66.1" cy="201.2" rx="14.1" ry="14.6" fill="url(#gb)" opacity="0.76" transform="rotate(-12 66.1 201.2)"/><ellipse cx="106.1" cy="200.3" rx="19.5" ry="22.0" fill="url(#gh)" opacity="0.22"/><ellipse cx="104.6" cy="192.8" rx="7.5" ry="9.0" fill="url(#gw)" opacity="0.19"/><ellipse cx="106.1" cy="201.8" rx="14.9" ry="15.4" fill="url(#gb)" opacity="0.73" transform="rotate(12 106.1 201.8)"/><ellipse cx="146.1" cy="199.0" rx="19.5" ry="22.0" fill="url(#gh)" opacity="0.22"/><ellipse cx="144.6" cy="191.5" rx="7.5" ry="9.0" fill="url(#gw)" opacity="0.19"/><ellipse cx="146.1" cy="200.5" rx="14.2" ry="14.7" fill="url(#gb)" opacity="0.70" transform="rotate(4 146.1 200.5)"/><ellipse cx="186.3" cy="200.9" rx="19.5" ry="22.0" fill="url(#gh)" opacity="0.22"/><ellipse cx="184.8" cy="193.4" rx="7.5" ry="9.0" fill="url(#gw)" opacity="0.19"/><ellipse cx="186.3" cy="202.4" rx="13.6" ry="14.1" fill="url(#gb)" opacity="0.70" transform="rotate(-9 186.3 202.4)"/><ellipse cx="226.6" cy="200.2" rx="19.5" ry="22.0" fill="url(#gh)" opacity="0.22"/><ellipse cx="225.1" cy="192.7" rx="7.5" ry="9.0" fill="url(#gw)" opacity="0.19"/><ellipse cx="226.6" cy="201.7" rx="15.7" ry="16.2" fill="url(#gb)" opacity="0.69" transform="rotate(16 226.6 201.7)"/><ellipse cx="265.0" cy="200.1" rx="19.5" ry="22.0" fill="url(#gh)" opacity="0.22"/><ellipse cx="263.5" cy="192.6" rx="7.5" ry="9.0" fill="url(#gw)" opacity="0.19"/><ellipse cx="265.0" cy="201.6" rx="15.3" ry="15.8" fill="url(#gb)" opacity="0.64" transform="rotate(-10 265.0 201.6)"/><ellipse cx="42.7" cy="197.5" rx="8.0" ry="13.0" fill="url(#gk)" opacity="0.16"/><ellipse cx="167.7" cy="204.8" rx="8.0" ry="13.0" fill="url(#gk)" opacity="0.14"/><ellipse cx="204.1" cy="197.4" rx="8.0" ry="13.0" fill="url(#gk)" opacity="0.23"/><ellipse cx="247.4" cy="209.4" rx="8.0" ry="13.0" fill="url(#gk)" opacity="0.23"/><ellipse cx="286.2" cy="201.1" rx="8.0" ry="13.0" fill="url(#gk)" opacity="0.30"/><ellipse cx="28.8" cy="254.7" rx="19.5" ry="22.0" fill="url(#gh)" opacity="0.22"/><ellipse cx="27.3" cy="247.2" rx="7.5" ry="9.0" fill="url(#gw)" opacity="0.19"/><ellipse cx="28.8" cy="256.2" rx="13.8" ry="14.3" fill="url(#gb)" opacity="0.70" transform="rotate(-29 28.8 256.2)"/><ellipse cx="69.1" cy="253.2" rx="19.5" ry="22.0" fill="url(#gh)" opacity="0.22"/><ellipse cx="67.6" cy="245.7" rx="7.5" ry="9.0" fill="url(#gw)" opacity="0.19"/><ellipse cx="69.1" cy="254.7" rx="14.7" ry="15.2" fill="url(#gb)" opacity="0.69" transform="rotate(-5 69.1 254.7)"/><ellipse cx="110.0" cy="254.6" rx="19.5" ry="22.0" fill="url(#gh)" opacity="0.22"/><ellipse cx="108.5" cy="247.1" rx="7.5" ry="9.0" fill="url(#gw)" opacity="0.19"/><ellipse cx="110.0" cy="256.1" rx="15.5" ry="16.0" fill="url(#gb)" opacity="0.68" transform="rotate(3 110.0 256.1)"/><ellipse cx="149.0" cy="255.0" rx="19.5" ry="22.0" fill="url(#gh)" opacity="0.22"/><ellipse cx="147.5" cy="247.5" rx="7.5" ry="9.0" fill="url(#gw)" opacity="0.19"/><ellipse cx="149.0" cy="256.5" rx="14.2" ry="14.7" fill="url(#gb)" opacity="0.73" transform="rotate(-10 149.0 256.5)"/><ellipse cx="188.2" cy="253.1" rx="19.5" ry="22.0" fill="url(#gh)" opacity="0.22"/><ellipse cx="186.7" cy="245.6" rx="7.5" ry="9.0" fill="url(#gw)" opacity="0.19"/><ellipse cx="188.2" cy="254.6" rx="14.1" ry="14.6" fill="url(#gb)" opacity="0.67" transform="rotate(13 188.2 254.6)"/><ellipse cx="228.0" cy="253.4" rx="19.5" ry="22.0" fill="url(#gh)" opacity="0.22"/><ellipse cx="226.5" cy="245.9" rx="7.5" ry="9.0" fill="url(#gw)" opacity="0.19"/><ellipse cx="228.0" cy="254.9" rx="14.4" ry="14.9" fill="url(#gb)" opacity="0.69" transform="rotate(22 228.0 254.9)"/><ellipse cx="268.4" cy="253.7" rx="19.5" ry="22.0" fill="url(#gh)" opacity="0.22"/><ellipse cx="266.9" cy="246.2" rx="7.5" ry="9.0" fill="url(#gw)" opacity="0.19"/><ellipse cx="268.4" cy="255.2" rx="14.7" ry="15.2" fill="url(#gb)" opacity="0.68" transform="rotate(-3 268.4 255.2)"/><ellipse cx="11.1" cy="248.9" rx="8.0" ry="13.0" fill="url(#gk)" opacity="0.40"/><ellipse cx="47.8" cy="253.3" rx="8.0" ry="13.0" fill="url(#gk)" opacity="0.14"/><ellipse cx="88.3" cy="249.8" rx="8.0" ry="13.0" fill="url(#gk)" opacity="0.16"/><ellipse cx="128.2" cy="258.9" rx="8.0" ry="13.0" fill="url(#gk)" opacity="0.15"/><ellipse cx="248.6" cy="251.1" rx="8.0" ry="13.0" fill="url(#gk)" opacity="0.49"/><ellipse cx="288.5" cy="249.5" rx="8.0" ry="13.0" fill="url(#gk)" opacity="0.42"/>
</g></g>
<rect x="204.2" y="265.9" width="72.0" height="6.0" fill="#fff"/>
<rect x=".6" y=".6" width="289.8" height="283.1" fill="none" stroke="#111" stroke-width="1.2"/>
</svg>
<svg x="658.8" y="906.0" width="291.0" height="284.3">
<g filter="url(#fd2)"><rect width="293" height="286" fill="#424242"/>
<g transform="translate(0.30000000000000004 0.4)">
<ellipse cx="-3.0" cy="5.3" rx="22.0" ry="11.5" fill="url(#gh)" opacity="0.17"/><ellipse cx="36.9" cy="5.3" rx="22.0" ry="11.5" fill="url(#gh)" opacity="0.17"/><ellipse cx="76.8" cy="5.3" rx="22.0" ry="11.5" fill="url(#gh)" opacity="0.17"/><ellipse cx="116.7" cy="5.3" rx="22.0" ry="11.5" fill="url(#gh)" opacity="0.17"/><ellipse cx="156.6" cy="5.3" rx="22.0" ry="11.5" fill="url(#gh)" opacity="0.17"/><ellipse cx="196.5" cy="5.3" rx="22.0" ry="11.5" fill="url(#gh)" opacity="0.17"/><ellipse cx="236.4" cy="5.3" rx="22.0" ry="11.5" fill="url(#gh)" opacity="0.17"/><ellipse cx="276.3" cy="5.3" rx="22.0" ry="11.5" fill="url(#gh)" opacity="0.17"/><ellipse cx="-10.1" cy="5.0" rx="7.5" ry="6.5" fill="url(#gw)" opacity="0.21"/><ellipse cx="5.0" cy="6.7" rx="7.5" ry="6.5" fill="url(#gw)" opacity="0.12"/><ellipse cx="30.5" cy="3.9" rx="7.5" ry="6.5" fill="url(#gw)" opacity="0.16"/><ellipse cx="43.5" cy="5.3" rx="7.5" ry="6.5" fill="url(#gw)" opacity="0.18"/><ellipse cx="70.4" cy="5.4" rx="7.5" ry="6.5" fill="url(#gw)" opacity="0.19"/><ellipse cx="83.8" cy="4.2" rx="7.5" ry="6.5" fill="url(#gw)" opacity="0.23"/><ellipse cx="109.8" cy="5.9" rx="7.5" ry="6.5" fill="url(#gw)" opacity="0.17"/><ellipse cx="123.4" cy="4.6" rx="7.5" ry="6.5" fill="url(#gw)" opacity="0.10"/><ellipse cx="150.2" cy="4.6" rx="7.5" ry="6.5" fill="url(#gw)" opacity="0.17"/><ellipse cx="165.3" cy="6.4" rx="7.5" ry="6.5" fill="url(#gw)" opacity="0.10"/><ellipse cx="187.6" cy="4.6" rx="7.5" ry="6.5" fill="url(#gw)" opacity="0.21"/><ellipse cx="205.2" cy="4.2" rx="7.5" ry="6.5" fill="url(#gw)" opacity="0.12"/><ellipse cx="228.1" cy="6.2" rx="7.5" ry="6.5" fill="url(#gw)" opacity="0.11"/><ellipse cx="245.4" cy="4.7" rx="7.5" ry="6.5" fill="url(#gw)" opacity="0.12"/><ellipse cx="267.9" cy="4.7" rx="7.5" ry="6.5" fill="url(#gw)" opacity="0.20"/><ellipse cx="285.3" cy="4.5" rx="7.5" ry="6.5" fill="url(#gw)" opacity="0.23"/><ellipse cx="-0.5" cy="61.5" rx="22.0" ry="11.5" fill="url(#gh)" opacity="0.17"/><ellipse cx="39.4" cy="61.5" rx="22.0" ry="11.5" fill="url(#gh)" opacity="0.17"/><ellipse cx="79.3" cy="61.5" rx="22.0" ry="11.5" fill="url(#gh)" opacity="0.17"/><ellipse cx="119.2" cy="61.5" rx="22.0" ry="11.5" fill="url(#gh)" opacity="0.17"/><ellipse cx="159.1" cy="61.5" rx="22.0" ry="11.5" fill="url(#gh)" opacity="0.17"/><ellipse cx="199.0" cy="61.5" rx="22.0" ry="11.5" fill="url(#gh)" opacity="0.17"/><ellipse cx="238.9" cy="61.5" rx="22.0" ry="11.5" fill="url(#gh)" opacity="0.17"/><ellipse cx="278.8" cy="61.5" rx="22.0" ry="11.5" fill="url(#gh)" opacity="0.17"/><ellipse cx="-9.3" cy="60.6" rx="7.5" ry="6.5" fill="url(#gw)" opacity="0.15"/><ellipse cx="7.1" cy="61.7" rx="7.5" ry="6.5" fill="url(#gw)" opacity="0.15"/><ellipse cx="30.9" cy="61.7" rx="7.5" ry="6.5" fill="url(#gw)" opacity="0.15"/><ellipse cx="46.4" cy="62.9" rx="7.5" ry="6.5" fill="url(#gw)" opacity="0.15"/><ellipse cx="70.3" cy="62.9" rx="7.5" ry="6.5" fill="url(#gw)" opacity="0.18"/><ellipse cx="86.5" cy="62.9" rx="7.5" ry="6.5" fill="url(#gw)" opacity="0.25"/><ellipse cx="113.0" cy="60.5" rx="7.5" ry="6.5" fill="url(#gw)" opacity="0.11"/><ellipse cx="127.2" cy="62.9" rx="7.5" ry="6.5" fill="url(#gw)" opacity="0.23"/><ellipse cx="152.1" cy="62.8" rx="7.5" ry="6.5" fill="url(#gw)" opacity="0.14"/><ellipse cx="165.7" cy="61.7" rx="7.5" ry="6.5" fill="url(#gw)" opacity="0.11"/><ellipse cx="190.2" cy="60.0" rx="7.5" ry="6.5" fill="url(#gw)" opacity="0.11"/><ellipse cx="206.9" cy="61.4" rx="7.5" ry="6.5" fill="url(#gw)" opacity="0.15"/><ellipse cx="230.0" cy="60.3" rx="7.5" ry="6.5" fill="url(#gw)" opacity="0.19"/><ellipse cx="245.4" cy="60.0" rx="7.5" ry="6.5" fill="url(#gw)" opacity="0.18"/><ellipse cx="271.8" cy="62.9" rx="7.5" ry="6.5" fill="url(#gw)" opacity="0.10"/><ellipse cx="284.8" cy="60.6" rx="7.5" ry="6.5" fill="url(#gw)" opacity="0.17"/><ellipse cx="2.0" cy="117.7" rx="22.0" ry="11.5" fill="url(#gh)" opacity="0.17"/><ellipse cx="41.9" cy="117.7" rx="22.0" ry="11.5" fill="url(#gh)" opacity="0.17"/><ellipse cx="81.8" cy="117.7" rx="22.0" ry="11.5" fill="url(#gh)" opacity="0.17"/><ellipse cx="121.7" cy="117.7" rx="22.0" ry="11.5" fill="url(#gh)" opacity="0.17"/><ellipse cx="161.6" cy="117.7" rx="22.0" ry="11.5" fill="url(#gh)" opacity="0.17"/><ellipse cx="201.5" cy="117.7" rx="22.0" ry="11.5" fill="url(#gh)" opacity="0.17"/><ellipse cx="241.4" cy="117.7" rx="22.0" ry="11.5" fill="url(#gh)" opacity="0.17"/><ellipse cx="281.3" cy="117.7" rx="22.0" ry="11.5" fill="url(#gh)" opacity="0.17"/><ellipse cx="-4.6" cy="116.8" rx="7.5" ry="6.5" fill="url(#gw)" opacity="0.20"/><ellipse cx="8.1" cy="117.8" rx="7.5" ry="6.5" fill="url(#gw)" opacity="0.17"/><ellipse cx="34.4" cy="118.6" rx="7.5" ry="6.5" fill="url(#gw)" opacity="0.21"/><ellipse cx="49.9" cy="117.6" rx="7.5" ry="6.5" fill="url(#gw)" opacity="0.13"/><ellipse cx="73.0" cy="117.6" rx="7.5" ry="6.5" fill="url(#gw)" opacity="0.19"/><ellipse cx="88.5" cy="117.9" rx="7.5" ry="6.5" fill="url(#gw)" opacity="0.19"/><ellipse cx="114.0" cy="119.0" rx="7.5" ry="6.5" fill="url(#gw)" opacity="0.09"/><ellipse cx="129.2" cy="118.8" rx="7.5" ry="6.5" fill="url(#gw)" opacity="0.19"/><ellipse cx="154.1" cy="117.3" rx="7.5" ry="6.5" fill="url(#gw)" opacity="0.20"/><ellipse cx="169.3" cy="117.7" rx="7.5" ry="6.5" fill="url(#gw)" opacity="0.23"/><ellipse cx="193.0" cy="116.8" rx="7.5" ry="6.5" fill="url(#gw)" opacity="0.15"/><ellipse cx="209.1" cy="118.5" rx="7.5" ry="6.5" fill="url(#gw)" opacity="0.19"/><ellipse cx="233.6" cy="117.9" rx="7.5" ry="6.5" fill="url(#gw)" opacity="0.16"/><ellipse cx="250.3" cy="118.1" rx="7.5" ry="6.5" fill="url(#gw)" opacity="0.13"/><ellipse cx="273.8" cy="118.7" rx="7.5" ry="6.5" fill="url(#gw)" opacity="0.14"/><ellipse cx="289.4" cy="118.8" rx="7.5" ry="6.5" fill="url(#gw)" opacity="0.24"/><ellipse cx="4.5" cy="173.9" rx="22.0" ry="11.5" fill="url(#gh)" opacity="0.17"/><ellipse cx="44.4" cy="173.9" rx="22.0" ry="11.5" fill="url(#gh)" opacity="0.17"/><ellipse cx="84.3" cy="173.9" rx="22.0" ry="11.5" fill="url(#gh)" opacity="0.17"/><ellipse cx="124.2" cy="173.9" rx="22.0" ry="11.5" fill="url(#gh)" opacity="0.17"/><ellipse cx="164.1" cy="173.9" rx="22.0" ry="11.5" fill="url(#gh)" opacity="0.17"/><ellipse cx="204.0" cy="173.9" rx="22.0" ry="11.5" fill="url(#gh)" opacity="0.17"/><ellipse cx="243.9" cy="173.9" rx="22.0" ry="11.5" fill="url(#gh)" opacity="0.17"/><ellipse cx="283.8" cy="173.9" rx="22.0" ry="11.5" fill="url(#gh)" opacity="0.17"/><ellipse cx="-3.4" cy="173.7" rx="7.5" ry="6.5" fill="url(#gw)" opacity="0.22"/><ellipse cx="10.7" cy="174.2" rx="7.5" ry="6.5" fill="url(#gw)" opacity="0.17"/><ellipse cx="37.8" cy="173.4" rx="7.5" ry="6.5" fill="url(#gw)" opacity="0.18"/><ellipse cx="52.6" cy="174.1" rx="7.5" ry="6.5" fill="url(#gw)" opacity="0.25"/><ellipse cx="78.1" cy="174.5" rx="7.5" ry="6.5" fill="url(#gw)" opacity="0.13"/><ellipse cx="90.9" cy="173.0" rx="7.5" ry="6.5" fill="url(#gw)" opacity="0.19"/><ellipse cx="118.0" cy="173.7" rx="7.5" ry="6.5" fill="url(#gw)" opacity="0.12"/><ellipse cx="132.3" cy="174.8" rx="7.5" ry="6.5" fill="url(#gw)" opacity="0.20"/><ellipse cx="155.7" cy="175.3" rx="7.5" ry="6.5" fill="url(#gw)" opacity="0.14"/><ellipse cx="173.1" cy="173.6" rx="7.5" ry="6.5" fill="url(#gw)" opacity="0.11"/><ellipse cx="195.9" cy="174.7" rx="7.5" ry="6.5" fill="url(#gw)" opacity="0.09"/><ellipse cx="210.4" cy="172.6" rx="7.5" ry="6.5" fill="url(#gw)" opacity="0.16"/><ellipse cx="236.6" cy="173.5" rx="7.5" ry="6.5" fill="url(#gw)" opacity="0.10"/><ellipse cx="250.3" cy="173.3" rx="7.5" ry="6.5" fill="url(#gw)" opacity="0.20"/><ellipse cx="275.8" cy="174.5" rx="7.5" ry="6.5" fill="url(#gw)" opacity="0.18"/><ellipse cx="292.1" cy="174.4" rx="7.5" ry="6.5" fill="url(#gw)" opacity="0.13"/><ellipse cx="7.0" cy="230.1" rx="22.0" ry="11.5" fill="url(#gh)" opacity="0.17"/><ellipse cx="46.9" cy="230.1" rx="22.0" ry="11.5" fill="url(#gh)" opacity="0.17"/><ellipse cx="86.8" cy="230.1" rx="22.0" ry="11.5" fill="url(#gh)" opacity="0.17"/><ellipse cx="126.7" cy="230.1" rx="22.0" ry="11.5" fill="url(#gh)" opacity="0.17"/><ellipse cx="166.6" cy="230.1" rx="22.0" ry="11.5" fill="url(#gh)" opacity="0.17"/><ellipse cx="206.5" cy="230.1" rx="22.0" ry="11.5" fill="url(#gh)" opacity="0.17"/><ellipse cx="246.4" cy="230.1" rx="22.0" ry="11.5" fill="url(#gh)" opacity="0.17"/><ellipse cx="286.3" cy="230.1" rx="22.0" ry="11.5" fill="url(#gh)" opacity="0.17"/><ellipse cx="0.1" cy="229.6" rx="7.5" ry="6.5" fill="url(#gw)" opacity="0.16"/><ellipse cx="15.2" cy="229.5" rx="7.5" ry="6.5" fill="url(#gw)" opacity="0.24"/><ellipse cx="39.8" cy="231.2" rx="7.5" ry="6.5" fill="url(#gw)" opacity="0.23"/><ellipse cx="55.6" cy="230.2" rx="7.5" ry="6.5" fill="url(#gw)" opacity="0.20"/><ellipse cx="80.0" cy="231.4" rx="7.5" ry="6.5" fill="url(#gw)" opacity="0.15"/><ellipse cx="94.9" cy="230.4" rx="7.5" ry="6.5" fill="url(#gw)" opacity="0.17"/><ellipse cx="118.3" cy="230.5" rx="7.5" ry="6.5" fill="url(#gw)" opacity="0.14"/><ellipse cx="134.0" cy="230.9" rx="7.5" ry="6.5" fill="url(#gw)" opacity="0.12"/><ellipse cx="158.9" cy="231.5" rx="7.5" ry="6.5" fill="url(#gw)" opacity="0.15"/><ellipse cx="174.2" cy="229.2" rx="7.5" ry="6.5" fill="url(#gw)" opacity="0.19"/><ellipse cx="198.6" cy="230.7" rx="7.5" ry="6.5" fill="url(#gw)" opacity="0.21"/><ellipse cx="215.0" cy="229.3" rx="7.5" ry="6.5" fill="url(#gw)" opacity="0.24"/><ellipse cx="239.4" cy="229.1" rx="7.5" ry="6.5" fill="url(#gw)" opacity="0.24"/><ellipse cx="253.1" cy="230.4" rx="7.5" ry="6.5" fill="url(#gw)" opacity="0.10"/><ellipse cx="277.3" cy="231.4" rx="7.5" ry="6.5" fill="url(#gw)" opacity="0.17"/><ellipse cx="294.8" cy="230.1" rx="7.5" ry="6.5" fill="url(#gw)" opacity="0.10"/><ellipse cx="9.5" cy="286.3" rx="22.0" ry="11.5" fill="url(#gh)" opacity="0.17"/><ellipse cx="49.4" cy="286.3" rx="22.0" ry="11.5" fill="url(#gh)" opacity="0.17"/><ellipse cx="89.3" cy="286.3" rx="22.0" ry="11.5" fill="url(#gh)" opacity="0.17"/><ellipse cx="129.2" cy="286.3" rx="22.0" ry="11.5" fill="url(#gh)" opacity="0.17"/><ellipse cx="169.1" cy="286.3" rx="22.0" ry="11.5" fill="url(#gh)" opacity="0.17"/><ellipse cx="209.0" cy="286.3" rx="22.0" ry="11.5" fill="url(#gh)" opacity="0.17"/><ellipse cx="248.9" cy="286.3" rx="22.0" ry="11.5" fill="url(#gh)" opacity="0.17"/><ellipse cx="288.8" cy="286.3" rx="22.0" ry="11.5" fill="url(#gh)" opacity="0.17"/><ellipse cx="2.9" cy="286.9" rx="7.5" ry="6.5" fill="url(#gw)" opacity="0.22"/><ellipse cx="17.1" cy="285.4" rx="7.5" ry="6.5" fill="url(#gw)" opacity="0.15"/><ellipse cx="40.5" cy="285.9" rx="7.5" ry="6.5" fill="url(#gw)" opacity="0.13"/><ellipse cx="57.6" cy="285.0" rx="7.5" ry="6.5" fill="url(#gw)" opacity="0.24"/><ellipse cx="81.6" cy="286.4" rx="7.5" ry="6.5" fill="url(#gw)" opacity="0.15"/><ellipse cx="97.8" cy="285.4" rx="7.5" ry="6.5" fill="url(#gw)" opacity="0.17"/><ellipse cx="122.1" cy="284.8" rx="7.5" ry="6.5" fill="url(#gw)" opacity="0.19"/><ellipse cx="135.6" cy="286.6" rx="7.5" ry="6.5" fill="url(#gw)" opacity="0.11"/><ellipse cx="162.7" cy="287.3" rx="7.5" ry="6.5" fill="url(#gw)" opacity="0.23"/><ellipse cx="177.0" cy="286.8" rx="7.5" ry="6.5" fill="url(#gw)" opacity="0.18"/><ellipse cx="201.5" cy="285.2" rx="7.5" ry="6.5" fill="url(#gw)" opacity="0.14"/><ellipse cx="216.1" cy="287.7" rx="7.5" ry="6.5" fill="url(#gw)" opacity="0.14"/><ellipse cx="241.4" cy="285.0" rx="7.5" ry="6.5" fill="url(#gw)" opacity="0.12"/><ellipse cx="256.4" cy="286.6" rx="7.5" ry="6.5" fill="url(#gw)" opacity="0.10"/><ellipse cx="282.8" cy="286.2" rx="7.5" ry="6.5" fill="url(#gw)" opacity="0.17"/><ellipse cx="297.4" cy="285.2" rx="7.5" ry="6.5" fill="url(#gw)" opacity="0.19"/><ellipse cx="15.8" cy="31.6" rx="19.5" ry="22.0" fill="url(#gh)" opacity="0.19"/><ellipse cx="14.3" cy="24.1" rx="7.5" ry="9.0" fill="url(#gw)" opacity="0.19"/><ellipse cx="15.8" cy="33.1" rx="15.2" ry="15.7" fill="url(#gb)" opacity="0.57" transform="rotate(17 15.8 33.1)"/><ellipse cx="54.0" cy="30.0" rx="19.5" ry="22.0" fill="url(#gh)" opacity="0.19"/><ellipse cx="52.5" cy="22.5" rx="7.5" ry="9.0" fill="url(#gw)" opacity="0.19"/><ellipse cx="54.0" cy="31.5" rx="14.4" ry="14.9" fill="url(#gb)" opacity="0.58" transform="rotate(-26 54.0 31.5)"/><ellipse cx="94.4" cy="30.3" rx="19.5" ry="22.0" fill="url(#gh)" opacity="0.19"/><ellipse cx="92.9" cy="22.8" rx="7.5" ry="9.0" fill="url(#gw)" opacity="0.19"/><ellipse cx="94.4" cy="31.8" rx="15.1" ry="15.6" fill="url(#gb)" opacity="0.58" transform="rotate(-24 94.4 31.8)"/><ellipse cx="135.8" cy="30.9" rx="19.5" ry="22.0" fill="url(#gh)" opacity="0.19"/><ellipse cx="134.3" cy="23.4" rx="7.5" ry="9.0" fill="url(#gw)" opacity="0.19"/><ellipse cx="135.8" cy="32.4" rx="15.3" ry="15.8" fill="url(#gb)" opacity="0.58" transform="rotate(-26 135.8 32.4)"/><ellipse cx="175.0" cy="31.2" rx="19.5" ry="22.0" fill="url(#gh)" opacity="0.19"/><ellipse cx="173.5" cy="23.7" rx="7.5" ry="9.0" fill="url(#gw)" opacity="0.19"/><ellipse cx="175.0" cy="32.7" rx="14.1" ry="14.6" fill="url(#gb)" opacity="0.52" transform="rotate(-5 175.0 32.7)"/><ellipse cx="215.5" cy="30.6" rx="19.5" ry="22.0" fill="url(#gh)" opacity="0.19"/><ellipse cx="214.0" cy="23.1" rx="7.5" ry="9.0" fill="url(#gw)" opacity="0.19"/><ellipse cx="215.5" cy="32.1" rx="14.9" ry="15.4" fill="url(#gb)" opacity="0.52" transform="rotate(-30 215.5 32.1)"/><ellipse cx="256.3" cy="30.3" rx="19.5" ry="22.0" fill="url(#gh)" opacity="0.19"/><ellipse cx="254.8" cy="22.8" rx="7.5" ry="9.0" fill="url(#gw)" opacity="0.19"/><ellipse cx="256.3" cy="31.8" rx="14.0" ry="14.5" fill="url(#gb)" opacity="0.55" transform="rotate(16 256.3 31.8)"/><ellipse cx="-3.4" cy="30.9" rx="8.0" ry="13.0" fill="url(#gk)" opacity="0.19"/><ellipse cx="37.5" cy="34.4" rx="8.0" ry="13.0" fill="url(#gk)" opacity="0.22"/><ellipse cx="77.9" cy="26.8" rx="8.0" ry="13.0" fill="url(#gk)" opacity="0.40"/><ellipse cx="114.1" cy="26.2" rx="8.0" ry="13.0" fill="url(#gk)" opacity="0.34"/><ellipse cx="236.0" cy="27.3" rx="8.0" ry="13.0" fill="url(#gk)" opacity="0.23"/><ellipse cx="278.3" cy="25.8" rx="8.0" ry="13.0" fill="url(#gk)" opacity="0.44"/><ellipse cx="21.7" cy="85.5" rx="19.5" ry="22.0" fill="url(#gh)" opacity="0.19"/><ellipse cx="20.2" cy="78.0" rx="7.5" ry="9.0" fill="url(#gw)" opacity="0.19"/><ellipse cx="21.7" cy="87.0" rx="15.6" ry="16.1" fill="url(#gb)" opacity="0.54" transform="rotate(14 21.7 87.0)"/><ellipse cx="60.2" cy="86.0" rx="19.5" ry="22.0" fill="url(#gh)" opacity="0.19"/><ellipse cx="58.7" cy="78.5" rx="7.5" ry="9.0" fill="url(#gw)" opacity="0.19"/><ellipse cx="60.2" cy="87.5" rx="13.6" ry="14.1" fill="url(#gb)" opacity="0.57" transform="rotate(7 60.2 87.5)"/><ellipse cx="98.5" cy="85.5" rx="19.5" ry="22.0" fill="url(#gh)" opacity="0.19"/><ellipse cx="97.0" cy="78.0" rx="7.5" ry="9.0" fill="url(#gw)" opacity="0.19"/><ellipse cx="98.5" cy="87.0" rx="14.2" ry="14.7" fill="url(#gb)" opacity="0.54" transform="rotate(-2 98.5 87.0)"/><ellipse cx="138.8" cy="85.5" rx="19.5" ry="22.0" fill="url(#gh)" opacity="0.19"/><ellipse cx="137.3" cy="78.0" rx="7.5" ry="9.0" fill="url(#gw)" opacity="0.19"/><ellipse cx="138.8" cy="87.0" rx="14.4" ry="14.9" fill="url(#gb)" opacity="0.56" transform="rotate(25 138.8 87.0)"/><ellipse cx="179.2" cy="85.3" rx="19.5" ry="22.0" fill="url(#gh)" opacity="0.19"/><ellipse cx="177.7" cy="77.8" rx="7.5" ry="9.0" fill="url(#gw)" opacity="0.19"/><ellipse cx="179.2" cy="86.8" rx="14.5" ry="15.0" fill="url(#gb)" opacity="0.59" transform="rotate(-11 179.2 86.8)"/><ellipse cx="220.2" cy="85.0" rx="19.5" ry="22.0" fill="url(#gh)" opacity="0.19"/><ellipse cx="218.7" cy="77.5" rx="7.5" ry="9.0" fill="url(#gw)" opacity="0.19"/><ellipse cx="220.2" cy="86.5" rx="15.3" ry="15.8" fill="url(#gb)" opacity="0.59" transform="rotate(20 220.2 86.5)"/><ellipse cx="259.4" cy="84.6" rx="19.5" ry="22.0" fill="url(#gh)" opacity="0.19"/><ellipse cx="257.9" cy="77.1" rx="7.5" ry="9.0" fill="url(#gw)" opacity="0.19"/><ellipse cx="259.4" cy="86.1" rx="15.0" ry="15.5" fill="url(#gb)" opacity="0.58" transform="rotate(-19 259.4 86.1)"/><ellipse cx="41.5" cy="80.6" rx="8.0" ry="13.0" fill="url(#gk)" opacity="0.35"/><ellipse cx="77.5" cy="92.7" rx="8.0" ry="13.0" fill="url(#gk)" opacity="0.41"/><ellipse cx="159.1" cy="88.2" rx="8.0" ry="13.0" fill="url(#gk)" opacity="0.21"/><ellipse cx="237.5" cy="83.9" rx="8.0" ry="13.0" fill="url(#gk)" opacity="0.32"/><ellipse cx="280.9" cy="88.3" rx="8.0" ry="13.0" fill="url(#gk)" opacity="0.29"/><ellipse cx="23.6" cy="143.0" rx="19.5" ry="22.0" fill="url(#gh)" opacity="0.19"/><ellipse cx="22.1" cy="135.5" rx="7.5" ry="9.0" fill="url(#gw)" opacity="0.19"/><ellipse cx="23.6" cy="144.5" rx="14.0" ry="14.5" fill="url(#gb)" opacity="0.58" transform="rotate(15 23.6 144.5)"/><ellipse cx="64.2" cy="143.3" rx="19.5" ry="22.0" fill="url(#gh)" opacity="0.19"/><ellipse cx="62.7" cy="135.8" rx="7.5" ry="9.0" fill="url(#gw)" opacity="0.19"/><ellipse cx="64.2" cy="144.8" rx="15.7" ry="16.2" fill="url(#gb)" opacity="0.50" transform="rotate(21 64.2 144.8)"/><ellipse cx="103.4" cy="142.8" rx="19.5" ry="22.0" fill="url(#gh)" opacity="0.19"/><ellipse cx="101.9" cy="135.3" rx="7.5" ry="9.0" fill="url(#gw)" opacity="0.19"/><ellipse cx="103.4" cy="144.3" rx="14.2" ry="14.7" fill="url(#gb)" opacity="0.55" transform="rotate(26 103.4 144.3)"/><ellipse cx="144.2" cy="142.0" rx="19.5" ry="22.0" fill="url(#gh)" opacity="0.19"/><ellipse cx="142.7" cy="134.5" rx="7.5" ry="9.0" fill="url(#gw)" opacity="0.19"/><ellipse cx="144.2" cy="143.5" rx="13.7" ry="14.2" fill="url(#gb)" opacity="0.54" transform="rotate(20 144.2 143.5)"/><ellipse cx="185.1" cy="143.2" rx="19.5" ry="22.0" fill="url(#gh)" opacity="0.19"/><ellipse cx="183.6" cy="135.7" rx="7.5" ry="9.0" fill="url(#gw)" opacity="0.19"/><ellipse cx="185.1" cy="144.7" rx="13.8" ry="14.3" fill="url(#gb)" opacity="0.56" transform="rotate(-1 185.1 144.7)"/><ellipse cx="224.8" cy="144.0" rx="19.5" ry="22.0" fill="url(#gh)" opacity="0.19"/><ellipse cx="223.3" cy="136.5" rx="7.5" ry="9.0" fill="url(#gw)" opacity="0.19"/><ellipse cx="224.8" cy="145.5" rx="14.5" ry="15.0" fill="url(#gb)" opacity="0.55" transform="rotate(12 224.8 145.5)"/><ellipse cx="264.4" cy="143.9" rx="19.5" ry="22.0" fill="url(#gh)" opacity="0.19"/><ellipse cx="262.9" cy="136.4" rx="7.5" ry="9.0" fill="url(#gw)" opacity="0.19"/><ellipse cx="264.4" cy="145.4" rx="14.4" ry="14.9" fill="url(#gb)" opacity="0.56" transform="rotate(28 264.4 145.4)"/><ellipse cx="44.1" cy="147.0" rx="8.0" ry="13.0" fill="url(#gk)" opacity="0.39"/><ellipse cx="81.4" cy="139.8" rx="8.0" ry="13.0" fill="url(#gk)" opacity="0.26"/><ellipse cx="165.1" cy="152.4" rx="8.0" ry="13.0" fill="url(#gk)" opacity="0.19"/><ellipse cx="207.3" cy="142.3" rx="8.0" ry="13.0" fill="url(#gk)" opacity="0.42"/><ellipse cx="24.2" cy="200.8" rx="19.5" ry="22.0" fill="url(#gh)" opacity="0.19"/><ellipse cx="22.7" cy="193.3" rx="7.5" ry="9.0" fill="url(#gw)" opacity="0.19"/><ellipse cx="24.2" cy="202.3" rx="14.2" ry="14.7" fill="url(#gb)" opacity="0.51" transform="rotate(-19 24.2 202.3)"/><ellipse cx="65.8" cy="200.3" rx="19.5" ry="22.0" fill="url(#gh)" opacity="0.19"/><ellipse cx="64.3" cy="192.8" rx="7.5" ry="9.0" fill="url(#gw)" opacity="0.19"/><ellipse cx="65.8" cy="201.8" rx="15.3" ry="15.8" fill="url(#gb)" opacity="0.57" transform="rotate(16 65.8 201.8)"/><ellipse cx="105.7" cy="200.2" rx="19.5" ry="22.0" fill="url(#gh)" opacity="0.19"/><ellipse cx="104.2" cy="192.7" rx="7.5" ry="9.0" fill="url(#gw)" opacity="0.19"/><ellipse cx="105.7" cy="201.7" rx="14.8" ry="15.3" fill="url(#gb)" opacity="0.57" transform="rotate(-14 105.7 201.7)"/><ellipse cx="146.3" cy="200.9" rx="19.5" ry="22.0" fill="url(#gh)" opacity="0.19"/><ellipse cx="144.8" cy="193.4" rx="7.5" ry="9.0" fill="url(#gw)" opacity="0.19"/><ellipse cx="146.3" cy="202.4" rx="14.6" ry="15.1" fill="url(#gb)" opacity="0.57" transform="rotate(12 146.3 202.4)"/><ellipse cx="185.8" cy="199.8" rx="19.5" ry="22.0" fill="url(#gh)" opacity="0.19"/><ellipse cx="184.3" cy="192.3" rx="7.5" ry="9.0" fill="url(#gw)" opacity="0.19"/><ellipse cx="185.8" cy="201.3" rx="14.2" ry="14.7" fill="url(#gb)" opacity="0.59" transform="rotate(-26 185.8 201.3)"/><ellipse cx="227.5" cy="200.1" rx="19.5" ry="22.0" fill="url(#gh)" opacity="0.19"/><ellipse cx="226.0" cy="192.6" rx="7.5" ry="9.0" fill="url(#gw)" opacity="0.19"/><ellipse cx="227.5" cy="201.6" rx="15.3" ry="15.8" fill="url(#gb)" opacity="0.58" transform="rotate(24 227.5 201.6)"/><ellipse cx="265.7" cy="200.1" rx="19.5" ry="22.0" fill="url(#gh)" opacity="0.19"/><ellipse cx="264.2" cy="192.6" rx="7.5" ry="9.0" fill="url(#gw)" opacity="0.19"/><ellipse cx="265.7" cy="201.6" rx="14.9" ry="15.4" fill="url(#gb)" opacity="0.50" transform="rotate(-21 265.7 201.6)"/><ellipse cx="3.6" cy="194.4" rx="8.0" ry="13.0" fill="url(#gk)" opacity="0.40"/><ellipse cx="245.1" cy="196.6" rx="8.0" ry="13.0" fill="url(#gk)" opacity="0.32"/><ellipse cx="27.8" cy="253.2" rx="19.5" ry="22.0" fill="url(#gh)" opacity="0.19"/><ellipse cx="26.3" cy="245.7" rx="7.5" ry="9.0" fill="url(#gw)" opacity="0.19"/><ellipse cx="27.8" cy="254.7" rx="15.0" ry="15.5" fill="url(#gb)" opacity="0.55" transform="rotate(7 27.8 254.7)"/><ellipse cx="68.3" cy="253.4" rx="19.5" ry="22.0" fill="url(#gh)" opacity="0.19"/><ellipse cx="66.8" cy="245.9" rx="7.5" ry="9.0" fill="url(#gw)" opacity="0.19"/><ellipse cx="68.3" cy="254.9" rx="15.1" ry="15.6" fill="url(#gb)" opacity="0.56" transform="rotate(-15 68.3 254.9)"/><ellipse cx="110.1" cy="253.2" rx="19.5" ry="22.0" fill="url(#gh)" opacity="0.19"/><ellipse cx="108.6" cy="245.7" rx="7.5" ry="9.0" fill="url(#gw)" opacity="0.19"/><ellipse cx="110.1" cy="254.7" rx="15.2" ry="15.7" fill="url(#gb)" opacity="0.54" transform="rotate(-16 110.1 254.7)"/><ellipse cx="149.6" cy="254.5" rx="19.5" ry="22.0" fill="url(#gh)" opacity="0.19"/><ellipse cx="148.1" cy="247.0" rx="7.5" ry="9.0" fill="url(#gw)" opacity="0.19"/><ellipse cx="149.6" cy="256.0" rx="15.5" ry="16.0" fill="url(#gb)" opacity="0.58" transform="rotate(27 149.6 256.0)"/><ellipse cx="187.5" cy="254.6" rx="19.5" ry="22.0" fill="url(#gh)" opacity="0.19"/><ellipse cx="186.0" cy="247.1" rx="7.5" ry="9.0" fill="url(#gw)" opacity="0.19"/><ellipse cx="187.5" cy="256.1" rx="13.7" ry="14.2" fill="url(#gb)" opacity="0.58" transform="rotate(-18 187.5 256.1)"/><ellipse cx="228.0" cy="254.6" rx="19.5" ry="22.0" fill="url(#gh)" opacity="0.19"/><ellipse cx="226.5" cy="247.1" rx="7.5" ry="9.0" fill="url(#gw)" opacity="0.19"/><ellipse cx="228.0" cy="256.1" rx="14.0" ry="14.5" fill="url(#gb)" opacity="0.58" transform="rotate(-23 228.0 256.1)"/><ellipse cx="269.5" cy="254.7" rx="19.5" ry="22.0" fill="url(#gh)" opacity="0.19"/><ellipse cx="268.0" cy="247.2" rx="7.5" ry="9.0" fill="url(#gw)" opacity="0.19"/><ellipse cx="269.5" cy="256.2" rx="15.6" ry="16.1" fill="url(#gb)" opacity="0.50" transform="rotate(0 269.5 256.2)"/><ellipse cx="46.6" cy="251.5" rx="8.0" ry="13.0" fill="url(#gk)" opacity="0.34"/><ellipse cx="86.6" cy="255.5" rx="8.0" ry="13.0" fill="url(#gk)" opacity="0.26"/><ellipse cx="126.6" cy="253.3" rx="8.0" ry="13.0" fill="url(#gk)" opacity="0.50"/><ellipse cx="208.8" cy="262.9" rx="8.0" ry="13.0" fill="url(#gk)" opacity="0.31"/><ellipse cx="250.4" cy="258.5" rx="8.0" ry="13.0" fill="url(#gk)" opacity="0.44"/>
</g></g>
<rect x="203.9" y="265.9" width="72.0" height="6.0" fill="#fff"/>
<rect x=".6" y=".6" width="289.8" height="283.1" fill="none" stroke="#111" stroke-width="1.2"/>
</svg>
<svg x="959.3" y="906.0" width="291.0" height="284.3">
<g filter="url(#fd3)"><rect width="293" height="286" fill="#444444"/>
<g transform="translate(0.050000000000000044 0.4)">
<ellipse cx="-3.0" cy="10.0" rx="22.0" ry="11.5" fill="url(#gh)" opacity="0.16"/><ellipse cx="36.9" cy="10.0" rx="22.0" ry="11.5" fill="url(#gh)" opacity="0.16"/><ellipse cx="76.8" cy="10.0" rx="22.0" ry="11.5" fill="url(#gh)" opacity="0.16"/><ellipse cx="116.7" cy="10.0" rx="22.0" ry="11.5" fill="url(#gh)" opacity="0.16"/><ellipse cx="156.6" cy="10.0" rx="22.0" ry="11.5" fill="url(#gh)" opacity="0.16"/><ellipse cx="196.5" cy="10.0" rx="22.0" ry="11.5" fill="url(#gh)" opacity="0.16"/><ellipse cx="236.4" cy="10.0" rx="22.0" ry="11.5" fill="url(#gh)" opacity="0.16"/><ellipse cx="276.3" cy="10.0" rx="22.0" ry="11.5" fill="url(#gh)" opacity="0.16"/><ellipse cx="-9.5" cy="10.3" rx="7.5" ry="6.5" fill="url(#gw)" opacity="0.07"/><ellipse cx="5.3" cy="10.3" rx="7.5" ry="6.5" fill="url(#gw)" opacity="0.09"/><ellipse cx="29.7" cy="10.7" rx="7.5" ry="6.5" fill="url(#gw)" opacity="0.19"/><ellipse cx="43.9" cy="8.8" rx="7.5" ry="6.5" fill="url(#gw)" opacity="0.18"/><ellipse cx="68.2" cy="10.2" rx="7.5" ry="6.5" fill="url(#gw)" opacity="0.20"/><ellipse cx="83.9" cy="9.3" rx="7.5" ry="6.5" fill="url(#gw)" opacity="0.22"/><ellipse cx="108.3" cy="10.7" rx="7.5" ry="6.5" fill="url(#gw)" opacity="0.12"/><ellipse cx="122.9" cy="10.3" rx="7.5" ry="6.5" fill="url(#gw)" opacity="0.11"/><ellipse cx="148.1" cy="8.6" rx="7.5" ry="6.5" fill="url(#gw)" opacity="0.10"/><ellipse cx="163.7" cy="10.3" rx="7.5" ry="6.5" fill="url(#gw)" opacity="0.19"/><ellipse cx="190.1" cy="8.7" rx="7.5" ry="6.5" fill="url(#gw)" opacity="0.14"/><ellipse cx="205.0" cy="9.3" rx="7.5" ry="6.5" fill="url(#gw)" opacity="0.16"/><ellipse cx="228.4" cy="9.5" rx="7.5" ry="6.5" fill="url(#gw)" opacity="0.13"/><ellipse cx="243.1" cy="10.7" rx="7.5" ry="6.5" fill="url(#gw)" opacity="0.21"/><ellipse cx="269.6" cy="8.7" rx="7.5" ry="6.5" fill="url(#gw)" opacity="0.06"/><ellipse cx="282.5" cy="9.1" rx="7.5" ry="6.5" fill="url(#gw)" opacity="0.19"/><ellipse cx="-0.5" cy="66.2" rx="22.0" ry="11.5" fill="url(#gh)" opacity="0.16"/><ellipse cx="39.4" cy="66.2" rx="22.0" ry="11.5" fill="url(#gh)" opacity="0.16"/><ellipse cx="79.3" cy="66.2" rx="22.0" ry="11.5" fill="url(#gh)" opacity="0.16"/><ellipse cx="119.2" cy="66.2" rx="22.0" ry="11.5" fill="url(#gh)" opacity="0.16"/><ellipse cx="159.1" cy="66.2" rx="22.0" ry="11.5" fill="url(#gh)" opacity="0.16"/><ellipse cx="199.0" cy="66.2" rx="22.0" ry="11.5" fill="url(#gh)" opacity="0.16"/><ellipse cx="238.9" cy="66.2" rx="22.0" ry="11.5" fill="url(#gh)" opacity="0.16"/><ellipse cx="278.8" cy="66.2" rx="22.0" ry="11.5" fill="url(#gh)" opacity="0.16"/><ellipse cx="-8.7" cy="67.0" rx="7.5" ry="6.5" fill="url(#gw)" opacity="0.10"/><ellipse cx="5.6" cy="65.2" rx="7.5" ry="6.5" fill="url(#gw)" opacity="0.14"/><ellipse cx="32.5" cy="66.6" rx="7.5" ry="6.5" fill="url(#gw)" opacity="0.13"/><ellipse cx="47.8" cy="67.5" rx="7.5" ry="6.5" fill="url(#gw)" opacity="0.13"/><ellipse cx="73.3" cy="67.5" rx="7.5" ry="6.5" fill="url(#gw)" opacity="0.21"/><ellipse cx="87.4" cy="66.8" rx="7.5" ry="6.5" fill="url(#gw)" opacity="0.22"/><ellipse cx="111.4" cy="67.2" rx="7.5" ry="6.5" fill="url(#gw)" opacity="0.15"/><ellipse cx="127.9" cy="66.0" rx="7.5" ry="6.5" fill="url(#gw)" opacity="0.12"/><ellipse cx="152.6" cy="66.2" rx="7.5" ry="6.5" fill="url(#gw)" opacity="0.06"/><ellipse cx="167.6" cy="67.1" rx="7.5" ry="6.5" fill="url(#gw)" opacity="0.06"/><ellipse cx="191.4" cy="65.2" rx="7.5" ry="6.5" fill="url(#gw)" opacity="0.20"/><ellipse cx="206.6" cy="66.7" rx="7.5" ry="6.5" fill="url(#gw)" opacity="0.09"/><ellipse cx="230.6" cy="65.1" rx="7.5" ry="6.5" fill="url(#gw)" opacity="0.15"/><ellipse cx="247.9" cy="67.5" rx="7.5" ry="6.5" fill="url(#gw)" opacity="0.22"/><ellipse cx="270.0" cy="65.4" rx="7.5" ry="6.5" fill="url(#gw)" opacity="0.14"/><ellipse cx="287.4" cy="66.8" rx="7.5" ry="6.5" fill="url(#gw)" opacity="0.15"/><ellipse cx="2.0" cy="122.4" rx="22.0" ry="11.5" fill="url(#gh)" opacity="0.16"/><ellipse cx="41.9" cy="122.4" rx="22.0" ry="11.5" fill="url(#gh)" opacity="0.16"/><ellipse cx="81.8" cy="122.4" rx="22.0" ry="11.5" fill="url(#gh)" opacity="0.16"/><ellipse cx="121.7" cy="122.4" rx="22.0" ry="11.5" fill="url(#gh)" opacity="0.16"/><ellipse cx="161.6" cy="122.4" rx="22.0" ry="11.5" fill="url(#gh)" opacity="0.16"/><ellipse cx="201.5" cy="122.4" rx="22.0" ry="11.5" fill="url(#gh)" opacity="0.16"/><ellipse cx="241.4" cy="122.4" rx="22.0" ry="11.5" fill="url(#gh)" opacity="0.16"/><ellipse cx="281.3" cy="122.4" rx="22.0" ry="11.5" fill="url(#gh)" opacity="0.16"/><ellipse cx="-4.3" cy="122.8" rx="7.5" ry="6.5" fill="url(#gw)" opacity="0.07"/><ellipse cx="10.3" cy="122.1" rx="7.5" ry="6.5" fill="url(#gw)" opacity="0.13"/><ellipse cx="33.0" cy="121.1" rx="7.5" ry="6.5" fill="url(#gw)" opacity="0.14"/><ellipse cx="49.2" cy="123.3" rx="7.5" ry="6.5" fill="url(#gw)" opacity="0.21"/><ellipse cx="74.0" cy="121.2" rx="7.5" ry="6.5" fill="url(#gw)" opacity="0.12"/><ellipse cx="88.6" cy="123.2" rx="7.5" ry="6.5" fill="url(#gw)" opacity="0.20"/><ellipse cx="113.6" cy="121.2" rx="7.5" ry="6.5" fill="url(#gw)" opacity="0.09"/><ellipse cx="130.5" cy="122.8" rx="7.5" ry="6.5" fill="url(#gw)" opacity="0.17"/><ellipse cx="153.3" cy="123.8" rx="7.5" ry="6.5" fill="url(#gw)" opacity="0.16"/><ellipse cx="168.4" cy="122.6" rx="7.5" ry="6.5" fill="url(#gw)" opacity="0.08"/><ellipse cx="193.4" cy="122.7" rx="7.5" ry="6.5" fill="url(#gw)" opacity="0.16"/><ellipse cx="207.6" cy="122.2" rx="7.5" ry="6.5" fill="url(#gw)" opacity="0.08"/><ellipse cx="235.0" cy="122.3" rx="7.5" ry="6.5" fill="url(#gw)" opacity="0.15"/><ellipse cx="249.7" cy="123.8" rx="7.5" ry="6.5" fill="url(#gw)" opacity="0.21"/><ellipse cx="273.6" cy="122.8" rx="7.5" ry="6.5" fill="url(#gw)" opacity="0.17"/><ellipse cx="288.1" cy="121.4" rx="7.5" ry="6.5" fill="url(#gw)" opacity="0.17"/><ellipse cx="4.5" cy="178.6" rx="22.0" ry="11.5" fill="url(#gh)" opacity="0.16"/><ellipse cx="44.4" cy="178.6" rx="22.0" ry="11.5" fill="url(#gh)" opacity="0.16"/><ellipse cx="84.3" cy="178.6" rx="22.0" ry="11.5" fill="url(#gh)" opacity="0.16"/><ellipse cx="124.2" cy="178.6" rx="22.0" ry="11.5" fill="url(#gh)" opacity="0.16"/><ellipse cx="164.1" cy="178.6" rx="22.0" ry="11.5" fill="url(#gh)" opacity="0.16"/><ellipse cx="204.0" cy="178.6" rx="22.0" ry="11.5" fill="url(#gh)" opacity="0.16"/><ellipse cx="243.9" cy="178.6" rx="22.0" ry="11.5" fill="url(#gh)" opacity="0.16"/><ellipse cx="283.8" cy="178.6" rx="22.0" ry="11.5" fill="url(#gh)" opacity="0.16"/><ellipse cx="-2.9" cy="177.3" rx="7.5" ry="6.5" fill="url(#gw)" opacity="0.11"/><ellipse cx="10.9" cy="179.9" rx="7.5" ry="6.5" fill="url(#gw)" opacity="0.12"/><ellipse cx="37.1" cy="177.5" rx="7.5" ry="6.5" fill="url(#gw)" opacity="0.13"/><ellipse cx="53.3" cy="179.6" rx="7.5" ry="6.5" fill="url(#gw)" opacity="0.13"/><ellipse cx="75.8" cy="179.7" rx="7.5" ry="6.5" fill="url(#gw)" opacity="0.21"/><ellipse cx="91.4" cy="178.1" rx="7.5" ry="6.5" fill="url(#gw)" opacity="0.19"/><ellipse cx="116.1" cy="177.9" rx="7.5" ry="6.5" fill="url(#gw)" opacity="0.21"/><ellipse cx="131.7" cy="178.4" rx="7.5" ry="6.5" fill="url(#gw)" opacity="0.16"/><ellipse cx="157.2" cy="179.3" rx="7.5" ry="6.5" fill="url(#gw)" opacity="0.13"/><ellipse cx="172.9" cy="177.9" rx="7.5" ry="6.5" fill="url(#gw)" opacity="0.13"/><ellipse cx="196.2" cy="177.1" rx="7.5" ry="6.5" fill="url(#gw)" opacity="0.10"/><ellipse cx="211.4" cy="177.9" rx="7.5" ry="6.5" fill="url(#gw)" opacity="0.14"/><ellipse cx="236.3" cy="178.8" rx="7.5" ry="6.5" fill="url(#gw)" opacity="0.13"/><ellipse cx="250.9" cy="178.2" rx="7.5" ry="6.5" fill="url(#gw)" opacity="0.15"/><ellipse cx="275.0" cy="179.8" rx="7.5" ry="6.5" fill="url(#gw)" opacity="0.20"/><ellipse cx="290.3" cy="178.4" rx="7.5" ry="6.5" fill="url(#gw)" opacity="0.08"/><ellipse cx="7.0" cy="234.8" rx="22.0" ry="11.5" fill="url(#gh)" opacity="0.16"/><ellipse cx="46.9" cy="234.8" rx="22.0" ry="11.5" fill="url(#gh)" opacity="0.16"/><ellipse cx="86.8" cy="234.8" rx="22.0" ry="11.5" fill="url(#gh)" opacity="0.16"/><ellipse cx="126.7" cy="234.8" rx="22.0" ry="11.5" fill="url(#gh)" opacity="0.16"/><ellipse cx="166.6" cy="234.8" rx="22.0" ry="11.5" fill="url(#gh)" opacity="0.16"/><ellipse cx="206.5" cy="234.8" rx="22.0" ry="11.5" fill="url(#gh)" opacity="0.16"/><ellipse cx="246.4" cy="234.8" rx="22.0" ry="11.5" fill="url(#gh)" opacity="0.16"/><ellipse cx="286.3" cy="234.8" rx="22.0" ry="11.5" fill="url(#gh)" opacity="0.16"/><ellipse cx="-1.3" cy="233.5" rx="7.5" ry="6.5" fill="url(#gw)" opacity="0.22"/><ellipse cx="14.5" cy="233.7" rx="7.5" ry="6.5" fill="url(#gw)" opacity="0.18"/><ellipse cx="39.7" cy="235.3" rx="7.5" ry="6.5" fill="url(#gw)" opacity="0.20"/><ellipse cx="54.7" cy="233.4" rx="7.5" ry="6.5" fill="url(#gw)" opacity="0.08"/><ellipse cx="79.5" cy="236.3" rx="7.5" ry="6.5" fill="url(#gw)" opacity="0.10"/><ellipse cx="93.4" cy="236.0" rx="7.5" ry="6.5" fill="url(#gw)" opacity="0.21"/><ellipse cx="118.0" cy="233.5" rx="7.5" ry="6.5" fill="url(#gw)" opacity="0.20"/><ellipse cx="135.7" cy="234.1" rx="7.5" ry="6.5" fill="url(#gw)" opacity="0.09"/><ellipse cx="159.6" cy="234.6" rx="7.5" ry="6.5" fill="url(#gw)" opacity="0.14"/><ellipse cx="174.3" cy="235.7" rx="7.5" ry="6.5" fill="url(#gw)" opacity="0.11"/><ellipse cx="197.6" cy="234.6" rx="7.5" ry="6.5" fill="url(#gw)" opacity="0.09"/><ellipse cx="215.1" cy="233.5" rx="7.5" ry="6.5" fill="url(#gw)" opacity="0.21"/><ellipse cx="240.1" cy="235.8" rx="7.5" ry="6.5" fill="url(#gw)" opacity="0.18"/><ellipse cx="252.4" cy="234.7" rx="7.5" ry="6.5" fill="url(#gw)" opacity="0.06"/><ellipse cx="280.0" cy="234.2" rx="7.5" ry="6.5" fill="url(#gw)" opacity="0.21"/><ellipse cx="294.7" cy="234.6" rx="7.5" ry="6.5" fill="url(#gw)" opacity="0.21"/><ellipse cx="9.5" cy="291.0" rx="22.0" ry="11.5" fill="url(#gh)" opacity="0.16"/><ellipse cx="49.4" cy="291.0" rx="22.0" ry="11.5" fill="url(#gh)" opacity="0.16"/><ellipse cx="89.3" cy="291.0" rx="22.0" ry="11.5" fill="url(#gh)" opacity="0.16"/><ellipse cx="129.2" cy="291.0" rx="22.0" ry="11.5" fill="url(#gh)" opacity="0.16"/><ellipse cx="169.1" cy="291.0" rx="22.0" ry="11.5" fill="url(#gh)" opacity="0.16"/><ellipse cx="209.0" cy="291.0" rx="22.0" ry="11.5" fill="url(#gh)" opacity="0.16"/><ellipse cx="248.9" cy="291.0" rx="22.0" ry="11.5" fill="url(#gh)" opacity="0.16"/><ellipse cx="288.8" cy="291.0" rx="22.0" ry="11.5" fill="url(#gh)" opacity="0.16"/><ellipse cx="0.9" cy="290.6" rx="7.5" ry="6.5" fill="url(#gw)" opacity="0.09"/><ellipse cx="17.0" cy="291.3" rx="7.5" ry="6.5" fill="url(#gw)" opacity="0.07"/><ellipse cx="40.6" cy="289.8" rx="7.5" ry="6.5" fill="url(#gw)" opacity="0.22"/><ellipse cx="55.9" cy="290.0" rx="7.5" ry="6.5" fill="url(#gw)" opacity="0.16"/><ellipse cx="82.4" cy="291.8" rx="7.5" ry="6.5" fill="url(#gw)" opacity="0.15"/><ellipse cx="95.7" cy="289.5" rx="7.5" ry="6.5" fill="url(#gw)" opacity="0.12"/><ellipse cx="122.4" cy="289.8" rx="7.5" ry="6.5" fill="url(#gw)" opacity="0.19"/><ellipse cx="135.4" cy="290.9" rx="7.5" ry="6.5" fill="url(#gw)" opacity="0.15"/><ellipse cx="163.0" cy="291.2" rx="7.5" ry="6.5" fill="url(#gw)" opacity="0.19"/><ellipse cx="176.6" cy="292.4" rx="7.5" ry="6.5" fill="url(#gw)" opacity="0.20"/><ellipse cx="200.1" cy="291.0" rx="7.5" ry="6.5" fill="url(#gw)" opacity="0.09"/><ellipse cx="216.9" cy="291.5" rx="7.5" ry="6.5" fill="url(#gw)" opacity="0.22"/><ellipse cx="242.0" cy="291.7" rx="7.5" ry="6.5" fill="url(#gw)" opacity="0.18"/><ellipse cx="255.9" cy="292.1" rx="7.5" ry="6.5" fill="url(#gw)" opacity="0.11"/><ellipse cx="281.4" cy="290.2" rx="7.5" ry="6.5" fill="url(#gw)" opacity="0.10"/><ellipse cx="296.2" cy="292.2" rx="7.5" ry="6.5" fill="url(#gw)" opacity="0.16"/><ellipse cx="18.6" cy="34.5" rx="19.5" ry="22.0" fill="url(#gh)" opacity="0.18"/><ellipse cx="17.1" cy="27.0" rx="7.5" ry="9.0" fill="url(#gw)" opacity="0.19"/><ellipse cx="18.6" cy="36.0" rx="13.5" ry="14.0" fill="url(#gb)" opacity="0.47" transform="rotate(-15 18.6 36.0)"/><ellipse cx="60.3" cy="34.8" rx="19.5" ry="22.0" fill="url(#gh)" opacity="0.18"/><ellipse cx="58.8" cy="27.3" rx="7.5" ry="9.0" fill="url(#gw)" opacity="0.19"/><ellipse cx="60.3" cy="36.3" rx="15.5" ry="16.0" fill="url(#gb)" opacity="0.52" transform="rotate(-25 60.3 36.3)"/><ellipse cx="97.5" cy="34.7" rx="19.5" ry="22.0" fill="url(#gh)" opacity="0.18"/><ellipse cx="96.0" cy="27.2" rx="7.5" ry="9.0" fill="url(#gw)" opacity="0.19"/><ellipse cx="97.5" cy="36.2" rx="14.2" ry="14.7" fill="url(#gb)" opacity="0.51" transform="rotate(26 97.5 36.2)"/><ellipse cx="139.0" cy="36.0" rx="19.5" ry="22.0" fill="url(#gh)" opacity="0.18"/><ellipse cx="137.5" cy="28.5" rx="7.5" ry="9.0" fill="url(#gw)" opacity="0.19"/><ellipse cx="139.0" cy="37.5" rx="15.4" ry="15.9" fill="url(#gb)" opacity="0.51" transform="rotate(-1 139.0 37.5)"/><ellipse cx="179.3" cy="35.8" rx="19.5" ry="22.0" fill="url(#gh)" opacity="0.18"/><ellipse cx="177.8" cy="28.3" rx="7.5" ry="9.0" fill="url(#gw)" opacity="0.19"/><ellipse cx="179.3" cy="37.3" rx="14.6" ry="15.1" fill="url(#gb)" opacity="0.52" transform="rotate(22 179.3 37.3)"/><ellipse cx="217.5" cy="36.0" rx="19.5" ry="22.0" fill="url(#gh)" opacity="0.18"/><ellipse cx="216.0" cy="28.5" rx="7.5" ry="9.0" fill="url(#gw)" opacity="0.19"/><ellipse cx="217.5" cy="37.5" rx="14.9" ry="15.4" fill="url(#gb)" opacity="0.45" transform="rotate(-9 217.5 37.5)"/><ellipse cx="257.4" cy="34.7" rx="19.5" ry="22.0" fill="url(#gh)" opacity="0.18"/><ellipse cx="255.9" cy="27.2" rx="7.5" ry="9.0" fill="url(#gw)" opacity="0.19"/><ellipse cx="257.4" cy="36.2" rx="15.2" ry="15.7" fill="url(#gb)" opacity="0.45" transform="rotate(10 257.4 36.2)"/><ellipse cx="-2.0" cy="42.7" rx="8.0" ry="13.0" fill="url(#gk)" opacity="0.30"/><ellipse cx="119.0" cy="37.8" rx="8.0" ry="13.0" fill="url(#gk)" opacity="0.43"/><ellipse cx="196.4" cy="38.3" rx="8.0" ry="13.0" fill="url(#gk)" opacity="0.17"/><ellipse cx="274.9" cy="38.4" rx="8.0" ry="13.0" fill="url(#gk)" opacity="0.17"/><ellipse cx="22.2" cy="88.6" rx="19.5" ry="22.0" fill="url(#gh)" opacity="0.18"/><ellipse cx="20.7" cy="81.1" rx="7.5" ry="9.0" fill="url(#gw)" opacity="0.19"/><ellipse cx="22.2" cy="90.1" rx="15.3" ry="15.8" fill="url(#gb)" opacity="0.49" transform="rotate(28 22.2 90.1)"/><ellipse cx="62.3" cy="88.5" rx="19.5" ry="22.0" fill="url(#gh)" opacity="0.18"/><ellipse cx="60.8" cy="81.0" rx="7.5" ry="9.0" fill="url(#gw)" opacity="0.19"/><ellipse cx="62.3" cy="90.0" rx="15.2" ry="15.7" fill="url(#gb)" opacity="0.48" transform="rotate(26 62.3 90.0)"/><ellipse cx="101.9" cy="88.3" rx="19.5" ry="22.0" fill="url(#gh)" opacity="0.18"/><ellipse cx="100.4" cy="80.8" rx="7.5" ry="9.0" fill="url(#gw)" opacity="0.19"/><ellipse cx="101.9" cy="89.8" rx="13.6" ry="14.1" fill="url(#gb)" opacity="0.50" transform="rotate(8 101.9 89.8)"/><ellipse cx="140.6" cy="88.0" rx="19.5" ry="22.0" fill="url(#gh)" opacity="0.18"/><ellipse cx="139.1" cy="80.5" rx="7.5" ry="9.0" fill="url(#gw)" opacity="0.19"/><ellipse cx="140.6" cy="89.5" rx="14.3" ry="14.8" fill="url(#gb)" opacity="0.48" transform="rotate(-21 140.6 89.5)"/><ellipse cx="181.6" cy="88.2" rx="19.5" ry="22.0" fill="url(#gh)" opacity="0.18"/><ellipse cx="180.1" cy="80.7" rx="7.5" ry="9.0" fill="url(#gw)" opacity="0.19"/><ellipse cx="181.6" cy="89.7" rx="14.2" ry="14.7" fill="url(#gb)" opacity="0.48" transform="rotate(0 181.6 89.7)"/><ellipse cx="220.0" cy="88.7" rx="19.5" ry="22.0" fill="url(#gh)" opacity="0.18"/><ellipse cx="218.5" cy="81.2" rx="7.5" ry="9.0" fill="url(#gw)" opacity="0.19"/><ellipse cx="220.0" cy="90.2" rx="13.6" ry="14.1" fill="url(#gb)" opacity="0.48" transform="rotate(23 220.0 90.2)"/><ellipse cx="259.1" cy="88.7" rx="19.5" ry="22.0" fill="url(#gh)" opacity="0.18"/><ellipse cx="257.6" cy="81.2" rx="7.5" ry="9.0" fill="url(#gw)" opacity="0.19"/><ellipse cx="259.1" cy="90.2" rx="14.5" ry="15.0" fill="url(#gb)" opacity="0.51" transform="rotate(4 259.1 90.2)"/><ellipse cx="4.2" cy="89.0" rx="8.0" ry="13.0" fill="url(#gk)" opacity="0.42"/><ellipse cx="79.3" cy="83.9" rx="8.0" ry="13.0" fill="url(#gk)" opacity="0.18"/><ellipse cx="159.1" cy="89.8" rx="8.0" ry="13.0" fill="url(#gk)" opacity="0.32"/><ellipse cx="279.0" cy="82.6" rx="8.0" ry="13.0" fill="url(#gk)" opacity="0.43"/><ellipse cx="24.5" cy="145.1" rx="19.5" ry="22.0" fill="url(#gh)" opacity="0.18"/><ellipse cx="23.0" cy="137.6" rx="7.5" ry="9.0" fill="url(#gw)" opacity="0.19"/><ellipse cx="24.5" cy="146.6" rx="14.5" ry="15.0" fill="url(#gb)" opacity="0.48" transform="rotate(5 24.5 146.6)"/><ellipse cx="63.2" cy="146.3" rx="19.5" ry="22.0" fill="url(#gh)" opacity="0.18"/><ellipse cx="61.7" cy="138.8" rx="7.5" ry="9.0" fill="url(#gw)" opacity="0.19"/><ellipse cx="63.2" cy="147.8" rx="14.8" ry="15.3" fill="url(#gb)" opacity="0.52" transform="rotate(-30 63.2 147.8)"/><ellipse cx="102.8" cy="146.9" rx="19.5" ry="22.0" fill="url(#gh)" opacity="0.18"/><ellipse cx="101.3" cy="139.4" rx="7.5" ry="9.0" fill="url(#gw)" opacity="0.19"/><ellipse cx="102.8" cy="148.4" rx="15.5" ry="16.0" fill="url(#gb)" opacity="0.47" transform="rotate(19 102.8 148.4)"/><ellipse cx="143.0" cy="147.0" rx="19.5" ry="22.0" fill="url(#gh)" opacity="0.18"/><ellipse cx="141.5" cy="139.5" rx="7.5" ry="9.0" fill="url(#gw)" opacity="0.19"/><ellipse cx="143.0" cy="148.5" rx="14.8" ry="15.3" fill="url(#gb)" opacity="0.49" transform="rotate(18 143.0 148.5)"/><ellipse cx="182.2" cy="145.7" rx="19.5" ry="22.0" fill="url(#gh)" opacity="0.18"/><ellipse cx="180.7" cy="138.2" rx="7.5" ry="9.0" fill="url(#gw)" opacity="0.19"/><ellipse cx="182.2" cy="147.2" rx="15.1" ry="15.6" fill="url(#gb)" opacity="0.54" transform="rotate(-22 182.2 147.2)"/><ellipse cx="223.8" cy="145.2" rx="19.5" ry="22.0" fill="url(#gh)" opacity="0.18"/><ellipse cx="222.3" cy="137.7" rx="7.5" ry="9.0" fill="url(#gw)" opacity="0.19"/><ellipse cx="223.8" cy="146.7" rx="13.6" ry="14.1" fill="url(#gb)" opacity="0.53" transform="rotate(-28 223.8 146.7)"/><ellipse cx="262.7" cy="145.4" rx="19.5" ry="22.0" fill="url(#gh)" opacity="0.18"/><ellipse cx="261.2" cy="137.9" rx="7.5" ry="9.0" fill="url(#gw)" opacity="0.19"/><ellipse cx="262.7" cy="146.9" rx="14.3" ry="14.8" fill="url(#gb)" opacity="0.52" transform="rotate(-23 262.7 146.9)"/><ellipse cx="5.7" cy="151.4" rx="8.0" ry="13.0" fill="url(#gk)" opacity="0.23"/><ellipse cx="123.0" cy="144.3" rx="8.0" ry="13.0" fill="url(#gk)" opacity="0.45"/><ellipse cx="164.4" cy="147.3" rx="8.0" ry="13.0" fill="url(#gk)" opacity="0.40"/><ellipse cx="24.6" cy="201.3" rx="19.5" ry="22.0" fill="url(#gh)" opacity="0.18"/><ellipse cx="23.1" cy="193.8" rx="7.5" ry="9.0" fill="url(#gw)" opacity="0.19"/><ellipse cx="24.6" cy="202.8" rx="14.7" ry="15.2" fill="url(#gb)" opacity="0.49" transform="rotate(-20 24.6 202.8)"/><ellipse cx="63.9" cy="199.8" rx="19.5" ry="22.0" fill="url(#gh)" opacity="0.18"/><ellipse cx="62.4" cy="192.3" rx="7.5" ry="9.0" fill="url(#gw)" opacity="0.19"/><ellipse cx="63.9" cy="201.3" rx="15.2" ry="15.7" fill="url(#gb)" opacity="0.47" transform="rotate(4 63.9 201.3)"/><ellipse cx="103.6" cy="201.5" rx="19.5" ry="22.0" fill="url(#gh)" opacity="0.18"/><ellipse cx="102.1" cy="194.0" rx="7.5" ry="9.0" fill="url(#gw)" opacity="0.19"/><ellipse cx="103.6" cy="203.0" rx="13.7" ry="14.2" fill="url(#gb)" opacity="0.44" transform="rotate(24 103.6 203.0)"/><ellipse cx="142.9" cy="200.9" rx="19.5" ry="22.0" fill="url(#gh)" opacity="0.18"/><ellipse cx="141.4" cy="193.4" rx="7.5" ry="9.0" fill="url(#gw)" opacity="0.19"/><ellipse cx="142.9" cy="202.4" rx="15.1" ry="15.6" fill="url(#gb)" opacity="0.51" transform="rotate(21 142.9 202.4)"/><ellipse cx="182.0" cy="201.0" rx="19.5" ry="22.0" fill="url(#gh)" opacity="0.18"/><ellipse cx="180.5" cy="193.5" rx="7.5" ry="9.0" fill="url(#gw)" opacity="0.19"/><ellipse cx="182.0" cy="202.5" rx="14.0" ry="14.5" fill="url(#gb)" opacity="0.51" transform="rotate(25 182.0 202.5)"/><ellipse cx="221.7" cy="199.8" rx="19.5" ry="22.0" fill="url(#gh)" opacity="0.18"/><ellipse cx="220.2" cy="192.3" rx="7.5" ry="9.0" fill="url(#gw)" opacity="0.19"/><ellipse cx="221.7" cy="201.3" rx="14.0" ry="14.5" fill="url(#gb)" opacity="0.45" transform="rotate(-4 221.7 201.3)"/><ellipse cx="260.8" cy="200.5" rx="19.5" ry="22.0" fill="url(#gh)" opacity="0.18"/><ellipse cx="259.3" cy="193.0" rx="7.5" ry="9.0" fill="url(#gw)" opacity="0.19"/><ellipse cx="260.8" cy="202.0" rx="14.8" ry="15.3" fill="url(#gb)" opacity="0.50" transform="rotate(27 260.8 202.0)"/><ellipse cx="6.3" cy="198.6" rx="8.0" ry="13.0" fill="url(#gk)" opacity="0.20"/><ellipse cx="42.1" cy="209.5" rx="8.0" ry="13.0" fill="url(#gk)" opacity="0.47"/><ellipse cx="80.4" cy="209.9" rx="8.0" ry="13.0" fill="url(#gk)" opacity="0.46"/><ellipse cx="164.3" cy="194.3" rx="8.0" ry="13.0" fill="url(#gk)" opacity="0.30"/><ellipse cx="202.2" cy="196.6" rx="8.0" ry="13.0" fill="url(#gk)" opacity="0.49"/><ellipse cx="25.2" cy="254.5" rx="19.5" ry="22.0" fill="url(#gh)" opacity="0.18"/><ellipse cx="23.7" cy="247.0" rx="7.5" ry="9.0" fill="url(#gw)" opacity="0.19"/><ellipse cx="25.2" cy="256.0" rx="15.4" ry="15.9" fill="url(#gb)" opacity="0.52" transform="rotate(7 25.2 256.0)"/><ellipse cx="65.4" cy="254.0" rx="19.5" ry="22.0" fill="url(#gh)" opacity="0.18"/><ellipse cx="63.9" cy="246.5" rx="7.5" ry="9.0" fill="url(#gw)" opacity="0.19"/><ellipse cx="65.4" cy="255.5" rx="14.8" ry="15.3" fill="url(#gb)" opacity="0.53" transform="rotate(-20 65.4 255.5)"/><ellipse cx="106.5" cy="254.7" rx="19.5" ry="22.0" fill="url(#gh)" opacity="0.18"/><ellipse cx="105.0" cy="247.2" rx="7.5" ry="9.0" fill="url(#gw)" opacity="0.19"/><ellipse cx="106.5" cy="256.2" rx="15.6" ry="16.1" fill="url(#gb)" opacity="0.39" transform="rotate(-14 106.5 256.2)"/><ellipse cx="143.1" cy="254.8" rx="19.5" ry="22.0" fill="url(#gh)" opacity="0.18"/><ellipse cx="141.6" cy="247.3" rx="7.5" ry="9.0" fill="url(#gw)" opacity="0.19"/><ellipse cx="143.1" cy="256.3" rx="15.1" ry="15.6" fill="url(#gb)" opacity="0.38" transform="rotate(27 143.1 256.3)"/><ellipse cx="182.2" cy="254.1" rx="19.5" ry="22.0" fill="url(#gh)" opacity="0.18"/><ellipse cx="180.7" cy="246.6" rx="7.5" ry="9.0" fill="url(#gw)" opacity="0.19"/><ellipse cx="182.2" cy="255.6" rx="14.6" ry="15.1" fill="url(#gb)" opacity="0.32" transform="rotate(-16 182.2 255.6)"/><ellipse cx="223.8" cy="255.0" rx="19.5" ry="22.0" fill="url(#gh)" opacity="0.18"/><ellipse cx="222.3" cy="247.5" rx="7.5" ry="9.0" fill="url(#gw)" opacity="0.19"/><ellipse cx="223.8" cy="256.5" rx="15.6" ry="16.1" fill="url(#gb)" opacity="0.48" transform="rotate(22 223.8 256.5)"/><ellipse cx="263.9" cy="254.7" rx="19.5" ry="22.0" fill="url(#gh)" opacity="0.18"/><ellipse cx="262.4" cy="247.2" rx="7.5" ry="9.0" fill="url(#gw)" opacity="0.19"/><ellipse cx="263.9" cy="256.2" rx="14.7" ry="15.2" fill="url(#gb)" opacity="0.47" transform="rotate(-20 263.9 256.2)"/><ellipse cx="46.8" cy="263.4" rx="8.0" ry="13.0" fill="url(#gk)" opacity="0.21"/><ellipse cx="85.4" cy="263.7" rx="8.0" ry="13.0" fill="url(#gk)" opacity="0.50"/><ellipse cx="126.1" cy="261.8" rx="8.0" ry="13.0" fill="url(#gk)" opacity="0.29"/><ellipse cx="164.8" cy="250.8" rx="8.0" ry="13.0" fill="url(#gk)" opacity="0.37"/>
</g></g>
<rect x="203.7" y="265.9" width="72.0" height="6.0" fill="#fff"/>
<rect x=".6" y=".6" width="289.8" height="283.1" fill="none" stroke="#111" stroke-width="1.2"/>
</svg>
<svg x="1259.8" y="906.0" width="291.0" height="284.3">
<g filter="url(#fd4)"><rect width="293" height="286" fill="#444444"/>
<g transform="translate(-0.19999999999999996 0.4)">
<ellipse cx="-3.0" cy="10.0" rx="22.0" ry="11.5" fill="url(#gh)" opacity="0.16"/><ellipse cx="36.9" cy="10.0" rx="22.0" ry="11.5" fill="url(#gh)" opacity="0.16"/><ellipse cx="76.8" cy="10.0" rx="22.0" ry="11.5" fill="url(#gh)" opacity="0.16"/><ellipse cx="116.7" cy="10.0" rx="22.0" ry="11.5" fill="url(#gh)" opacity="0.16"/><ellipse cx="156.6" cy="10.0" rx="22.0" ry="11.5" fill="url(#gh)" opacity="0.16"/><ellipse cx="196.5" cy="10.0" rx="22.0" ry="11.5" fill="url(#gh)" opacity="0.16"/><ellipse cx="236.4" cy="10.0" rx="22.0" ry="11.5" fill="url(#gh)" opacity="0.16"/><ellipse cx="276.3" cy="10.0" rx="22.0" ry="11.5" fill="url(#gh)" opacity="0.16"/><ellipse cx="-11.7" cy="10.3" rx="7.5" ry="6.5" fill="url(#gw)" opacity="0.12"/><ellipse cx="4.4" cy="9.5" rx="7.5" ry="6.5" fill="url(#gw)" opacity="0.08"/><ellipse cx="28.4" cy="11.4" rx="7.5" ry="6.5" fill="url(#gw)" opacity="0.17"/><ellipse cx="43.1" cy="10.5" rx="7.5" ry="6.5" fill="url(#gw)" opacity="0.07"/><ellipse cx="70.4" cy="11.0" rx="7.5" ry="6.5" fill="url(#gw)" opacity="0.22"/><ellipse cx="83.4" cy="9.4" rx="7.5" ry="6.5" fill="url(#gw)" opacity="0.08"/><ellipse cx="108.2" cy="9.4" rx="7.5" ry="6.5" fill="url(#gw)" opacity="0.10"/><ellipse cx="123.7" cy="10.9" rx="7.5" ry="6.5" fill="url(#gw)" opacity="0.12"/><ellipse cx="148.0" cy="10.1" rx="7.5" ry="6.5" fill="url(#gw)" opacity="0.19"/><ellipse cx="162.7" cy="11.3" rx="7.5" ry="6.5" fill="url(#gw)" opacity="0.18"/><ellipse cx="188.8" cy="9.7" rx="7.5" ry="6.5" fill="url(#gw)" opacity="0.15"/><ellipse cx="204.1" cy="9.8" rx="7.5" ry="6.5" fill="url(#gw)" opacity="0.20"/><ellipse cx="227.9" cy="9.9" rx="7.5" ry="6.5" fill="url(#gw)" opacity="0.21"/><ellipse cx="244.9" cy="10.8" rx="7.5" ry="6.5" fill="url(#gw)" opacity="0.21"/><ellipse cx="267.7" cy="10.5" rx="7.5" ry="6.5" fill="url(#gw)" opacity="0.20"/><ellipse cx="285.3" cy="11.4" rx="7.5" ry="6.5" fill="url(#gw)" opacity="0.14"/><ellipse cx="-0.5" cy="66.2" rx="22.0" ry="11.5" fill="url(#gh)" opacity="0.16"/><ellipse cx="39.4" cy="66.2" rx="22.0" ry="11.5" fill="url(#gh)" opacity="0.16"/><ellipse cx="79.3" cy="66.2" rx="22.0" ry="11.5" fill="url(#gh)" opacity="0.16"/><ellipse cx="119.2" cy="66.2" rx="22.0" ry="11.5" fill="url(#gh)" opacity="0.16"/><ellipse cx="159.1" cy="66.2" rx="22.0" ry="11.5" fill="url(#gh)" opacity="0.16"/><ellipse cx="199.0" cy="66.2" rx="22.0" ry="11.5" fill="url(#gh)" opacity="0.16"/><ellipse cx="238.9" cy="66.2" rx="22.0" ry="11.5" fill="url(#gh)" opacity="0.16"/><ellipse cx="278.8" cy="66.2" rx="22.0" ry="11.5" fill="url(#gh)" opacity="0.16"/><ellipse cx="-7.1" cy="65.8" rx="7.5" ry="6.5" fill="url(#gw)" opacity="0.12"/><ellipse cx="7.7" cy="67.3" rx="7.5" ry="6.5" fill="url(#gw)" opacity="0.12"/><ellipse cx="31.0" cy="64.9" rx="7.5" ry="6.5" fill="url(#gw)" opacity="0.18"/><ellipse cx="47.0" cy="66.4" rx="7.5" ry="6.5" fill="url(#gw)" opacity="0.21"/><ellipse cx="73.1" cy="66.9" rx="7.5" ry="6.5" fill="url(#gw)" opacity="0.17"/><ellipse cx="86.7" cy="66.8" rx="7.5" ry="6.5" fill="url(#gw)" opacity="0.16"/><ellipse cx="111.9" cy="67.6" rx="7.5" ry="6.5" fill="url(#gw)" opacity="0.18"/><ellipse cx="127.9" cy="67.7" rx="7.5" ry="6.5" fill="url(#gw)" opacity="0.12"/><ellipse cx="151.3" cy="66.3" rx="7.5" ry="6.5" fill="url(#gw)" opacity="0.18"/><ellipse cx="167.5" cy="67.0" rx="7.5" ry="6.5" fill="url(#gw)" opacity="0.12"/><ellipse cx="191.1" cy="67.0" rx="7.5" ry="6.5" fill="url(#gw)" opacity="0.09"/><ellipse cx="207.3" cy="66.4" rx="7.5" ry="6.5" fill="url(#gw)" opacity="0.08"/><ellipse cx="231.0" cy="67.4" rx="7.5" ry="6.5" fill="url(#gw)" opacity="0.08"/><ellipse cx="246.3" cy="67.7" rx="7.5" ry="6.5" fill="url(#gw)" opacity="0.07"/><ellipse cx="272.2" cy="65.9" rx="7.5" ry="6.5" fill="url(#gw)" opacity="0.10"/><ellipse cx="287.6" cy="66.9" rx="7.5" ry="6.5" fill="url(#gw)" opacity="0.21"/><ellipse cx="2.0" cy="122.4" rx="22.0" ry="11.5" fill="url(#gh)" opacity="0.16"/><ellipse cx="41.9" cy="122.4" rx="22.0" ry="11.5" fill="url(#gh)" opacity="0.16"/><ellipse cx="81.8" cy="122.4" rx="22.0" ry="11.5" fill="url(#gh)" opacity="0.16"/><ellipse cx="121.7" cy="122.4" rx="22.0" ry="11.5" fill="url(#gh)" opacity="0.16"/><ellipse cx="161.6" cy="122.4" rx="22.0" ry="11.5" fill="url(#gh)" opacity="0.16"/><ellipse cx="201.5" cy="122.4" rx="22.0" ry="11.5" fill="url(#gh)" opacity="0.16"/><ellipse cx="241.4" cy="122.4" rx="22.0" ry="11.5" fill="url(#gh)" opacity="0.16"/><ellipse cx="281.3" cy="122.4" rx="22.0" ry="11.5" fill="url(#gh)" opacity="0.16"/><ellipse cx="-4.2" cy="121.9" rx="7.5" ry="6.5" fill="url(#gw)" opacity="0.09"/><ellipse cx="10.0" cy="122.7" rx="7.5" ry="6.5" fill="url(#gw)" opacity="0.19"/><ellipse cx="35.2" cy="123.8" rx="7.5" ry="6.5" fill="url(#gw)" opacity="0.12"/><ellipse cx="50.4" cy="121.7" rx="7.5" ry="6.5" fill="url(#gw)" opacity="0.20"/><ellipse cx="75.0" cy="122.3" rx="7.5" ry="6.5" fill="url(#gw)" opacity="0.10"/><ellipse cx="89.3" cy="123.8" rx="7.5" ry="6.5" fill="url(#gw)" opacity="0.20"/><ellipse cx="115.5" cy="121.8" rx="7.5" ry="6.5" fill="url(#gw)" opacity="0.06"/><ellipse cx="129.5" cy="122.8" rx="7.5" ry="6.5" fill="url(#gw)" opacity="0.18"/><ellipse cx="154.9" cy="123.5" rx="7.5" ry="6.5" fill="url(#gw)" opacity="0.13"/><ellipse cx="169.8" cy="122.5" rx="7.5" ry="6.5" fill="url(#gw)" opacity="0.12"/><ellipse cx="194.0" cy="122.9" rx="7.5" ry="6.5" fill="url(#gw)" opacity="0.17"/><ellipse cx="208.7" cy="123.5" rx="7.5" ry="6.5" fill="url(#gw)" opacity="0.08"/><ellipse cx="234.6" cy="122.3" rx="7.5" ry="6.5" fill="url(#gw)" opacity="0.09"/><ellipse cx="248.2" cy="123.1" rx="7.5" ry="6.5" fill="url(#gw)" opacity="0.14"/><ellipse cx="273.3" cy="121.2" rx="7.5" ry="6.5" fill="url(#gw)" opacity="0.08"/><ellipse cx="287.5" cy="122.5" rx="7.5" ry="6.5" fill="url(#gw)" opacity="0.13"/><ellipse cx="4.5" cy="178.6" rx="22.0" ry="11.5" fill="url(#gh)" opacity="0.16"/><ellipse cx="44.4" cy="178.6" rx="22.0" ry="11.5" fill="url(#gh)" opacity="0.16"/><ellipse cx="84.3" cy="178.6" rx="22.0" ry="11.5" fill="url(#gh)" opacity="0.16"/><ellipse cx="124.2" cy="178.6" rx="22.0" ry="11.5" fill="url(#gh)" opacity="0.16"/><ellipse cx="164.1" cy="178.6" rx="22.0" ry="11.5" fill="url(#gh)" opacity="0.16"/><ellipse cx="204.0" cy="178.6" rx="22.0" ry="11.5" fill="url(#gh)" opacity="0.16"/><ellipse cx="243.9" cy="178.6" rx="22.0" ry="11.5" fill="url(#gh)" opacity="0.16"/><ellipse cx="283.8" cy="178.6" rx="22.0" ry="11.5" fill="url(#gh)" opacity="0.16"/><ellipse cx="-4.1" cy="177.4" rx="7.5" ry="6.5" fill="url(#gw)" opacity="0.14"/><ellipse cx="13.3" cy="178.6" rx="7.5" ry="6.5" fill="url(#gw)" opacity="0.12"/><ellipse cx="36.0" cy="179.4" rx="7.5" ry="6.5" fill="url(#gw)" opacity="0.16"/><ellipse cx="53.3" cy="178.9" rx="7.5" ry="6.5" fill="url(#gw)" opacity="0.07"/><ellipse cx="77.9" cy="177.7" rx="7.5" ry="6.5" fill="url(#gw)" opacity="0.12"/><ellipse cx="92.7" cy="179.7" rx="7.5" ry="6.5" fill="url(#gw)" opacity="0.12"/><ellipse cx="115.8" cy="179.2" rx="7.5" ry="6.5" fill="url(#gw)" opacity="0.11"/><ellipse cx="132.9" cy="180.1" rx="7.5" ry="6.5" fill="url(#gw)" opacity="0.13"/><ellipse cx="157.1" cy="180.0" rx="7.5" ry="6.5" fill="url(#gw)" opacity="0.22"/><ellipse cx="170.8" cy="180.0" rx="7.5" ry="6.5" fill="url(#gw)" opacity="0.18"/><ellipse cx="196.7" cy="177.8" rx="7.5" ry="6.5" fill="url(#gw)" opacity="0.07"/><ellipse cx="211.6" cy="178.8" rx="7.5" ry="6.5" fill="url(#gw)" opacity="0.17"/><ellipse cx="236.1" cy="178.6" rx="7.5" ry="6.5" fill="url(#gw)" opacity="0.19"/><ellipse cx="251.0" cy="177.7" rx="7.5" ry="6.5" fill="url(#gw)" opacity="0.20"/><ellipse cx="276.2" cy="178.7" rx="7.5" ry="6.5" fill="url(#gw)" opacity="0.14"/><ellipse cx="290.9" cy="178.3" rx="7.5" ry="6.5" fill="url(#gw)" opacity="0.15"/><ellipse cx="7.0" cy="234.8" rx="22.0" ry="11.5" fill="url(#gh)" opacity="0.16"/><ellipse cx="46.9" cy="234.8" rx="22.0" ry="11.5" fill="url(#gh)" opacity="0.16"/><ellipse cx="86.8" cy="234.8" rx="22.0" ry="11.5" fill="url(#gh)" opacity="0.16"/><ellipse cx="126.7" cy="234.8" rx="22.0" ry="11.5" fill="url(#gh)" opacity="0.16"/><ellipse cx="166.6" cy="234.8" rx="22.0" ry="11.5" fill="url(#gh)" opacity="0.16"/><ellipse cx="206.5" cy="234.8" rx="22.0" ry="11.5" fill="url(#gh)" opacity="0.16"/><ellipse cx="246.4" cy="234.8" rx="22.0" ry="11.5" fill="url(#gh)" opacity="0.16"/><ellipse cx="286.3" cy="234.8" rx="22.0" ry="11.5" fill="url(#gh)" opacity="0.16"/><ellipse cx="-0.1" cy="235.8" rx="7.5" ry="6.5" fill="url(#gw)" opacity="0.21"/><ellipse cx="14.8" cy="233.7" rx="7.5" ry="6.5" fill="url(#gw)" opacity="0.07"/><ellipse cx="39.9" cy="235.5" rx="7.5" ry="6.5" fill="url(#gw)" opacity="0.09"/><ellipse cx="54.1" cy="233.8" rx="7.5" ry="6.5" fill="url(#gw)" opacity="0.16"/><ellipse cx="79.6" cy="233.4" rx="7.5" ry="6.5" fill="url(#gw)" opacity="0.20"/><ellipse cx="93.0" cy="233.4" rx="7.5" ry="6.5" fill="url(#gw)" opacity="0.21"/><ellipse cx="120.4" cy="234.2" rx="7.5" ry="6.5" fill="url(#gw)" opacity="0.12"/><ellipse cx="134.8" cy="235.3" rx="7.5" ry="6.5" fill="url(#gw)" opacity="0.10"/><ellipse cx="159.1" cy="234.6" rx="7.5" ry="6.5" fill="url(#gw)" opacity="0.22"/><ellipse cx="172.8" cy="234.1" rx="7.5" ry="6.5" fill="url(#gw)" opacity="0.15"/><ellipse cx="198.2" cy="235.9" rx="7.5" ry="6.5" fill="url(#gw)" opacity="0.18"/><ellipse cx="213.1" cy="234.2" rx="7.5" ry="6.5" fill="url(#gw)" opacity="0.11"/><ellipse cx="238.7" cy="235.4" rx="7.5" ry="6.5" fill="url(#gw)" opacity="0.10"/><ellipse cx="253.6" cy="234.6" rx="7.5" ry="6.5" fill="url(#gw)" opacity="0.22"/><ellipse cx="278.3" cy="234.2" rx="7.5" ry="6.5" fill="url(#gw)" opacity="0.18"/><ellipse cx="292.6" cy="236.0" rx="7.5" ry="6.5" fill="url(#gw)" opacity="0.17"/><ellipse cx="9.5" cy="291.0" rx="22.0" ry="11.5" fill="url(#gh)" opacity="0.16"/><ellipse cx="49.4" cy="291.0" rx="22.0" ry="11.5" fill="url(#gh)" opacity="0.16"/><ellipse cx="89.3" cy="291.0" rx="22.0" ry="11.5" fill="url(#gh)" opacity="0.16"/><ellipse cx="129.2" cy="291.0" rx="22.0" ry="11.5" fill="url(#gh)" opacity="0.16"/><ellipse cx="169.1" cy="291.0" rx="22.0" ry="11.5" fill="url(#gh)" opacity="0.16"/><ellipse cx="209.0" cy="291.0" rx="22.0" ry="11.5" fill="url(#gh)" opacity="0.16"/><ellipse cx="248.9" cy="291.0" rx="22.0" ry="11.5" fill="url(#gh)" opacity="0.16"/><ellipse cx="288.8" cy="291.0" rx="22.0" ry="11.5" fill="url(#gh)" opacity="0.16"/><ellipse cx="1.3" cy="291.1" rx="7.5" ry="6.5" fill="url(#gw)" opacity="0.08"/><ellipse cx="15.9" cy="292.4" rx="7.5" ry="6.5" fill="url(#gw)" opacity="0.09"/><ellipse cx="42.2" cy="292.4" rx="7.5" ry="6.5" fill="url(#gw)" opacity="0.14"/><ellipse cx="57.6" cy="291.8" rx="7.5" ry="6.5" fill="url(#gw)" opacity="0.18"/><ellipse cx="83.0" cy="290.3" rx="7.5" ry="6.5" fill="url(#gw)" opacity="0.22"/><ellipse cx="96.0" cy="289.5" rx="7.5" ry="6.5" fill="url(#gw)" opacity="0.17"/><ellipse cx="122.8" cy="290.3" rx="7.5" ry="6.5" fill="url(#gw)" opacity="0.11"/><ellipse cx="137.9" cy="292.1" rx="7.5" ry="6.5" fill="url(#gw)" opacity="0.21"/><ellipse cx="160.6" cy="292.4" rx="7.5" ry="6.5" fill="url(#gw)" opacity="0.14"/><ellipse cx="177.4" cy="292.0" rx="7.5" ry="6.5" fill="url(#gw)" opacity="0.06"/><ellipse cx="202.5" cy="291.4" rx="7.5" ry="6.5" fill="url(#gw)" opacity="0.14"/><ellipse cx="217.3" cy="291.3" rx="7.5" ry="6.5" fill="url(#gw)" opacity="0.13"/><ellipse cx="241.6" cy="290.8" rx="7.5" ry="6.5" fill="url(#gw)" opacity="0.21"/><ellipse cx="257.0" cy="290.1" rx="7.5" ry="6.5" fill="url(#gw)" opacity="0.20"/><ellipse cx="281.6" cy="290.9" rx="7.5" ry="6.5" fill="url(#gw)" opacity="0.14"/><ellipse cx="297.0" cy="291.2" rx="7.5" ry="6.5" fill="url(#gw)" opacity="0.13"/><ellipse cx="19.9" cy="35.9" rx="19.5" ry="22.0" fill="url(#gh)" opacity="0.18"/><ellipse cx="18.4" cy="28.4" rx="7.5" ry="9.0" fill="url(#gw)" opacity="0.19"/><ellipse cx="19.9" cy="37.4" rx="13.8" ry="14.3" fill="url(#gb)" opacity="0.46" transform="rotate(17 19.9 37.4)"/><ellipse cx="58.7" cy="35.7" rx="19.5" ry="22.0" fill="url(#gh)" opacity="0.18"/><ellipse cx="57.2" cy="28.2" rx="7.5" ry="9.0" fill="url(#gw)" opacity="0.19"/><ellipse cx="58.7" cy="37.2" rx="13.5" ry="14.0" fill="url(#gb)" opacity="0.52" transform="rotate(13 58.7 37.2)"/><ellipse cx="97.8" cy="36.0" rx="19.5" ry="22.0" fill="url(#gh)" opacity="0.18"/><ellipse cx="96.3" cy="28.5" rx="7.5" ry="9.0" fill="url(#gw)" opacity="0.19"/><ellipse cx="97.8" cy="37.5" rx="15.6" ry="16.1" fill="url(#gb)" opacity="0.49" transform="rotate(-18 97.8 37.5)"/><ellipse cx="139.4" cy="36.3" rx="19.5" ry="22.0" fill="url(#gh)" opacity="0.18"/><ellipse cx="137.9" cy="28.8" rx="7.5" ry="9.0" fill="url(#gw)" opacity="0.19"/><ellipse cx="139.4" cy="37.8" rx="14.3" ry="14.8" fill="url(#gb)" opacity="0.47" transform="rotate(0 139.4 37.8)"/><ellipse cx="178.1" cy="36.0" rx="19.5" ry="22.0" fill="url(#gh)" opacity="0.18"/><ellipse cx="176.6" cy="28.5" rx="7.5" ry="9.0" fill="url(#gw)" opacity="0.19"/><ellipse cx="178.1" cy="37.5" rx="13.7" ry="14.2" fill="url(#gb)" opacity="0.48" transform="rotate(-20 178.1 37.5)"/><ellipse cx="218.6" cy="36.0" rx="19.5" ry="22.0" fill="url(#gh)" opacity="0.18"/><ellipse cx="217.1" cy="28.5" rx="7.5" ry="9.0" fill="url(#gw)" opacity="0.19"/><ellipse cx="218.6" cy="37.5" rx="14.6" ry="15.1" fill="url(#gb)" opacity="0.48" transform="rotate(-26 218.6 37.5)"/><ellipse cx="256.7" cy="35.6" rx="19.5" ry="22.0" fill="url(#gh)" opacity="0.18"/><ellipse cx="255.2" cy="28.1" rx="7.5" ry="9.0" fill="url(#gw)" opacity="0.19"/><ellipse cx="256.7" cy="37.1" rx="13.6" ry="14.1" fill="url(#gb)" opacity="0.52" transform="rotate(11 256.7 37.1)"/><ellipse cx="38.5" cy="31.0" rx="8.0" ry="13.0" fill="url(#gk)" opacity="0.41"/><ellipse cx="201.2" cy="42.1" rx="8.0" ry="13.0" fill="url(#gk)" opacity="0.47"/><ellipse cx="237.4" cy="33.4" rx="8.0" ry="13.0" fill="url(#gk)" opacity="0.23"/><ellipse cx="21.7" cy="88.4" rx="19.5" ry="22.0" fill="url(#gh)" opacity="0.18"/><ellipse cx="20.2" cy="80.9" rx="7.5" ry="9.0" fill="url(#gw)" opacity="0.19"/><ellipse cx="21.7" cy="89.9" rx="15.1" ry="15.6" fill="url(#gb)" opacity="0.52" transform="rotate(28 21.7 89.9)"/><ellipse cx="63.4" cy="88.1" rx="19.5" ry="22.0" fill="url(#gh)" opacity="0.18"/><ellipse cx="61.9" cy="80.6" rx="7.5" ry="9.0" fill="url(#gw)" opacity="0.19"/><ellipse cx="63.4" cy="89.6" rx="14.9" ry="15.4" fill="url(#gb)" opacity="0.50" transform="rotate(-19 63.4 89.6)"/><ellipse cx="100.8" cy="88.9" rx="19.5" ry="22.0" fill="url(#gh)" opacity="0.18"/><ellipse cx="99.3" cy="81.4" rx="7.5" ry="9.0" fill="url(#gw)" opacity="0.19"/><ellipse cx="100.8" cy="90.4" rx="14.0" ry="14.5" fill="url(#gb)" opacity="0.53" transform="rotate(16 100.8 90.4)"/><ellipse cx="141.4" cy="88.1" rx="19.5" ry="22.0" fill="url(#gh)" opacity="0.18"/><ellipse cx="139.9" cy="80.6" rx="7.5" ry="9.0" fill="url(#gw)" opacity="0.19"/><ellipse cx="141.4" cy="89.6" rx="15.0" ry="15.5" fill="url(#gb)" opacity="0.50" transform="rotate(-3 141.4 89.6)"/><ellipse cx="182.0" cy="88.9" rx="19.5" ry="22.0" fill="url(#gh)" opacity="0.18"/><ellipse cx="180.5" cy="81.4" rx="7.5" ry="9.0" fill="url(#gw)" opacity="0.19"/><ellipse cx="182.0" cy="90.4" rx="13.6" ry="14.1" fill="url(#gb)" opacity="0.53" transform="rotate(7 182.0 90.4)"/><ellipse cx="220.7" cy="88.4" rx="19.5" ry="22.0" fill="url(#gh)" opacity="0.18"/><ellipse cx="219.2" cy="80.9" rx="7.5" ry="9.0" fill="url(#gw)" opacity="0.19"/><ellipse cx="220.7" cy="89.9" rx="14.7" ry="15.2" fill="url(#gb)" opacity="0.49" transform="rotate(9 220.7 89.9)"/><ellipse cx="260.4" cy="87.8" rx="19.5" ry="22.0" fill="url(#gh)" opacity="0.18"/><ellipse cx="258.9" cy="80.3" rx="7.5" ry="9.0" fill="url(#gw)" opacity="0.19"/><ellipse cx="260.4" cy="89.3" rx="14.2" ry="14.7" fill="url(#gb)" opacity="0.53" transform="rotate(-8 260.4 89.3)"/><ellipse cx="44.7" cy="84.9" rx="8.0" ry="13.0" fill="url(#gk)" opacity="0.18"/><ellipse cx="82.3" cy="86.0" rx="8.0" ry="13.0" fill="url(#gk)" opacity="0.21"/><ellipse cx="121.8" cy="97.1" rx="8.0" ry="13.0" fill="url(#gk)" opacity="0.38"/><ellipse cx="164.0" cy="86.3" rx="8.0" ry="13.0" fill="url(#gk)" opacity="0.36"/><ellipse cx="201.8" cy="93.6" rx="8.0" ry="13.0" fill="url(#gk)" opacity="0.17"/><ellipse cx="279.8" cy="84.6" rx="8.0" ry="13.0" fill="url(#gk)" opacity="0.26"/><ellipse cx="24.8" cy="146.3" rx="19.5" ry="22.0" fill="url(#gh)" opacity="0.18"/><ellipse cx="23.3" cy="138.8" rx="7.5" ry="9.0" fill="url(#gw)" opacity="0.19"/><ellipse cx="24.8" cy="147.8" rx="14.7" ry="15.2" fill="url(#gb)" opacity="0.52" transform="rotate(7 24.8 147.8)"/><ellipse cx="63.5" cy="146.1" rx="19.5" ry="22.0" fill="url(#gh)" opacity="0.18"/><ellipse cx="62.0" cy="138.6" rx="7.5" ry="9.0" fill="url(#gw)" opacity="0.19"/><ellipse cx="63.5" cy="147.6" rx="15.2" ry="15.7" fill="url(#gb)" opacity="0.45" transform="rotate(-17 63.5 147.6)"/><ellipse cx="102.0" cy="146.6" rx="19.5" ry="22.0" fill="url(#gh)" opacity="0.18"/><ellipse cx="100.5" cy="139.1" rx="7.5" ry="9.0" fill="url(#gw)" opacity="0.19"/><ellipse cx="102.0" cy="148.1" rx="13.8" ry="14.3" fill="url(#gb)" opacity="0.46" transform="rotate(-1 102.0 148.1)"/><ellipse cx="141.7" cy="145.6" rx="19.5" ry="22.0" fill="url(#gh)" opacity="0.18"/><ellipse cx="140.2" cy="138.1" rx="7.5" ry="9.0" fill="url(#gw)" opacity="0.19"/><ellipse cx="141.7" cy="147.1" rx="14.2" ry="14.7" fill="url(#gb)" opacity="0.52" transform="rotate(6 141.7 147.1)"/><ellipse cx="184.0" cy="145.6" rx="19.5" ry="22.0" fill="url(#gh)" opacity="0.18"/><ellipse cx="182.5" cy="138.1" rx="7.5" ry="9.0" fill="url(#gw)" opacity="0.19"/><ellipse cx="184.0" cy="147.1" rx="15.3" ry="15.8" fill="url(#gb)" opacity="0.59" transform="rotate(-23 184.0 147.1)"/><ellipse cx="222.7" cy="146.2" rx="19.5" ry="22.0" fill="url(#gh)" opacity="0.18"/><ellipse cx="221.2" cy="138.7" rx="7.5" ry="9.0" fill="url(#gw)" opacity="0.19"/><ellipse cx="222.7" cy="147.7" rx="13.6" ry="14.1" fill="url(#gb)" opacity="0.48" transform="rotate(1 222.7 147.7)"/><ellipse cx="263.0" cy="147.0" rx="19.5" ry="22.0" fill="url(#gh)" opacity="0.18"/><ellipse cx="261.5" cy="139.5" rx="7.5" ry="9.0" fill="url(#gw)" opacity="0.19"/><ellipse cx="263.0" cy="148.5" rx="14.5" ry="15.0" fill="url(#gb)" opacity="0.46" transform="rotate(24 263.0 148.5)"/><ellipse cx="82.4" cy="147.5" rx="8.0" ry="13.0" fill="url(#gk)" opacity="0.14"/><ellipse cx="121.1" cy="148.3" rx="8.0" ry="13.0" fill="url(#gk)" opacity="0.25"/><ellipse cx="161.8" cy="141.7" rx="8.0" ry="13.0" fill="url(#gk)" opacity="0.44"/><ellipse cx="205.6" cy="144.6" rx="8.0" ry="13.0" fill="url(#gk)" opacity="0.31"/><ellipse cx="240.3" cy="143.4" rx="8.0" ry="13.0" fill="url(#gk)" opacity="0.27"/><ellipse cx="280.5" cy="142.0" rx="8.0" ry="13.0" fill="url(#gk)" opacity="0.31"/><ellipse cx="24.2" cy="200.1" rx="19.5" ry="22.0" fill="url(#gh)" opacity="0.18"/><ellipse cx="22.7" cy="192.6" rx="7.5" ry="9.0" fill="url(#gw)" opacity="0.19"/><ellipse cx="24.2" cy="201.6" rx="15.3" ry="15.8" fill="url(#gb)" opacity="0.48" transform="rotate(-6 24.2 201.6)"/><ellipse cx="64.7" cy="200.3" rx="19.5" ry="22.0" fill="url(#gh)" opacity="0.18"/><ellipse cx="63.2" cy="192.8" rx="7.5" ry="9.0" fill="url(#gw)" opacity="0.19"/><ellipse cx="64.7" cy="201.8" rx="14.0" ry="14.5" fill="url(#gb)" opacity="0.49" transform="rotate(-4 64.7 201.8)"/><ellipse cx="102.7" cy="199.6" rx="19.5" ry="22.0" fill="url(#gh)" opacity="0.18"/><ellipse cx="101.2" cy="192.1" rx="7.5" ry="9.0" fill="url(#gw)" opacity="0.19"/><ellipse cx="102.7" cy="201.1" rx="14.6" ry="15.1" fill="url(#gb)" opacity="0.48" transform="rotate(25 102.7 201.1)"/><ellipse cx="143.2" cy="200.6" rx="19.5" ry="22.0" fill="url(#gh)" opacity="0.18"/><ellipse cx="141.7" cy="193.1" rx="7.5" ry="9.0" fill="url(#gw)" opacity="0.19"/><ellipse cx="143.2" cy="202.1" rx="14.0" ry="14.5" fill="url(#gb)" opacity="0.47" transform="rotate(1 143.2 202.1)"/><ellipse cx="181.8" cy="200.9" rx="19.5" ry="22.0" fill="url(#gh)" opacity="0.18"/><ellipse cx="180.3" cy="193.4" rx="7.5" ry="9.0" fill="url(#gw)" opacity="0.19"/><ellipse cx="181.8" cy="202.4" rx="14.4" ry="14.9" fill="url(#gb)" opacity="0.53" transform="rotate(-29 181.8 202.4)"/><ellipse cx="223.2" cy="199.7" rx="19.5" ry="22.0" fill="url(#gh)" opacity="0.18"/><ellipse cx="221.7" cy="192.2" rx="7.5" ry="9.0" fill="url(#gw)" opacity="0.19"/><ellipse cx="223.2" cy="201.2" rx="13.7" ry="14.2" fill="url(#gb)" opacity="0.53" transform="rotate(19 223.2 201.2)"/><ellipse cx="262.2" cy="200.8" rx="19.5" ry="22.0" fill="url(#gh)" opacity="0.18"/><ellipse cx="260.7" cy="193.3" rx="7.5" ry="9.0" fill="url(#gw)" opacity="0.19"/><ellipse cx="262.2" cy="202.3" rx="15.2" ry="15.7" fill="url(#gb)" opacity="0.48" transform="rotate(10 262.2 202.3)"/><ellipse cx="5.4" cy="202.1" rx="8.0" ry="13.0" fill="url(#gk)" opacity="0.15"/><ellipse cx="159.5" cy="197.6" rx="8.0" ry="13.0" fill="url(#gk)" opacity="0.37"/><ellipse cx="25.7" cy="255.5" rx="19.5" ry="22.0" fill="url(#gh)" opacity="0.18"/><ellipse cx="24.2" cy="248.0" rx="7.5" ry="9.0" fill="url(#gw)" opacity="0.19"/><ellipse cx="25.7" cy="257.0" rx="15.3" ry="15.8" fill="url(#gb)" opacity="0.46" transform="rotate(-2 25.7 257.0)"/><ellipse cx="66.2" cy="255.2" rx="19.5" ry="22.0" fill="url(#gh)" opacity="0.18"/><ellipse cx="64.7" cy="247.7" rx="7.5" ry="9.0" fill="url(#gw)" opacity="0.19"/><ellipse cx="66.2" cy="256.7" rx="14.1" ry="14.6" fill="url(#gb)" opacity="0.48" transform="rotate(-3 66.2 256.7)"/><ellipse cx="106.1" cy="255.6" rx="19.5" ry="22.0" fill="url(#gh)" opacity="0.18"/><ellipse cx="104.6" cy="248.1" rx="7.5" ry="9.0" fill="url(#gw)" opacity="0.19"/><ellipse cx="106.1" cy="257.1" rx="15.6" ry="16.1" fill="url(#gb)" opacity="0.40" transform="rotate(8 106.1 257.1)"/><ellipse cx="143.0" cy="255.3" rx="19.5" ry="22.0" fill="url(#gh)" opacity="0.18"/><ellipse cx="141.5" cy="247.8" rx="7.5" ry="9.0" fill="url(#gw)" opacity="0.19"/><ellipse cx="143.0" cy="256.8" rx="15.6" ry="16.1" fill="url(#gb)" opacity="0.40" transform="rotate(20 143.0 256.8)"/><ellipse cx="182.5" cy="254.9" rx="19.5" ry="22.0" fill="url(#gh)" opacity="0.18"/><ellipse cx="181.0" cy="247.4" rx="7.5" ry="9.0" fill="url(#gw)" opacity="0.19"/><ellipse cx="182.5" cy="256.4" rx="13.8" ry="14.3" fill="url(#gb)" opacity="0.40" transform="rotate(20 182.5 256.4)"/><ellipse cx="224.0" cy="254.9" rx="19.5" ry="22.0" fill="url(#gh)" opacity="0.18"/><ellipse cx="222.5" cy="247.4" rx="7.5" ry="9.0" fill="url(#gw)" opacity="0.19"/><ellipse cx="224.0" cy="256.4" rx="14.8" ry="15.3" fill="url(#gb)" opacity="0.53" transform="rotate(25 224.0 256.4)"/><ellipse cx="263.9" cy="254.3" rx="19.5" ry="22.0" fill="url(#gh)" opacity="0.18"/><ellipse cx="262.4" cy="246.8" rx="7.5" ry="9.0" fill="url(#gw)" opacity="0.19"/><ellipse cx="263.9" cy="255.8" rx="14.9" ry="15.4" fill="url(#gb)" opacity="0.53" transform="rotate(24 263.9 255.8)"/><ellipse cx="6.0" cy="260.2" rx="8.0" ry="13.0" fill="url(#gk)" opacity="0.47"/><ellipse cx="123.9" cy="253.5" rx="8.0" ry="13.0" fill="url(#gk)" opacity="0.31"/><ellipse cx="204.1" cy="256.6" rx="8.0" ry="13.0" fill="url(#gk)" opacity="0.13"/><ellipse cx="284.5" cy="252.4" rx="8.0" ry="13.0" fill="url(#gk)" opacity="0.33"/>
</g></g>
<rect x="203.4" y="265.9" width="72.0" height="6.0" fill="#fff"/>
<rect x=".6" y=".6" width="289.8" height="283.1" fill="none" stroke="#111" stroke-width="1.2"/>
</svg>
<svg x="1560.3" y="906.0" width="291.0" height="284.3">
<g filter="url(#fd5)"><rect width="293" height="286" fill="#444444"/>
<g transform="translate(-1.75 0.4)">
<ellipse cx="-3.0" cy="10.0" rx="22.0" ry="11.5" fill="url(#gh)" opacity="0.16"/><ellipse cx="36.9" cy="10.0" rx="22.0" ry="11.5" fill="url(#gh)" opacity="0.16"/><ellipse cx="76.8" cy="10.0" rx="22.0" ry="11.5" fill="url(#gh)" opacity="0.16"/><ellipse cx="116.7" cy="10.0" rx="22.0" ry="11.5" fill="url(#gh)" opacity="0.16"/><ellipse cx="156.6" cy="10.0" rx="22.0" ry="11.5" fill="url(#gh)" opacity="0.16"/><ellipse cx="196.5" cy="10.0" rx="22.0" ry="11.5" fill="url(#gh)" opacity="0.16"/><ellipse cx="236.4" cy="10.0" rx="22.0" ry="11.5" fill="url(#gh)" opacity="0.16"/><ellipse cx="276.3" cy="10.0" rx="22.0" ry="11.5" fill="url(#gh)" opacity="0.16"/><ellipse cx="-9.8" cy="10.1" rx="7.5" ry="6.5" fill="url(#gw)" opacity="0.13"/><ellipse cx="5.5" cy="9.2" rx="7.5" ry="6.5" fill="url(#gw)" opacity="0.14"/><ellipse cx="29.5" cy="8.8" rx="7.5" ry="6.5" fill="url(#gw)" opacity="0.22"/><ellipse cx="43.6" cy="11.4" rx="7.5" ry="6.5" fill="url(#gw)" opacity="0.18"/><ellipse cx="68.4" cy="11.4" rx="7.5" ry="6.5" fill="url(#gw)" opacity="0.17"/><ellipse cx="85.7" cy="8.5" rx="7.5" ry="6.5" fill="url(#gw)" opacity="0.11"/><ellipse cx="109.6" cy="9.3" rx="7.5" ry="6.5" fill="url(#gw)" opacity="0.11"/><ellipse cx="123.0" cy="10.3" rx="7.5" ry="6.5" fill="url(#gw)" opacity="0.11"/><ellipse cx="148.5" cy="10.5" rx="7.5" ry="6.5" fill="url(#gw)" opacity="0.19"/><ellipse cx="164.7" cy="11.5" rx="7.5" ry="6.5" fill="url(#gw)" opacity="0.14"/><ellipse cx="188.6" cy="9.9" rx="7.5" ry="6.5" fill="url(#gw)" opacity="0.14"/><ellipse cx="205.5" cy="11.5" rx="7.5" ry="6.5" fill="url(#gw)" opacity="0.17"/><ellipse cx="227.7" cy="11.3" rx="7.5" ry="6.5" fill="url(#gw)" opacity="0.11"/><ellipse cx="244.4" cy="8.9" rx="7.5" ry="6.5" fill="url(#gw)" opacity="0.09"/><ellipse cx="269.5" cy="11.4" rx="7.5" ry="6.5" fill="url(#gw)" opacity="0.14"/><ellipse cx="283.6" cy="10.9" rx="7.5" ry="6.5" fill="url(#gw)" opacity="0.12"/><ellipse cx="-0.5" cy="66.2" rx="22.0" ry="11.5" fill="url(#gh)" opacity="0.16"/><ellipse cx="39.4" cy="66.2" rx="22.0" ry="11.5" fill="url(#gh)" opacity="0.16"/><ellipse cx="79.3" cy="66.2" rx="22.0" ry="11.5" fill="url(#gh)" opacity="0.16"/><ellipse cx="119.2" cy="66.2" rx="22.0" ry="11.5" fill="url(#gh)" opacity="0.16"/><ellipse cx="159.1" cy="66.2" rx="22.0" ry="11.5" fill="url(#gh)" opacity="0.16"/><ellipse cx="199.0" cy="66.2" rx="22.0" ry="11.5" fill="url(#gh)" opacity="0.16"/><ellipse cx="238.9" cy="66.2" rx="22.0" ry="11.5" fill="url(#gh)" opacity="0.16"/><ellipse cx="278.8" cy="66.2" rx="22.0" ry="11.5" fill="url(#gh)" opacity="0.16"/><ellipse cx="-9.2" cy="65.7" rx="7.5" ry="6.5" fill="url(#gw)" opacity="0.14"/><ellipse cx="7.8" cy="66.6" rx="7.5" ry="6.5" fill="url(#gw)" opacity="0.10"/><ellipse cx="31.9" cy="67.0" rx="7.5" ry="6.5" fill="url(#gw)" opacity="0.07"/><ellipse cx="47.6" cy="66.4" rx="7.5" ry="6.5" fill="url(#gw)" opacity="0.19"/><ellipse cx="73.2" cy="66.1" rx="7.5" ry="6.5" fill="url(#gw)" opacity="0.14"/><ellipse cx="86.2" cy="65.8" rx="7.5" ry="6.5" fill="url(#gw)" opacity="0.10"/><ellipse cx="111.0" cy="65.8" rx="7.5" ry="6.5" fill="url(#gw)" opacity="0.12"/><ellipse cx="125.7" cy="65.1" rx="7.5" ry="6.5" fill="url(#gw)" opacity="0.20"/><ellipse cx="150.6" cy="67.7" rx="7.5" ry="6.5" fill="url(#gw)" opacity="0.09"/><ellipse cx="167.6" cy="64.7" rx="7.5" ry="6.5" fill="url(#gw)" opacity="0.19"/><ellipse cx="192.2" cy="65.3" rx="7.5" ry="6.5" fill="url(#gw)" opacity="0.17"/><ellipse cx="206.5" cy="65.9" rx="7.5" ry="6.5" fill="url(#gw)" opacity="0.10"/><ellipse cx="231.5" cy="67.1" rx="7.5" ry="6.5" fill="url(#gw)" opacity="0.12"/><ellipse cx="247.5" cy="67.1" rx="7.5" ry="6.5" fill="url(#gw)" opacity="0.18"/><ellipse cx="271.7" cy="65.4" rx="7.5" ry="6.5" fill="url(#gw)" opacity="0.09"/><ellipse cx="285.9" cy="67.5" rx="7.5" ry="6.5" fill="url(#gw)" opacity="0.15"/><ellipse cx="2.0" cy="122.4" rx="22.0" ry="11.5" fill="url(#gh)" opacity="0.16"/><ellipse cx="41.9" cy="122.4" rx="22.0" ry="11.5" fill="url(#gh)" opacity="0.16"/><ellipse cx="81.8" cy="122.4" rx="22.0" ry="11.5" fill="url(#gh)" opacity="0.16"/><ellipse cx="121.7" cy="122.4" rx="22.0" ry="11.5" fill="url(#gh)" opacity="0.16"/><ellipse cx="161.6" cy="122.4" rx="22.0" ry="11.5" fill="url(#gh)" opacity="0.16"/><ellipse cx="201.5" cy="122.4" rx="22.0" ry="11.5" fill="url(#gh)" opacity="0.16"/><ellipse cx="241.4" cy="122.4" rx="22.0" ry="11.5" fill="url(#gh)" opacity="0.16"/><ellipse cx="281.3" cy="122.4" rx="22.0" ry="11.5" fill="url(#gh)" opacity="0.16"/><ellipse cx="-5.6" cy="121.8" rx="7.5" ry="6.5" fill="url(#gw)" opacity="0.13"/><ellipse cx="9.8" cy="121.3" rx="7.5" ry="6.5" fill="url(#gw)" opacity="0.14"/><ellipse cx="34.4" cy="121.6" rx="7.5" ry="6.5" fill="url(#gw)" opacity="0.21"/><ellipse cx="48.0" cy="123.0" rx="7.5" ry="6.5" fill="url(#gw)" opacity="0.19"/><ellipse cx="75.6" cy="121.1" rx="7.5" ry="6.5" fill="url(#gw)" opacity="0.12"/><ellipse cx="89.7" cy="123.0" rx="7.5" ry="6.5" fill="url(#gw)" opacity="0.20"/><ellipse cx="113.7" cy="122.7" rx="7.5" ry="6.5" fill="url(#gw)" opacity="0.12"/><ellipse cx="130.4" cy="122.5" rx="7.5" ry="6.5" fill="url(#gw)" opacity="0.10"/><ellipse cx="154.8" cy="121.5" rx="7.5" ry="6.5" fill="url(#gw)" opacity="0.18"/><ellipse cx="167.8" cy="121.2" rx="7.5" ry="6.5" fill="url(#gw)" opacity="0.14"/><ellipse cx="195.4" cy="122.3" rx="7.5" ry="6.5" fill="url(#gw)" opacity="0.07"/><ellipse cx="209.6" cy="121.6" rx="7.5" ry="6.5" fill="url(#gw)" opacity="0.12"/><ellipse cx="232.6" cy="121.3" rx="7.5" ry="6.5" fill="url(#gw)" opacity="0.07"/><ellipse cx="248.1" cy="122.3" rx="7.5" ry="6.5" fill="url(#gw)" opacity="0.10"/><ellipse cx="275.0" cy="122.5" rx="7.5" ry="6.5" fill="url(#gw)" opacity="0.11"/><ellipse cx="289.0" cy="122.6" rx="7.5" ry="6.5" fill="url(#gw)" opacity="0.20"/><ellipse cx="4.5" cy="178.6" rx="22.0" ry="11.5" fill="url(#gh)" opacity="0.16"/><ellipse cx="44.4" cy="178.6" rx="22.0" ry="11.5" fill="url(#gh)" opacity="0.16"/><ellipse cx="84.3" cy="178.6" rx="22.0" ry="11.5" fill="url(#gh)" opacity="0.16"/><ellipse cx="124.2" cy="178.6" rx="22.0" ry="11.5" fill="url(#gh)" opacity="0.16"/><ellipse cx="164.1" cy="178.6" rx="22.0" ry="11.5" fill="url(#gh)" opacity="0.16"/><ellipse cx="204.0" cy="178.6" rx="22.0" ry="11.5" fill="url(#gh)" opacity="0.16"/><ellipse cx="243.9" cy="178.6" rx="22.0" ry="11.5" fill="url(#gh)" opacity="0.16"/><ellipse cx="283.8" cy="178.6" rx="22.0" ry="11.5" fill="url(#gh)" opacity="0.16"/><ellipse cx="-4.3" cy="179.9" rx="7.5" ry="6.5" fill="url(#gw)" opacity="0.22"/><ellipse cx="10.7" cy="177.2" rx="7.5" ry="6.5" fill="url(#gw)" opacity="0.20"/><ellipse cx="36.2" cy="179.1" rx="7.5" ry="6.5" fill="url(#gw)" opacity="0.11"/><ellipse cx="52.6" cy="178.6" rx="7.5" ry="6.5" fill="url(#gw)" opacity="0.11"/><ellipse cx="76.0" cy="179.1" rx="7.5" ry="6.5" fill="url(#gw)" opacity="0.12"/><ellipse cx="91.8" cy="177.7" rx="7.5" ry="6.5" fill="url(#gw)" opacity="0.09"/><ellipse cx="117.2" cy="178.5" rx="7.5" ry="6.5" fill="url(#gw)" opacity="0.16"/><ellipse cx="132.4" cy="177.3" rx="7.5" ry="6.5" fill="url(#gw)" opacity="0.18"/><ellipse cx="156.6" cy="178.9" rx="7.5" ry="6.5" fill="url(#gw)" opacity="0.15"/><ellipse cx="172.7" cy="179.3" rx="7.5" ry="6.5" fill="url(#gw)" opacity="0.13"/><ellipse cx="195.3" cy="178.3" rx="7.5" ry="6.5" fill="url(#gw)" opacity="0.18"/><ellipse cx="212.9" cy="178.8" rx="7.5" ry="6.5" fill="url(#gw)" opacity="0.09"/><ellipse cx="237.0" cy="177.1" rx="7.5" ry="6.5" fill="url(#gw)" opacity="0.07"/><ellipse cx="250.4" cy="177.5" rx="7.5" ry="6.5" fill="url(#gw)" opacity="0.12"/><ellipse cx="277.7" cy="177.9" rx="7.5" ry="6.5" fill="url(#gw)" opacity="0.17"/><ellipse cx="292.8" cy="179.9" rx="7.5" ry="6.5" fill="url(#gw)" opacity="0.10"/><ellipse cx="7.0" cy="234.8" rx="22.0" ry="11.5" fill="url(#gh)" opacity="0.16"/><ellipse cx="46.9" cy="234.8" rx="22.0" ry="11.5" fill="url(#gh)" opacity="0.16"/><ellipse cx="86.8" cy="234.8" rx="22.0" ry="11.5" fill="url(#gh)" opacity="0.16"/><ellipse cx="126.7" cy="234.8" rx="22.0" ry="11.5" fill="url(#gh)" opacity="0.16"/><ellipse cx="166.6" cy="234.8" rx="22.0" ry="11.5" fill="url(#gh)" opacity="0.16"/><ellipse cx="206.5" cy="234.8" rx="22.0" ry="11.5" fill="url(#gh)" opacity="0.16"/><ellipse cx="246.4" cy="234.8" rx="22.0" ry="11.5" fill="url(#gh)" opacity="0.16"/><ellipse cx="286.3" cy="234.8" rx="22.0" ry="11.5" fill="url(#gh)" opacity="0.16"/><ellipse cx="0.3" cy="233.9" rx="7.5" ry="6.5" fill="url(#gw)" opacity="0.19"/><ellipse cx="13.5" cy="235.0" rx="7.5" ry="6.5" fill="url(#gw)" opacity="0.07"/><ellipse cx="40.0" cy="233.4" rx="7.5" ry="6.5" fill="url(#gw)" opacity="0.06"/><ellipse cx="55.1" cy="235.5" rx="7.5" ry="6.5" fill="url(#gw)" opacity="0.22"/><ellipse cx="80.1" cy="236.0" rx="7.5" ry="6.5" fill="url(#gw)" opacity="0.13"/><ellipse cx="94.2" cy="235.1" rx="7.5" ry="6.5" fill="url(#gw)" opacity="0.16"/><ellipse cx="117.9" cy="235.2" rx="7.5" ry="6.5" fill="url(#gw)" opacity="0.19"/><ellipse cx="134.3" cy="233.4" rx="7.5" ry="6.5" fill="url(#gw)" opacity="0.08"/><ellipse cx="158.9" cy="235.1" rx="7.5" ry="6.5" fill="url(#gw)" opacity="0.19"/><ellipse cx="174.0" cy="234.4" rx="7.5" ry="6.5" fill="url(#gw)" opacity="0.16"/><ellipse cx="198.5" cy="234.7" rx="7.5" ry="6.5" fill="url(#gw)" opacity="0.19"/><ellipse cx="213.2" cy="236.2" rx="7.5" ry="6.5" fill="url(#gw)" opacity="0.14"/><ellipse cx="240.2" cy="234.1" rx="7.5" ry="6.5" fill="url(#gw)" opacity="0.19"/><ellipse cx="255.1" cy="235.2" rx="7.5" ry="6.5" fill="url(#gw)" opacity="0.17"/><ellipse cx="278.2" cy="235.7" rx="7.5" ry="6.5" fill="url(#gw)" opacity="0.21"/><ellipse cx="294.4" cy="233.9" rx="7.5" ry="6.5" fill="url(#gw)" opacity="0.11"/><ellipse cx="9.5" cy="291.0" rx="22.0" ry="11.5" fill="url(#gh)" opacity="0.16"/><ellipse cx="49.4" cy="291.0" rx="22.0" ry="11.5" fill="url(#gh)" opacity="0.16"/><ellipse cx="89.3" cy="291.0" rx="22.0" ry="11.5" fill="url(#gh)" opacity="0.16"/><ellipse cx="129.2" cy="291.0" rx="22.0" ry="11.5" fill="url(#gh)" opacity="0.16"/><ellipse cx="169.1" cy="291.0" rx="22.0" ry="11.5" fill="url(#gh)" opacity="0.16"/><ellipse cx="209.0" cy="291.0" rx="22.0" ry="11.5" fill="url(#gh)" opacity="0.16"/><ellipse cx="248.9" cy="291.0" rx="22.0" ry="11.5" fill="url(#gh)" opacity="0.16"/><ellipse cx="288.8" cy="291.0" rx="22.0" ry="11.5" fill="url(#gh)" opacity="0.16"/><ellipse cx="2.1" cy="291.8" rx="7.5" ry="6.5" fill="url(#gw)" opacity="0.07"/><ellipse cx="17.7" cy="290.0" rx="7.5" ry="6.5" fill="url(#gw)" opacity="0.10"/><ellipse cx="41.4" cy="291.3" rx="7.5" ry="6.5" fill="url(#gw)" opacity="0.22"/><ellipse cx="57.3" cy="289.7" rx="7.5" ry="6.5" fill="url(#gw)" opacity="0.09"/><ellipse cx="81.1" cy="291.4" rx="7.5" ry="6.5" fill="url(#gw)" opacity="0.20"/><ellipse cx="97.9" cy="292.0" rx="7.5" ry="6.5" fill="url(#gw)" opacity="0.16"/><ellipse cx="122.4" cy="289.9" rx="7.5" ry="6.5" fill="url(#gw)" opacity="0.20"/><ellipse cx="136.1" cy="290.2" rx="7.5" ry="6.5" fill="url(#gw)" opacity="0.08"/><ellipse cx="160.3" cy="290.1" rx="7.5" ry="6.5" fill="url(#gw)" opacity="0.07"/><ellipse cx="176.1" cy="292.2" rx="7.5" ry="6.5" fill="url(#gw)" opacity="0.12"/><ellipse cx="202.0" cy="290.5" rx="7.5" ry="6.5" fill="url(#gw)" opacity="0.20"/><ellipse cx="216.3" cy="292.4" rx="7.5" ry="6.5" fill="url(#gw)" opacity="0.22"/><ellipse cx="240.9" cy="291.7" rx="7.5" ry="6.5" fill="url(#gw)" opacity="0.10"/><ellipse cx="256.7" cy="292.5" rx="7.5" ry="6.5" fill="url(#gw)" opacity="0.12"/><ellipse cx="280.7" cy="291.4" rx="7.5" ry="6.5" fill="url(#gw)" opacity="0.20"/><ellipse cx="295.4" cy="291.6" rx="7.5" ry="6.5" fill="url(#gw)" opacity="0.18"/><ellipse cx="19.1" cy="36.4" rx="19.5" ry="22.0" fill="url(#gh)" opacity="0.18"/><ellipse cx="17.6" cy="28.9" rx="7.5" ry="9.0" fill="url(#gw)" opacity="0.19"/><ellipse cx="19.1" cy="37.9" rx="13.7" ry="14.2" fill="url(#gb)" opacity="0.50" transform="rotate(20 19.1 37.9)"/><ellipse cx="59.3" cy="35.0" rx="19.5" ry="22.0" fill="url(#gh)" opacity="0.18"/><ellipse cx="57.8" cy="27.5" rx="7.5" ry="9.0" fill="url(#gw)" opacity="0.19"/><ellipse cx="59.3" cy="36.5" rx="14.3" ry="14.8" fill="url(#gb)" opacity="0.44" transform="rotate(-12 59.3 36.5)"/><ellipse cx="98.6" cy="35.6" rx="19.5" ry="22.0" fill="url(#gh)" opacity="0.18"/><ellipse cx="97.1" cy="28.1" rx="7.5" ry="9.0" fill="url(#gw)" opacity="0.19"/><ellipse cx="98.6" cy="37.1" rx="15.0" ry="15.5" fill="url(#gb)" opacity="0.44" transform="rotate(-29 98.6 37.1)"/><ellipse cx="138.2" cy="34.7" rx="19.5" ry="22.0" fill="url(#gh)" opacity="0.18"/><ellipse cx="136.7" cy="27.2" rx="7.5" ry="9.0" fill="url(#gw)" opacity="0.19"/><ellipse cx="138.2" cy="36.2" rx="15.4" ry="15.9" fill="url(#gb)" opacity="0.51" transform="rotate(-25 138.2 36.2)"/><ellipse cx="179.2" cy="35.9" rx="19.5" ry="22.0" fill="url(#gh)" opacity="0.18"/><ellipse cx="177.7" cy="28.4" rx="7.5" ry="9.0" fill="url(#gw)" opacity="0.19"/><ellipse cx="179.2" cy="37.4" rx="14.0" ry="14.5" fill="url(#gb)" opacity="0.46" transform="rotate(19 179.2 37.4)"/><ellipse cx="217.2" cy="35.6" rx="19.5" ry="22.0" fill="url(#gh)" opacity="0.18"/><ellipse cx="215.7" cy="28.1" rx="7.5" ry="9.0" fill="url(#gw)" opacity="0.19"/><ellipse cx="217.2" cy="37.1" rx="14.8" ry="15.3" fill="url(#gb)" opacity="0.44" transform="rotate(12 217.2 37.1)"/><ellipse cx="258.0" cy="36.4" rx="19.5" ry="22.0" fill="url(#gh)" opacity="0.18"/><ellipse cx="256.5" cy="28.9" rx="7.5" ry="9.0" fill="url(#gw)" opacity="0.19"/><ellipse cx="258.0" cy="37.9" rx="13.5" ry="14.0" fill="url(#gb)" opacity="0.44" transform="rotate(-29 258.0 37.9)"/><ellipse cx="40.4" cy="34.5" rx="8.0" ry="13.0" fill="url(#gk)" opacity="0.39"/><ellipse cx="77.5" cy="33.1" rx="8.0" ry="13.0" fill="url(#gk)" opacity="0.40"/><ellipse cx="120.9" cy="44.0" rx="8.0" ry="13.0" fill="url(#gk)" opacity="0.40"/><ellipse cx="159.7" cy="41.5" rx="8.0" ry="13.0" fill="url(#gk)" opacity="0.31"/><ellipse cx="195.5" cy="38.2" rx="8.0" ry="13.0" fill="url(#gk)" opacity="0.13"/><ellipse cx="279.4" cy="44.1" rx="8.0" ry="13.0" fill="url(#gk)" opacity="0.23"/><ellipse cx="22.3" cy="87.8" rx="19.5" ry="22.0" fill="url(#gh)" opacity="0.18"/><ellipse cx="20.8" cy="80.3" rx="7.5" ry="9.0" fill="url(#gw)" opacity="0.19"/><ellipse cx="22.3" cy="89.3" rx="15.3" ry="15.8" fill="url(#gb)" opacity="0.46" transform="rotate(18 22.3 89.3)"/><ellipse cx="63.4" cy="88.5" rx="19.5" ry="22.0" fill="url(#gh)" opacity="0.18"/><ellipse cx="61.9" cy="81.0" rx="7.5" ry="9.0" fill="url(#gw)" opacity="0.19"/><ellipse cx="63.4" cy="90.0" rx="15.5" ry="16.0" fill="url(#gb)" opacity="0.50" transform="rotate(28 63.4 90.0)"/><ellipse cx="100.7" cy="88.7" rx="19.5" ry="22.0" fill="url(#gh)" opacity="0.18"/><ellipse cx="99.2" cy="81.2" rx="7.5" ry="9.0" fill="url(#gw)" opacity="0.19"/><ellipse cx="100.7" cy="90.2" rx="13.6" ry="14.1" fill="url(#gb)" opacity="0.51" transform="rotate(-17 100.7 90.2)"/><ellipse cx="140.8" cy="88.0" rx="19.5" ry="22.0" fill="url(#gh)" opacity="0.18"/><ellipse cx="139.3" cy="80.5" rx="7.5" ry="9.0" fill="url(#gw)" opacity="0.19"/><ellipse cx="140.8" cy="89.5" rx="15.3" ry="15.8" fill="url(#gb)" opacity="0.52" transform="rotate(13 140.8 89.5)"/><ellipse cx="180.8" cy="88.9" rx="19.5" ry="22.0" fill="url(#gh)" opacity="0.18"/><ellipse cx="179.3" cy="81.4" rx="7.5" ry="9.0" fill="url(#gw)" opacity="0.19"/><ellipse cx="180.8" cy="90.4" rx="15.1" ry="15.6" fill="url(#gb)" opacity="0.51" transform="rotate(6 180.8 90.4)"/><ellipse cx="221.5" cy="89.3" rx="19.5" ry="22.0" fill="url(#gh)" opacity="0.18"/><ellipse cx="220.0" cy="81.8" rx="7.5" ry="9.0" fill="url(#gw)" opacity="0.19"/><ellipse cx="221.5" cy="90.8" rx="14.7" ry="15.2" fill="url(#gb)" opacity="0.47" transform="rotate(22 221.5 90.8)"/><ellipse cx="259.2" cy="88.1" rx="19.5" ry="22.0" fill="url(#gh)" opacity="0.18"/><ellipse cx="257.7" cy="80.6" rx="7.5" ry="9.0" fill="url(#gw)" opacity="0.19"/><ellipse cx="259.2" cy="89.6" rx="15.6" ry="16.1" fill="url(#gb)" opacity="0.52" transform="rotate(5 259.2 89.6)"/><ellipse cx="80.5" cy="93.7" rx="8.0" ry="13.0" fill="url(#gk)" opacity="0.24"/><ellipse cx="123.0" cy="90.6" rx="8.0" ry="13.0" fill="url(#gk)" opacity="0.18"/><ellipse cx="161.0" cy="96.4" rx="8.0" ry="13.0" fill="url(#gk)" opacity="0.15"/><ellipse cx="200.8" cy="97.1" rx="8.0" ry="13.0" fill="url(#gk)" opacity="0.18"/><ellipse cx="281.5" cy="95.4" rx="8.0" ry="13.0" fill="url(#gk)" opacity="0.13"/><ellipse cx="24.7" cy="146.6" rx="19.5" ry="22.0" fill="url(#gh)" opacity="0.18"/><ellipse cx="23.2" cy="139.1" rx="7.5" ry="9.0" fill="url(#gw)" opacity="0.19"/><ellipse cx="24.7" cy="148.1" rx="15.4" ry="15.9" fill="url(#gb)" opacity="0.45" transform="rotate(2 24.7 148.1)"/><ellipse cx="64.3" cy="146.7" rx="19.5" ry="22.0" fill="url(#gh)" opacity="0.18"/><ellipse cx="62.8" cy="139.2" rx="7.5" ry="9.0" fill="url(#gw)" opacity="0.19"/><ellipse cx="64.3" cy="148.2" rx="14.3" ry="14.8" fill="url(#gb)" opacity="0.47" transform="rotate(-2 64.3 148.2)"/><ellipse cx="102.6" cy="145.6" rx="19.5" ry="22.0" fill="url(#gh)" opacity="0.18"/><ellipse cx="101.1" cy="138.1" rx="7.5" ry="9.0" fill="url(#gw)" opacity="0.19"/><ellipse cx="102.6" cy="147.1" rx="14.9" ry="15.4" fill="url(#gb)" opacity="0.47" transform="rotate(20 102.6 147.1)"/><ellipse cx="143.0" cy="145.1" rx="19.5" ry="22.0" fill="url(#gh)" opacity="0.18"/><ellipse cx="141.5" cy="137.6" rx="7.5" ry="9.0" fill="url(#gw)" opacity="0.19"/><ellipse cx="143.0" cy="146.6" rx="14.4" ry="14.9" fill="url(#gb)" opacity="0.45" transform="rotate(4 143.0 146.6)"/><ellipse cx="182.9" cy="146.4" rx="19.5" ry="22.0" fill="url(#gh)" opacity="0.18"/><ellipse cx="181.4" cy="138.9" rx="7.5" ry="9.0" fill="url(#gw)" opacity="0.19"/><ellipse cx="182.9" cy="147.9" rx="14.8" ry="15.3" fill="url(#gb)" opacity="0.53" transform="rotate(11 182.9 147.9)"/><ellipse cx="224.0" cy="146.9" rx="19.5" ry="22.0" fill="url(#gh)" opacity="0.18"/><ellipse cx="222.5" cy="139.4" rx="7.5" ry="9.0" fill="url(#gw)" opacity="0.19"/><ellipse cx="224.0" cy="148.4" rx="14.2" ry="14.7" fill="url(#gb)" opacity="0.49" transform="rotate(21 224.0 148.4)"/><ellipse cx="261.6" cy="146.9" rx="19.5" ry="22.0" fill="url(#gh)" opacity="0.18"/><ellipse cx="260.1" cy="139.4" rx="7.5" ry="9.0" fill="url(#gw)" opacity="0.19"/><ellipse cx="261.6" cy="148.4" rx="15.5" ry="16.0" fill="url(#gb)" opacity="0.45" transform="rotate(29 261.6 148.4)"/><ellipse cx="3.7" cy="146.6" rx="8.0" ry="13.0" fill="url(#gk)" opacity="0.36"/><ellipse cx="43.7" cy="141.9" rx="8.0" ry="13.0" fill="url(#gk)" opacity="0.27"/><ellipse cx="86.0" cy="143.1" rx="8.0" ry="13.0" fill="url(#gk)" opacity="0.17"/><ellipse cx="120.5" cy="155.2" rx="8.0" ry="13.0" fill="url(#gk)" opacity="0.19"/><ellipse cx="164.6" cy="155.4" rx="8.0" ry="13.0" fill="url(#gk)" opacity="0.47"/><ellipse cx="203.9" cy="150.4" rx="8.0" ry="13.0" fill="url(#gk)" opacity="0.34"/><ellipse cx="283.0" cy="145.8" rx="8.0" ry="13.0" fill="url(#gk)" opacity="0.36"/><ellipse cx="23.6" cy="201.5" rx="19.5" ry="22.0" fill="url(#gh)" opacity="0.18"/><ellipse cx="22.1" cy="194.0" rx="7.5" ry="9.0" fill="url(#gw)" opacity="0.19"/><ellipse cx="23.6" cy="203.0" rx="14.7" ry="15.2" fill="url(#gb)" opacity="0.43" transform="rotate(-18 23.6 203.0)"/><ellipse cx="62.9" cy="201.5" rx="19.5" ry="22.0" fill="url(#gh)" opacity="0.18"/><ellipse cx="61.4" cy="194.0" rx="7.5" ry="9.0" fill="url(#gw)" opacity="0.19"/><ellipse cx="62.9" cy="203.0" rx="14.1" ry="14.6" fill="url(#gb)" opacity="0.51" transform="rotate(-27 62.9 203.0)"/><ellipse cx="103.0" cy="200.6" rx="19.5" ry="22.0" fill="url(#gh)" opacity="0.18"/><ellipse cx="101.5" cy="193.1" rx="7.5" ry="9.0" fill="url(#gw)" opacity="0.19"/><ellipse cx="103.0" cy="202.1" rx="15.4" ry="15.9" fill="url(#gb)" opacity="0.50" transform="rotate(26 103.0 202.1)"/><ellipse cx="142.2" cy="200.9" rx="19.5" ry="22.0" fill="url(#gh)" opacity="0.18"/><ellipse cx="140.7" cy="193.4" rx="7.5" ry="9.0" fill="url(#gw)" opacity="0.19"/><ellipse cx="142.2" cy="202.4" rx="15.4" ry="15.9" fill="url(#gb)" opacity="0.47" transform="rotate(-16 142.2 202.4)"/><ellipse cx="182.6" cy="200.8" rx="19.5" ry="22.0" fill="url(#gh)" opacity="0.18"/><ellipse cx="181.1" cy="193.3" rx="7.5" ry="9.0" fill="url(#gw)" opacity="0.19"/><ellipse cx="182.6" cy="202.3" rx="13.9" ry="14.4" fill="url(#gb)" opacity="0.48" transform="rotate(24 182.6 202.3)"/><ellipse cx="221.7" cy="200.3" rx="19.5" ry="22.0" fill="url(#gh)" opacity="0.18"/><ellipse cx="220.2" cy="192.8" rx="7.5" ry="9.0" fill="url(#gw)" opacity="0.19"/><ellipse cx="221.7" cy="201.8" rx="15.0" ry="15.5" fill="url(#gb)" opacity="0.46" transform="rotate(-21 221.7 201.8)"/><ellipse cx="260.7" cy="201.5" rx="19.5" ry="22.0" fill="url(#gh)" opacity="0.18"/><ellipse cx="259.2" cy="194.0" rx="7.5" ry="9.0" fill="url(#gw)" opacity="0.19"/><ellipse cx="260.7" cy="203.0" rx="15.6" ry="16.1" fill="url(#gb)" opacity="0.52" transform="rotate(-18 260.7 203.0)"/><ellipse cx="85.9" cy="202.2" rx="8.0" ry="13.0" fill="url(#gk)" opacity="0.36"/><ellipse cx="121.9" cy="200.7" rx="8.0" ry="13.0" fill="url(#gk)" opacity="0.36"/><ellipse cx="159.6" cy="197.0" rx="8.0" ry="13.0" fill="url(#gk)" opacity="0.46"/><ellipse cx="205.1" cy="194.8" rx="8.0" ry="13.0" fill="url(#gk)" opacity="0.34"/><ellipse cx="244.6" cy="203.6" rx="8.0" ry="13.0" fill="url(#gk)" opacity="0.44"/><ellipse cx="284.1" cy="198.9" rx="8.0" ry="13.0" fill="url(#gk)" opacity="0.47"/><ellipse cx="25.4" cy="255.4" rx="19.5" ry="22.0" fill="url(#gh)" opacity="0.18"/><ellipse cx="23.9" cy="247.9" rx="7.5" ry="9.0" fill="url(#gw)" opacity="0.19"/><ellipse cx="25.4" cy="256.9" rx="15.3" ry="15.8" fill="url(#gb)" opacity="0.49" transform="rotate(10 25.4 256.9)"/><ellipse cx="65.5" cy="254.5" rx="19.5" ry="22.0" fill="url(#gh)" opacity="0.18"/><ellipse cx="64.0" cy="247.0" rx="7.5" ry="9.0" fill="url(#gw)" opacity="0.19"/><ellipse cx="65.5" cy="256.0" rx="13.9" ry="14.4" fill="url(#gb)" opacity="0.52" transform="rotate(-1 65.5 256.0)"/><ellipse cx="105.9" cy="255.3" rx="19.5" ry="22.0" fill="url(#gh)" opacity="0.18"/><ellipse cx="104.4" cy="247.8" rx="7.5" ry="9.0" fill="url(#gw)" opacity="0.19"/><ellipse cx="105.9" cy="256.8" rx="14.3" ry="14.8" fill="url(#gb)" opacity="0.37" transform="rotate(-29 105.9 256.8)"/><ellipse cx="142.9" cy="254.7" rx="19.5" ry="22.0" fill="url(#gh)" opacity="0.18"/><ellipse cx="141.4" cy="247.2" rx="7.5" ry="9.0" fill="url(#gw)" opacity="0.19"/><ellipse cx="142.9" cy="256.2" rx="15.3" ry="15.8" fill="url(#gb)" opacity="0.31" transform="rotate(26 142.9 256.2)"/><ellipse cx="183.7" cy="255.2" rx="19.5" ry="22.0" fill="url(#gh)" opacity="0.18"/><ellipse cx="182.2" cy="247.7" rx="7.5" ry="9.0" fill="url(#gw)" opacity="0.19"/><ellipse cx="183.7" cy="256.7" rx="15.1" ry="15.6" fill="url(#gb)" opacity="0.32" transform="rotate(-24 183.7 256.7)"/><ellipse cx="224.1" cy="254.2" rx="19.5" ry="22.0" fill="url(#gh)" opacity="0.18"/><ellipse cx="222.6" cy="246.7" rx="7.5" ry="9.0" fill="url(#gw)" opacity="0.19"/><ellipse cx="224.1" cy="255.7" rx="13.8" ry="14.3" fill="url(#gb)" opacity="0.48" transform="rotate(-19 224.1 255.7)"/><ellipse cx="263.5" cy="254.9" rx="19.5" ry="22.0" fill="url(#gh)" opacity="0.18"/><ellipse cx="262.0" cy="247.4" rx="7.5" ry="9.0" fill="url(#gw)" opacity="0.19"/><ellipse cx="263.5" cy="256.4" rx="14.8" ry="15.3" fill="url(#gb)" opacity="0.46" transform="rotate(26 263.5 256.4)"/><ellipse cx="4.2" cy="256.0" rx="8.0" ry="13.0" fill="url(#gk)" opacity="0.41"/><ellipse cx="44.0" cy="253.0" rx="8.0" ry="13.0" fill="url(#gk)" opacity="0.49"/><ellipse cx="86.8" cy="261.1" rx="8.0" ry="13.0" fill="url(#gk)" opacity="0.22"/><ellipse cx="127.5" cy="251.1" rx="8.0" ry="13.0" fill="url(#gk)" opacity="0.33"/><ellipse cx="205.6" cy="254.0" rx="8.0" ry="13.0" fill="url(#gk)" opacity="0.49"/>
</g></g>
<rect x="201.8" y="265.9" width="72.0" height="6.0" fill="#fff"/>
<rect x=".6" y=".6" width="289.8" height="283.1" fill="none" stroke="#111" stroke-width="1.2"/>
</svg>
<rect x="1861.2" y="905.4" width="36.4" height="284.4" fill="url(#cb905)" stroke="#000" stroke-width="1.3"/>
<path d="M1897.6,927.7h5.5" stroke="#000" stroke-width="1.4"/>
<text x="1911.6" y="935.3" font-family="'DejaVu Sans', sans-serif" font-size="20.7" text-anchor="start" fill="#222">2</text>
<path d="M1897.6,1012.8h5.5" stroke="#000" stroke-width="1.4"/>
<text x="1911.6" y="1020.4" font-family="'DejaVu Sans', sans-serif" font-size="20.7" text-anchor="start" fill="#222">1</text>
<path d="M1897.6,1097.2h5.5" stroke="#000" stroke-width="1.4"/>
<text x="1911.6" y="1104.8" font-family="'DejaVu Sans', sans-serif" font-size="20.7" text-anchor="start" fill="#222">0</text>
<path d="M1897.6,1182.3h5.5" stroke="#000" stroke-width="1.4"/>
<text x="1911.6" y="1189.9" font-family="'DejaVu Sans', sans-serif" font-size="20.7" text-anchor="start" fill="#222">−1</text>
<text x="1967.5" y="1049.0" font-family="'DejaVu Sans', sans-serif" font-size="20.7" text-anchor="middle" fill="#222" transform="rotate(-90 1967.5 1049.0)">Phase (rad)</text>
<rect x="59.3" y="1214.2" width="290.3" height="194.6" fill="#020006"/>
<rect x="131.9" y="1242.0" width="147.0" height="143.0" fill="none" stroke="#c4100c" stroke-width="3"/>
<rect x="206.0" y="1241.6" width="73.2" height="143.6" fill="#fff"/>
<clipPath id="cw0"><rect x="206.0" y="1241.6" width="73.2" height="143.6"/></clipPath>
<g clip-path="url(#cw0)">
<path d="M242.3,1241.6V1385.2 M206.0,1278.8H279.2 M206.0,1349.4H279.2 M206.0,1313.9H279.2" stroke="#f0f0f3" stroke-width="1" fill="none"/>
<rect x="206.0" y="1278.8" width="36.3" height="70.6" fill="#d2d2d2"/>
<circle cx="207.2" cy="1313.9" r="1.3" fill="#2a9a2a"/>
</g>
<path d="M206.0,1241.1H279.8V1385.9H206.0" fill="none" stroke="#d23a34" stroke-width="1.1" opacity=".85"/>
<circle cx="204.4" cy="1313.9" r="1.2" fill="#e06060"/>
<path d="M131.9,1254.0V1373.0" stroke="#fff" stroke-width="2.4"/>
<path d="M131.9,1242.5l10,19.5h-20z M131.9,1384.5l10,-19.5h-20z" fill="#fff"/>
<text x="121.5" y="1352.3" font-family="'Liberation Sans', sans-serif" font-size="22" text-anchor="start" fill="#fff" textLength="75.7" lengthAdjust="spacingAndGlyphs" transform="rotate(-90 121.5 1352.3)">3.04 nm</text>
<use href="#house" x="294.0" y="1271.0" width="36.2" height="30"/>
<text x="287.0" y="1331.8" font-family="'Liberation Sans', sans-serif" font-size="20.5" text-anchor="start" fill="#fff" textLength="56.5" lengthAdjust="spacingAndGlyphs">100 %</text>
<use href="#thumb2" x="64.1" y="1219.0" width="40" height="41.5"/>
<rect x="357.9" y="1214.2" width="290.9" height="194.6" fill="#020006"/>
<clipPath id="ce1"><rect x="432.0" y="1240.0" width="70.8" height="144.0"/></clipPath>
<ellipse cx="502.8" cy="1313.2" rx="15.5" ry="17" fill="url(#pr2)" clip-path="url(#ce1)"/>
<rect x="432.0" y="1240.0" width="146.7" height="144.0" fill="none" stroke="#c4100c" stroke-width="3"/>
<rect x="502.8" y="1239.6" width="76.2" height="144.6" fill="#fff"/>
<clipPath id="cw1"><rect x="502.8" y="1239.6" width="76.2" height="144.6"/></clipPath>
<g clip-path="url(#cw1)">
<path d="M540.0,1239.6V1384.2 M502.8,1276.9H579.0 M502.8,1348.6H579.0 M502.8,1313.2H579.0" stroke="#f0f0f3" stroke-width="1" fill="none"/>
<rect x="502.8" y="1276.9" width="37.2" height="71.7" fill="#d2d2d2"/>
<ellipse cx="502.8" cy="1313.2" rx="16.0" ry="15.8" fill="#108a18" opacity="0.38"/>
<ellipse cx="502.8" cy="1313.2" rx="14.4" ry="14.2" fill="#108a18" opacity="0.35"/>
<ellipse cx="502.8" cy="1313.2" rx="12.5" ry="12.3" fill="#108a18" opacity="0.45"/>
<ellipse cx="502.8" cy="1313.2" rx="9.9" ry="9.8" fill="#108a18" opacity="0.55"/>
<ellipse cx="502.8" cy="1313.2" rx="6.7" ry="6.6" fill="#108a18" opacity="0.6"/>
</g>
<path d="M502.8,1239.1H579.6V1384.9H502.8" fill="none" stroke="#d23a34" stroke-width="1.1" opacity=".85"/>
<path d="M432.0,1252.0V1372.0" stroke="#fff" stroke-width="2.4"/>
<path d="M432.0,1240.5l10,19.5h-20z M432.0,1383.5l10,-19.5h-20z" fill="#fff"/>
<text x="422.0" y="1350.8" font-family="'Liberation Sans', sans-serif" font-size="22" text-anchor="start" fill="#fff" textLength="75.7" lengthAdjust="spacingAndGlyphs" transform="rotate(-90 422.0 1350.8)">0.38 nm</text>
<use href="#house" x="592.9" y="1270.8" width="36.2" height="30"/>
<text x="584.5" y="1331.8" font-family="'Liberation Sans', sans-serif" font-size="20.5" text-anchor="start" fill="#fff" textLength="56.4" lengthAdjust="spacingAndGlyphs">100 %</text>
<use href="#thumb2" x="362.7" y="1219.0" width="40" height="41.5"/>
<rect x="658.0" y="1214.2" width="290.3" height="194.6" fill="#020006"/>
<rect x="794.0" y="1271.9" width="7.2" height="7.2" fill="#0a051c"/><rect x="800.9" y="1271.9" width="7.2" height="7.2" fill="#0e0727"/><rect x="807.8" y="1271.9" width="0.5" height="7.2" fill="#10082b"/><rect x="787.1" y="1278.8" width="7.2" height="7.2" fill="#10082b"/><rect x="794.0" y="1278.8" width="7.2" height="7.2" fill="#240b48"/><rect x="800.9" y="1278.8" width="7.2" height="7.2" fill="#3d0a63"/><rect x="807.8" y="1278.8" width="0.5" height="7.2" fill="#470c69"/><rect x="780.2" y="1285.7" width="7.2" height="7.2" fill="#10082b"/><rect x="787.1" y="1285.7" width="7.2" height="7.2" fill="#340a59"/><rect x="794.0" y="1285.7" width="7.2" height="7.2" fill="#6c186e"/><rect x="800.9" y="1285.7" width="7.2" height="7.2" fill="#a12c61"/><rect x="807.8" y="1285.7" width="0.5" height="7.2" fill="#b33358"/><rect x="773.3" y="1292.6" width="7.2" height="7.2" fill="#0a051c"/><rect x="780.2" y="1292.6" width="7.2" height="7.2" fill="#240b48"/><rect x="787.1" y="1292.6" width="7.2" height="7.2" fill="#6c186e"/><rect x="794.0" y="1292.6" width="7.2" height="7.2" fill="#c33d4e"/><rect x="800.9" y="1292.6" width="7.2" height="7.2" fill="#ee6f20"/><rect x="807.8" y="1292.6" width="0.5" height="7.2" fill="#f78a13"/><rect x="773.3" y="1299.5" width="7.2" height="7.2" fill="#0e0727"/><rect x="780.2" y="1299.5" width="7.2" height="7.2" fill="#3d0a63"/><rect x="787.1" y="1299.5" width="7.2" height="7.2" fill="#a12c61"/><rect x="794.0" y="1299.5" width="7.2" height="7.2" fill="#ee6f20"/><rect x="800.9" y="1299.5" width="7.2" height="7.2" fill="#f7ce3b"/><rect x="807.8" y="1299.5" width="0.5" height="7.2" fill="#faf080"/><rect x="773.3" y="1306.4" width="7.2" height="7.2" fill="#10082b"/><rect x="780.2" y="1306.4" width="7.2" height="7.2" fill="#470c69"/><rect x="787.1" y="1306.4" width="7.2" height="7.2" fill="#b33358"/><rect x="794.0" y="1306.4" width="7.2" height="7.2" fill="#f78a13"/><rect x="800.9" y="1306.4" width="7.2" height="7.2" fill="#faf080"/><rect x="807.8" y="1306.4" width="0.5" height="7.2" fill="#fcffa4"/><rect x="773.3" y="1313.3" width="7.2" height="7.2" fill="#0e0727"/><rect x="780.2" y="1313.3" width="7.2" height="7.2" fill="#3d0a63"/><rect x="787.1" y="1313.3" width="7.2" height="7.2" fill="#a12c61"/><rect x="794.0" y="1313.3" width="7.2" height="7.2" fill="#ee6f20"/><rect x="800.9" y="1313.3" width="7.2" height="7.2" fill="#f7ce3b"/><rect x="807.8" y="1313.3" width="0.5" height="7.2" fill="#faf080"/><rect x="773.3" y="1320.2" width="7.2" height="7.2" fill="#0a051c"/><rect x="780.2" y="1320.2" width="7.2" height="7.2" fill="#240b48"/><rect x="787.1" y="1320.2" width="7.2" height="7.2" fill="#6c186e"/><rect x="794.0" y="1320.2" width="7.2" height="7.2" fill="#c33d4e"/><rect x="800.9" y="1320.2" width="7.2" height="7.2" fill="#ee6f20"/><rect x="807.8" y="1320.2" width="0.5" height="7.2" fill="#f78a13"/><rect x="780.2" y="1327.1" width="7.2" height="7.2" fill="#10082b"/><rect x="787.1" y="1327.1" width="7.2" height="7.2" fill="#340a59"/><rect x="794.0" y="1327.1" width="7.2" height="7.2" fill="#6c186e"/><rect x="800.9" y="1327.1" width="7.2" height="7.2" fill="#a12c61"/><rect x="807.8" y="1327.1" width="0.5" height="7.2" fill="#b33358"/><rect x="787.1" y="1334.0" width="7.2" height="7.2" fill="#10082b"/><rect x="794.0" y="1334.0" width="7.2" height="7.2" fill="#240b48"/><rect x="800.9" y="1334.0" width="7.2" height="7.2" fill="#3d0a63"/><rect x="807.8" y="1334.0" width="0.5" height="7.2" fill="#470c69"/><rect x="794.0" y="1340.9" width="7.2" height="7.2" fill="#0a051c"/><rect x="800.9" y="1340.9" width="7.2" height="7.2" fill="#0e0727"/><rect x="807.8" y="1340.9" width="0.5" height="7.2" fill="#10082b"/>
<rect x="733.6" y="1237.5" width="147.0" height="144.2" fill="none" stroke="#c4100c" stroke-width="3"/>
<rect x="808.1" y="1237.1" width="72.8" height="144.8" fill="#fff"/>
<clipPath id="cw2"><rect x="808.1" y="1237.1" width="72.8" height="144.8"/></clipPath>
<g clip-path="url(#cw2)">
<path d="M844.2,1237.1V1381.9 M808.1,1274.0H880.9 M808.1,1345.6H880.9 M808.1,1309.7H880.9" stroke="#f0f0f3" stroke-width="1" fill="none"/>
<rect x="808.1" y="1274.0" width="36.1" height="71.6" fill="#d2d2d2"/>
<ellipse cx="808.1" cy="1309.7" rx="30.0" ry="29.6" fill="#108a18" opacity="0.38"/>
<ellipse cx="808.1" cy="1309.7" rx="27.0" ry="26.6" fill="#108a18" opacity="0.35"/>
<ellipse cx="808.1" cy="1309.7" rx="23.4" ry="23.0" fill="#108a18" opacity="0.45"/>
<ellipse cx="808.1" cy="1309.7" rx="18.6" ry="18.3" fill="#108a18" opacity="0.55"/>
<ellipse cx="808.1" cy="1309.7" rx="12.6" ry="12.4" fill="#108a18" opacity="0.6"/>
</g>
<path d="M808.1,1236.6H881.5V1382.6H808.1" fill="none" stroke="#d23a34" stroke-width="1.1" opacity=".85"/>
<path d="M733.6,1249.5V1369.7" stroke="#fff" stroke-width="2.4"/>
<path d="M733.6,1238.0l10,19.5h-20z M733.6,1381.2l10,-19.5h-20z" fill="#fff"/>
<text x="723.5" y="1348.4" font-family="'Liberation Sans', sans-serif" font-size="22" text-anchor="start" fill="#fff" textLength="75.7" lengthAdjust="spacingAndGlyphs" transform="rotate(-90 723.5 1348.4)">0.19 nm</text>
<use href="#house" x="896.0" y="1270.8" width="36.2" height="30"/>
<text x="886.5" y="1331.8" font-family="'Liberation Sans', sans-serif" font-size="20.5" text-anchor="start" fill="#fff" textLength="55.8" lengthAdjust="spacingAndGlyphs">100 %</text>
<use href="#thumb2" x="662.8" y="1219.0" width="40" height="41.5"/>
<rect x="958.0" y="1214.2" width="291.3" height="194.6" fill="#020006"/>
<rect x="1081.6" y="1259.4" width="11.2" height="11.2" fill="#0d0622"/><rect x="1092.5" y="1259.4" width="11.2" height="11.2" fill="#140a35"/><rect x="1103.4" y="1259.4" width="7.0" height="11.2" fill="#1a0b3d"/><rect x="1070.7" y="1270.3" width="11.2" height="11.2" fill="#11092e"/><rect x="1081.6" y="1270.3" width="11.2" height="11.2" fill="#370a5c"/><rect x="1092.5" y="1270.3" width="11.2" height="11.2" fill="#63156d"/><rect x="1103.4" y="1270.3" width="7.0" height="11.2" fill="#771c6c"/><rect x="1059.8" y="1281.2" width="11.2" height="11.2" fill="#0d0622"/><rect x="1070.7" y="1281.2" width="11.2" height="11.2" fill="#370a5c"/><rect x="1081.6" y="1281.2" width="11.2" height="11.2" fill="#8f2568"/><rect x="1092.5" y="1281.2" width="11.2" height="11.2" fill="#d64c3f"/><rect x="1103.4" y="1281.2" width="7.0" height="11.2" fill="#e96529"/><rect x="1059.8" y="1292.1" width="11.2" height="11.2" fill="#140a35"/><rect x="1070.7" y="1292.1" width="11.2" height="11.2" fill="#63156d"/><rect x="1081.6" y="1292.1" width="11.2" height="11.2" fill="#d64c3f"/><rect x="1092.5" y="1292.1" width="11.2" height="11.2" fill="#fab31b"/><rect x="1103.4" y="1292.1" width="7.0" height="11.2" fill="#f8e464"/><rect x="1059.8" y="1303.0" width="11.2" height="11.2" fill="#1a0b3d"/><rect x="1070.7" y="1303.0" width="11.2" height="11.2" fill="#771c6c"/><rect x="1081.6" y="1303.0" width="11.2" height="11.2" fill="#e96529"/><rect x="1092.5" y="1303.0" width="11.2" height="11.2" fill="#f8e464"/><rect x="1103.4" y="1303.0" width="7.0" height="11.2" fill="#fcffa4"/><rect x="1059.8" y="1313.9" width="11.2" height="11.2" fill="#140a35"/><rect x="1070.7" y="1313.9" width="11.2" height="11.2" fill="#63156d"/><rect x="1081.6" y="1313.9" width="11.2" height="11.2" fill="#d64c3f"/><rect x="1092.5" y="1313.9" width="11.2" height="11.2" fill="#fab31b"/><rect x="1103.4" y="1313.9" width="7.0" height="11.2" fill="#f8e464"/><rect x="1059.8" y="1324.8" width="11.2" height="11.2" fill="#0d0622"/><rect x="1070.7" y="1324.8" width="11.2" height="11.2" fill="#370a5c"/><rect x="1081.6" y="1324.8" width="11.2" height="11.2" fill="#8f2568"/><rect x="1092.5" y="1324.8" width="11.2" height="11.2" fill="#d64c3f"/><rect x="1103.4" y="1324.8" width="7.0" height="11.2" fill="#e96529"/><rect x="1070.7" y="1335.7" width="11.2" height="11.2" fill="#11092e"/><rect x="1081.6" y="1335.7" width="11.2" height="11.2" fill="#370a5c"/><rect x="1092.5" y="1335.7" width="11.2" height="11.2" fill="#63156d"/><rect x="1103.4" y="1335.7" width="7.0" height="11.2" fill="#771c6c"/><rect x="1081.6" y="1346.6" width="11.2" height="11.2" fill="#0d0622"/><rect x="1092.5" y="1346.6" width="11.2" height="11.2" fill="#140a35"/><rect x="1103.4" y="1346.6" width="7.0" height="11.2" fill="#1a0b3d"/>
<rect x="1036.7" y="1235.6" width="146.4" height="144.4" fill="none" stroke="#c4100c" stroke-width="3"/>
<rect x="1110.2" y="1235.2" width="73.2" height="145.0" fill="#fff"/>
<clipPath id="cw3"><rect x="1110.2" y="1235.2" width="73.2" height="145.0"/></clipPath>
<g clip-path="url(#cw3)">
<path d="M1146.7,1235.2V1380.2 M1110.2,1273.0H1183.4 M1110.2,1345.2H1183.4 M1110.2,1309.1H1183.4" stroke="#f0f0f3" stroke-width="1" fill="none"/>
<rect x="1110.2" y="1273.0" width="36.5" height="72.2" fill="#d2d2d2"/>
<ellipse cx="1110.2" cy="1309.1" rx="45.2" ry="44.5" fill="#f7a61a" opacity="0.42"/>
<ellipse cx="1110.2" cy="1309.1" rx="41.1" ry="40.5" fill="#f7a61a" opacity="0.24"/>
<ellipse cx="1110.2" cy="1309.1" rx="37.1" ry="36.5" fill="#f7a61a" opacity="0.24"/>
<ellipse cx="1110.2" cy="1309.1" rx="31.6" ry="31.2" fill="#f7a61a" opacity="0.24"/>
<ellipse cx="1110.2" cy="1309.1" rx="24.9" ry="24.5" fill="#f7a61a" opacity="0.24"/>
<ellipse cx="1110.2" cy="1309.1" rx="17.2" ry="16.9" fill="#f7a61a" opacity="0.24"/>
</g>
<path d="M1110.2,1234.7H1184.0V1380.9H1110.2" fill="none" stroke="#d23a34" stroke-width="1.1" opacity=".85"/>
<path d="M1036.7,1247.6V1368.0" stroke="#fff" stroke-width="2.4"/>
<path d="M1036.7,1236.1l10,19.5h-20z M1036.7,1379.5l10,-19.5h-20z" fill="#fff"/>
<text x="1025.5" y="1346.6" font-family="'Liberation Sans', sans-serif" font-size="22" text-anchor="start" fill="#fff" textLength="75.7" lengthAdjust="spacingAndGlyphs" transform="rotate(-90 1025.5 1346.6)">0.13 nm</text>
<use href="#house" x="1198.0" y="1270.8" width="36.2" height="30"/>
<text x="1185.4" y="1331.8" font-family="'Liberation Sans', sans-serif" font-size="20.5" text-anchor="start" fill="#fff" textLength="61.6" lengthAdjust="spacingAndGlyphs">99.9 %</text>
<use href="#thumb2" x="962.8" y="1219.0" width="40" height="41.5"/>
<rect x="1259.3" y="1214.2" width="291.0" height="194.6" fill="#020006"/>
<rect x="1381.5" y="1230.8" width="15.5" height="15.5" fill="#060312"/><rect x="1396.7" y="1230.8" width="15.5" height="15.5" fill="#080418"/><rect x="1411.9" y="1230.8" width="15.5" height="15.5" fill="#080418"/><rect x="1427.1" y="1230.8" width="15.5" height="15.5" fill="#060312"/><rect x="1366.3" y="1246.0" width="15.5" height="15.5" fill="#0c0620"/><rect x="1381.5" y="1246.0" width="15.5" height="15.5" fill="#190b3d"/><rect x="1396.7" y="1246.0" width="15.5" height="15.5" fill="#2e0a52"/><rect x="1411.9" y="1246.0" width="15.5" height="15.5" fill="#2e0a52"/><rect x="1427.1" y="1246.0" width="15.5" height="15.5" fill="#190b3d"/><rect x="1442.3" y="1246.0" width="15.5" height="15.5" fill="#0c0620"/><rect x="1351.1" y="1261.2" width="15.5" height="15.5" fill="#0c0620"/><rect x="1366.3" y="1261.2" width="15.5" height="15.5" fill="#2e0a52"/><rect x="1381.5" y="1261.2" width="15.5" height="15.5" fill="#6f196d"/><rect x="1396.7" y="1261.2" width="15.5" height="15.5" fill="#a62e5e"/><rect x="1411.9" y="1261.2" width="15.5" height="15.5" fill="#a62e5e"/><rect x="1427.1" y="1261.2" width="15.5" height="15.5" fill="#6f196d"/><rect x="1442.3" y="1261.2" width="15.5" height="15.5" fill="#2e0a52"/><rect x="1457.5" y="1261.2" width="15.5" height="15.5" fill="#0c0620"/><rect x="1335.9" y="1276.4" width="15.5" height="15.5" fill="#060312"/><rect x="1351.1" y="1276.4" width="15.5" height="15.5" fill="#190b3d"/><rect x="1366.3" y="1276.4" width="15.5" height="15.5" fill="#6f196d"/><rect x="1381.5" y="1276.4" width="15.5" height="15.5" fill="#d74c3f"/><rect x="1396.7" y="1276.4" width="15.5" height="15.5" fill="#f89111"/><rect x="1411.9" y="1276.4" width="15.5" height="15.5" fill="#f89111"/><rect x="1427.1" y="1276.4" width="15.5" height="15.5" fill="#d74c3f"/><rect x="1442.3" y="1276.4" width="15.5" height="15.5" fill="#6f196d"/><rect x="1457.5" y="1276.4" width="15.5" height="15.5" fill="#190b3d"/><rect x="1472.7" y="1276.4" width="15.5" height="15.5" fill="#060312"/><rect x="1335.9" y="1291.6" width="15.5" height="15.5" fill="#080418"/><rect x="1351.1" y="1291.6" width="15.5" height="15.5" fill="#2e0a52"/><rect x="1366.3" y="1291.6" width="15.5" height="15.5" fill="#a62e5e"/><rect x="1381.5" y="1291.6" width="15.5" height="15.5" fill="#f89111"/><rect x="1396.7" y="1291.6" width="15.5" height="15.5" fill="#fbf894"/><rect x="1411.9" y="1291.6" width="15.5" height="15.5" fill="#fbf894"/><rect x="1427.1" y="1291.6" width="15.5" height="15.5" fill="#f89111"/><rect x="1442.3" y="1291.6" width="15.5" height="15.5" fill="#a62e5e"/><rect x="1457.5" y="1291.6" width="15.5" height="15.5" fill="#2e0a52"/><rect x="1472.7" y="1291.6" width="15.5" height="15.5" fill="#080418"/><rect x="1335.9" y="1306.8" width="15.5" height="15.5" fill="#080418"/><rect x="1351.1" y="1306.8" width="15.5" height="15.5" fill="#2e0a52"/><rect x="1366.3" y="1306.8" width="15.5" height="15.5" fill="#a62e5e"/><rect x="1381.5" y="1306.8" width="15.5" height="15.5" fill="#f89111"/><rect x="1396.7" y="1306.8" width="15.5" height="15.5" fill="#fbf894"/><rect x="1411.9" y="1306.8" width="15.5" height="15.5" fill="#fbf894"/><rect x="1427.1" y="1306.8" width="15.5" height="15.5" fill="#f89111"/><rect x="1442.3" y="1306.8" width="15.5" height="15.5" fill="#a62e5e"/><rect x="1457.5" y="1306.8" width="15.5" height="15.5" fill="#2e0a52"/><rect x="1472.7" y="1306.8" width="15.5" height="15.5" fill="#080418"/><rect x="1335.9" y="1322.0" width="15.5" height="15.5" fill="#060312"/><rect x="1351.1" y="1322.0" width="15.5" height="15.5" fill="#190b3d"/><rect x="1366.3" y="1322.0" width="15.5" height="15.5" fill="#6f196d"/><rect x="1381.5" y="1322.0" width="15.5" height="15.5" fill="#d74c3f"/><rect x="1396.7" y="1322.0" width="15.5" height="15.5" fill="#f89111"/><rect x="1411.9" y="1322.0" width="15.5" height="15.5" fill="#f89111"/><rect x="1427.1" y="1322.0" width="15.5" height="15.5" fill="#d74c3f"/><rect x="1442.3" y="1322.0" width="15.5" height="15.5" fill="#6f196d"/><rect x="1457.5" y="1322.0" width="15.5" height="15.5" fill="#190b3d"/><rect x="1472.7" y="1322.0" width="15.5" height="15.5" fill="#060312"/><rect x="1351.1" y="1337.2" width="15.5" height="15.5" fill="#0c0620"/><rect x="1366.3" y="1337.2" width="15.5" height="15.5" fill="#2e0a52"/><rect x="1381.5" y="1337.2" width="15.5" height="15.5" fill="#6f196d"/><rect x="1396.7" y="1337.2" width="15.5" height="15.5" fill="#a62e5e"/><rect x="1411.9" y="1337.2" width="15.5" height="15.5" fill="#a62e5e"/><rect x="1427.1" y="1337.2" width="15.5" height="15.5" fill="#6f196d"/><rect x="1442.3" y="1337.2" width="15.5" height="15.5" fill="#2e0a52"/><rect x="1457.5" y="1337.2" width="15.5" height="15.5" fill="#0c0620"/><rect x="1366.3" y="1352.4" width="15.5" height="15.5" fill="#0c0620"/><rect x="1381.5" y="1352.4" width="15.5" height="15.5" fill="#190b3d"/><rect x="1396.7" y="1352.4" width="15.5" height="15.5" fill="#2e0a52"/><rect x="1411.9" y="1352.4" width="15.5" height="15.5" fill="#2e0a52"/><rect x="1427.1" y="1352.4" width="15.5" height="15.5" fill="#190b3d"/><rect x="1442.3" y="1352.4" width="15.5" height="15.5" fill="#0c0620"/><rect x="1381.5" y="1367.6" width="15.5" height="15.5" fill="#060312"/><rect x="1396.7" y="1367.6" width="15.5" height="15.5" fill="#080418"/><rect x="1411.9" y="1367.6" width="15.5" height="15.5" fill="#080418"/><rect x="1427.1" y="1367.6" width="15.5" height="15.5" fill="#060312"/>
<rect x="1343.3" y="1236.5" width="139.8" height="137.4" fill="none" stroke="#c4100c" stroke-width="3"/>
<rect x="1412.1" y="1237.9" width="69.7" height="134.4" fill="#fff"/>
<clipPath id="cw4"><rect x="1412.1" y="1237.9" width="69.7" height="134.4"/></clipPath>
<g clip-path="url(#cw4)">
<path d="M1447.0,1237.9V1372.3 M1412.1,1273.6H1481.8 M1412.1,1340.8H1481.8 M1412.1,1307.2H1481.8" stroke="#f0f0f3" stroke-width="1" fill="none"/>
<rect x="1412.1" y="1273.6" width="34.9" height="67.2" fill="#d2d2d2"/>
<ellipse cx="1412.1" cy="1307.2" rx="57.5" ry="56.6" fill="#f7a61a" opacity="0.42"/>
<ellipse cx="1412.1" cy="1307.2" rx="52.3" ry="51.5" fill="#f7a61a" opacity="0.24"/>
<ellipse cx="1412.1" cy="1307.2" rx="47.1" ry="46.4" fill="#f7a61a" opacity="0.24"/>
<ellipse cx="1412.1" cy="1307.2" rx="40.2" ry="39.6" fill="#f7a61a" opacity="0.24"/>
<ellipse cx="1412.1" cy="1307.2" rx="31.6" ry="31.2" fill="#f7a61a" opacity="0.24"/>
<ellipse cx="1412.1" cy="1307.2" rx="21.9" ry="21.5" fill="#f7a61a" opacity="0.24"/>
</g>
<path d="M1343.3,1248.5V1361.9" stroke="#fff" stroke-width="2.4"/>
<path d="M1343.3,1237.0l10,19.5h-20z M1343.3,1373.4l10,-19.5h-20z" fill="#fff"/>
<text x="1332.0" y="1344.0" font-family="'Liberation Sans', sans-serif" font-size="22" text-anchor="start" fill="#fff" textLength="75.7" lengthAdjust="spacingAndGlyphs" transform="rotate(-90 1332.0 1344.0)">0.09 nm</text>
<use href="#house" x="1497.5" y="1270.8" width="36.2" height="30"/>
<text x="1486.5" y="1331.8" font-family="'Liberation Sans', sans-serif" font-size="20.5" text-anchor="start" fill="#fff" textLength="61.7" lengthAdjust="spacingAndGlyphs">98.8 %</text>
<use href="#thumb2" x="1264.1" y="1219.0" width="40" height="41.5"/>
<rect x="1559.0" y="1214.2" width="291.2" height="194.6" fill="#020006"/>
<rect x="1625.8" y="1214.0" width="22.1" height="22.0" fill="#04020e"/><rect x="1647.7" y="1214.0" width="22.1" height="22.0" fill="#0c0620"/><rect x="1669.5" y="1214.0" width="22.1" height="22.0" fill="#190b3d"/><rect x="1691.4" y="1214.0" width="22.1" height="22.0" fill="#2e0a52"/><rect x="1713.2" y="1214.0" width="22.1" height="22.0" fill="#2e0a52"/><rect x="1735.1" y="1214.0" width="22.1" height="22.0" fill="#190b3d"/><rect x="1757.0" y="1214.0" width="22.1" height="22.0" fill="#0c0620"/><rect x="1778.8" y="1214.0" width="22.1" height="22.0" fill="#04020e"/><rect x="1604.0" y="1235.8" width="22.1" height="22.1" fill="#03010b"/><rect x="1625.8" y="1235.8" width="22.1" height="22.1" fill="#0c0620"/><rect x="1647.7" y="1235.8" width="22.1" height="22.1" fill="#2e0a52"/><rect x="1669.5" y="1235.8" width="22.1" height="22.1" fill="#6f196d"/><rect x="1691.4" y="1235.8" width="22.1" height="22.1" fill="#a62e5e"/><rect x="1713.2" y="1235.8" width="22.1" height="22.1" fill="#a62e5e"/><rect x="1735.1" y="1235.8" width="22.1" height="22.1" fill="#6f196d"/><rect x="1757.0" y="1235.8" width="22.1" height="22.1" fill="#2e0a52"/><rect x="1778.8" y="1235.8" width="22.1" height="22.1" fill="#0c0620"/><rect x="1800.7" y="1235.8" width="22.1" height="22.1" fill="#03010b"/><rect x="1604.0" y="1257.6" width="22.1" height="22.1" fill="#060312"/><rect x="1625.8" y="1257.6" width="22.1" height="22.1" fill="#190b3d"/><rect x="1647.7" y="1257.6" width="22.1" height="22.1" fill="#6f196d"/><rect x="1669.5" y="1257.6" width="22.1" height="22.1" fill="#d74c3f"/><rect x="1691.4" y="1257.6" width="22.1" height="22.1" fill="#f89111"/><rect x="1713.2" y="1257.6" width="22.1" height="22.1" fill="#f89111"/><rect x="1735.1" y="1257.6" width="22.1" height="22.1" fill="#d74c3f"/><rect x="1757.0" y="1257.6" width="22.1" height="22.1" fill="#6f196d"/><rect x="1778.8" y="1257.6" width="22.1" height="22.1" fill="#190b3d"/><rect x="1800.7" y="1257.6" width="22.1" height="22.1" fill="#060312"/><rect x="1604.0" y="1279.5" width="22.1" height="22.1" fill="#080418"/><rect x="1625.8" y="1279.5" width="22.1" height="22.1" fill="#2e0a52"/><rect x="1647.7" y="1279.5" width="22.1" height="22.1" fill="#a62e5e"/><rect x="1669.5" y="1279.5" width="22.1" height="22.1" fill="#f89111"/><rect x="1691.4" y="1279.5" width="22.1" height="22.1" fill="#fbf894"/><rect x="1713.2" y="1279.5" width="22.1" height="22.1" fill="#fbf894"/><rect x="1735.1" y="1279.5" width="22.1" height="22.1" fill="#f89111"/><rect x="1757.0" y="1279.5" width="22.1" height="22.1" fill="#a62e5e"/><rect x="1778.8" y="1279.5" width="22.1" height="22.1" fill="#2e0a52"/><rect x="1800.7" y="1279.5" width="22.1" height="22.1" fill="#080418"/><rect x="1604.0" y="1301.3" width="22.1" height="22.1" fill="#080418"/><rect x="1625.8" y="1301.3" width="22.1" height="22.1" fill="#2e0a52"/><rect x="1647.7" y="1301.3" width="22.1" height="22.1" fill="#a62e5e"/><rect x="1669.5" y="1301.3" width="22.1" height="22.1" fill="#f89111"/><rect x="1691.4" y="1301.3" width="22.1" height="22.1" fill="#fbf894"/><rect x="1713.2" y="1301.3" width="22.1" height="22.1" fill="#fbf894"/><rect x="1735.1" y="1301.3" width="22.1" height="22.1" fill="#f89111"/><rect x="1757.0" y="1301.3" width="22.1" height="22.1" fill="#a62e5e"/><rect x="1778.8" y="1301.3" width="22.1" height="22.1" fill="#2e0a52"/><rect x="1800.7" y="1301.3" width="22.1" height="22.1" fill="#080418"/><rect x="1604.0" y="1323.2" width="22.1" height="22.1" fill="#060312"/><rect x="1625.8" y="1323.2" width="22.1" height="22.1" fill="#190b3d"/><rect x="1647.7" y="1323.2" width="22.1" height="22.1" fill="#6f196d"/><rect x="1669.5" y="1323.2" width="22.1" height="22.1" fill="#d74c3f"/><rect x="1691.4" y="1323.2" width="22.1" height="22.1" fill="#f89111"/><rect x="1713.2" y="1323.2" width="22.1" height="22.1" fill="#f89111"/><rect x="1735.1" y="1323.2" width="22.1" height="22.1" fill="#d74c3f"/><rect x="1757.0" y="1323.2" width="22.1" height="22.1" fill="#6f196d"/><rect x="1778.8" y="1323.2" width="22.1" height="22.1" fill="#190b3d"/><rect x="1800.7" y="1323.2" width="22.1" height="22.1" fill="#060312"/><rect x="1604.0" y="1345.0" width="22.1" height="22.1" fill="#03010b"/><rect x="1625.8" y="1345.0" width="22.1" height="22.1" fill="#0c0620"/><rect x="1647.7" y="1345.0" width="22.1" height="22.1" fill="#2e0a52"/><rect x="1669.5" y="1345.0" width="22.1" height="22.1" fill="#6f196d"/><rect x="1691.4" y="1345.0" width="22.1" height="22.1" fill="#a62e5e"/><rect x="1713.2" y="1345.0" width="22.1" height="22.1" fill="#a62e5e"/><rect x="1735.1" y="1345.0" width="22.1" height="22.1" fill="#6f196d"/><rect x="1757.0" y="1345.0" width="22.1" height="22.1" fill="#2e0a52"/><rect x="1778.8" y="1345.0" width="22.1" height="22.1" fill="#0c0620"/><rect x="1800.7" y="1345.0" width="22.1" height="22.1" fill="#03010b"/><rect x="1625.8" y="1366.9" width="22.1" height="22.1" fill="#04020e"/><rect x="1647.7" y="1366.9" width="22.1" height="22.1" fill="#0c0620"/><rect x="1669.5" y="1366.9" width="22.1" height="22.1" fill="#190b3d"/><rect x="1691.4" y="1366.9" width="22.1" height="22.1" fill="#2e0a52"/><rect x="1713.2" y="1366.9" width="22.1" height="22.1" fill="#2e0a52"/><rect x="1735.1" y="1366.9" width="22.1" height="22.1" fill="#190b3d"/><rect x="1757.0" y="1366.9" width="22.1" height="22.1" fill="#0c0620"/><rect x="1778.8" y="1366.9" width="22.1" height="22.1" fill="#04020e"/><rect x="1647.7" y="1388.8" width="22.1" height="20.2" fill="#03010b"/><rect x="1669.5" y="1388.8" width="22.1" height="20.2" fill="#060312"/><rect x="1691.4" y="1388.8" width="22.1" height="20.2" fill="#080418"/><rect x="1713.2" y="1388.8" width="22.1" height="20.2" fill="#080418"/><rect x="1735.1" y="1388.8" width="22.1" height="20.2" fill="#060312"/><rect x="1757.0" y="1388.8" width="22.1" height="20.2" fill="#03010b"/>
<rect x="1647.7" y="1235.4" width="135.3" height="133.8" fill="none" stroke="#c4100c" stroke-width="3"/>
<rect x="1713.4" y="1236.8" width="68.3" height="130.8" fill="#fff"/>
<clipPath id="cw5"><rect x="1713.4" y="1236.8" width="68.3" height="130.8"/></clipPath>
<g clip-path="url(#cw5)">
<path d="M1746.0,1236.8V1367.6 M1713.4,1269.0H1781.7 M1713.4,1334.0H1781.7 M1713.4,1301.5H1781.7" stroke="#f0f0f3" stroke-width="1" fill="none"/>
<rect x="1713.4" y="1269.0" width="32.6" height="65.0" fill="#d8d8d8"/>
<circle cx="1713.4" cy="1301.5" r="83.0" fill="#f61414" opacity="0.4"/>
<circle cx="1713.4" cy="1301.5" r="74.7" fill="#f61414" opacity="0.28"/>
<circle cx="1713.4" cy="1301.5" r="66.4" fill="#f61414" opacity="0.28"/>
<circle cx="1713.4" cy="1301.5" r="58.1" fill="#f61414" opacity="0.3"/>
<circle cx="1713.4" cy="1301.5" r="49.8" fill="#f61414" opacity="0.32"/>
<circle cx="1713.4" cy="1301.5" r="41.5" fill="#f61414" opacity="0.36"/>
<circle cx="1713.4" cy="1301.5" r="33.2" fill="#f61414" opacity="0.4"/>
<circle cx="1713.4" cy="1301.5" r="24.9" fill="#f61414" opacity="0.45"/>
<circle cx="1713.4" cy="1301.5" r="16.6" fill="#f61414" opacity="0.5"/>
</g>
<path d="M1647.7,1247.4V1357.2" stroke="#fff" stroke-width="2.4"/>
<path d="M1647.7,1235.9l10,19.5h-20z M1647.7,1368.7l10,-19.5h-20z" fill="#fff"/>
<text x="1636.5" y="1345.3" font-family="'Liberation Sans', sans-serif" font-size="22" text-anchor="start" fill="#fff" textLength="80.0" lengthAdjust="spacingAndGlyphs" transform="rotate(-90 1636.5 1345.3)">0.06 nm</text>
<use href="#house" x="1797.3" y="1270.8" width="36.2" height="30"/>
<text x="1786.0" y="1330.8" font-family="'Liberation Sans', sans-serif" font-size="20.5" text-anchor="start" fill="#fff" textLength="62.0" lengthAdjust="spacingAndGlyphs">60.7 %</text>
<use href="#thumb2" x="1563.8" y="1219.0" width="40" height="41.5"/>
</svg>
</body></html>
